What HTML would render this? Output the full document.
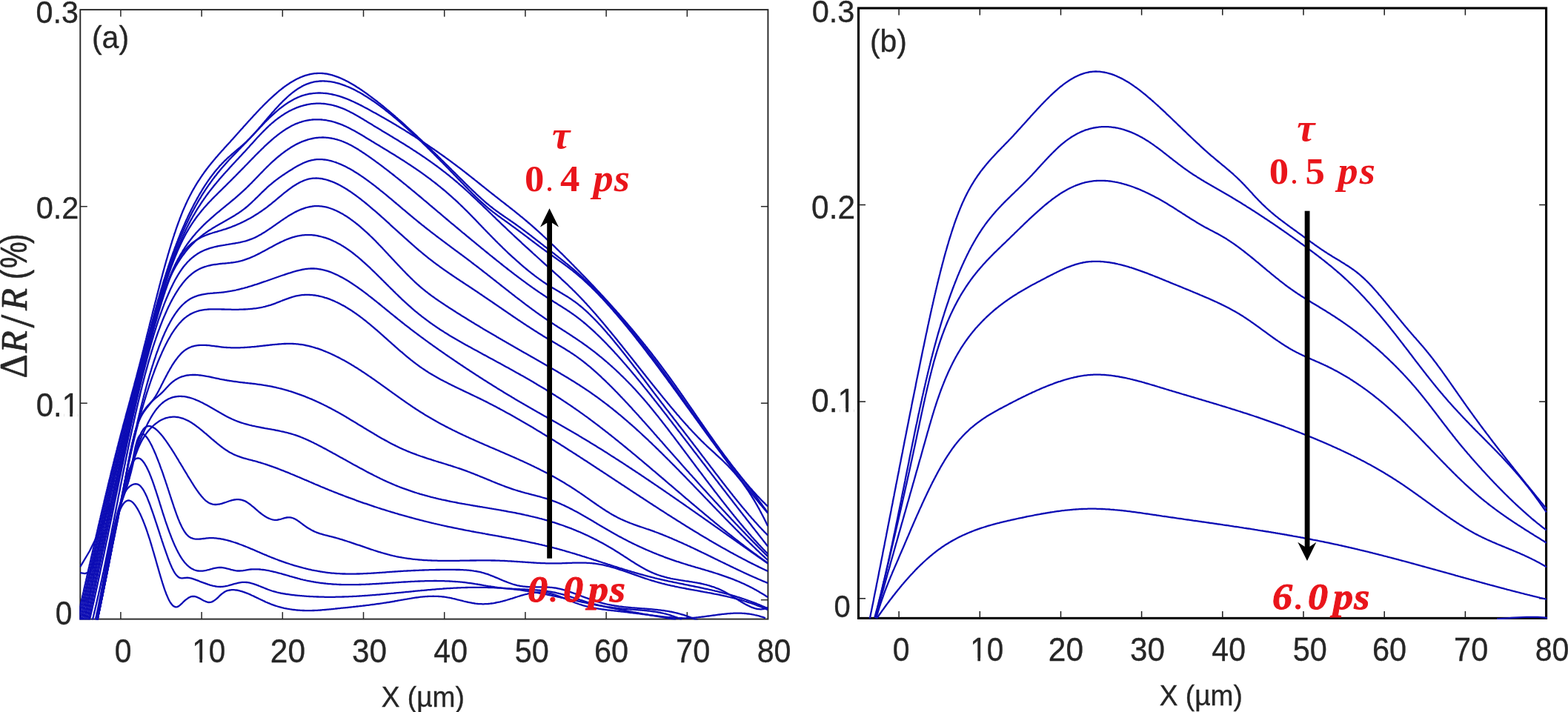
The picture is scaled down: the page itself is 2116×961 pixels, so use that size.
<!DOCTYPE html>
<html lang="en"><head><meta charset="utf-8"><title>Figure</title>
<style>
html,body{margin:0;padding:0;background:#fff;}
body{width:2116px;height:961px;overflow:hidden;position:relative;}
svg{position:absolute;left:0;top:0;display:block;}
text{font-family:"Liberation Sans",sans-serif;fill:#262626;}
.cv{fill:none;stroke:#0c0cb4;stroke-width:2.3;stroke-linejoin:round;stroke-linecap:butt;}
</style></head><body>
<svg width="2116" height="961" viewBox="0 0 2116 961">
<rect width="2116" height="961" fill="#ffffff"/>
<defs><clipPath id="cl"><rect x="107.3" y="13.1" width="929.3" height="823.5"/></clipPath><clipPath id="cr"><rect x="1158.5" y="11.0" width="929.6" height="824.9"/></clipPath></defs>
<rect x="108.3" y="13.1" width="928.1" height="822.5" fill="none" stroke="#262626" stroke-width="1.9"/>
<rect x="1158.5" y="11.0" width="928.1" height="823.4" fill="none" stroke="#000000" stroke-width="3.1"/>
<g stroke="#262626" stroke-width="1.5" fill="none"><line x1="162.9" y1="835.6" x2="162.9" y2="826.1"/><line x1="162.9" y1="13.1" x2="162.9" y2="22.6"/><line x1="272.1" y1="835.6" x2="272.1" y2="826.1"/><line x1="272.1" y1="13.1" x2="272.1" y2="22.6"/><line x1="381.3" y1="835.6" x2="381.3" y2="826.1"/><line x1="381.3" y1="13.1" x2="381.3" y2="22.6"/><line x1="490.5" y1="835.6" x2="490.5" y2="826.1"/><line x1="490.5" y1="13.1" x2="490.5" y2="22.6"/><line x1="599.7" y1="835.6" x2="599.7" y2="826.1"/><line x1="599.7" y1="13.1" x2="599.7" y2="22.6"/><line x1="708.9" y1="835.6" x2="708.9" y2="826.1"/><line x1="708.9" y1="13.1" x2="708.9" y2="22.6"/><line x1="818.1" y1="835.6" x2="818.1" y2="826.1"/><line x1="818.1" y1="13.1" x2="818.1" y2="22.6"/><line x1="927.3" y1="835.6" x2="927.3" y2="826.1"/><line x1="927.3" y1="13.1" x2="927.3" y2="22.6"/><line x1="108.3" y1="809.7" x2="117.8" y2="809.7"/><line x1="1036.4" y1="809.7" x2="1026.9" y2="809.7"/><line x1="108.3" y1="544.2" x2="117.8" y2="544.2"/><line x1="1036.4" y1="544.2" x2="1026.9" y2="544.2"/><line x1="108.3" y1="278.7" x2="117.8" y2="278.7"/><line x1="1036.4" y1="278.7" x2="1026.9" y2="278.7"/></g>
<g stroke="#1a1a1a" stroke-width="1.5" fill="none"><line x1="1213.1" y1="834.4" x2="1213.1" y2="824.9"/><line x1="1213.1" y1="11.0" x2="1213.1" y2="20.5"/><line x1="1322.3" y1="834.4" x2="1322.3" y2="824.9"/><line x1="1322.3" y1="11.0" x2="1322.3" y2="20.5"/><line x1="1431.5" y1="834.4" x2="1431.5" y2="824.9"/><line x1="1431.5" y1="11.0" x2="1431.5" y2="20.5"/><line x1="1540.6" y1="834.4" x2="1540.6" y2="824.9"/><line x1="1540.6" y1="11.0" x2="1540.6" y2="20.5"/><line x1="1649.8" y1="834.4" x2="1649.8" y2="824.9"/><line x1="1649.8" y1="11.0" x2="1649.8" y2="20.5"/><line x1="1759.0" y1="834.4" x2="1759.0" y2="824.9"/><line x1="1759.0" y1="11.0" x2="1759.0" y2="20.5"/><line x1="1868.2" y1="834.4" x2="1868.2" y2="824.9"/><line x1="1868.2" y1="11.0" x2="1868.2" y2="20.5"/><line x1="1977.4" y1="834.4" x2="1977.4" y2="824.9"/><line x1="1977.4" y1="11.0" x2="1977.4" y2="20.5"/><line x1="1158.5" y1="807.8" x2="1168.0" y2="807.8"/><line x1="2086.6" y1="807.8" x2="2077.1" y2="807.8"/><line x1="1158.5" y1="542.1" x2="1168.0" y2="542.1"/><line x1="2086.6" y1="542.1" x2="2077.1" y2="542.1"/><line x1="1158.5" y1="276.5" x2="1168.0" y2="276.5"/><line x1="2086.6" y1="276.5" x2="2077.1" y2="276.5"/></g>
<g class="cv" clip-path="url(#cl)">
<path d="M103.5 839.2L103.8 837.8L104.1 836.3L104.5 834.8L104.8 833.4L105.1 831.9L105.5 830.5L105.8 829.0L106.1 827.5L106.5 826.1L106.8 824.6L107.1 823.1L107.5 821.7L107.8 820.2L108.1 818.7L108.5 817.3L108.8 815.8L109.1 814.3L109.4 812.9L109.8 811.4L110.1 810.0L110.4 808.5L110.8 807.0L111.1 805.6L111.4 804.1L111.8 802.6L112.1 801.2L112.4 799.7L112.8 798.2L113.1 796.8L113.4 795.3L113.7 793.8L114.1 792.4L114.4 790.9L114.7 789.5L115.1 788.0L115.4 786.5L115.7 785.1L116.1 783.6L116.4 782.1L116.7 780.7L117.1 779.2L117.4 777.7L117.7 776.3L118.0 774.8L118.4 773.3L118.7 771.9L119.0 770.4L119.4 768.9L119.7 767.5L120.0 766.0L120.4 764.6L120.7 763.1L121.0 761.6L121.4 760.2L121.7 758.7L122.0 757.2L122.4 755.8L122.7 754.3L123.0 752.8L123.4 751.4L123.7 749.9L124.0 748.4L124.4 747.0L124.7 745.5L125.0 744.1L125.4 742.6L125.7 741.1L126.0 739.7L126.4 738.2L126.7 736.7L127.0 735.3L127.4 733.8L127.7 732.3L128.0 730.9L128.4 729.4L128.7 728.0L129.0 726.5L129.4 725.0L129.7 723.6L130.0 722.1L130.4 720.6L130.7 719.2L131.1 717.7L131.4 716.2L131.7 714.8L132.1 713.3L132.4 711.9L132.7 710.4L133.1 708.9L133.4 707.5L133.8 706.0L134.1 704.5L134.4 703.1L134.8 701.6L135.1 700.2L135.5 698.7L135.8 697.2L136.1 695.8L136.5 694.3L136.8 692.8L137.2 691.4L137.5 689.9L137.8 688.5L138.2 687.0L138.5 685.5L138.9 684.1L139.2 682.6L139.6 681.2L139.9 679.7L140.3 678.2L140.6 676.8L140.9 675.3L141.3 673.8L141.6 672.4L142.0 670.9L142.3 669.5L142.7 668.0L143.0 666.5L143.4 665.1L143.7 663.6L144.1 662.2L144.4 660.7L144.8 659.2L145.1 657.8L145.5 656.3L145.8 654.9L146.2 653.4L146.5 651.9L146.9 650.5L147.2 649.0L147.6 647.6L148.0 646.1L148.3 644.7L148.7 643.2L149.0 641.7L149.4 640.3L149.7 638.8L150.1 637.4L150.5 635.9L150.8 634.4L151.2 633.0L151.5 631.5L151.9 630.1L152.3 628.6L152.6 627.2L153.0 625.7L153.3 624.2L153.7 622.8L154.1 621.3L154.4 619.9L154.8 618.4L155.2 617.0L155.5 615.5L155.9 614.1L156.3 612.6L156.7 611.1L157.0 609.7L157.4 608.2L157.8 606.8L158.1 605.3L158.5 603.9L158.9 602.4L159.3 601.0L159.6 599.5L160.0 598.1L160.4 596.6L160.8 595.1L161.1 593.7L161.5 592.2L161.9 590.8L162.3 589.3L162.7 587.9L163.0 586.4L163.4 585.0L163.8 583.5L164.2 582.1L164.6 580.6L165.0 579.2L165.4 577.7L165.7 576.3L166.1 574.8L166.5 573.4L166.9 571.9L167.3 570.5L167.7 569.0L168.1 567.6L168.5 566.1L168.9 564.7L169.3 563.2L169.6 561.8L170.0 560.3L170.4 558.9L170.8 557.4L171.2 556.0L171.6 554.5L172.0 553.1L172.4 551.6L172.8 550.2L173.2 548.7L173.6 547.3L174.0 545.8L174.4 544.4L174.8 542.9L175.2 541.5L175.6 540.0L175.9 538.6L176.3 537.1L176.7 535.7L177.1 534.2L177.5 532.8L177.9 531.4L178.3 529.9L178.7 528.5L179.1 527.0L179.5 525.6L179.9 524.1L180.3 522.7L180.7 521.2L181.1 519.8L181.4 518.3L181.8 516.9L182.2 515.4L182.6 514.0L183.0 512.5L183.4 511.1L183.8 509.6L184.2 508.2L184.5 506.7L184.9 505.2L185.3 503.8L185.7 502.3L186.1 500.9L186.5 499.4L186.8 498.0L187.2 496.5L187.6 495.1L188.0 493.6L188.3 492.2L188.7 490.7L189.1 489.3L189.5 487.8L189.8 486.4L190.2 484.9L190.6 483.5L191.0 482.0L191.3 480.5L191.7 479.1L192.1 477.6L192.4 476.2L192.8 474.7L193.2 473.3L193.6 471.8L193.9 470.4L194.3 468.9L194.7 467.4L195.0 466.0L195.4 464.5L195.8 463.1L196.1 461.6L196.5 460.2L196.9 458.7L197.2 457.3L197.6 455.8L197.9 454.3L198.3 452.9L198.7 451.4L199.0 450.0L199.4 448.5L199.8 447.1L200.1 445.6L200.5 444.1L200.9 442.7L201.2 441.2L201.6 439.8L201.9 438.3L202.3 436.9L202.7 435.4L203.0 433.9L203.4 432.5L203.8 431.0L204.1 429.6L204.5 428.1L204.9 426.7L205.2 425.2L205.6 423.7L205.9 422.3L206.3 420.8L206.7 419.4L207.0 417.9L207.4 416.5L207.8 415.0L208.1 413.6L208.5 412.1L208.9 410.6L209.2 409.2L209.6 407.7L210.0 406.3L210.4 404.8L210.7 403.4L211.1 401.9L211.5 400.5L211.8 399.0L212.2 397.5L212.6 396.1L213.0 394.6L213.3 393.2L213.7 391.7L214.1 390.3L214.5 388.8L214.8 387.4L215.2 385.9L215.6 384.5L216.0 383.0L216.4 381.6L216.7 380.1L217.1 378.7L217.5 377.2L217.9 375.8L218.3 374.3L218.7 372.9L219.1 371.4L219.4 370.0L219.8 368.5L220.2 367.1L220.6 365.6L221.0 364.2L221.4 362.7L221.8 361.3L222.2 359.8L222.6 358.4L223.0 356.9L223.4 355.5L223.8 354.0L224.2 352.6L224.6 351.1L225.1 349.7L225.5 348.3L225.9 346.8L226.3 345.4L226.7 343.9L227.1 342.5L227.6 341.0L228.0 339.6L228.4 338.2L228.9 336.7L229.3 335.3L229.7 333.9L230.2 332.4L230.6 331.0L231.0 329.5L231.5 328.1L231.9 326.7L232.4 325.2L232.8 323.8L233.3 322.4L233.7 321.0L234.2 319.5L234.7 318.1L235.1 316.7L235.6 315.2L236.1 313.8L236.6 312.4L237.0 311.0L237.5 309.6L238.0 308.1L238.5 306.7L239.0 305.3L239.5 303.9L240.0 302.5L240.5 301.1L241.0 299.6L241.6 298.2L242.1 296.8L242.6 295.4L243.1 294.0L243.7 292.6L244.2 291.2L244.8 289.8L245.3 288.4L245.9 287.0L246.4 285.6L247.0 284.3L247.6 282.9L248.2 281.5L248.8 280.1L249.4 278.7L250.0 277.4L250.6 276.0L251.2 274.6L251.9 273.3L252.5 271.9L253.1 270.5L253.8 269.2L254.5 267.8L255.1 266.5L255.8 265.2L256.5 263.8L257.2 262.5L257.9 261.2L258.6 259.8L259.3 258.5L260.0 257.2L260.8 255.9L261.5 254.6L262.3 253.3L263.0 252.0L263.8 250.7L264.6 249.4L265.3 248.1L266.1 246.9L266.9 245.6L267.7 244.3L268.6 243.1L269.4 241.8L270.2 240.6L271.0 239.3L271.9 238.1L272.7 236.8L273.6 235.6L274.5 234.4L275.3 233.2L276.2 231.9L277.1 230.7L278.0 229.5L278.9 228.3L279.8 227.1L280.7 225.9L281.6 224.8L282.6 223.6L283.5 222.4L284.4 221.2L285.4 220.1L286.3 218.9L287.3 217.7L288.3 216.6L289.2 215.4L290.2 214.3L291.2 213.1L292.1 212.0L293.1 210.9L294.1 209.7L295.1 208.6L296.1 207.5L297.1 206.3L298.1 205.2L299.1 204.1L300.1 203.0L301.1 201.9L302.1 200.8L303.1 199.6L304.1 198.5L305.1 197.4L306.1 196.3L307.1 195.2L308.2 194.1L309.2 193.0L310.2 191.9L311.2 190.8L312.2 189.6L313.2 188.5L314.2 187.4L315.2 186.3L316.2 185.2L317.2 184.1L318.2 182.9L319.2 181.8L320.2 180.7L321.2 179.6L322.2 178.5L323.2 177.3L324.2 176.2L325.2 175.1L326.2 174.0L327.2 172.9L328.2 171.7L329.2 170.6L330.2 169.5L331.2 168.4L332.2 167.3L333.2 166.2L334.2 165.0L335.2 163.9L336.2 162.8L337.3 161.7L338.3 160.6L339.3 159.5L340.3 158.4L341.3 157.3L342.3 156.2L343.3 155.1L344.4 154.0L345.4 152.9L346.4 151.8L347.4 150.7L348.5 149.6L349.5 148.5L350.5 147.4L351.6 146.3L352.6 145.3L353.7 144.2L354.7 143.1L355.8 142.0L356.8 141.0L357.9 139.9L359.0 138.9L360.0 137.8L361.1 136.8L362.2 135.7L363.3 134.7L364.4 133.6L365.5 132.6L366.6 131.6L367.7 130.6L368.8 129.6L369.9 128.6L371.0 127.6L372.2 126.6L373.3 125.6L374.4 124.6L375.6 123.7L376.7 122.7L377.9 121.7L379.1 120.8L380.2 119.9L381.4 119.0L382.6 118.0L383.8 117.1L385.0 116.3L386.3 115.4L387.5 114.5L388.7 113.7L390.0 112.9L391.2 112.0L392.5 111.2L393.8 110.4L395.1 109.7L396.4 108.9L397.7 108.2L399.0 107.5L400.4 106.8L401.7 106.1L403.1 105.5L404.4 104.9L405.8 104.3L407.2 103.7L408.6 103.1L410.0 102.6L411.4 102.1L412.8 101.7L414.3 101.3L415.7 100.9L417.2 100.5L418.7 100.2L420.1 99.9L421.6 99.6L423.1 99.4L424.6 99.2L426.1 99.1L427.6 99.0L429.1 98.9L430.6 98.9L432.1 98.9L433.6 98.9L435.1 99.0L436.6 99.1L438.1 99.3L439.6 99.5L441.0 99.7L442.5 100.0L444.0 100.3L445.4 100.7L446.9 101.0L448.3 101.4L449.8 101.9L451.2 102.3L452.6 102.8L454.1 103.3L455.5 103.8L456.9 104.4L458.2 104.9L459.6 105.5L461.0 106.1L462.4 106.7L463.7 107.4L465.1 108.0L466.4 108.7L467.8 109.4L469.1 110.1L470.4 110.8L471.7 111.5L473.0 112.3L474.3 113.0L475.6 113.8L476.9 114.5L478.2 115.3L479.5 116.1L480.8 116.9L482.0 117.7L483.3 118.5L484.6 119.3L485.8 120.1L487.1 121.0L488.3 121.8L489.5 122.7L490.8 123.5L492.0 124.4L493.2 125.3L494.5 126.1L495.7 127.0L496.9 127.9L498.1 128.8L499.3 129.7L500.5 130.6L501.7 131.5L502.9 132.4L504.1 133.3L505.3 134.2L506.5 135.1L507.7 136.0L508.9 136.9L510.0 137.9L511.2 138.8L512.4 139.7L513.6 140.7L514.7 141.6L515.9 142.5L517.1 143.5L518.2 144.4L519.4 145.4L520.6 146.3L521.7 147.3L522.9 148.3L524.0 149.2L525.2 150.2L526.3 151.2L527.5 152.1L528.6 153.1L529.8 154.1L530.9 155.0L532.0 156.0L533.2 157.0L534.3 158.0L535.4 159.0L536.6 160.0L537.7 161.0L538.8 162.0L539.9 162.9L541.1 163.9L542.2 164.9L543.3 165.9L544.4 166.9L545.5 168.0L546.7 169.0L547.8 170.0L548.9 171.0L550.0 172.0L551.1 173.0L552.2 174.0L553.3 175.0L554.4 176.0L555.5 177.1L556.6 178.1L557.7 179.1L558.8 180.1L559.9 181.2L561.0 182.2L562.1 183.2L563.2 184.2L564.3 185.3L565.4 186.3L566.5 187.3L567.6 188.4L568.7 189.4L569.8 190.4L570.8 191.5L571.9 192.5L573.0 193.5L574.1 194.6L575.2 195.6L576.3 196.6L577.3 197.7L578.4 198.7L579.5 199.8L580.6 200.8L581.7 201.9L582.7 202.9L583.8 204.0L584.9 205.0L586.0 206.0L587.1 207.1L588.1 208.1L589.2 209.2L590.3 210.2L591.3 211.3L592.4 212.3L593.5 213.4L594.6 214.4L595.6 215.5L596.7 216.5L597.8 217.6L598.8 218.7L599.9 219.7L601.0 220.8L602.1 221.8L603.1 222.9L604.2 223.9L605.3 225.0L606.3 226.0L607.4 227.1L608.5 228.1L609.5 229.2L610.6 230.3L611.7 231.3L612.7 232.4L613.8 233.4L614.9 234.5L615.9 235.5L617.0 236.6L618.1 237.7L619.1 238.7L620.2 239.8L621.3 240.8L622.3 241.9L623.4 242.9L624.5 244.0L625.5 245.1L626.6 246.1L627.7 247.2L628.7 248.2L629.8 249.3L630.9 250.3L631.9 251.4L633.0 252.4L634.1 253.5L635.2 254.5L636.3 255.6L637.3 256.6L638.4 257.6L639.5 258.7L640.6 259.7L641.7 260.7L642.8 261.8L643.9 262.8L645.0 263.8L646.1 264.8L647.2 265.8L648.3 266.9L649.4 267.9L650.5 268.9L651.7 269.9L652.8 270.9L653.9 271.8L655.0 272.8L656.2 273.8L657.3 274.8L658.5 275.7L659.6 276.7L660.8 277.6L662.0 278.6L663.2 279.5L664.3 280.4L665.5 281.4L666.7 282.3L667.9 283.2L669.1 284.1L670.3 285.0L671.5 285.8L672.8 286.7L674.0 287.6L675.2 288.5L676.4 289.3L677.7 290.2L678.9 291.0L680.1 291.9L681.4 292.7L682.6 293.6L683.8 294.4L685.1 295.3L686.3 296.1L687.6 297.0L688.8 297.8L690.0 298.7L691.3 299.5L692.5 300.4L693.7 301.3L695.0 302.1L696.2 303.0L697.4 303.9L698.6 304.7L699.8 305.6L701.1 306.5L702.3 307.4L703.5 308.3L704.7 309.2L705.9 310.1L707.1 311.0L708.3 311.9L709.5 312.8L710.7 313.7L711.9 314.6L713.1 315.5L714.3 316.4L715.5 317.3L716.7 318.2L717.8 319.2L719.0 320.1L720.2 321.0L721.4 321.9L722.6 322.8L723.8 323.8L725.0 324.7L726.1 325.6L727.3 326.5L728.5 327.4L729.7 328.4L730.9 329.3L732.1 330.2L733.2 331.1L734.4 332.1L735.6 333.0L736.8 333.9L738.0 334.8L739.2 335.8L740.4 336.7L741.5 337.6L742.7 338.5L743.9 339.5L745.1 340.4L746.3 341.3L747.5 342.2L748.6 343.1L749.8 344.1L751.0 345.0L752.2 345.9L753.4 346.9L754.6 347.8L755.7 348.7L756.9 349.6L758.1 350.6L759.3 351.5L760.4 352.5L761.6 353.4L762.8 354.3L763.9 355.3L765.1 356.2L766.3 357.2L767.4 358.1L768.6 359.1L769.7 360.1L770.9 361.0L772.0 362.0L773.2 363.0L774.3 363.9L775.4 364.9L776.6 365.9L777.7 366.9L778.8 367.9L780.0 368.9L781.1 369.9L782.2 370.9L783.3 371.9L784.4 372.9L785.5 373.9L786.6 374.9L787.7 376.0L788.8 377.0L789.9 378.0L791.0 379.1L792.1 380.1L793.2 381.1L794.3 382.2L795.3 383.2L796.4 384.3L797.5 385.3L798.5 386.4L799.6 387.4L800.7 388.5L801.7 389.6L802.8 390.6L803.8 391.7L804.9 392.8L805.9 393.8L807.0 394.9L808.0 396.0L809.1 397.1L810.1 398.2L811.1 399.3L812.2 400.3L813.2 401.4L814.2 402.5L815.3 403.6L816.3 404.7L817.3 405.8L818.3 406.9L819.3 408.0L820.3 409.1L821.4 410.3L822.4 411.4L823.4 412.5L824.4 413.6L825.4 414.7L826.4 415.8L827.4 417.0L828.4 418.1L829.4 419.2L830.4 420.3L831.3 421.5L832.3 422.6L833.3 423.7L834.3 424.9L835.3 426.0L836.3 427.1L837.2 428.3L838.2 429.4L839.2 430.6L840.2 431.7L841.1 432.9L842.1 434.0L843.1 435.1L844.0 436.3L845.0 437.4L846.0 438.6L846.9 439.8L847.9 440.9L848.8 442.1L849.8 443.2L850.7 444.4L851.7 445.6L852.6 446.7L853.6 447.9L854.5 449.0L855.5 450.2L856.4 451.4L857.4 452.6L858.3 453.7L859.2 454.9L860.2 456.1L861.1 457.2L862.0 458.4L863.0 459.6L863.9 460.8L864.8 461.9L865.8 463.1L866.7 464.3L867.6 465.5L868.5 466.7L869.5 467.9L870.4 469.0L871.3 470.2L872.2 471.4L873.1 472.6L874.1 473.8L875.0 475.0L875.9 476.2L876.8 477.4L877.7 478.6L878.6 479.8L879.5 481.0L880.4 482.2L881.3 483.3L882.2 484.5L883.2 485.7L884.1 486.9L885.0 488.1L885.9 489.3L886.8 490.5L887.7 491.8L888.6 493.0L889.4 494.2L890.3 495.4L891.2 496.6L892.1 497.8L893.0 499.0L893.9 500.2L894.8 501.4L895.7 502.6L896.6 503.8L897.5 505.0L898.3 506.3L899.2 507.5L900.1 508.7L901.0 509.9L901.9 511.1L902.8 512.3L903.6 513.5L904.5 514.8L905.4 516.0L906.3 517.2L907.1 518.4L908.0 519.6L908.9 520.9L909.8 522.1L910.6 523.3L911.5 524.5L912.4 525.7L913.3 527.0L914.1 528.2L915.0 529.4L915.9 530.6L916.7 531.9L917.6 533.1L918.5 534.3L919.3 535.5L920.2 536.8L921.1 538.0L921.9 539.2L922.8 540.4L923.7 541.7L924.5 542.9L925.4 544.1L926.3 545.3L927.1 546.6L928.0 547.8L928.9 549.0L929.7 550.3L930.6 551.5L931.5 552.7L932.3 553.9L933.2 555.2L934.1 556.4L934.9 557.6L935.8 558.8L936.7 560.1L937.5 561.3L938.4 562.5L939.3 563.7L940.2 565.0L941.0 566.2L941.9 567.4L942.8 568.6L943.6 569.8L944.5 571.1L945.4 572.3L946.3 573.5L947.1 574.7L948.0 575.9L948.9 577.2L949.8 578.4L950.6 579.6L951.5 580.8L952.4 582.0L953.3 583.3L954.2 584.5L955.0 585.7L955.9 586.9L956.8 588.1L957.7 589.3L958.6 590.5L959.5 591.7L960.4 592.9L961.3 594.2L962.2 595.4L963.1 596.6L964.0 597.8L964.9 599.0L965.8 600.2L966.7 601.4L967.6 602.6L968.5 603.8L969.4 605.0L970.3 606.2L971.2 607.4L972.1 608.5L973.0 609.7L973.9 610.9L974.8 612.1L975.8 613.3L976.7 614.5L977.6 615.7L978.5 616.9L979.4 618.1L980.4 619.2L981.3 620.4L982.2 621.6L983.1 622.8L984.1 624.0L985.0 625.2L985.9 626.3L986.8 627.5L987.8 628.7L988.7 629.9L989.6 631.1L990.6 632.2L991.5 633.4L992.4 634.6L993.3 635.8L994.3 637.0L995.2 638.1L996.1 639.3L997.1 640.5L998.0 641.7L998.9 642.9L999.8 644.0L1000.8 645.2L1001.7 646.4L1002.6 647.6L1003.6 648.8L1004.5 649.9L1005.4 651.1L1006.3 652.3L1007.3 653.5L1008.2 654.7L1009.1 655.9L1010.0 657.0L1010.9 658.2L1011.9 659.4L1012.8 660.6L1013.7 661.8L1014.6 663.0L1015.5 664.2L1016.4 665.4L1017.3 666.6L1018.3 667.8L1019.2 669.0L1020.1 670.1L1021.0 671.3L1021.9 672.5L1022.8 673.7L1023.7 674.9L1024.6 676.1L1025.5 677.4L1026.4 678.6L1027.3 679.8L1028.2 681.0L1029.0 682.2L1029.9 683.4L1030.8 684.6L1031.7 685.8L1032.6 687.0L1033.5 688.3L1034.3 689.5L1035.2 690.7L1036.1 691.9"/>
<path d="M105.6 839.1L105.9 837.6L106.3 836.2L106.6 834.7L106.9 833.2L107.3 831.8L107.6 830.3L107.9 828.8L108.3 827.4L108.6 825.9L108.9 824.5L109.3 823.0L109.6 821.5L109.9 820.1L110.3 818.6L110.6 817.1L110.9 815.7L111.3 814.2L111.6 812.7L111.9 811.3L112.3 809.8L112.6 808.4L112.9 806.9L113.3 805.4L113.6 804.0L113.9 802.5L114.3 801.0L114.6 799.6L114.9 798.1L115.2 796.6L115.6 795.2L115.9 793.7L116.2 792.2L116.6 790.8L116.9 789.3L117.2 787.8L117.6 786.4L117.9 784.9L118.2 783.5L118.5 782.0L118.9 780.5L119.2 779.1L119.5 777.6L119.9 776.1L120.2 774.7L120.5 773.2L120.8 771.7L121.2 770.3L121.5 768.8L121.8 767.3L122.2 765.9L122.5 764.4L122.8 762.9L123.1 761.5L123.5 760.0L123.8 758.5L124.1 757.1L124.4 755.6L124.8 754.1L125.1 752.7L125.4 751.2L125.8 749.8L126.1 748.3L126.4 746.8L126.7 745.4L127.1 743.9L127.4 742.4L127.7 741.0L128.1 739.5L128.4 738.0L128.7 736.6L129.0 735.1L129.4 733.6L129.7 732.2L130.0 730.7L130.4 729.2L130.7 727.8L131.0 726.3L131.4 724.8L131.7 723.4L132.0 721.9L132.3 720.5L132.7 719.0L133.0 717.5L133.3 716.1L133.7 714.6L134.0 713.1L134.3 711.7L134.7 710.2L135.0 708.7L135.3 707.3L135.7 705.8L136.0 704.3L136.3 702.9L136.7 701.4L137.0 700.0L137.3 698.5L137.7 697.0L138.0 695.6L138.3 694.1L138.7 692.6L139.0 691.2L139.3 689.7L139.7 688.2L140.0 686.8L140.4 685.3L140.7 683.9L141.0 682.4L141.4 680.9L141.7 679.5L142.0 678.0L142.4 676.5L142.7 675.1L143.1 673.6L143.4 672.2L143.7 670.7L144.1 669.2L144.4 667.8L144.8 666.3L145.1 664.8L145.5 663.4L145.8 661.9L146.1 660.5L146.5 659.0L146.8 657.5L147.2 656.1L147.5 654.6L147.9 653.2L148.2 651.7L148.6 650.2L148.9 648.8L149.3 647.3L149.6 645.9L150.0 644.4L150.3 642.9L150.7 641.5L151.0 640.0L151.4 638.6L151.7 637.1L152.1 635.6L152.4 634.2L152.8 632.7L153.2 631.3L153.5 629.8L153.9 628.3L154.2 626.9L154.6 625.4L154.9 624.0L155.3 622.5L155.7 621.1L156.0 619.6L156.4 618.1L156.8 616.7L157.1 615.2L157.5 613.8L157.9 612.3L158.2 610.9L158.6 609.4L159.0 608.0L159.3 606.5L159.7 605.0L160.1 603.6L160.4 602.1L160.8 600.7L161.2 599.2L161.6 597.8L161.9 596.3L162.3 594.9L162.7 593.4L163.1 592.0L163.4 590.5L163.8 589.0L164.2 587.6L164.6 586.1L165.0 584.7L165.3 583.2L165.7 581.8L166.1 580.3L166.5 578.9L166.9 577.4L167.2 576.0L167.6 574.5L168.0 573.1L168.4 571.6L168.8 570.2L169.2 568.7L169.6 567.3L169.9 565.8L170.3 564.4L170.7 562.9L171.1 561.5L171.5 560.0L171.9 558.6L172.3 557.1L172.7 555.7L173.1 554.2L173.4 552.8L173.8 551.3L174.2 549.9L174.6 548.4L175.0 547.0L175.4 545.5L175.8 544.1L176.2 542.6L176.6 541.2L177.0 539.7L177.4 538.3L177.8 536.8L178.2 535.4L178.5 533.9L178.9 532.5L179.3 531.0L179.7 529.6L180.1 528.1L180.5 526.7L180.9 525.2L181.3 523.8L181.7 522.3L182.1 520.9L182.5 519.4L182.9 518.0L183.3 516.5L183.7 515.1L184.1 513.6L184.5 512.2L184.8 510.7L185.2 509.3L185.6 507.8L186.0 506.4L186.4 504.9L186.8 503.5L187.2 502.0L187.6 500.6L188.0 499.1L188.4 497.7L188.8 496.3L189.2 494.8L189.6 493.4L189.9 491.9L190.3 490.5L190.7 489.0L191.1 487.6L191.5 486.1L191.9 484.7L192.3 483.2L192.7 481.8L193.1 480.3L193.5 478.9L193.8 477.4L194.2 476.0L194.6 474.5L195.0 473.0L195.4 471.6L195.8 470.1L196.2 468.7L196.5 467.2L196.9 465.8L197.3 464.3L197.7 462.9L198.1 461.4L198.5 460.0L198.8 458.5L199.2 457.1L199.6 455.6L200.0 454.2L200.4 452.7L200.8 451.3L201.2 449.8L201.5 448.4L201.9 446.9L202.3 445.5L202.7 444.0L203.1 442.6L203.5 441.1L203.8 439.7L204.2 438.2L204.6 436.8L205.0 435.3L205.4 433.9L205.8 432.4L206.2 431.0L206.6 429.5L207.0 428.1L207.3 426.6L207.7 425.2L208.1 423.7L208.5 422.3L208.9 420.8L209.3 419.4L209.7 417.9L210.1 416.5L210.5 415.0L210.9 413.6L211.3 412.1L211.7 410.7L212.1 409.2L212.5 407.8L212.9 406.3L213.3 404.9L213.7 403.5L214.2 402.0L214.6 400.6L215.0 399.1L215.4 397.7L215.8 396.2L216.2 394.8L216.7 393.4L217.1 391.9L217.5 390.5L217.9 389.0L218.4 387.6L218.8 386.2L219.2 384.7L219.7 383.3L220.1 381.9L220.5 380.4L221.0 379.0L221.4 377.5L221.9 376.1L222.3 374.7L222.8 373.3L223.2 371.8L223.7 370.4L224.1 369.0L224.6 367.5L225.1 366.1L225.5 364.7L226.0 363.2L226.5 361.8L226.9 360.4L227.4 359.0L227.9 357.5L228.4 356.1L228.9 354.7L229.3 353.3L229.8 351.9L230.3 350.4L230.8 349.0L231.3 347.6L231.8 346.2L232.3 344.8L232.8 343.4L233.3 342.0L233.8 340.5L234.4 339.1L234.9 337.7L235.4 336.3L235.9 334.9L236.4 333.5L237.0 332.1L237.5 330.7L238.0 329.3L238.6 327.9L239.1 326.5L239.7 325.1L240.2 323.7L240.8 322.3L241.3 320.9L241.9 319.5L242.4 318.1L243.0 316.7L243.6 315.3L244.1 313.9L244.7 312.6L245.3 311.2L245.9 309.8L246.5 308.4L247.1 307.0L247.7 305.6L248.3 304.3L248.9 302.9L249.5 301.5L250.1 300.1L250.7 298.8L251.3 297.4L251.9 296.0L252.6 294.7L253.2 293.3L253.8 292.0L254.5 290.6L255.1 289.2L255.8 287.9L256.4 286.5L257.1 285.2L257.7 283.8L258.4 282.5L259.1 281.2L259.8 279.8L260.5 278.5L261.1 277.2L261.8 275.8L262.5 274.5L263.2 273.2L264.0 271.8L264.7 270.5L265.4 269.2L266.1 267.9L266.8 266.6L267.6 265.3L268.3 264.0L269.1 262.7L269.8 261.4L270.6 260.1L271.4 258.8L272.2 257.5L272.9 256.2L273.7 255.0L274.5 253.7L275.3 252.4L276.1 251.1L276.9 249.9L277.8 248.6L278.6 247.4L279.4 246.1L280.3 244.9L281.1 243.7L282.0 242.4L282.9 241.2L283.7 240.0L284.6 238.8L285.5 237.6L286.4 236.4L287.3 235.2L288.3 234.0L289.2 232.8L290.1 231.6L291.1 230.5L292.0 229.3L293.0 228.2L294.0 227.0L295.0 225.9L295.9 224.8L296.9 223.6L298.0 222.5L299.0 221.4L300.0 220.3L301.1 219.3L302.1 218.2L303.2 217.1L304.3 216.1L305.4 215.1L306.4 214.0L307.5 213.0L308.7 212.0L309.8 211.0L310.9 210.0L312.0 209.0L313.2 208.0L314.3 207.1L315.4 206.1L316.6 205.1L317.7 204.1L318.9 203.2L320.0 202.2L321.2 201.2L322.3 200.2L323.5 199.3L324.6 198.3L325.7 197.3L326.9 196.3L328.0 195.3L329.1 194.3L330.2 193.3L331.3 192.3L332.4 191.3L333.5 190.2L334.6 189.2L335.6 188.1L336.7 187.1L337.7 186.0L338.8 184.9L339.8 183.8L340.8 182.7L341.9 181.6L342.9 180.5L343.9 179.4L344.9 178.3L345.9 177.2L346.9 176.0L347.9 174.9L348.9 173.8L349.8 172.6L350.8 171.5L351.8 170.4L352.8 169.2L353.8 168.1L354.7 166.9L355.7 165.8L356.7 164.7L357.6 163.5L358.6 162.4L359.6 161.2L360.6 160.1L361.5 158.9L362.5 157.8L363.5 156.7L364.5 155.5L365.5 154.4L366.4 153.3L367.4 152.1L368.4 151.0L369.4 149.9L370.4 148.7L371.4 147.6L372.4 146.5L373.4 145.4L374.5 144.3L375.5 143.2L376.5 142.1L377.5 141.0L378.6 139.9L379.6 138.9L380.7 137.8L381.7 136.7L382.8 135.7L383.9 134.6L385.0 133.6L386.1 132.6L387.2 131.5L388.3 130.5L389.4 129.5L390.5 128.5L391.7 127.6L392.8 126.6L394.0 125.7L395.2 124.7L396.4 123.8L397.6 122.9L398.8 122.0L400.0 121.2L401.2 120.3L402.5 119.5L403.8 118.7L405.1 117.9L406.4 117.2L407.7 116.4L409.0 115.8L410.3 115.1L411.7 114.5L413.1 113.9L414.5 113.3L415.9 112.8L417.3 112.3L418.7 111.9L420.2 111.4L421.6 111.1L423.1 110.7L424.6 110.4L426.1 110.2L427.5 110.0L429.0 109.8L430.5 109.6L432.0 109.5L433.5 109.5L435.0 109.4L436.5 109.4L438.0 109.5L439.5 109.6L441.0 109.7L442.5 109.8L444.0 110.0L445.5 110.2L447.0 110.4L448.5 110.6L449.9 110.9L451.4 111.2L452.9 111.6L454.3 111.9L455.8 112.3L457.2 112.7L458.7 113.2L460.1 113.6L461.5 114.1L462.9 114.6L464.4 115.1L465.8 115.6L467.2 116.2L468.5 116.7L469.9 117.3L471.3 117.9L472.7 118.5L474.0 119.1L475.4 119.8L476.8 120.4L478.1 121.1L479.4 121.8L480.8 122.5L482.1 123.2L483.4 123.9L484.7 124.6L486.0 125.3L487.3 126.1L488.6 126.8L489.9 127.6L491.2 128.4L492.5 129.2L493.8 130.0L495.1 130.8L496.3 131.6L497.6 132.4L498.8 133.2L500.1 134.0L501.3 134.9L502.6 135.7L503.8 136.5L505.1 137.4L506.3 138.3L507.5 139.1L508.7 140.0L510.0 140.9L511.2 141.8L512.4 142.7L513.6 143.6L514.8 144.5L516.0 145.4L517.2 146.3L518.4 147.2L519.6 148.1L520.7 149.0L521.9 150.0L523.1 150.9L524.3 151.8L525.4 152.8L526.6 153.7L527.8 154.7L528.9 155.6L530.1 156.6L531.2 157.5L532.4 158.5L533.5 159.4L534.7 160.4L535.8 161.4L537.0 162.4L538.1 163.3L539.3 164.3L540.4 165.3L541.5 166.3L542.6 167.3L543.8 168.3L544.9 169.3L546.0 170.3L547.1 171.3L548.3 172.3L549.4 173.3L550.5 174.3L551.6 175.3L552.7 176.3L553.8 177.3L554.9 178.3L556.0 179.4L557.1 180.4L558.2 181.4L559.3 182.4L560.4 183.5L561.5 184.5L562.6 185.5L563.7 186.6L564.8 187.6L565.9 188.6L566.9 189.7L568.0 190.7L569.1 191.7L570.2 192.8L571.3 193.8L572.3 194.9L573.4 195.9L574.5 197.0L575.6 198.0L576.6 199.1L577.7 200.1L578.8 201.2L579.9 202.2L580.9 203.3L582.0 204.3L583.1 205.4L584.1 206.5L585.2 207.5L586.2 208.6L587.3 209.6L588.4 210.7L589.4 211.8L590.5 212.8L591.5 213.9L592.6 215.0L593.6 216.0L594.7 217.1L595.8 218.2L596.8 219.2L597.9 220.3L598.9 221.4L600.0 222.5L601.0 223.5L602.1 224.6L603.1 225.7L604.2 226.8L605.2 227.8L606.3 228.9L607.3 230.0L608.3 231.1L609.4 232.1L610.4 233.2L611.5 234.3L612.5 235.4L613.6 236.5L614.6 237.5L615.7 238.6L616.7 239.7L617.7 240.8L618.8 241.9L619.8 242.9L620.9 244.0L621.9 245.1L623.0 246.2L624.0 247.3L625.0 248.3L626.1 249.4L627.1 250.5L628.2 251.6L629.2 252.7L630.3 253.7L631.3 254.8L632.4 255.9L633.4 257.0L634.5 258.0L635.5 259.1L636.6 260.2L637.6 261.2L638.7 262.3L639.8 263.3L640.8 264.4L641.9 265.5L643.0 266.5L644.1 267.5L645.1 268.6L646.2 269.6L647.3 270.7L648.4 271.7L649.5 272.7L650.6 273.7L651.7 274.7L652.8 275.7L654.0 276.7L655.1 277.7L656.2 278.7L657.4 279.7L658.5 280.6L659.7 281.6L660.9 282.5L662.0 283.5L663.2 284.4L664.4 285.3L665.6 286.3L666.8 287.2L668.0 288.1L669.2 289.0L670.4 289.9L671.6 290.8L672.8 291.7L674.0 292.5L675.2 293.4L676.4 294.3L677.6 295.2L678.9 296.1L680.1 296.9L681.3 297.8L682.5 298.7L683.7 299.6L685.0 300.4L686.2 301.3L687.4 302.2L688.6 303.1L689.8 304.0L691.0 304.9L692.2 305.7L693.4 306.6L694.7 307.5L695.9 308.4L697.1 309.3L698.3 310.2L699.5 311.1L700.7 312.0L701.9 312.9L703.1 313.8L704.3 314.7L705.5 315.6L706.7 316.5L707.9 317.4L709.1 318.3L710.3 319.2L711.5 320.1L712.7 321.0L713.9 322.0L715.1 322.9L716.3 323.8L717.5 324.7L718.7 325.6L719.9 326.5L721.1 327.4L722.3 328.3L723.5 329.2L724.7 330.1L725.9 331.0L727.1 331.9L728.3 332.8L729.5 333.7L730.7 334.6L731.9 335.5L733.1 336.3L734.3 337.2L735.5 338.1L736.7 339.0L737.9 339.9L739.2 340.8L740.4 341.6L741.6 342.5L742.8 343.4L744.0 344.3L745.3 345.1L746.5 346.0L747.7 346.9L748.9 347.8L750.2 348.6L751.4 349.5L752.6 350.4L753.8 351.2L755.0 352.1L756.3 353.0L757.5 353.9L758.7 354.7L759.9 355.6L761.1 356.5L762.3 357.4L763.5 358.3L764.7 359.2L765.9 360.1L767.1 361.0L768.3 361.9L769.5 362.8L770.7 363.8L771.9 364.7L773.1 365.6L774.2 366.5L775.4 367.5L776.6 368.4L777.7 369.4L778.9 370.4L780.0 371.3L781.2 372.3L782.3 373.3L783.5 374.3L784.6 375.2L785.7 376.2L786.8 377.2L787.9 378.2L789.1 379.3L790.2 380.3L791.3 381.3L792.4 382.3L793.4 383.4L794.5 384.4L795.6 385.4L796.7 386.5L797.8 387.5L798.8 388.6L799.9 389.6L801.0 390.7L802.0 391.7L803.1 392.8L804.2 393.9L805.2 394.9L806.3 396.0L807.3 397.1L808.3 398.2L809.4 399.3L810.4 400.4L811.4 401.5L812.5 402.5L813.5 403.6L814.5 404.7L815.5 405.8L816.6 407.0L817.6 408.1L818.6 409.2L819.6 410.3L820.6 411.4L821.6 412.5L822.6 413.6L823.6 414.8L824.6 415.9L825.6 417.0L826.6 418.1L827.6 419.3L828.5 420.4L829.5 421.5L830.5 422.7L831.5 423.8L832.5 424.9L833.4 426.1L834.4 427.2L835.4 428.4L836.4 429.5L837.3 430.7L838.3 431.8L839.3 433.0L840.2 434.1L841.2 435.3L842.1 436.4L843.1 437.6L844.0 438.8L845.0 439.9L845.9 441.1L846.9 442.2L847.8 443.4L848.8 444.6L849.7 445.7L850.7 446.9L851.6 448.1L852.6 449.2L853.5 450.4L854.4 451.6L855.4 452.8L856.3 453.9L857.2 455.1L858.2 456.3L859.1 457.5L860.0 458.7L860.9 459.8L861.9 461.0L862.8 462.2L863.7 463.4L864.6 464.6L865.6 465.8L866.5 466.9L867.4 468.1L868.3 469.3L869.2 470.5L870.2 471.7L871.1 472.9L872.0 474.1L872.9 475.3L873.8 476.5L874.7 477.7L875.6 478.9L876.5 480.0L877.4 481.2L878.4 482.4L879.3 483.6L880.2 484.8L881.1 486.0L882.0 487.2L882.9 488.4L883.8 489.6L884.7 490.8L885.6 492.0L886.5 493.2L887.4 494.4L888.3 495.6L889.2 496.9L890.1 498.1L891.0 499.3L891.9 500.5L892.7 501.7L893.6 502.9L894.5 504.1L895.4 505.3L896.3 506.5L897.2 507.7L898.1 508.9L899.0 510.1L899.9 511.3L900.8 512.5L901.7 513.8L902.5 515.0L903.4 516.2L904.3 517.4L905.2 518.6L906.1 519.8L907.0 521.0L907.9 522.2L908.7 523.5L909.6 524.7L910.5 525.9L911.4 527.1L912.3 528.3L913.2 529.5L914.1 530.7L914.9 531.9L915.8 533.2L916.7 534.4L917.6 535.6L918.5 536.8L919.3 538.0L920.2 539.2L921.1 540.5L922.0 541.7L922.9 542.9L923.7 544.1L924.6 545.3L925.5 546.5L926.4 547.8L927.3 549.0L928.1 550.2L929.0 551.4L929.9 552.6L930.8 553.8L931.7 555.1L932.5 556.3L933.4 557.5L934.3 558.7L935.2 559.9L936.1 561.1L936.9 562.4L937.8 563.6L938.7 564.8L939.6 566.0L940.5 567.2L941.3 568.4L942.2 569.7L943.1 570.9L944.0 572.1L944.9 573.3L945.7 574.5L946.6 575.7L947.5 577.0L948.4 578.2L949.3 579.4L950.1 580.6L951.0 581.8L951.9 583.0L952.8 584.3L953.7 585.5L954.5 586.7L955.4 587.9L956.3 589.1L957.2 590.3L958.1 591.5L959.0 592.8L959.8 594.0L960.7 595.2L961.6 596.4L962.5 597.6L963.4 598.8L964.3 600.0L965.2 601.2L966.0 602.5L966.9 603.7L967.8 604.9L968.7 606.1L969.6 607.3L970.5 608.5L971.4 609.7L972.3 610.9L973.2 612.1L974.1 613.3L974.9 614.5L975.8 615.8L976.7 617.0L977.6 618.2L978.5 619.4L979.4 620.6L980.3 621.8L981.2 623.0L982.1 624.2L983.0 625.4L983.9 626.6L984.8 627.8L985.7 629.0L986.6 630.2L987.5 631.4L988.4 632.6L989.3 633.8L990.2 635.0L991.1 636.2L992.0 637.4L992.9 638.6L993.9 639.8L994.8 641.0L995.7 642.2L996.6 643.4L997.5 644.5L998.4 645.7L999.3 646.9L1000.2 648.1L1001.2 649.3L1002.1 650.5L1003.0 651.7L1003.9 652.9L1004.8 654.1L1005.8 655.2L1006.7 656.4L1007.6 657.6L1008.5 658.8L1009.5 660.0L1010.4 661.1L1011.3 662.3L1012.3 663.5L1013.2 664.7L1014.1 665.9L1015.1 667.0L1016.0 668.2L1017.0 669.4L1017.9 670.5L1018.8 671.7L1019.8 672.9L1020.7 674.0L1021.7 675.2L1022.6 676.4L1023.6 677.5L1024.5 678.7L1025.5 679.9L1026.4 681.0L1027.4 682.2L1028.4 683.3L1029.3 684.5L1030.3 685.6L1031.2 686.8L1032.2 687.9L1033.2 689.1L1034.2 690.2L1035.1 691.4L1036.1 692.5"/>
<path d="M107.8 839.6L108.1 838.1L108.5 836.7L108.8 835.2L109.1 833.7L109.4 832.3L109.7 830.8L110.1 829.3L110.4 827.9L110.7 826.4L111.0 824.9L111.4 823.5L111.7 822.0L112.0 820.5L112.3 819.1L112.6 817.6L113.0 816.1L113.3 814.7L113.6 813.2L113.9 811.7L114.2 810.3L114.6 808.8L114.9 807.3L115.2 805.9L115.5 804.4L115.9 802.9L116.2 801.5L116.5 800.0L116.8 798.5L117.1 797.1L117.5 795.6L117.8 794.1L118.1 792.7L118.4 791.2L118.8 789.7L119.1 788.3L119.4 786.8L119.7 785.3L120.0 783.9L120.4 782.4L120.7 780.9L121.0 779.5L121.3 778.0L121.7 776.5L122.0 775.1L122.3 773.6L122.6 772.1L122.9 770.7L123.3 769.2L123.6 767.7L123.9 766.3L124.2 764.8L124.6 763.3L124.9 761.9L125.2 760.4L125.5 758.9L125.9 757.5L126.2 756.0L126.5 754.5L126.8 753.1L127.2 751.6L127.5 750.1L127.8 748.7L128.1 747.2L128.5 745.7L128.8 744.3L129.1 742.8L129.4 741.3L129.8 739.9L130.1 738.4L130.4 736.9L130.7 735.5L131.1 734.0L131.4 732.5L131.7 731.1L132.1 729.6L132.4 728.1L132.7 726.7L133.0 725.2L133.4 723.7L133.7 722.3L134.0 720.8L134.4 719.3L134.7 717.9L135.0 716.4L135.4 714.9L135.7 713.5L136.0 712.0L136.4 710.6L136.7 709.1L137.0 707.6L137.4 706.2L137.7 704.7L138.0 703.2L138.4 701.8L138.7 700.3L139.0 698.8L139.4 697.4L139.7 695.9L140.0 694.4L140.4 693.0L140.7 691.5L141.0 690.1L141.4 688.6L141.7 687.1L142.1 685.7L142.4 684.2L142.7 682.7L143.1 681.3L143.4 679.8L143.7 678.4L144.1 676.9L144.4 675.4L144.8 674.0L145.1 672.5L145.5 671.0L145.8 669.6L146.1 668.1L146.5 666.7L146.8 665.2L147.2 663.7L147.5 662.3L147.9 660.8L148.2 659.3L148.6 657.9L148.9 656.4L149.3 655.0L149.6 653.5L150.0 652.0L150.3 650.6L150.7 649.1L151.0 647.7L151.4 646.2L151.7 644.7L152.1 643.3L152.4 641.8L152.8 640.4L153.1 638.9L153.5 637.4L153.8 636.0L154.2 634.5L154.6 633.1L154.9 631.6L155.3 630.1L155.6 628.7L156.0 627.2L156.4 625.8L156.7 624.3L157.1 622.9L157.4 621.4L157.8 619.9L158.2 618.5L158.5 617.0L158.9 615.6L159.3 614.1L159.6 612.7L160.0 611.2L160.4 609.7L160.7 608.3L161.1 606.8L161.5 605.4L161.8 603.9L162.2 602.5L162.6 601.0L162.9 599.6L163.3 598.1L163.7 596.6L164.0 595.2L164.4 593.7L164.8 592.3L165.1 590.8L165.5 589.4L165.9 587.9L166.3 586.5L166.6 585.0L167.0 583.5L167.4 582.1L167.7 580.6L168.1 579.2L168.5 577.7L168.9 576.3L169.2 574.8L169.6 573.4L170.0 571.9L170.4 570.4L170.7 569.0L171.1 567.5L171.5 566.1L171.9 564.6L172.2 563.2L172.6 561.7L173.0 560.3L173.3 558.8L173.7 557.4L174.1 555.9L174.5 554.4L174.8 553.0L175.2 551.5L175.6 550.1L176.0 548.6L176.3 547.2L176.7 545.7L177.1 544.3L177.5 542.8L177.8 541.4L178.2 539.9L178.6 538.4L179.0 537.0L179.3 535.5L179.7 534.1L180.1 532.6L180.5 531.2L180.8 529.7L181.2 528.3L181.6 526.8L182.0 525.4L182.3 523.9L182.7 522.4L183.1 521.0L183.5 519.5L183.8 518.1L184.2 516.6L184.6 515.2L185.0 513.7L185.3 512.3L185.7 510.8L186.1 509.4L186.5 507.9L186.8 506.5L187.2 505.0L187.6 503.5L188.0 502.1L188.3 500.6L188.7 499.2L189.1 497.7L189.5 496.3L189.8 494.8L190.2 493.4L190.6 491.9L191.0 490.5L191.4 489.0L191.7 487.6L192.1 486.1L192.5 484.6L192.9 483.2L193.3 481.7L193.6 480.3L194.0 478.8L194.4 477.4L194.8 475.9L195.2 474.5L195.6 473.0L195.9 471.6L196.3 470.1L196.7 468.7L197.1 467.2L197.5 465.8L197.9 464.3L198.3 462.9L198.7 461.4L199.0 460.0L199.4 458.5L199.8 457.1L200.2 455.6L200.6 454.2L201.0 452.7L201.4 451.3L201.8 449.8L202.2 448.4L202.6 446.9L203.0 445.5L203.4 444.0L203.8 442.6L204.2 441.1L204.6 439.7L205.0 438.2L205.4 436.8L205.8 435.3L206.2 433.9L206.6 432.4L207.0 431.0L207.4 429.6L207.8 428.1L208.2 426.7L208.6 425.2L209.0 423.8L209.4 422.3L209.8 420.9L210.3 419.4L210.7 418.0L211.1 416.6L211.5 415.1L211.9 413.7L212.3 412.2L212.8 410.8L213.2 409.3L213.6 407.9L214.0 406.5L214.5 405.0L214.9 403.6L215.3 402.1L215.8 400.7L216.2 399.3L216.6 397.8L217.1 396.4L217.5 395.0L217.9 393.5L218.4 392.1L218.8 390.6L219.3 389.2L219.7 387.8L220.1 386.3L220.6 384.9L221.0 383.5L221.5 382.0L221.9 380.6L222.4 379.2L222.9 377.7L223.3 376.3L223.8 374.9L224.2 373.5L224.7 372.0L225.2 370.6L225.6 369.2L226.1 367.8L226.6 366.3L227.1 364.9L227.5 363.5L228.0 362.1L228.5 360.6L229.0 359.2L229.5 357.8L230.0 356.4L230.5 355.0L231.0 353.5L231.5 352.1L232.0 350.7L232.5 349.3L233.0 347.9L233.5 346.5L234.0 345.1L234.5 343.6L235.0 342.2L235.6 340.8L236.1 339.4L236.6 338.0L237.1 336.6L237.7 335.2L238.2 333.8L238.8 332.4L239.3 331.0L239.8 329.6L240.4 328.2L241.0 326.8L241.5 325.4L242.1 324.0L242.7 322.6L243.2 321.2L243.8 319.9L244.4 318.5L245.0 317.1L245.6 315.7L246.2 314.3L246.8 313.0L247.4 311.6L248.0 310.2L248.6 308.8L249.2 307.5L249.8 306.1L250.4 304.7L251.1 303.4L251.7 302.0L252.4 300.7L253.0 299.3L253.7 297.9L254.3 296.6L255.0 295.2L255.6 293.9L256.3 292.6L257.0 291.2L257.7 289.9L258.4 288.5L259.0 287.2L259.7 285.9L260.4 284.6L261.2 283.2L261.9 281.9L262.6 280.6L263.3 279.3L264.0 278.0L264.8 276.7L265.5 275.3L266.3 274.0L267.0 272.7L267.8 271.4L268.5 270.2L269.3 268.9L270.1 267.6L270.9 266.3L271.6 265.0L272.4 263.7L273.2 262.5L274.0 261.2L274.9 259.9L275.7 258.7L276.5 257.4L277.3 256.2L278.1 254.9L279.0 253.7L279.8 252.4L280.7 251.2L281.5 249.9L282.4 248.7L283.3 247.5L284.1 246.3L285.0 245.1L285.9 243.8L286.8 242.6L287.7 241.4L288.6 240.2L289.5 239.0L290.4 237.8L291.4 236.7L292.3 235.5L293.2 234.3L294.2 233.1L295.1 232.0L296.1 230.8L297.0 229.6L298.0 228.5L298.9 227.3L299.9 226.2L300.9 225.1L301.9 223.9L302.9 222.8L303.9 221.7L304.9 220.6L305.9 219.4L306.9 218.3L307.9 217.2L308.9 216.1L309.9 215.0L311.0 213.9L312.0 212.8L313.0 211.7L314.1 210.7L315.1 209.6L316.2 208.5L317.2 207.4L318.2 206.3L319.3 205.3L320.3 204.2L321.4 203.1L322.4 202.0L323.5 201.0L324.5 199.9L325.6 198.8L326.6 197.7L327.7 196.7L328.7 195.6L329.8 194.5L330.8 193.4L331.9 192.4L332.9 191.3L334.0 190.2L335.0 189.1L336.0 188.0L337.1 186.9L338.1 185.8L339.1 184.7L340.1 183.6L341.2 182.5L342.2 181.4L343.2 180.3L344.2 179.2L345.3 178.1L346.3 177.0L347.3 175.9L348.3 174.8L349.4 173.8L350.4 172.7L351.4 171.6L352.4 170.5L353.5 169.4L354.5 168.3L355.5 167.2L356.6 166.1L357.6 165.0L358.7 164.0L359.7 162.9L360.8 161.8L361.9 160.8L362.9 159.7L364.0 158.7L365.1 157.6L366.2 156.6L367.3 155.6L368.4 154.6L369.5 153.6L370.6 152.6L371.7 151.6L372.9 150.6L374.0 149.6L375.2 148.6L376.3 147.7L377.5 146.7L378.7 145.8L379.9 144.9L381.1 144.0L382.3 143.1L383.5 142.2L384.7 141.3L385.9 140.5L387.2 139.6L388.4 138.8L389.7 138.0L391.0 137.2L392.3 136.4L393.6 135.7L394.9 134.9L396.2 134.2L397.5 133.5L398.9 132.9L400.2 132.2L401.6 131.6L403.0 131.0L404.4 130.5L405.8 129.9L407.2 129.4L408.6 128.9L410.1 128.5L411.5 128.1L413.0 127.7L414.4 127.4L415.9 127.0L417.4 126.7L418.8 126.5L420.3 126.3L421.8 126.1L423.3 125.9L424.8 125.8L426.3 125.7L427.8 125.6L429.3 125.5L430.8 125.5L432.3 125.5L433.8 125.6L435.3 125.7L436.8 125.8L438.3 125.9L439.8 126.0L441.3 126.2L442.8 126.4L444.3 126.7L445.7 126.9L447.2 127.2L448.7 127.5L450.1 127.8L451.6 128.1L453.1 128.5L454.5 128.9L456.0 129.3L457.4 129.7L458.8 130.2L460.3 130.6L461.7 131.1L463.1 131.6L464.5 132.1L465.9 132.6L467.3 133.2L468.7 133.7L470.1 134.3L471.5 134.9L472.9 135.5L474.3 136.1L475.6 136.7L477.0 137.3L478.4 138.0L479.7 138.6L481.1 139.3L482.4 139.9L483.8 140.6L485.1 141.3L486.4 141.9L487.8 142.6L489.1 143.3L490.4 144.0L491.8 144.7L493.1 145.4L494.4 146.1L495.7 146.8L497.1 147.6L498.4 148.3L499.7 149.0L501.0 149.7L502.3 150.4L503.7 151.2L505.0 151.9L506.3 152.6L507.6 153.3L508.9 154.1L510.2 154.8L511.5 155.5L512.8 156.3L514.1 157.0L515.4 157.8L516.8 158.5L518.1 159.2L519.4 160.0L520.7 160.7L522.0 161.5L523.3 162.2L524.6 163.0L525.9 163.8L527.2 164.5L528.5 165.3L529.7 166.0L531.0 166.8L532.3 167.6L533.6 168.3L534.9 169.1L536.2 169.9L537.5 170.6L538.8 171.4L540.1 172.2L541.3 173.0L542.6 173.8L543.9 174.5L545.2 175.3L546.5 176.1L547.7 176.9L549.0 177.7L550.3 178.5L551.6 179.3L552.8 180.1L554.1 180.9L555.4 181.7L556.6 182.5L557.9 183.3L559.2 184.1L560.4 184.9L561.7 185.7L563.0 186.5L564.2 187.4L565.5 188.2L566.7 189.0L568.0 189.8L569.3 190.6L570.5 191.5L571.8 192.3L573.0 193.1L574.3 194.0L575.5 194.8L576.8 195.6L578.0 196.5L579.3 197.3L580.5 198.2L581.7 199.0L583.0 199.8L584.2 200.7L585.5 201.5L586.7 202.4L587.9 203.3L589.2 204.1L590.4 205.0L591.6 205.8L592.9 206.7L594.1 207.6L595.3 208.4L596.5 209.3L597.8 210.2L599.0 211.0L600.2 211.9L601.4 212.8L602.6 213.7L603.8 214.6L605.1 215.4L606.3 216.3L607.5 217.2L608.7 218.1L609.9 219.0L611.1 219.9L612.3 220.8L613.5 221.7L614.7 222.6L615.9 223.5L617.1 224.4L618.3 225.3L619.5 226.2L620.7 227.1L621.9 228.0L623.1 228.9L624.3 229.9L625.5 230.8L626.7 231.7L627.8 232.6L629.0 233.5L630.2 234.5L631.4 235.4L632.6 236.3L633.8 237.3L634.9 238.2L636.1 239.1L637.3 240.1L638.5 241.0L639.6 241.9L640.8 242.9L642.0 243.8L643.2 244.7L644.3 245.7L645.5 246.6L646.7 247.5L647.9 248.5L649.0 249.4L650.2 250.4L651.4 251.3L652.5 252.2L653.7 253.2L654.9 254.1L656.1 255.0L657.2 256.0L658.4 256.9L659.6 257.8L660.8 258.8L661.9 259.7L663.1 260.6L664.3 261.6L665.5 262.5L666.7 263.4L667.8 264.4L669.0 265.3L670.2 266.2L671.4 267.1L672.6 268.1L673.8 269.0L674.9 269.9L676.1 270.8L677.3 271.8L678.5 272.7L679.7 273.6L680.9 274.5L682.1 275.5L683.2 276.4L684.4 277.3L685.6 278.2L686.8 279.2L688.0 280.1L689.1 281.0L690.3 281.9L691.5 282.9L692.7 283.8L693.9 284.7L695.0 285.7L696.2 286.6L697.4 287.6L698.5 288.5L699.7 289.4L700.9 290.4L702.0 291.3L703.2 292.3L704.4 293.2L705.5 294.2L706.7 295.2L707.8 296.1L709.0 297.1L710.1 298.0L711.3 299.0L712.4 300.0L713.6 301.0L714.7 301.9L715.8 302.9L717.0 303.9L718.1 304.9L719.2 305.9L720.4 306.9L721.5 307.9L722.6 308.9L723.7 309.9L724.8 310.9L726.0 311.9L727.1 312.9L728.2 313.9L729.3 314.9L730.4 315.9L731.5 316.9L732.6 318.0L733.7 319.0L734.8 320.0L735.9 321.0L737.0 322.1L738.1 323.1L739.2 324.1L740.3 325.2L741.4 326.2L742.5 327.2L743.6 328.3L744.6 329.3L745.7 330.3L746.8 331.4L747.9 332.4L749.0 333.5L750.0 334.5L751.1 335.6L752.2 336.6L753.3 337.7L754.3 338.7L755.4 339.8L756.5 340.8L757.5 341.9L758.6 342.9L759.7 344.0L760.7 345.0L761.8 346.1L762.9 347.2L763.9 348.2L765.0 349.3L766.0 350.4L767.1 351.4L768.2 352.5L769.2 353.6L770.3 354.6L771.3 355.7L772.4 356.8L773.4 357.8L774.5 358.9L775.5 360.0L776.6 361.1L777.6 362.1L778.7 363.2L779.7 364.3L780.8 365.4L781.8 366.4L782.9 367.5L783.9 368.6L785.0 369.7L786.0 370.7L787.1 371.8L788.1 372.9L789.2 374.0L790.2 375.1L791.2 376.1L792.3 377.2L793.3 378.3L794.3 379.4L795.4 380.5L796.4 381.6L797.5 382.7L798.5 383.8L799.5 384.8L800.6 385.9L801.6 387.0L802.6 388.1L803.6 389.2L804.7 390.3L805.7 391.4L806.7 392.5L807.8 393.6L808.8 394.7L809.8 395.8L810.8 396.9L811.8 398.0L812.9 399.1L813.9 400.2L814.9 401.3L815.9 402.4L816.9 403.5L817.9 404.6L819.0 405.7L820.0 406.8L821.0 408.0L822.0 409.1L823.0 410.2L824.0 411.3L825.0 412.4L826.0 413.5L827.0 414.7L828.0 415.8L829.0 416.9L830.0 418.0L831.0 419.1L832.0 420.3L833.0 421.4L834.0 422.5L835.0 423.6L836.0 424.8L837.0 425.9L838.0 427.0L838.9 428.2L839.9 429.3L840.9 430.4L841.9 431.6L842.9 432.7L843.9 433.8L844.8 435.0L845.8 436.1L846.8 437.3L847.8 438.4L848.7 439.6L849.7 440.7L850.7 441.8L851.6 443.0L852.6 444.1L853.6 445.3L854.5 446.4L855.5 447.6L856.5 448.8L857.4 449.9L858.4 451.1L859.3 452.2L860.3 453.4L861.2 454.5L862.2 455.7L863.1 456.9L864.1 458.0L865.0 459.2L866.0 460.4L866.9 461.5L867.9 462.7L868.8 463.9L869.8 465.0L870.7 466.2L871.6 467.4L872.6 468.6L873.5 469.7L874.4 470.9L875.4 472.1L876.3 473.3L877.2 474.5L878.1 475.6L879.1 476.8L880.0 478.0L880.9 479.2L881.8 480.4L882.7 481.6L883.7 482.8L884.6 484.0L885.5 485.2L886.4 486.3L887.3 487.5L888.2 488.7L889.1 489.9L890.0 491.1L890.9 492.3L891.8 493.5L892.7 494.7L893.6 495.9L894.5 497.1L895.4 498.3L896.3 499.6L897.2 500.8L898.1 502.0L899.0 503.2L899.9 504.4L900.8 505.6L901.7 506.8L902.5 508.0L903.4 509.2L904.3 510.5L905.2 511.7L906.1 512.9L906.9 514.1L907.8 515.3L908.7 516.6L909.6 517.8L910.4 519.0L911.3 520.2L912.2 521.5L913.0 522.7L913.9 523.9L914.8 525.1L915.6 526.4L916.5 527.6L917.4 528.8L918.2 530.1L919.1 531.3L919.9 532.5L920.8 533.8L921.7 535.0L922.5 536.2L923.4 537.4L924.2 538.7L925.1 539.9L925.9 541.2L926.8 542.4L927.6 543.6L928.5 544.9L929.4 546.1L930.2 547.3L931.1 548.6L931.9 549.8L932.8 551.0L933.6 552.3L934.5 553.5L935.3 554.7L936.2 556.0L937.0 557.2L937.9 558.4L938.7 559.7L939.6 560.9L940.4 562.2L941.3 563.4L942.2 564.6L943.0 565.9L943.9 567.1L944.7 568.3L945.6 569.6L946.4 570.8L947.3 572.0L948.1 573.3L949.0 574.5L949.8 575.7L950.7 577.0L951.6 578.2L952.4 579.4L953.3 580.7L954.1 581.9L955.0 583.1L955.9 584.4L956.7 585.6L957.6 586.8L958.5 588.1L959.3 589.3L960.2 590.5L961.1 591.7L961.9 593.0L962.8 594.2L963.7 595.4L964.5 596.6L965.4 597.9L966.3 599.1L967.2 600.3L968.0 601.5L968.9 602.7L969.8 604.0L970.7 605.2L971.5 606.4L972.4 607.6L973.3 608.8L974.2 610.0L975.1 611.2L976.0 612.4L976.9 613.7L977.8 614.9L978.7 616.1L979.6 617.3L980.5 618.5L981.4 619.7L982.3 620.9L983.2 622.1L984.1 623.3L985.0 624.5L985.9 625.7L986.8 626.9L987.7 628.1L988.6 629.3L989.5 630.4L990.5 631.6L991.4 632.8L992.3 634.0L993.2 635.2L994.2 636.4L995.1 637.5L996.0 638.7L997.0 639.9L997.9 641.1L998.8 642.2L999.8 643.4L1000.7 644.6L1001.7 645.7L1002.6 646.9L1003.6 648.1L1004.5 649.2L1005.5 650.4L1006.5 651.5L1007.4 652.7L1008.4 653.8L1009.4 655.0L1010.3 656.1L1011.3 657.2L1012.3 658.4L1013.3 659.5L1014.3 660.6L1015.3 661.8L1016.3 662.9L1017.3 664.0L1018.3 665.1L1019.3 666.2L1020.3 667.3L1021.3 668.4L1022.3 669.5L1023.4 670.6L1024.4 671.7L1025.4 672.8L1026.5 673.9L1027.5 675.0L1028.6 676.1L1029.6 677.1L1030.7 678.2L1031.8 679.2L1032.8 680.3L1033.9 681.3L1035.0 682.4L1036.1 683.4"/>
<path d="M109.9 839.5L110.3 838.0L110.6 836.6L110.9 835.1L111.2 833.6L111.6 832.2L111.9 830.7L112.2 829.2L112.5 827.8L112.8 826.3L113.2 824.8L113.5 823.4L113.8 821.9L114.1 820.4L114.5 819.0L114.8 817.5L115.1 816.0L115.4 814.5L115.8 813.1L116.1 811.6L116.4 810.1L116.7 808.7L117.0 807.2L117.4 805.7L117.7 804.3L118.0 802.8L118.3 801.3L118.6 799.9L119.0 798.4L119.3 796.9L119.6 795.5L119.9 794.0L120.2 792.5L120.6 791.1L120.9 789.6L121.2 788.1L121.5 786.7L121.9 785.2L122.2 783.7L122.5 782.3L122.8 780.8L123.1 779.3L123.5 777.9L123.8 776.4L124.1 774.9L124.4 773.4L124.7 772.0L125.1 770.5L125.4 769.0L125.7 767.6L126.0 766.1L126.3 764.6L126.7 763.2L127.0 761.7L127.3 760.2L127.6 758.8L127.9 757.3L128.3 755.8L128.6 754.4L128.9 752.9L129.2 751.4L129.5 750.0L129.9 748.5L130.2 747.0L130.5 745.6L130.8 744.1L131.2 742.6L131.5 741.2L131.8 739.7L132.1 738.2L132.4 736.8L132.8 735.3L133.1 733.8L133.4 732.4L133.7 730.9L134.1 729.4L134.4 727.9L134.7 726.5L135.0 725.0L135.4 723.5L135.7 722.1L136.0 720.6L136.3 719.1L136.7 717.7L137.0 716.2L137.3 714.7L137.6 713.3L138.0 711.8L138.3 710.3L138.6 708.9L138.9 707.4L139.3 705.9L139.6 704.5L139.9 703.0L140.3 701.5L140.6 700.1L140.9 698.6L141.2 697.2L141.6 695.7L141.9 694.2L142.2 692.8L142.6 691.3L142.9 689.8L143.2 688.4L143.6 686.9L143.9 685.4L144.2 684.0L144.6 682.5L144.9 681.0L145.2 679.6L145.6 678.1L145.9 676.6L146.2 675.2L146.6 673.7L146.9 672.2L147.3 670.8L147.6 669.3L147.9 667.9L148.3 666.4L148.6 664.9L148.9 663.5L149.3 662.0L149.6 660.5L150.0 659.1L150.3 657.6L150.7 656.1L151.0 654.7L151.3 653.2L151.7 651.8L152.0 650.3L152.4 648.8L152.7 647.4L153.1 645.9L153.4 644.4L153.8 643.0L154.1 641.5L154.5 640.1L154.8 638.6L155.2 637.1L155.5 635.7L155.9 634.2L156.2 632.8L156.6 631.3L156.9 629.8L157.3 628.4L157.6 626.9L158.0 625.5L158.3 624.0L158.7 622.5L159.1 621.1L159.4 619.6L159.8 618.2L160.1 616.7L160.5 615.2L160.8 613.8L161.2 612.3L161.6 610.9L161.9 609.4L162.3 607.9L162.7 606.5L163.0 605.0L163.4 603.6L163.7 602.1L164.1 600.7L164.5 599.2L164.8 597.7L165.2 596.3L165.6 594.8L165.9 593.4L166.3 591.9L166.7 590.5L167.0 589.0L167.4 587.5L167.8 586.1L168.1 584.6L168.5 583.2L168.9 581.7L169.2 580.3L169.6 578.8L170.0 577.3L170.3 575.9L170.7 574.4L171.1 573.0L171.4 571.5L171.8 570.1L172.2 568.6L172.6 567.1L172.9 565.7L173.3 564.2L173.7 562.8L174.0 561.3L174.4 559.9L174.8 558.4L175.2 557.0L175.5 555.5L175.9 554.0L176.3 552.6L176.6 551.1L177.0 549.7L177.4 548.2L177.7 546.8L178.1 545.3L178.5 543.8L178.9 542.4L179.2 540.9L179.6 539.5L180.0 538.0L180.3 536.6L180.7 535.1L181.1 533.7L181.5 532.2L181.8 530.7L182.2 529.3L182.6 527.8L182.9 526.4L183.3 524.9L183.7 523.5L184.1 522.0L184.4 520.6L184.8 519.1L185.2 517.6L185.5 516.2L185.9 514.7L186.3 513.3L186.7 511.8L187.0 510.4L187.4 508.9L187.8 507.5L188.1 506.0L188.5 504.5L188.9 503.1L189.3 501.6L189.6 500.2L190.0 498.7L190.4 497.3L190.8 495.8L191.1 494.4L191.5 492.9L191.9 491.4L192.3 490.0L192.7 488.5L193.0 487.1L193.4 485.6L193.8 484.2L194.2 482.7L194.5 481.3L194.9 479.8L195.3 478.4L195.7 476.9L196.1 475.5L196.5 474.0L196.8 472.5L197.2 471.1L197.6 469.6L198.0 468.2L198.4 466.7L198.8 465.3L199.1 463.8L199.5 462.4L199.9 460.9L200.3 459.5L200.7 458.0L201.1 456.6L201.5 455.1L201.9 453.7L202.3 452.2L202.7 450.8L203.1 449.3L203.5 447.9L203.8 446.4L204.2 445.0L204.6 443.5L205.0 442.1L205.4 440.6L205.8 439.2L206.2 437.7L206.6 436.3L207.1 434.8L207.5 433.4L207.9 431.9L208.3 430.5L208.7 429.1L209.1 427.6L209.5 426.2L209.9 424.7L210.3 423.3L210.7 421.8L211.2 420.4L211.6 418.9L212.0 417.5L212.4 416.1L212.8 414.6L213.3 413.2L213.7 411.7L214.1 410.3L214.5 408.9L215.0 407.4L215.4 406.0L215.8 404.5L216.3 403.1L216.7 401.7L217.1 400.2L217.6 398.8L218.0 397.3L218.5 395.9L218.9 394.5L219.4 393.0L219.8 391.6L220.3 390.2L220.7 388.7L221.2 387.3L221.6 385.9L222.1 384.4L222.5 383.0L223.0 381.6L223.5 380.2L223.9 378.7L224.4 377.3L224.9 375.9L225.3 374.4L225.8 373.0L226.3 371.6L226.8 370.2L227.3 368.8L227.7 367.3L228.2 365.9L228.7 364.5L229.2 363.1L229.7 361.7L230.2 360.2L230.7 358.8L231.2 357.4L231.7 356.0L232.2 354.6L232.8 353.2L233.3 351.8L233.8 350.3L234.3 348.9L234.9 347.5L235.4 346.1L235.9 344.7L236.5 343.3L237.0 341.9L237.6 340.5L238.1 339.1L238.7 337.7L239.2 336.3L239.8 334.9L240.4 333.6L240.9 332.2L241.5 330.8L242.1 329.4L242.7 328.0L243.3 326.6L243.9 325.2L244.5 323.9L245.1 322.5L245.7 321.1L246.3 319.8L246.9 318.4L247.6 317.0L248.2 315.7L248.8 314.3L249.5 312.9L250.1 311.6L250.8 310.2L251.5 308.9L252.1 307.5L252.8 306.2L253.5 304.9L254.2 303.5L254.9 302.2L255.6 300.9L256.3 299.5L257.0 298.2L257.7 296.9L258.4 295.6L259.2 294.3L259.9 293.0L260.6 291.7L261.4 290.4L262.2 289.1L262.9 287.8L263.7 286.5L264.5 285.2L265.2 283.9L266.0 282.6L266.8 281.4L267.6 280.1L268.4 278.8L269.3 277.6L270.1 276.3L270.9 275.0L271.7 273.8L272.6 272.5L273.4 271.3L274.3 270.1L275.1 268.8L276.0 267.6L276.9 266.4L277.7 265.2L278.6 263.9L279.5 262.7L280.4 261.5L281.3 260.3L282.2 259.1L283.1 257.9L284.0 256.7L285.0 255.6L285.9 254.4L286.8 253.2L287.8 252.0L288.7 250.8L289.6 249.7L290.6 248.5L291.6 247.4L292.5 246.2L293.5 245.1L294.5 243.9L295.4 242.8L296.4 241.6L297.4 240.5L298.4 239.3L299.4 238.2L300.4 237.1L301.4 236.0L302.3 234.8L303.4 233.7L304.4 232.6L305.4 231.5L306.4 230.4L307.4 229.3L308.4 228.2L309.4 227.0L310.4 225.9L311.5 224.8L312.5 223.7L313.5 222.6L314.5 221.5L315.5 220.4L316.6 219.3L317.6 218.2L318.6 217.1L319.6 216.0L320.7 214.9L321.7 213.8L322.7 212.7L323.7 211.6L324.8 210.5L325.8 209.4L326.8 208.3L327.8 207.2L328.8 206.1L329.9 205.0L330.9 203.9L331.9 202.8L332.9 201.7L333.9 200.6L334.9 199.5L335.9 198.4L336.9 197.2L337.9 196.1L338.9 195.0L340.0 193.9L341.0 192.8L342.0 191.7L343.0 190.6L344.0 189.4L345.0 188.3L346.0 187.2L347.0 186.1L348.0 185.0L349.1 183.9L350.1 182.8L351.1 181.7L352.2 180.6L353.2 179.5L354.2 178.5L355.3 177.4L356.3 176.3L357.4 175.3L358.5 174.2L359.6 173.1L360.6 172.1L361.7 171.1L362.8 170.0L363.9 169.0L365.1 168.0L366.2 167.0L367.3 166.0L368.5 165.1L369.6 164.1L370.8 163.2L371.9 162.2L373.1 161.3L374.3 160.4L375.5 159.5L376.7 158.6L378.0 157.7L379.2 156.9L380.4 156.0L381.7 155.2L382.9 154.4L384.2 153.6L385.5 152.8L386.8 152.0L388.1 151.3L389.4 150.5L390.7 149.8L392.1 149.1L393.4 148.5L394.8 147.8L396.1 147.2L397.5 146.6L398.9 146.0L400.3 145.4L401.7 144.9L403.1 144.4L404.5 143.9L406.0 143.4L407.4 143.0L408.8 142.6L410.3 142.2L411.7 141.8L413.2 141.5L414.7 141.2L416.2 140.9L417.6 140.6L419.1 140.4L420.6 140.2L422.1 140.1L423.6 139.9L425.1 139.8L426.6 139.7L428.1 139.7L429.6 139.7L431.1 139.7L432.6 139.7L434.1 139.8L435.6 139.9L437.1 140.0L438.6 140.2L440.1 140.4L441.6 140.6L443.1 140.8L444.5 141.1L446.0 141.4L447.5 141.7L448.9 142.0L450.4 142.4L451.9 142.8L453.3 143.2L454.7 143.6L456.2 144.1L457.6 144.6L459.0 145.1L460.4 145.6L461.8 146.2L463.2 146.7L464.6 147.3L466.0 147.9L467.3 148.5L468.7 149.2L470.0 149.8L471.4 150.5L472.7 151.2L474.1 151.9L475.4 152.6L476.7 153.3L478.0 154.0L479.3 154.7L480.7 155.5L482.0 156.2L483.3 157.0L484.6 157.7L485.9 158.5L487.1 159.3L488.4 160.0L489.7 160.8L491.0 161.6L492.3 162.4L493.6 163.1L494.9 163.9L496.1 164.7L497.4 165.5L498.7 166.3L500.0 167.0L501.3 167.8L502.6 168.6L503.8 169.4L505.1 170.2L506.4 171.0L507.7 171.7L509.0 172.5L510.3 173.3L511.6 174.1L512.8 174.8L514.1 175.6L515.4 176.4L516.7 177.2L518.0 177.9L519.3 178.7L520.6 179.5L521.9 180.3L523.1 181.0L524.4 181.8L525.7 182.6L527.0 183.4L528.3 184.1L529.6 184.9L530.9 185.7L532.1 186.5L533.4 187.3L534.7 188.0L536.0 188.8L537.3 189.6L538.6 190.4L539.8 191.2L541.1 192.0L542.4 192.8L543.7 193.5L544.9 194.3L546.2 195.1L547.5 195.9L548.8 196.7L550.0 197.5L551.3 198.3L552.6 199.1L553.8 199.9L555.1 200.8L556.4 201.6L557.6 202.4L558.9 203.2L560.2 204.0L561.4 204.8L562.7 205.7L563.9 206.5L565.2 207.3L566.4 208.1L567.7 209.0L568.9 209.8L570.2 210.7L571.4 211.5L572.7 212.3L573.9 213.2L575.1 214.1L576.4 214.9L577.6 215.8L578.8 216.6L580.1 217.5L581.3 218.4L582.5 219.2L583.7 220.1L585.0 221.0L586.2 221.9L587.4 222.8L588.6 223.6L589.8 224.5L591.0 225.4L592.2 226.3L593.4 227.2L594.6 228.1L595.8 229.0L597.0 230.0L598.2 230.9L599.4 231.8L600.6 232.7L601.8 233.6L602.9 234.6L604.1 235.5L605.3 236.4L606.5 237.4L607.6 238.3L608.8 239.3L610.0 240.2L611.1 241.2L612.3 242.1L613.4 243.1L614.6 244.1L615.7 245.0L616.9 246.0L618.0 247.0L619.1 248.0L620.3 249.0L621.4 250.0L622.5 250.9L623.7 251.9L624.8 252.9L625.9 253.9L627.0 254.9L628.1 255.9L629.3 257.0L630.4 258.0L631.5 259.0L632.6 260.0L633.7 261.0L634.8 262.0L635.9 263.1L637.0 264.1L638.1 265.1L639.2 266.1L640.3 267.2L641.4 268.2L642.5 269.2L643.6 270.3L644.6 271.3L645.7 272.3L646.8 273.4L647.9 274.4L649.0 275.4L650.1 276.5L651.2 277.5L652.2 278.6L653.3 279.6L654.4 280.6L655.5 281.7L656.6 282.7L657.7 283.8L658.7 284.8L659.8 285.9L660.9 286.9L662.0 288.0L663.1 289.0L664.1 290.0L665.2 291.1L666.3 292.1L667.4 293.2L668.5 294.2L669.5 295.3L670.6 296.3L671.7 297.4L672.8 298.4L673.9 299.4L675.0 300.5L676.0 301.5L677.1 302.6L678.2 303.6L679.3 304.6L680.4 305.7L681.5 306.7L682.6 307.7L683.7 308.8L684.7 309.8L685.8 310.8L686.9 311.9L688.0 312.9L689.1 313.9L690.2 314.9L691.3 316.0L692.4 317.0L693.5 318.0L694.6 319.1L695.7 320.1L696.8 321.1L697.9 322.1L699.0 323.2L700.1 324.2L701.2 325.2L702.3 326.2L703.4 327.2L704.5 328.3L705.6 329.3L706.7 330.3L707.8 331.3L708.9 332.3L710.0 333.3L711.2 334.4L712.3 335.4L713.4 336.4L714.5 337.4L715.6 338.4L716.7 339.4L717.8 340.4L718.9 341.5L720.0 342.5L721.1 343.5L722.3 344.5L723.4 345.5L724.5 346.5L725.6 347.5L726.7 348.5L727.8 349.5L728.9 350.5L730.0 351.5L731.2 352.6L732.3 353.6L733.4 354.6L734.5 355.6L735.6 356.6L736.7 357.6L737.9 358.6L739.0 359.6L740.1 360.6L741.2 361.6L742.3 362.6L743.4 363.6L744.6 364.6L745.7 365.6L746.8 366.6L747.9 367.6L749.0 368.6L750.1 369.7L751.2 370.7L752.4 371.7L753.5 372.7L754.6 373.7L755.7 374.7L756.8 375.7L757.9 376.8L759.0 377.8L760.1 378.8L761.2 379.8L762.3 380.8L763.4 381.9L764.5 382.9L765.6 383.9L766.7 385.0L767.7 386.0L768.8 387.1L769.9 388.1L771.0 389.2L772.1 390.2L773.1 391.3L774.2 392.3L775.3 393.4L776.3 394.4L777.4 395.5L778.4 396.6L779.5 397.6L780.5 398.7L781.6 399.8L782.6 400.9L783.7 402.0L784.7 403.1L785.7 404.1L786.8 405.2L787.8 406.3L788.8 407.4L789.8 408.5L790.9 409.6L791.9 410.8L792.9 411.9L793.9 413.0L794.9 414.1L795.9 415.2L796.9 416.3L797.9 417.4L798.9 418.6L799.9 419.7L800.9 420.8L801.9 422.0L802.9 423.1L803.9 424.2L804.9 425.3L805.8 426.5L806.8 427.6L807.8 428.8L808.8 429.9L809.8 431.0L810.7 432.2L811.7 433.3L812.7 434.5L813.6 435.6L814.6 436.8L815.6 437.9L816.5 439.1L817.5 440.2L818.5 441.4L819.4 442.5L820.4 443.7L821.3 444.9L822.3 446.0L823.3 447.2L824.2 448.3L825.2 449.5L826.1 450.7L827.1 451.8L828.0 453.0L829.0 454.1L829.9 455.3L830.9 456.5L831.8 457.6L832.8 458.8L833.7 460.0L834.6 461.2L835.6 462.3L836.5 463.5L837.5 464.7L838.4 465.8L839.4 467.0L840.3 468.2L841.2 469.4L842.2 470.5L843.1 471.7L844.0 472.9L845.0 474.0L845.9 475.2L846.9 476.4L847.8 477.6L848.7 478.8L849.7 479.9L850.6 481.1L851.5 482.3L852.5 483.5L853.4 484.6L854.3 485.8L855.3 487.0L856.2 488.2L857.1 489.3L858.1 490.5L859.0 491.7L859.9 492.9L860.9 494.1L861.8 495.2L862.7 496.4L863.7 497.6L864.6 498.8L865.5 499.9L866.5 501.1L867.4 502.3L868.3 503.5L869.3 504.7L870.2 505.8L871.1 507.0L872.1 508.2L873.0 509.4L873.9 510.5L874.9 511.7L875.8 512.9L876.7 514.1L877.7 515.2L878.6 516.4L879.6 517.6L880.5 518.8L881.4 519.9L882.4 521.1L883.3 522.3L884.2 523.5L885.2 524.6L886.1 525.8L887.1 527.0L888.0 528.1L889.0 529.3L889.9 530.5L890.9 531.6L891.8 532.8L892.8 534.0L893.7 535.1L894.6 536.3L895.6 537.5L896.6 538.6L897.5 539.8L898.5 540.9L899.4 542.1L900.4 543.3L901.3 544.4L902.3 545.6L903.3 546.7L904.2 547.9L905.2 549.0L906.1 550.2L907.1 551.3L908.1 552.5L909.0 553.6L910.0 554.8L911.0 555.9L912.0 557.1L912.9 558.2L913.9 559.4L914.9 560.5L915.9 561.6L916.9 562.8L917.8 563.9L918.8 565.0L919.8 566.2L920.8 567.3L921.8 568.4L922.8 569.6L923.8 570.7L924.8 571.8L925.8 572.9L926.8 574.0L927.8 575.1L928.8 576.3L929.8 577.4L930.8 578.5L931.9 579.6L932.9 580.7L933.9 581.8L934.9 582.9L936.0 584.0L937.0 585.1L938.0 586.2L939.1 587.2L940.1 588.3L941.2 589.4L942.2 590.5L943.3 591.6L944.3 592.6L945.4 593.7L946.4 594.8L947.5 595.8L948.6 596.9L949.6 597.9L950.7 599.0L951.8 600.0L952.9 601.0L954.0 602.1L955.1 603.1L956.2 604.1L957.3 605.2L958.4 606.2L959.5 607.2L960.6 608.2L961.7 609.2L962.8 610.2L963.9 611.2L965.0 612.2L966.2 613.3L967.3 614.3L968.4 615.3L969.5 616.3L970.6 617.3L971.7 618.3L972.8 619.4L973.9 620.4L975.0 621.4L976.1 622.5L977.1 623.5L978.2 624.6L979.3 625.6L980.3 626.7L981.4 627.7L982.5 628.8L983.5 629.9L984.5 631.0L985.6 632.1L986.6 633.2L987.6 634.3L988.6 635.4L989.6 636.5L990.6 637.6L991.6 638.8L992.6 639.9L993.6 641.0L994.5 642.2L995.5 643.4L996.4 644.5L997.4 645.7L998.3 646.9L999.2 648.1L1000.2 649.2L1001.1 650.4L1002.0 651.6L1002.9 652.8L1003.8 654.1L1004.6 655.3L1005.5 656.5L1006.4 657.7L1007.2 659.0L1008.1 660.2L1008.9 661.4L1009.8 662.7L1010.6 663.9L1011.4 665.2L1012.2 666.5L1013.0 667.7L1013.9 669.0L1014.6 670.3L1015.4 671.5L1016.2 672.8L1017.0 674.1L1017.8 675.4L1018.5 676.7L1019.3 678.0L1020.1 679.3L1020.8 680.6L1021.6 681.9L1022.3 683.2L1023.0 684.5L1023.8 685.8L1024.5 687.1L1025.2 688.5L1025.9 689.8L1026.6 691.1L1027.3 692.4L1028.0 693.8L1028.7 695.1L1029.4 696.4L1030.1 697.8L1030.8 699.1L1031.5 700.5L1032.1 701.8L1032.8 703.1L1033.5 704.5L1034.1 705.8L1034.8 707.2L1035.4 708.5L1036.1 709.9"/>
<path d="M112.1 839.5L112.4 838.1L112.7 836.6L113.0 835.1L113.4 833.7L113.7 832.2L114.0 830.7L114.3 829.3L114.7 827.8L115.0 826.3L115.3 824.9L115.6 823.4L115.9 821.9L116.3 820.5L116.6 819.0L116.9 817.5L117.2 816.0L117.5 814.6L117.9 813.1L118.2 811.6L118.5 810.2L118.8 808.7L119.1 807.2L119.5 805.8L119.8 804.3L120.1 802.8L120.4 801.4L120.7 799.9L121.1 798.4L121.4 797.0L121.7 795.5L122.0 794.0L122.3 792.6L122.6 791.1L123.0 789.6L123.3 788.2L123.6 786.7L123.9 785.2L124.2 783.8L124.5 782.3L124.9 780.8L125.2 779.4L125.5 777.9L125.8 776.4L126.1 775.0L126.4 773.5L126.8 772.0L127.1 770.6L127.4 769.1L127.7 767.6L128.0 766.1L128.3 764.7L128.7 763.2L129.0 761.7L129.3 760.3L129.6 758.8L129.9 757.3L130.2 755.9L130.6 754.4L130.9 752.9L131.2 751.5L131.5 750.0L131.8 748.5L132.2 747.1L132.5 745.6L132.8 744.1L133.1 742.7L133.4 741.2L133.7 739.7L134.1 738.3L134.4 736.8L134.7 735.3L135.0 733.9L135.3 732.4L135.7 730.9L136.0 729.5L136.3 728.0L136.6 726.5L136.9 725.1L137.3 723.6L137.6 722.1L137.9 720.6L138.2 719.2L138.5 717.7L138.9 716.2L139.2 714.8L139.5 713.3L139.8 711.8L140.2 710.4L140.5 708.9L140.8 707.4L141.1 706.0L141.4 704.5L141.8 703.0L142.1 701.6L142.4 700.1L142.7 698.7L143.1 697.2L143.4 695.7L143.7 694.3L144.0 692.8L144.4 691.3L144.7 689.9L145.0 688.4L145.4 686.9L145.7 685.5L146.0 684.0L146.3 682.5L146.7 681.1L147.0 679.6L147.3 678.1L147.7 676.7L148.0 675.2L148.3 673.7L148.7 672.3L149.0 670.8L149.3 669.3L149.7 667.9L150.0 666.4L150.3 665.0L150.7 663.5L151.0 662.0L151.3 660.6L151.7 659.1L152.0 657.6L152.3 656.2L152.7 654.7L153.0 653.2L153.4 651.8L153.7 650.3L154.0 648.9L154.4 647.4L154.7 645.9L155.1 644.5L155.4 643.0L155.8 641.5L156.1 640.1L156.5 638.6L156.8 637.2L157.1 635.7L157.5 634.2L157.8 632.8L158.2 631.3L158.5 629.9L158.9 628.4L159.2 626.9L159.6 625.5L159.9 624.0L160.3 622.6L160.6 621.1L161.0 619.6L161.4 618.2L161.7 616.7L162.1 615.3L162.4 613.8L162.8 612.3L163.1 610.9L163.5 609.4L163.8 608.0L164.2 606.5L164.6 605.0L164.9 603.6L165.3 602.1L165.6 600.7L166.0 599.2L166.4 597.8L166.7 596.3L167.1 594.8L167.4 593.4L167.8 591.9L168.2 590.5L168.5 589.0L168.9 587.6L169.3 586.1L169.6 584.6L170.0 583.2L170.3 581.7L170.7 580.3L171.1 578.8L171.4 577.4L171.8 575.9L172.2 574.4L172.5 573.0L172.9 571.5L173.3 570.1L173.6 568.6L174.0 567.2L174.3 565.7L174.7 564.2L175.1 562.8L175.4 561.3L175.8 559.9L176.2 558.4L176.5 557.0L176.9 555.5L177.3 554.0L177.6 552.6L178.0 551.1L178.4 549.7L178.7 548.2L179.1 546.8L179.5 545.3L179.8 543.8L180.2 542.4L180.5 540.9L180.9 539.5L181.3 538.0L181.6 536.6L182.0 535.1L182.4 533.6L182.7 532.2L183.1 530.7L183.5 529.3L183.8 527.8L184.2 526.4L184.5 524.9L184.9 523.4L185.3 522.0L185.6 520.5L186.0 519.1L186.4 517.6L186.7 516.2L187.1 514.7L187.4 513.2L187.8 511.8L188.2 510.3L188.5 508.9L188.9 507.4L189.3 506.0L189.6 504.5L190.0 503.0L190.4 501.6L190.7 500.1L191.1 498.7L191.5 497.2L191.8 495.8L192.2 494.3L192.6 492.9L192.9 491.4L193.3 489.9L193.7 488.5L194.0 487.0L194.4 485.6L194.8 484.1L195.1 482.7L195.5 481.2L195.9 479.8L196.3 478.3L196.6 476.8L197.0 475.4L197.4 473.9L197.8 472.5L198.1 471.0L198.5 469.6L198.9 468.1L199.3 466.7L199.6 465.2L200.0 463.8L200.4 462.3L200.8 460.9L201.2 459.4L201.5 457.9L201.9 456.5L202.3 455.0L202.7 453.6L203.1 452.1L203.5 450.7L203.8 449.2L204.2 447.8L204.6 446.3L205.0 444.9L205.4 443.4L205.8 442.0L206.2 440.5L206.6 439.1L207.0 437.6L207.4 436.2L207.8 434.7L208.2 433.3L208.6 431.8L209.0 430.4L209.4 429.0L209.8 427.5L210.2 426.1L210.6 424.6L211.0 423.2L211.4 421.7L211.8 420.3L212.3 418.8L212.7 417.4L213.1 416.0L213.5 414.5L213.9 413.1L214.4 411.6L214.8 410.2L215.2 408.8L215.6 407.3L216.1 405.9L216.5 404.4L216.9 403.0L217.4 401.6L217.8 400.1L218.2 398.7L218.7 397.3L219.1 395.8L219.6 394.4L220.0 393.0L220.5 391.5L220.9 390.1L221.4 388.7L221.8 387.2L222.3 385.8L222.8 384.4L223.2 382.9L223.7 381.5L224.2 380.1L224.7 378.7L225.1 377.2L225.6 375.8L226.1 374.4L226.6 373.0L227.1 371.6L227.6 370.1L228.1 368.7L228.6 367.3L229.1 365.9L229.6 364.5L230.1 363.1L230.6 361.7L231.1 360.2L231.6 358.8L232.2 357.4L232.7 356.0L233.2 354.6L233.8 353.2L234.3 351.8L234.9 350.4L235.4 349.0L236.0 347.6L236.5 346.2L237.1 344.8L237.7 343.5L238.3 342.1L238.8 340.7L239.4 339.3L240.0 337.9L240.6 336.6L241.2 335.2L241.9 333.8L242.5 332.4L243.1 331.1L243.7 329.7L244.4 328.4L245.0 327.0L245.7 325.7L246.3 324.3L247.0 323.0L247.7 321.6L248.4 320.3L249.1 319.0L249.8 317.6L250.5 316.3L251.2 315.0L252.0 313.7L252.7 312.4L253.5 311.1L254.2 309.8L255.0 308.5L255.8 307.2L256.6 306.0L257.4 304.7L258.2 303.4L259.0 302.2L259.8 300.9L260.7 299.7L261.5 298.4L262.4 297.2L263.3 296.0L264.1 294.7L265.0 293.5L265.9 292.3L266.8 291.1L267.7 289.9L268.7 288.8L269.6 287.6L270.5 286.4L271.5 285.2L272.4 284.1L273.4 282.9L274.4 281.8L275.3 280.6L276.3 279.5L277.3 278.4L278.3 277.3L279.3 276.2L280.3 275.0L281.4 273.9L282.4 272.8L283.4 271.8L284.5 270.7L285.5 269.6L286.5 268.5L287.6 267.4L288.6 266.4L289.7 265.3L290.8 264.2L291.8 263.2L292.9 262.1L294.0 261.0L295.0 260.0L296.1 258.9L297.2 257.9L298.2 256.8L299.3 255.8L300.4 254.7L301.5 253.7L302.5 252.6L303.6 251.6L304.7 250.5L305.7 249.5L306.8 248.4L307.9 247.3L308.9 246.3L310.0 245.2L311.0 244.2L312.1 243.1L313.2 242.0L314.2 241.0L315.3 239.9L316.3 238.8L317.4 237.8L318.5 236.7L319.5 235.6L320.6 234.6L321.6 233.5L322.7 232.4L323.7 231.4L324.8 230.3L325.8 229.2L326.9 228.1L327.9 227.1L329.0 226.0L330.0 224.9L331.1 223.8L332.1 222.8L333.2 221.7L334.2 220.6L335.3 219.5L336.3 218.4L337.3 217.4L338.4 216.3L339.4 215.2L340.5 214.1L341.5 213.1L342.6 212.0L343.6 210.9L344.7 209.8L345.7 208.8L346.8 207.7L347.9 206.6L348.9 205.6L350.0 204.5L351.1 203.5L352.1 202.4L353.2 201.4L354.3 200.3L355.4 199.3L356.4 198.2L357.5 197.2L358.6 196.2L359.7 195.1L360.8 194.1L361.9 193.1L363.0 192.1L364.2 191.1L365.3 190.1L366.4 189.1L367.5 188.1L368.7 187.2L369.8 186.2L371.0 185.2L372.2 184.3L373.3 183.3L374.5 182.4L375.7 181.5L376.9 180.6L378.1 179.7L379.3 178.8L380.5 177.9L381.8 177.1L383.0 176.2L384.2 175.4L385.5 174.6L386.8 173.8L388.1 173.0L389.4 172.2L390.7 171.5L392.0 170.7L393.3 170.0L394.6 169.3L396.0 168.7L397.3 168.0L398.7 167.4L400.1 166.8L401.5 166.3L402.9 165.8L404.3 165.2L405.7 164.8L407.2 164.3L408.6 163.9L410.1 163.5L411.5 163.2L413.0 162.8L414.4 162.5L415.9 162.3L417.4 162.0L418.9 161.8L420.4 161.7L421.9 161.5L423.4 161.4L424.9 161.4L426.4 161.3L427.9 161.3L429.4 161.3L430.9 161.4L432.4 161.4L433.9 161.5L435.4 161.7L436.9 161.8L438.4 162.0L439.9 162.2L441.3 162.5L442.8 162.8L444.3 163.1L445.7 163.4L447.2 163.7L448.7 164.1L450.1 164.5L451.6 164.9L453.0 165.4L454.4 165.8L455.8 166.3L457.3 166.8L458.7 167.3L460.1 167.9L461.5 168.4L462.9 169.0L464.2 169.6L465.6 170.2L467.0 170.8L468.3 171.5L469.7 172.1L471.0 172.8L472.4 173.5L473.7 174.2L475.0 174.9L476.3 175.6L477.7 176.3L479.0 177.0L480.3 177.8L481.6 178.5L482.9 179.3L484.2 180.0L485.5 180.8L486.8 181.5L488.1 182.3L489.4 183.1L490.6 183.8L491.9 184.6L493.2 185.4L494.5 186.2L495.8 187.0L497.1 187.7L498.3 188.5L499.6 189.3L500.9 190.1L502.2 190.9L503.5 191.6L504.8 192.4L506.0 193.2L507.3 194.0L508.6 194.8L509.9 195.5L511.2 196.3L512.5 197.1L513.8 197.9L515.0 198.6L516.3 199.4L517.6 200.2L518.9 201.0L520.2 201.8L521.5 202.5L522.7 203.3L524.0 204.1L525.3 204.9L526.6 205.7L527.9 206.5L529.1 207.2L530.4 208.0L531.7 208.8L533.0 209.6L534.3 210.4L535.5 211.2L536.8 212.0L538.1 212.8L539.3 213.6L540.6 214.4L541.9 215.2L543.2 216.0L544.4 216.8L545.7 217.6L546.9 218.4L548.2 219.2L549.5 220.1L550.7 220.9L552.0 221.7L553.2 222.5L554.5 223.4L555.7 224.2L557.0 225.0L558.2 225.9L559.5 226.7L560.7 227.6L562.0 228.4L563.2 229.3L564.4 230.1L565.7 231.0L566.9 231.8L568.1 232.7L569.3 233.6L570.6 234.4L571.8 235.3L573.0 236.2L574.2 237.1L575.4 238.0L576.6 238.9L577.8 239.7L579.0 240.6L580.3 241.5L581.4 242.4L582.6 243.4L583.8 244.3L585.0 245.2L586.2 246.1L587.4 247.0L588.6 248.0L589.8 248.9L590.9 249.8L592.1 250.8L593.3 251.7L594.4 252.7L595.6 253.6L596.8 254.6L597.9 255.5L599.1 256.5L600.2 257.4L601.4 258.4L602.5 259.4L603.6 260.4L604.8 261.4L605.9 262.3L607.0 263.3L608.2 264.3L609.3 265.3L610.4 266.3L611.5 267.3L612.6 268.3L613.8 269.3L614.9 270.4L616.0 271.4L617.1 272.4L618.2 273.4L619.2 274.5L620.3 275.5L621.4 276.5L622.5 277.6L623.6 278.6L624.7 279.7L625.7 280.7L626.8 281.8L627.9 282.8L628.9 283.9L630.0 284.9L631.1 286.0L632.1 287.1L633.2 288.1L634.2 289.2L635.3 290.3L636.3 291.4L637.4 292.4L638.4 293.5L639.5 294.6L640.5 295.7L641.6 296.7L642.6 297.8L643.6 298.9L644.7 300.0L645.7 301.1L646.8 302.2L647.8 303.2L648.8 304.3L649.9 305.4L650.9 306.5L652.0 307.6L653.0 308.7L654.0 309.7L655.1 310.8L656.1 311.9L657.2 313.0L658.2 314.1L659.3 315.1L660.3 316.2L661.4 317.3L662.4 318.4L663.5 319.4L664.5 320.5L665.6 321.6L666.6 322.7L667.7 323.7L668.7 324.8L669.8 325.8L670.9 326.9L671.9 328.0L673.0 329.0L674.1 330.1L675.1 331.1L676.2 332.2L677.3 333.2L678.3 334.3L679.4 335.3L680.5 336.4L681.6 337.4L682.7 338.5L683.8 339.5L684.8 340.5L685.9 341.6L687.0 342.6L688.1 343.6L689.2 344.6L690.3 345.6L691.4 346.7L692.5 347.7L693.7 348.7L694.8 349.7L695.9 350.7L697.0 351.7L698.1 352.7L699.3 353.7L700.4 354.7L701.5 355.7L702.6 356.7L703.8 357.6L704.9 358.6L706.1 359.6L707.2 360.6L708.4 361.5L709.5 362.5L710.7 363.5L711.8 364.4L713.0 365.4L714.2 366.3L715.3 367.2L716.5 368.2L717.7 369.1L718.9 370.0L720.1 370.9L721.3 371.9L722.5 372.8L723.7 373.7L724.9 374.6L726.1 375.4L727.3 376.3L728.5 377.2L729.7 378.1L731.0 378.9L732.2 379.8L733.4 380.7L734.7 381.5L735.9 382.3L737.2 383.2L738.4 384.0L739.7 384.8L741.0 385.6L742.2 386.4L743.5 387.2L744.8 388.0L746.1 388.7L747.4 389.5L748.7 390.3L750.0 391.0L751.2 391.8L752.5 392.6L753.8 393.3L755.1 394.1L756.4 394.9L757.7 395.6L759.0 396.4L760.3 397.2L761.6 397.9L762.8 398.7L764.1 399.5L765.4 400.3L766.7 401.1L767.9 401.9L769.2 402.8L770.4 403.6L771.7 404.4L772.9 405.3L774.1 406.2L775.4 407.0L776.6 407.9L777.8 408.8L779.0 409.7L780.2 410.6L781.3 411.6L782.5 412.5L783.7 413.5L784.8 414.4L786.0 415.4L787.1 416.4L788.2 417.4L789.4 418.4L790.5 419.4L791.6 420.4L792.7 421.4L793.8 422.4L794.9 423.5L796.0 424.5L797.0 425.6L798.1 426.6L799.2 427.7L800.2 428.7L801.3 429.8L802.3 430.9L803.4 431.9L804.4 433.0L805.5 434.1L806.5 435.2L807.5 436.3L808.5 437.4L809.6 438.5L810.6 439.6L811.6 440.7L812.6 441.8L813.6 443.0L814.6 444.1L815.6 445.2L816.6 446.3L817.6 447.5L818.6 448.6L819.5 449.7L820.5 450.9L821.5 452.0L822.5 453.1L823.5 454.3L824.4 455.4L825.4 456.6L826.4 457.7L827.3 458.9L828.3 460.0L829.2 461.2L830.2 462.4L831.1 463.5L832.1 464.7L833.0 465.8L834.0 467.0L834.9 468.2L835.9 469.3L836.8 470.5L837.8 471.7L838.7 472.9L839.6 474.0L840.6 475.2L841.5 476.4L842.4 477.6L843.4 478.7L844.3 479.9L845.2 481.1L846.1 482.3L847.1 483.5L848.0 484.7L848.9 485.8L849.8 487.0L850.7 488.2L851.7 489.4L852.6 490.6L853.5 491.8L854.4 493.0L855.3 494.2L856.2 495.4L857.2 496.6L858.1 497.7L859.0 498.9L859.9 500.1L860.8 501.3L861.7 502.5L862.6 503.7L863.5 504.9L864.4 506.1L865.3 507.3L866.2 508.5L867.2 509.7L868.1 510.9L869.0 512.1L869.9 513.3L870.8 514.5L871.7 515.7L872.6 516.9L873.5 518.1L874.4 519.3L875.3 520.5L876.2 521.7L877.1 522.9L878.0 524.1L878.9 525.3L879.8 526.5L880.7 527.7L881.6 528.9L882.5 530.1L883.4 531.3L884.4 532.5L885.3 533.7L886.2 534.9L887.1 536.1L888.0 537.2L888.9 538.4L889.8 539.6L890.7 540.8L891.6 542.0L892.5 543.2L893.4 544.4L894.4 545.6L895.3 546.8L896.2 548.0L897.1 549.2L898.0 550.4L898.9 551.6L899.8 552.8L900.8 554.0L901.7 555.1L902.6 556.3L903.5 557.5L904.4 558.7L905.3 559.9L906.3 561.1L907.2 562.3L908.1 563.5L909.0 564.7L909.9 565.9L910.8 567.0L911.8 568.2L912.7 569.4L913.6 570.6L914.5 571.8L915.4 573.0L916.3 574.2L917.3 575.4L918.2 576.5L919.1 577.7L920.0 578.9L920.9 580.1L921.9 581.3L922.8 582.5L923.7 583.7L924.6 584.9L925.5 586.1L926.4 587.2L927.4 588.4L928.3 589.6L929.2 590.8L930.1 592.0L931.0 593.2L931.9 594.4L932.8 595.6L933.8 596.8L934.7 598.0L935.6 599.2L936.5 600.4L937.4 601.5L938.3 602.7L939.2 603.9L940.1 605.1L941.1 606.3L942.0 607.5L942.9 608.7L943.8 609.9L944.7 611.1L945.6 612.3L946.5 613.5L947.4 614.7L948.3 615.9L949.2 617.1L950.2 618.3L951.1 619.5L952.0 620.7L952.9 621.9L953.8 623.0L954.7 624.2L955.6 625.4L956.5 626.6L957.4 627.8L958.3 629.0L959.2 630.2L960.2 631.4L961.1 632.6L962.0 633.8L962.9 635.0L963.8 636.2L964.7 637.4L965.6 638.6L966.5 639.8L967.5 641.0L968.4 642.1L969.3 643.3L970.2 644.5L971.1 645.7L972.0 646.9L972.9 648.1L973.9 649.3L974.8 650.5L975.7 651.7L976.6 652.8L977.5 654.0L978.5 655.2L979.4 656.4L980.3 657.6L981.2 658.8L982.2 660.0L983.1 661.1L984.0 662.3L985.0 663.5L985.9 664.7L986.8 665.8L987.8 667.0L988.7 668.2L989.6 669.4L990.6 670.5L991.5 671.7L992.4 672.9L993.4 674.1L994.3 675.2L995.3 676.4L996.2 677.6L997.2 678.7L998.1 679.9L999.1 681.1L1000.0 682.2L1001.0 683.4L1001.9 684.5L1002.9 685.7L1003.9 686.8L1004.8 688.0L1005.8 689.1L1006.8 690.3L1007.7 691.4L1008.7 692.6L1009.7 693.7L1010.6 694.9L1011.6 696.0L1012.6 697.1L1013.6 698.3L1014.6 699.4L1015.6 700.5L1016.6 701.6L1017.6 702.8L1018.6 703.9L1019.6 705.0L1020.6 706.1L1021.6 707.2L1022.6 708.3L1023.6 709.5L1024.6 710.6L1025.7 711.7L1026.7 712.8L1027.7 713.8L1028.7 714.9L1029.8 716.0L1030.8 717.1L1031.9 718.2L1032.9 719.2L1034.0 720.3L1035.0 721.4L1036.1 722.4"/>
<path d="M114.3 839.8L114.6 838.4L114.9 836.9L115.2 835.4L115.5 834.0L115.8 832.5L116.1 831.0L116.4 829.5L116.7 828.1L117.0 826.6L117.3 825.1L117.6 823.7L117.9 822.2L118.2 820.7L118.6 819.3L118.9 817.8L119.2 816.3L119.5 814.8L119.8 813.4L120.1 811.9L120.4 810.4L120.7 809.0L121.0 807.5L121.3 806.0L121.7 804.6L122.0 803.1L122.3 801.6L122.6 800.2L122.9 798.7L123.2 797.2L123.5 795.7L123.8 794.3L124.2 792.8L124.5 791.3L124.8 789.9L125.1 788.4L125.4 786.9L125.7 785.5L126.1 784.0L126.4 782.5L126.7 781.1L127.0 779.6L127.3 778.1L127.6 776.7L128.0 775.2L128.3 773.7L128.6 772.3L128.9 770.8L129.2 769.3L129.5 767.9L129.9 766.4L130.2 764.9L130.5 763.5L130.8 762.0L131.1 760.5L131.5 759.0L131.8 757.6L132.1 756.1L132.4 754.6L132.7 753.2L133.1 751.7L133.4 750.2L133.7 748.8L134.0 747.3L134.4 745.8L134.7 744.4L135.0 742.9L135.3 741.4L135.6 740.0L136.0 738.5L136.3 737.0L136.6 735.6L136.9 734.1L137.3 732.6L137.6 731.2L137.9 729.7L138.2 728.2L138.6 726.8L138.9 725.3L139.2 723.8L139.5 722.4L139.9 720.9L140.2 719.5L140.5 718.0L140.8 716.5L141.2 715.1L141.5 713.6L141.8 712.1L142.2 710.7L142.5 709.2L142.8 707.7L143.1 706.3L143.5 704.8L143.8 703.3L144.1 701.9L144.5 700.4L144.8 698.9L145.1 697.5L145.4 696.0L145.8 694.5L146.1 693.1L146.4 691.6L146.8 690.1L147.1 688.7L147.4 687.2L147.7 685.7L148.1 684.3L148.4 682.8L148.7 681.4L149.1 679.9L149.4 678.4L149.7 677.0L150.1 675.5L150.4 674.0L150.7 672.6L151.1 671.1L151.4 669.6L151.7 668.2L152.1 666.7L152.4 665.2L152.7 663.8L153.0 662.3L153.4 660.8L153.7 659.4L154.0 657.9L154.4 656.4L154.7 655.0L155.0 653.5L155.4 652.1L155.7 650.6L156.0 649.1L156.4 647.7L156.7 646.2L157.0 644.7L157.4 643.3L157.7 641.8L158.0 640.3L158.4 638.9L158.7 637.4L159.0 635.9L159.4 634.5L159.7 633.0L160.0 631.6L160.4 630.1L160.7 628.6L161.0 627.2L161.4 625.7L161.7 624.2L162.0 622.8L162.4 621.3L162.7 619.8L163.0 618.4L163.4 616.9L163.7 615.4L164.0 614.0L164.4 612.5L164.7 611.1L165.1 609.6L165.4 608.1L165.7 606.7L166.1 605.2L166.4 603.7L166.7 602.3L167.1 600.8L167.4 599.3L167.7 597.9L168.1 596.4L168.4 594.9L168.7 593.5L169.1 592.0L169.4 590.6L169.7 589.1L170.1 587.6L170.4 586.2L170.8 584.7L171.1 583.2L171.4 581.8L171.8 580.3L172.1 578.8L172.4 577.4L172.8 575.9L173.1 574.5L173.5 573.0L173.8 571.5L174.1 570.1L174.5 568.6L174.8 567.1L175.1 565.7L175.5 564.2L175.8 562.8L176.2 561.3L176.5 559.8L176.9 558.4L177.2 556.9L177.5 555.4L177.9 554.0L178.2 552.5L178.6 551.1L178.9 549.6L179.3 548.1L179.6 546.7L179.9 545.2L180.3 543.7L180.6 542.3L181.0 540.8L181.3 539.4L181.7 537.9L182.0 536.4L182.4 535.0L182.7 533.5L183.1 532.1L183.4 530.6L183.8 529.1L184.1 527.7L184.5 526.2L184.8 524.8L185.2 523.3L185.5 521.8L185.9 520.4L186.3 518.9L186.6 517.5L187.0 516.0L187.3 514.5L187.7 513.1L188.0 511.6L188.4 510.2L188.8 508.7L189.1 507.3L189.5 505.8L189.9 504.3L190.2 502.9L190.6 501.4L190.9 500.0L191.3 498.5L191.7 497.1L192.1 495.6L192.4 494.1L192.8 492.7L193.2 491.2L193.5 489.8L193.9 488.3L194.3 486.9L194.7 485.4L195.0 484.0L195.4 482.5L195.8 481.1L196.2 479.6L196.5 478.2L196.9 476.7L197.3 475.2L197.7 473.8L198.1 472.3L198.5 470.9L198.8 469.4L199.2 468.0L199.6 466.5L200.0 465.1L200.4 463.6L200.8 462.2L201.2 460.7L201.6 459.3L202.0 457.8L202.4 456.4L202.8 454.9L203.2 453.5L203.6 452.1L204.0 450.6L204.4 449.2L204.8 447.7L205.2 446.3L205.6 444.8L206.0 443.4L206.4 441.9L206.9 440.5L207.3 439.0L207.7 437.6L208.1 436.2L208.5 434.7L209.0 433.3L209.4 431.8L209.8 430.4L210.2 429.0L210.7 427.5L211.1 426.1L211.5 424.6L212.0 423.2L212.4 421.8L212.8 420.3L213.3 418.9L213.7 417.5L214.2 416.0L214.6 414.6L215.1 413.2L215.5 411.7L216.0 410.3L216.5 408.9L216.9 407.4L217.4 406.0L217.8 404.6L218.3 403.2L218.8 401.7L219.3 400.3L219.7 398.9L220.2 397.5L220.7 396.0L221.2 394.6L221.7 393.2L222.2 391.8L222.7 390.4L223.2 389.0L223.7 387.6L224.2 386.1L224.8 384.7L225.3 383.3L225.8 381.9L226.4 380.5L226.9 379.1L227.4 377.7L228.0 376.3L228.6 374.9L229.1 373.5L229.7 372.2L230.3 370.8L230.9 369.4L231.5 368.0L232.1 366.6L232.7 365.3L233.3 363.9L233.9 362.5L234.5 361.2L235.2 359.8L235.8 358.4L236.5 357.1L237.1 355.7L237.8 354.4L238.5 353.1L239.2 351.7L239.9 350.4L240.6 349.1L241.3 347.8L242.1 346.5L242.8 345.1L243.5 343.8L244.3 342.5L245.1 341.3L245.9 340.0L246.6 338.7L247.4 337.4L248.3 336.2L249.1 334.9L249.9 333.6L250.7 332.4L251.6 331.2L252.4 329.9L253.3 328.7L254.2 327.5L255.1 326.3L256.0 325.1L256.9 323.9L257.8 322.7L258.8 321.5L259.7 320.3L260.6 319.2L261.6 318.0L262.6 316.9L263.6 315.7L264.5 314.6L265.5 313.5L266.5 312.4L267.6 311.3L268.6 310.2L269.6 309.1L270.7 308.0L271.7 306.9L272.8 305.9L273.8 304.8L274.9 303.7L276.0 302.7L277.1 301.7L278.1 300.6L279.2 299.6L280.3 298.6L281.5 297.6L282.6 296.6L283.7 295.6L284.8 294.6L285.9 293.6L287.1 292.6L288.2 291.6L289.3 290.6L290.5 289.6L291.6 288.7L292.8 287.7L293.9 286.7L295.1 285.8L296.2 284.8L297.4 283.8L298.5 282.9L299.7 281.9L300.9 281.0L302.0 280.0L303.2 279.1L304.3 278.1L305.5 277.2L306.7 276.2L307.8 275.3L309.0 274.3L310.2 273.4L311.3 272.4L312.5 271.4L313.6 270.5L314.8 269.5L315.9 268.6L317.1 267.6L318.2 266.6L319.4 265.6L320.5 264.7L321.6 263.7L322.8 262.7L323.9 261.7L325.0 260.7L326.1 259.7L327.2 258.7L328.3 257.7L329.4 256.6L330.5 255.6L331.6 254.6L332.7 253.5L333.8 252.5L334.9 251.4L335.9 250.4L337.0 249.3L338.0 248.3L339.1 247.2L340.2 246.1L341.2 245.0L342.2 244.0L343.3 242.9L344.3 241.8L345.4 240.7L346.4 239.6L347.5 238.6L348.5 237.5L349.5 236.4L350.6 235.3L351.6 234.2L352.7 233.1L353.7 232.1L354.8 231.0L355.8 229.9L356.9 228.8L357.9 227.8L359.0 226.7L360.0 225.6L361.1 224.6L362.2 223.5L363.3 222.5L364.3 221.5L365.4 220.4L366.5 219.4L367.6 218.4L368.7 217.4L369.9 216.4L371.0 215.4L372.1 214.4L373.2 213.4L374.4 212.4L375.5 211.5L376.7 210.5L377.9 209.6L379.0 208.6L380.2 207.7L381.4 206.8L382.6 205.9L383.8 205.0L385.0 204.1L386.2 203.2L387.5 202.4L388.7 201.5L390.0 200.7L391.2 199.9L392.5 199.1L393.8 198.3L395.1 197.5L396.4 196.8L397.7 196.0L399.0 195.3L400.3 194.6L401.7 193.9L403.0 193.3L404.4 192.6L405.8 192.0L407.1 191.4L408.5 190.9L409.9 190.3L411.3 189.8L412.8 189.3L414.2 188.9L415.6 188.4L417.1 188.0L418.5 187.6L420.0 187.3L421.5 187.0L422.9 186.7L424.4 186.4L425.9 186.2L427.4 186.0L428.9 185.8L430.4 185.7L431.9 185.6L433.4 185.6L434.9 185.5L436.4 185.5L437.9 185.6L439.4 185.7L440.9 185.8L442.4 185.9L443.9 186.1L445.3 186.3L446.8 186.5L448.3 186.8L449.8 187.1L451.2 187.4L452.7 187.8L454.2 188.1L455.6 188.6L457.0 189.0L458.5 189.5L459.9 189.9L461.3 190.5L462.7 191.0L464.1 191.6L465.5 192.2L466.8 192.8L468.2 193.4L469.6 194.0L470.9 194.7L472.3 195.4L473.6 196.1L474.9 196.8L476.2 197.5L477.5 198.3L478.8 199.0L480.1 199.8L481.4 200.5L482.7 201.3L484.0 202.1L485.2 202.9L486.5 203.7L487.8 204.5L489.0 205.4L490.3 206.2L491.5 207.0L492.8 207.9L494.0 208.7L495.3 209.6L496.5 210.4L497.7 211.3L498.9 212.1L500.2 213.0L501.4 213.9L502.6 214.7L503.8 215.6L505.1 216.5L506.3 217.4L507.5 218.3L508.7 219.2L509.9 220.0L511.1 220.9L512.3 221.8L513.5 222.7L514.7 223.6L515.9 224.5L517.1 225.4L518.3 226.4L519.5 227.3L520.7 228.2L521.9 229.1L523.1 230.0L524.3 230.9L525.5 231.8L526.6 232.8L527.8 233.7L529.0 234.6L530.2 235.5L531.4 236.5L532.5 237.4L533.7 238.3L534.9 239.3L536.1 240.2L537.2 241.2L538.4 242.1L539.6 243.0L540.8 244.0L541.9 244.9L543.1 245.9L544.3 246.8L545.4 247.8L546.6 248.7L547.8 249.7L548.9 250.6L550.1 251.6L551.2 252.5L552.4 253.5L553.6 254.4L554.7 255.4L555.9 256.3L557.0 257.3L558.2 258.2L559.3 259.2L560.5 260.2L561.6 261.1L562.8 262.1L564.0 263.1L565.1 264.0L566.3 265.0L567.4 265.9L568.6 266.9L569.7 267.9L570.9 268.8L572.0 269.8L573.2 270.8L574.3 271.7L575.5 272.7L576.6 273.7L577.8 274.6L578.9 275.6L580.0 276.6L581.2 277.6L582.3 278.5L583.5 279.5L584.6 280.5L585.8 281.4L586.9 282.4L588.1 283.4L589.2 284.3L590.4 285.3L591.5 286.3L592.7 287.2L593.8 288.2L595.0 289.2L596.1 290.2L597.3 291.1L598.4 292.1L599.6 293.1L600.7 294.0L601.8 295.0L603.0 296.0L604.1 296.9L605.3 297.9L606.4 298.9L607.6 299.8L608.7 300.8L609.9 301.8L611.0 302.7L612.2 303.7L613.4 304.7L614.5 305.6L615.7 306.6L616.8 307.5L618.0 308.5L619.1 309.5L620.3 310.4L621.4 311.4L622.6 312.3L623.7 313.3L624.9 314.3L626.1 315.2L627.2 316.2L628.4 317.1L629.5 318.1L630.7 319.1L631.8 320.0L633.0 321.0L634.1 321.9L635.3 322.9L636.5 323.8L637.6 324.8L638.8 325.7L639.9 326.7L641.1 327.7L642.3 328.6L643.4 329.6L644.6 330.5L645.7 331.5L646.9 332.4L648.1 333.4L649.2 334.3L650.4 335.3L651.5 336.2L652.7 337.2L653.9 338.1L655.0 339.1L656.2 340.0L657.4 341.0L658.5 341.9L659.7 342.9L660.9 343.8L662.0 344.8L663.2 345.7L664.4 346.7L665.5 347.6L666.7 348.5L667.9 349.5L669.0 350.4L670.2 351.4L671.4 352.3L672.6 353.2L673.7 354.2L674.9 355.1L676.1 356.0L677.3 357.0L678.4 357.9L679.6 358.8L680.8 359.8L682.0 360.7L683.2 361.6L684.3 362.5L685.5 363.5L686.7 364.4L687.9 365.3L689.1 366.2L690.3 367.2L691.5 368.1L692.7 369.0L693.8 369.9L695.0 370.8L696.2 371.7L697.4 372.6L698.6 373.5L699.8 374.4L701.0 375.3L702.2 376.2L703.4 377.1L704.6 378.0L705.9 378.9L707.1 379.8L708.3 380.7L709.5 381.6L710.7 382.5L711.9 383.4L713.1 384.2L714.3 385.1L715.6 386.0L716.8 386.9L718.0 387.7L719.2 388.6L720.5 389.5L721.7 390.3L722.9 391.2L724.2 392.0L725.4 392.9L726.6 393.7L727.9 394.6L729.1 395.4L730.4 396.3L731.6 397.1L732.9 397.9L734.1 398.8L735.4 399.6L736.6 400.4L737.9 401.2L739.2 402.1L740.4 402.9L741.7 403.7L742.9 404.5L744.2 405.3L745.5 406.1L746.8 406.9L748.0 407.7L749.3 408.5L750.6 409.3L751.9 410.1L753.1 410.9L754.4 411.7L755.7 412.5L756.9 413.3L758.2 414.1L759.5 414.9L760.7 415.7L762.0 416.5L763.3 417.3L764.5 418.1L765.8 419.0L767.0 419.8L768.3 420.6L769.5 421.5L770.8 422.3L772.0 423.2L773.2 424.0L774.4 424.9L775.7 425.8L776.9 426.7L778.1 427.6L779.3 428.5L780.5 429.4L781.7 430.3L782.8 431.2L784.0 432.2L785.2 433.1L786.4 434.0L787.5 435.0L788.7 436.0L789.8 436.9L791.0 437.9L792.1 438.9L793.2 439.9L794.4 440.8L795.5 441.8L796.6 442.8L797.7 443.8L798.9 444.9L800.0 445.9L801.1 446.9L802.2 447.9L803.3 448.9L804.3 450.0L805.4 451.0L806.5 452.0L807.6 453.1L808.7 454.1L809.7 455.2L810.8 456.2L811.9 457.3L812.9 458.4L814.0 459.4L815.1 460.5L816.1 461.6L817.2 462.6L818.2 463.7L819.3 464.8L820.3 465.9L821.3 467.0L822.4 468.1L823.4 469.1L824.4 470.2L825.4 471.3L826.5 472.4L827.5 473.5L828.5 474.6L829.5 475.7L830.5 476.9L831.6 478.0L832.6 479.1L833.6 480.2L834.6 481.3L835.6 482.4L836.6 483.6L837.6 484.7L838.6 485.8L839.6 486.9L840.5 488.1L841.5 489.2L842.5 490.3L843.5 491.5L844.5 492.6L845.5 493.7L846.5 494.9L847.4 496.0L848.4 497.1L849.4 498.3L850.4 499.4L851.3 500.6L852.3 501.7L853.3 502.9L854.2 504.0L855.2 505.2L856.2 506.3L857.1 507.5L858.1 508.6L859.0 509.8L860.0 511.0L860.9 512.1L861.9 513.3L862.9 514.4L863.8 515.6L864.8 516.8L865.7 517.9L866.7 519.1L867.6 520.2L868.5 521.4L869.5 522.6L870.4 523.8L871.4 524.9L872.3 526.1L873.3 527.3L874.2 528.4L875.1 529.6L876.1 530.8L877.0 532.0L877.9 533.1L878.9 534.3L879.8 535.5L880.7 536.7L881.7 537.8L882.6 539.0L883.5 540.2L884.5 541.4L885.4 542.6L886.3 543.7L887.3 544.9L888.2 546.1L889.1 547.3L890.0 548.5L891.0 549.6L891.9 550.8L892.8 552.0L893.7 553.2L894.6 554.4L895.6 555.6L896.5 556.8L897.4 557.9L898.3 559.1L899.3 560.3L900.2 561.5L901.1 562.7L902.0 563.9L902.9 565.1L903.8 566.3L904.8 567.4L905.7 568.6L906.6 569.8L907.5 571.0L908.4 572.2L909.3 573.4L910.3 574.6L911.2 575.8L912.1 577.0L913.0 578.2L913.9 579.4L914.8 580.5L915.7 581.7L916.7 582.9L917.6 584.1L918.5 585.3L919.4 586.5L920.3 587.7L921.2 588.9L922.1 590.1L923.0 591.3L924.0 592.5L924.9 593.7L925.8 594.9L926.7 596.0L927.6 597.2L928.5 598.4L929.4 599.6L930.3 600.8L931.3 602.0L932.2 603.2L933.1 604.4L934.0 605.6L934.9 606.8L935.8 608.0L936.7 609.2L937.7 610.4L938.6 611.5L939.5 612.7L940.4 613.9L941.3 615.1L942.2 616.3L943.1 617.5L944.1 618.7L945.0 619.9L945.9 621.1L946.8 622.3L947.7 623.5L948.6 624.7L949.5 625.8L950.5 627.0L951.4 628.2L952.3 629.4L953.2 630.6L954.1 631.8L955.0 633.0L955.9 634.2L956.9 635.4L957.8 636.6L958.7 637.7L959.6 638.9L960.5 640.1L961.4 641.3L962.4 642.5L963.3 643.7L964.2 644.9L965.1 646.1L966.0 647.3L966.9 648.5L967.9 649.6L968.8 650.8L969.7 652.0L970.6 653.2L971.5 654.4L972.4 655.6L973.4 656.8L974.3 658.0L975.2 659.2L976.1 660.3L977.0 661.5L978.0 662.7L978.9 663.9L979.8 665.1L980.7 666.3L981.6 667.5L982.6 668.7L983.5 669.9L984.4 671.0L985.3 672.2L986.2 673.4L987.1 674.6L988.1 675.8L989.0 677.0L989.9 678.2L990.8 679.3L991.7 680.5L992.7 681.7L993.6 682.9L994.5 684.1L995.4 685.3L996.4 686.5L997.3 687.7L998.2 688.8L999.1 690.0L1000.0 691.2L1001.0 692.4L1001.9 693.6L1002.8 694.8L1003.7 696.0L1004.6 697.1L1005.6 698.3L1006.5 699.5L1007.4 700.7L1008.3 701.9L1009.3 703.1L1010.2 704.3L1011.1 705.4L1012.0 706.6L1013.0 707.8L1013.9 709.0L1014.8 710.2L1015.7 711.4L1016.6 712.5L1017.6 713.7L1018.5 714.9L1019.4 716.1L1020.3 717.3L1021.3 718.5L1022.2 719.6L1023.1 720.8L1024.0 722.0L1025.0 723.2L1025.9 724.4L1026.8 725.6L1027.8 726.7L1028.7 727.9L1029.6 729.1L1030.5 730.3L1031.5 731.5L1032.4 732.6L1033.3 733.8L1034.2 735.0L1035.2 736.2L1036.1 737.4"/>
<path d="M116.4 839.8L116.7 838.3L117.0 836.8L117.3 835.4L117.6 833.9L117.9 832.4L118.2 831.0L118.6 829.5L118.9 828.0L119.2 826.5L119.5 825.1L119.8 823.6L120.1 822.1L120.4 820.7L120.7 819.2L121.0 817.7L121.3 816.3L121.7 814.8L122.0 813.3L122.3 811.9L122.6 810.4L122.9 808.9L123.2 807.4L123.5 806.0L123.8 804.5L124.1 803.0L124.5 801.6L124.8 800.1L125.1 798.6L125.4 797.2L125.7 795.7L126.0 794.2L126.3 792.8L126.6 791.3L127.0 789.8L127.3 788.4L127.6 786.9L127.9 785.4L128.2 783.9L128.5 782.5L128.8 781.0L129.1 779.5L129.5 778.1L129.8 776.6L130.1 775.1L130.4 773.7L130.7 772.2L131.0 770.7L131.3 769.3L131.6 767.8L132.0 766.3L132.3 764.9L132.6 763.4L132.9 761.9L133.2 760.5L133.5 759.0L133.9 757.5L134.2 756.1L134.5 754.6L134.8 753.1L135.1 751.6L135.4 750.2L135.7 748.7L136.1 747.2L136.4 745.8L136.7 744.3L137.0 742.8L137.3 741.4L137.6 739.9L138.0 738.4L138.3 737.0L138.6 735.5L138.9 734.0L139.2 732.6L139.5 731.1L139.9 729.6L140.2 728.2L140.5 726.7L140.8 725.2L141.1 723.8L141.5 722.3L141.8 720.8L142.1 719.4L142.4 717.9L142.7 716.4L143.0 715.0L143.4 713.5L143.7 712.0L144.0 710.6L144.3 709.1L144.6 707.6L145.0 706.2L145.3 704.7L145.6 703.2L145.9 701.8L146.2 700.3L146.6 698.8L146.9 697.4L147.2 695.9L147.5 694.4L147.9 693.0L148.2 691.5L148.5 690.0L148.8 688.6L149.1 687.1L149.5 685.6L149.8 684.2L150.1 682.7L150.4 681.2L150.8 679.8L151.1 678.3L151.4 676.8L151.7 675.4L152.1 673.9L152.4 672.4L152.7 671.0L153.0 669.5L153.4 668.0L153.7 666.6L154.0 665.1L154.3 663.6L154.7 662.2L155.0 660.7L155.3 659.2L155.6 657.8L156.0 656.3L156.3 654.8L156.6 653.4L157.0 651.9L157.3 650.4L157.6 649.0L157.9 647.5L158.3 646.1L158.6 644.6L158.9 643.1L159.2 641.7L159.6 640.2L159.9 638.7L160.2 637.3L160.6 635.8L160.9 634.3L161.2 632.9L161.6 631.4L161.9 629.9L162.2 628.5L162.6 627.0L162.9 625.5L163.2 624.1L163.5 622.6L163.9 621.2L164.2 619.7L164.5 618.2L164.9 616.8L165.2 615.3L165.5 613.8L165.9 612.4L166.2 610.9L166.6 609.4L166.9 608.0L167.2 606.5L167.6 605.0L167.9 603.6L168.2 602.1L168.6 600.7L168.9 599.2L169.2 597.7L169.6 596.3L169.9 594.8L170.2 593.3L170.6 591.9L170.9 590.4L171.3 589.0L171.6 587.5L171.9 586.0L172.3 584.6L172.6 583.1L173.0 581.6L173.3 580.2L173.6 578.7L174.0 577.3L174.3 575.8L174.7 574.3L175.0 572.9L175.3 571.4L175.7 569.9L176.0 568.5L176.4 567.0L176.7 565.6L177.1 564.1L177.4 562.6L177.7 561.2L178.1 559.7L178.4 558.3L178.8 556.8L179.1 555.3L179.5 553.9L179.8 552.4L180.2 550.9L180.5 549.5L180.8 548.0L181.2 546.6L181.5 545.1L181.9 543.6L182.2 542.2L182.6 540.7L182.9 539.3L183.3 537.8L183.6 536.3L184.0 534.9L184.3 533.4L184.7 532.0L185.0 530.5L185.4 529.0L185.7 527.6L186.1 526.1L186.4 524.7L186.8 523.2L187.1 521.7L187.5 520.3L187.8 518.8L188.2 517.4L188.5 515.9L188.9 514.4L189.2 513.0L189.6 511.5L190.0 510.1L190.3 508.6L190.7 507.1L191.0 505.7L191.4 504.2L191.7 502.8L192.1 501.3L192.4 499.8L192.8 498.4L193.2 496.9L193.5 495.5L193.9 494.0L194.2 492.6L194.6 491.1L194.9 489.6L195.3 488.2L195.7 486.7L196.0 485.3L196.4 483.8L196.7 482.4L197.1 480.9L197.5 479.4L197.8 478.0L198.2 476.5L198.5 475.1L198.9 473.6L199.3 472.2L199.6 470.7L200.0 469.2L200.4 467.8L200.7 466.3L201.1 464.9L201.4 463.4L201.8 462.0L202.2 460.5L202.5 459.0L202.9 457.6L203.3 456.1L203.6 454.7L204.0 453.2L204.4 451.8L204.8 450.3L205.1 448.9L205.5 447.4L205.9 445.9L206.3 444.5L206.6 443.0L207.0 441.6L207.4 440.1L207.8 438.7L208.2 437.2L208.6 435.8L209.0 434.3L209.4 432.9L209.8 431.4L210.2 430.0L210.6 428.5L211.0 427.1L211.4 425.7L211.8 424.2L212.2 422.8L212.6 421.3L213.0 419.9L213.5 418.4L213.9 417.0L214.3 415.6L214.8 414.1L215.2 412.7L215.6 411.3L216.1 409.8L216.5 408.4L217.0 407.0L217.5 405.5L217.9 404.1L218.4 402.7L218.9 401.3L219.4 399.8L219.9 398.4L220.4 397.0L220.9 395.6L221.4 394.2L221.9 392.8L222.4 391.4L223.0 390.0L223.5 388.6L224.0 387.2L224.6 385.8L225.2 384.4L225.7 383.0L226.3 381.6L226.9 380.2L227.5 378.9L228.1 377.5L228.7 376.1L229.4 374.7L230.0 373.4L230.6 372.0L231.3 370.7L231.9 369.3L232.6 368.0L233.3 366.6L234.0 365.3L234.7 364.0L235.4 362.7L236.1 361.3L236.9 360.0L237.6 358.7L238.4 357.4L239.1 356.1L239.9 354.9L240.7 353.6L241.5 352.3L242.3 351.1L243.1 349.8L244.0 348.6L244.8 347.3L245.7 346.1L246.6 344.9L247.5 343.7L248.4 342.5L249.3 341.3L250.2 340.1L251.1 338.9L252.1 337.7L253.0 336.6L254.0 335.5L255.0 334.3L256.0 333.2L257.0 332.1L258.1 331.0L259.1 329.9L260.2 328.9L261.2 327.8L262.3 326.8L263.4 325.7L264.5 324.7L265.6 323.7L266.8 322.7L267.9 321.7L269.0 320.8L270.2 319.8L271.4 318.9L272.6 318.0L273.7 317.0L274.9 316.1L276.2 315.3L277.4 314.4L278.6 313.5L279.8 312.7L281.1 311.8L282.3 311.0L283.6 310.2L284.9 309.4L286.1 308.6L287.4 307.8L288.7 307.0L290.0 306.2L291.2 305.4L292.5 304.7L293.8 303.9L295.1 303.2L296.4 302.4L297.7 301.7L299.1 300.9L300.4 300.2L301.7 299.4L303.0 298.7L304.3 298.0L305.6 297.2L306.9 296.5L308.2 295.8L309.5 295.0L310.8 294.3L312.1 293.5L313.4 292.8L314.7 292.0L316.0 291.2L317.3 290.4L318.5 289.6L319.8 288.8L321.1 288.0L322.3 287.2L323.5 286.3L324.8 285.5L326.0 284.6L327.2 283.7L328.4 282.8L329.6 281.9L330.8 281.0L332.0 280.0L333.1 279.1L334.3 278.1L335.4 277.1L336.5 276.1L337.6 275.1L338.7 274.1L339.8 273.1L340.9 272.0L342.0 271.0L343.1 270.0L344.2 268.9L345.2 267.9L346.3 266.8L347.4 265.8L348.5 264.7L349.5 263.7L350.6 262.6L351.7 261.5L352.7 260.5L353.8 259.4L354.9 258.4L356.0 257.4L357.0 256.3L358.1 255.3L359.2 254.3L360.3 253.2L361.4 252.2L362.6 251.2L363.7 250.2L364.8 249.3L366.0 248.3L367.1 247.3L368.3 246.4L369.5 245.4L370.6 244.5L371.8 243.6L373.0 242.7L374.2 241.8L375.4 240.9L376.6 240.0L377.9 239.1L379.1 238.3L380.3 237.4L381.6 236.5L382.8 235.7L384.1 234.9L385.3 234.0L386.6 233.2L387.8 232.4L389.1 231.6L390.4 230.8L391.6 230.0L392.9 229.2L394.2 228.4L395.5 227.6L396.7 226.8L398.0 226.1L399.3 225.3L400.6 224.6L401.9 223.8L403.3 223.1L404.6 222.4L405.9 221.7L407.3 221.1L408.6 220.4L410.0 219.8L411.4 219.2L412.8 218.7L414.2 218.1L415.6 217.6L417.0 217.2L418.5 216.8L419.9 216.4L421.4 216.1L422.9 215.8L424.3 215.5L425.8 215.4L427.3 215.2L428.8 215.1L430.3 215.1L431.8 215.1L433.3 215.1L434.8 215.2L436.3 215.3L437.8 215.5L439.3 215.7L440.8 215.9L442.3 216.2L443.7 216.5L445.2 216.8L446.7 217.2L448.1 217.6L449.5 218.0L451.0 218.5L452.4 218.9L453.8 219.4L455.2 220.0L456.6 220.5L458.0 221.1L459.4 221.6L460.8 222.2L462.2 222.9L463.5 223.5L464.9 224.1L466.2 224.8L467.6 225.5L468.9 226.2L470.2 226.9L471.5 227.6L472.8 228.3L474.1 229.1L475.4 229.8L476.7 230.6L478.0 231.4L479.3 232.2L480.6 233.0L481.8 233.8L483.1 234.6L484.4 235.4L485.6 236.2L486.9 237.1L488.1 237.9L489.3 238.8L490.6 239.6L491.8 240.5L493.0 241.3L494.2 242.2L495.5 243.1L496.7 244.0L497.9 244.9L499.1 245.8L500.3 246.7L501.5 247.6L502.7 248.5L503.9 249.4L505.1 250.3L506.3 251.2L507.4 252.1L508.6 253.1L509.8 254.0L511.0 254.9L512.1 255.9L513.3 256.8L514.5 257.8L515.7 258.7L516.8 259.6L518.0 260.6L519.2 261.5L520.3 262.5L521.5 263.4L522.6 264.4L523.8 265.4L524.9 266.3L526.1 267.3L527.2 268.2L528.4 269.2L529.5 270.2L530.7 271.1L531.8 272.1L533.0 273.1L534.1 274.0L535.3 275.0L536.4 276.0L537.6 276.9L538.7 277.9L539.9 278.9L541.0 279.9L542.2 280.8L543.3 281.8L544.5 282.8L545.6 283.7L546.8 284.7L547.9 285.7L549.1 286.6L550.2 287.6L551.4 288.6L552.5 289.5L553.7 290.5L554.8 291.5L556.0 292.4L557.1 293.4L558.3 294.3L559.4 295.3L560.6 296.2L561.7 297.2L562.9 298.1L564.1 299.1L565.2 300.0L566.4 301.0L567.6 301.9L568.7 302.9L569.9 303.8L571.1 304.7L572.3 305.7L573.4 306.6L574.6 307.5L575.8 308.5L577.0 309.4L578.2 310.3L579.4 311.2L580.5 312.2L581.7 313.1L582.9 314.0L584.1 314.9L585.3 315.8L586.5 316.7L587.7 317.7L588.9 318.6L590.1 319.5L591.3 320.4L592.5 321.3L593.7 322.2L594.9 323.1L596.1 324.0L597.3 324.9L598.5 325.8L599.7 326.7L600.9 327.6L602.1 328.5L603.3 329.4L604.5 330.3L605.7 331.2L606.9 332.1L608.1 333.0L609.3 333.9L610.5 334.8L611.7 335.7L612.9 336.6L614.1 337.5L615.3 338.4L616.5 339.2L617.7 340.1L618.9 341.0L620.1 341.9L621.3 342.8L622.6 343.7L623.8 344.6L625.0 345.5L626.2 346.4L627.4 347.3L628.6 348.2L629.8 349.1L631.0 350.0L632.2 350.9L633.4 351.8L634.6 352.7L635.8 353.6L637.0 354.6L638.2 355.5L639.3 356.4L640.5 357.3L641.7 358.2L642.9 359.1L644.1 360.0L645.3 360.9L646.5 361.9L647.7 362.8L648.9 363.7L650.1 364.6L651.2 365.5L652.4 366.5L653.6 367.4L654.8 368.3L656.0 369.2L657.2 370.2L658.3 371.1L659.5 372.0L660.7 372.9L661.9 373.9L663.1 374.8L664.2 375.7L665.4 376.7L666.6 377.6L667.8 378.5L669.0 379.4L670.1 380.4L671.3 381.3L672.5 382.2L673.7 383.2L674.9 384.1L676.0 385.0L677.2 386.0L678.4 386.9L679.6 387.8L680.7 388.7L681.9 389.7L683.1 390.6L684.3 391.5L685.5 392.4L686.7 393.4L687.8 394.3L689.0 395.2L690.2 396.1L691.4 397.1L692.6 398.0L693.8 398.9L694.9 399.8L696.1 400.8L697.3 401.7L698.5 402.6L699.7 403.5L700.9 404.4L702.1 405.3L703.3 406.2L704.5 407.2L705.7 408.1L706.9 409.0L708.1 409.9L709.2 410.8L710.4 411.7L711.7 412.6L712.9 413.5L714.1 414.4L715.3 415.3L716.5 416.2L717.7 417.1L718.9 418.0L720.1 418.8L721.3 419.7L722.5 420.6L723.7 421.5L725.0 422.4L726.2 423.2L727.4 424.1L728.6 425.0L729.9 425.8L731.1 426.7L732.3 427.6L733.6 428.4L734.8 429.3L736.0 430.1L737.3 431.0L738.5 431.8L739.8 432.6L741.0 433.5L742.3 434.3L743.5 435.1L744.8 436.0L746.0 436.8L747.3 437.6L748.5 438.4L749.8 439.2L751.1 440.0L752.3 440.9L753.6 441.7L754.9 442.5L756.1 443.3L757.4 444.1L758.7 444.9L759.9 445.7L761.2 446.5L762.4 447.3L763.7 448.1L765.0 449.0L766.2 449.8L767.5 450.6L768.8 451.4L770.0 452.2L771.3 453.0L772.5 453.9L773.8 454.7L775.0 455.5L776.3 456.3L777.5 457.2L778.8 458.0L780.0 458.9L781.3 459.7L782.5 460.6L783.7 461.4L785.0 462.3L786.2 463.1L787.4 464.0L788.6 464.9L789.9 465.7L791.1 466.6L792.3 467.5L793.5 468.4L794.7 469.3L795.9 470.2L797.1 471.1L798.3 472.0L799.5 472.9L800.7 473.8L801.9 474.7L803.1 475.7L804.3 476.6L805.4 477.5L806.6 478.5L807.8 479.4L808.9 480.3L810.1 481.3L811.3 482.2L812.4 483.2L813.6 484.2L814.7 485.1L815.9 486.1L817.0 487.1L818.2 488.0L819.3 489.0L820.4 490.0L821.6 491.0L822.7 492.0L823.8 493.0L824.9 494.0L826.1 495.0L827.2 496.0L828.3 497.0L829.4 498.0L830.5 499.0L831.6 500.0L832.7 501.1L833.8 502.1L834.9 503.1L836.0 504.2L837.0 505.2L838.1 506.3L839.2 507.3L840.3 508.3L841.3 509.4L842.4 510.5L843.5 511.5L844.5 512.6L845.6 513.7L846.6 514.7L847.7 515.8L848.7 516.9L849.8 518.0L850.8 519.0L851.9 520.1L852.9 521.2L853.9 522.3L854.9 523.4L856.0 524.5L857.0 525.6L858.0 526.7L859.0 527.8L860.0 528.9L861.0 530.0L862.0 531.2L863.0 532.3L864.0 533.4L865.0 534.5L866.0 535.7L867.0 536.8L868.0 537.9L869.0 539.1L869.9 540.2L870.9 541.3L871.9 542.5L872.9 543.6L873.8 544.8L874.8 545.9L875.8 547.1L876.7 548.2L877.7 549.4L878.6 550.6L879.6 551.7L880.5 552.9L881.5 554.0L882.4 555.2L883.4 556.4L884.3 557.5L885.2 558.7L886.2 559.9L887.1 561.1L888.1 562.2L889.0 563.4L889.9 564.6L890.8 565.8L891.8 567.0L892.7 568.1L893.6 569.3L894.5 570.5L895.5 571.7L896.4 572.9L897.3 574.1L898.2 575.2L899.1 576.4L900.1 577.6L901.0 578.8L901.9 580.0L902.8 581.2L903.7 582.4L904.6 583.6L905.5 584.8L906.4 586.0L907.4 587.2L908.3 588.4L909.2 589.6L910.1 590.8L911.0 592.0L911.9 593.2L912.8 594.4L913.7 595.6L914.6 596.8L915.5 598.0L916.4 599.2L917.3 600.4L918.2 601.6L919.1 602.8L920.0 604.0L920.9 605.2L921.8 606.4L922.7 607.6L923.6 608.8L924.5 610.0L925.4 611.2L926.3 612.4L927.2 613.6L928.1 614.8L929.0 616.0L929.9 617.2L930.8 618.4L931.7 619.6L932.6 620.8L933.5 622.0L934.4 623.2L935.3 624.4L936.2 625.6L937.1 626.8L938.0 628.0L938.9 629.2L939.8 630.4L940.7 631.6L941.6 632.8L942.5 634.0L943.4 635.2L944.4 636.4L945.3 637.6L946.2 638.8L947.1 640.0L948.0 641.2L948.9 642.4L949.8 643.6L950.7 644.8L951.6 646.0L952.5 647.2L953.4 648.4L954.3 649.5L955.2 650.7L956.1 651.9L957.0 653.1L957.9 654.3L958.9 655.5L959.8 656.7L960.7 657.9L961.6 659.1L962.5 660.3L963.4 661.5L964.3 662.7L965.2 663.9L966.2 665.1L967.1 666.2L968.0 667.4L968.9 668.6L969.8 669.8L970.8 671.0L971.7 672.2L972.6 673.4L973.5 674.6L974.4 675.7L975.4 676.9L976.3 678.1L977.2 679.3L978.1 680.5L979.1 681.6L980.0 682.8L980.9 684.0L981.9 685.2L982.8 686.3L983.7 687.5L984.7 688.7L985.6 689.9L986.6 691.0L987.5 692.2L988.4 693.4L989.4 694.5L990.3 695.7L991.3 696.9L992.2 698.0L993.2 699.2L994.1 700.4L995.1 701.5L996.0 702.7L997.0 703.8L997.9 705.0L998.9 706.2L999.9 707.3L1000.8 708.5L1001.8 709.6L1002.8 710.8L1003.7 711.9L1004.7 713.1L1005.7 714.2L1006.7 715.3L1007.6 716.5L1008.6 717.6L1009.6 718.7L1010.6 719.9L1011.6 721.0L1012.6 722.1L1013.5 723.3L1014.5 724.4L1015.5 725.5L1016.5 726.6L1017.5 727.8L1018.5 728.9L1019.6 730.0L1020.6 731.1L1021.6 732.2L1022.6 733.3L1023.6 734.4L1024.6 735.5L1025.7 736.6L1026.7 737.7L1027.7 738.8L1028.8 739.9L1029.8 741.0L1030.8 742.0L1031.9 743.1L1032.9 744.2L1034.0 745.3L1035.0 746.3L1036.1 747.4"/>
<path d="M118.5 839.9L118.8 838.4L119.2 836.9L119.5 835.5L119.8 834.0L120.1 832.5L120.4 831.0L120.7 829.6L121.0 828.1L121.3 826.6L121.6 825.2L121.9 823.7L122.2 822.2L122.5 820.7L122.8 819.3L123.1 817.8L123.4 816.3L123.8 814.9L124.1 813.4L124.4 811.9L124.7 810.4L125.0 809.0L125.3 807.5L125.6 806.0L125.9 804.6L126.2 803.1L126.5 801.6L126.8 800.1L127.1 798.7L127.4 797.2L127.8 795.7L128.1 794.3L128.4 792.8L128.7 791.3L129.0 789.8L129.3 788.4L129.6 786.9L129.9 785.4L130.2 784.0L130.5 782.5L130.8 781.0L131.2 779.6L131.5 778.1L131.8 776.6L132.1 775.1L132.4 773.7L132.7 772.2L133.0 770.7L133.3 769.3L133.6 767.8L134.0 766.3L134.3 764.8L134.6 763.4L134.9 761.9L135.2 760.4L135.5 759.0L135.8 757.5L136.1 756.0L136.4 754.6L136.8 753.1L137.1 751.6L137.4 750.1L137.7 748.7L138.0 747.2L138.3 745.7L138.6 744.3L138.9 742.8L139.3 741.3L139.6 739.9L139.9 738.4L140.2 736.9L140.5 735.4L140.8 734.0L141.1 732.5L141.5 731.0L141.8 729.6L142.1 728.1L142.4 726.6L142.7 725.2L143.0 723.7L143.4 722.2L143.7 720.8L144.0 719.3L144.3 717.8L144.6 716.3L144.9 714.9L145.3 713.4L145.6 711.9L145.9 710.5L146.2 709.0L146.5 707.5L146.8 706.1L147.2 704.6L147.5 703.1L147.8 701.7L148.1 700.2L148.4 698.7L148.8 697.2L149.1 695.8L149.4 694.3L149.7 692.8L150.0 691.4L150.4 689.9L150.7 688.4L151.0 687.0L151.3 685.5L151.6 684.0L152.0 682.6L152.3 681.1L152.6 679.6L152.9 678.2L153.3 676.7L153.6 675.2L153.9 673.8L154.2 672.3L154.5 670.8L154.9 669.4L155.2 667.9L155.5 666.4L155.8 665.0L156.2 663.5L156.5 662.0L156.8 660.5L157.1 659.1L157.5 657.6L157.8 656.1L158.1 654.7L158.4 653.2L158.8 651.7L159.1 650.3L159.4 648.8L159.7 647.3L160.1 645.9L160.4 644.4L160.7 642.9L161.0 641.5L161.4 640.0L161.7 638.5L162.0 637.1L162.3 635.6L162.7 634.1L163.0 632.7L163.3 631.2L163.6 629.7L164.0 628.3L164.3 626.8L164.6 625.3L164.9 623.9L165.3 622.4L165.6 620.9L165.9 619.5L166.3 618.0L166.6 616.5L166.9 615.1L167.2 613.6L167.6 612.1L167.9 610.7L168.2 609.2L168.5 607.7L168.9 606.3L169.2 604.8L169.5 603.3L169.9 601.9L170.2 600.4L170.5 598.9L170.8 597.5L171.2 596.0L171.5 594.5L171.8 593.1L172.2 591.6L172.5 590.1L172.8 588.7L173.1 587.2L173.5 585.7L173.8 584.3L174.1 582.8L174.5 581.3L174.8 579.9L175.1 578.4L175.5 576.9L175.8 575.5L176.1 574.0L176.4 572.5L176.8 571.1L177.1 569.6L177.4 568.1L177.8 566.7L178.1 565.2L178.4 563.7L178.8 562.3L179.1 560.8L179.4 559.3L179.8 557.9L180.1 556.4L180.4 554.9L180.8 553.5L181.1 552.0L181.4 550.5L181.8 549.1L182.1 547.6L182.4 546.2L182.8 544.7L183.1 543.2L183.4 541.8L183.8 540.3L184.1 538.8L184.5 537.4L184.8 535.9L185.1 534.4L185.5 533.0L185.8 531.5L186.1 530.0L186.5 528.6L186.8 527.1L187.2 525.7L187.5 524.2L187.9 522.7L188.2 521.3L188.5 519.8L188.9 518.3L189.2 516.9L189.6 515.4L189.9 514.0L190.3 512.5L190.6 511.0L191.0 509.6L191.3 508.1L191.7 506.6L192.0 505.2L192.4 503.7L192.7 502.3L193.1 500.8L193.4 499.3L193.8 497.9L194.1 496.4L194.5 495.0L194.9 493.5L195.2 492.0L195.6 490.6L195.9 489.1L196.3 487.7L196.7 486.2L197.0 484.7L197.4 483.3L197.7 481.8L198.1 480.4L198.5 478.9L198.8 477.5L199.2 476.0L199.6 474.5L200.0 473.1L200.3 471.6L200.7 470.2L201.1 468.7L201.5 467.3L201.8 465.8L202.2 464.3L202.6 462.9L203.0 461.4L203.3 460.0L203.7 458.5L204.1 457.1L204.5 455.6L204.9 454.2L205.3 452.7L205.7 451.3L206.1 449.8L206.4 448.4L206.8 446.9L207.2 445.5L207.6 444.0L208.0 442.6L208.4 441.1L208.8 439.7L209.2 438.2L209.6 436.8L210.0 435.3L210.5 433.9L210.9 432.4L211.3 431.0L211.7 429.6L212.1 428.1L212.5 426.7L212.9 425.2L213.4 423.8L213.8 422.3L214.2 420.9L214.6 419.5L215.1 418.0L215.5 416.6L215.9 415.1L216.4 413.7L216.8 412.3L217.3 410.8L217.7 409.4L218.1 408.0L218.6 406.5L219.0 405.1L219.5 403.6L220.0 402.2L220.4 400.8L220.9 399.4L221.3 397.9L221.8 396.5L222.3 395.1L222.7 393.6L223.2 392.2L223.7 390.8L224.2 389.4L224.7 388.0L225.2 386.5L225.7 385.1L226.2 383.7L226.7 382.3L227.2 380.9L227.7 379.5L228.2 378.1L228.8 376.6L229.3 375.2L229.9 373.8L230.4 372.4L231.0 371.0L231.5 369.7L232.1 368.3L232.7 366.9L233.3 365.5L233.9 364.1L234.5 362.8L235.1 361.4L235.8 360.0L236.4 358.7L237.1 357.3L237.7 356.0L238.4 354.6L239.1 353.3L239.9 352.0L240.6 350.7L241.4 349.4L242.1 348.1L242.9 346.8L243.7 345.6L244.6 344.3L245.4 343.1L246.3 341.8L247.2 340.6L248.1 339.4L249.0 338.3L250.0 337.1L251.0 336.0L252.0 334.9L253.0 333.8L254.1 332.7L255.2 331.7L256.3 330.6L257.4 329.6L258.5 328.7L259.7 327.7L260.9 326.8L262.1 325.9L263.3 325.1L264.6 324.2L265.9 323.4L267.2 322.7L268.5 321.9L269.8 321.2L271.1 320.5L272.5 319.8L273.8 319.2L275.2 318.6L276.6 318.0L278.0 317.5L279.4 316.9L280.8 316.4L282.2 315.9L283.6 315.4L285.1 315.0L286.5 314.5L287.9 314.0L289.4 313.6L290.8 313.2L292.3 312.8L293.7 312.3L295.1 311.9L296.6 311.5L298.0 311.1L299.5 310.6L300.9 310.2L302.3 309.7L303.8 309.3L305.2 308.8L306.6 308.3L308.0 307.8L309.4 307.3L310.9 306.8L312.3 306.3L313.7 305.7L315.1 305.2L316.5 304.6L317.8 304.1L319.2 303.5L320.6 302.9L322.0 302.3L323.4 301.7L324.7 301.0L326.1 300.4L327.4 299.7L328.8 299.1L330.1 298.4L331.5 297.7L332.8 297.0L334.1 296.3L335.5 295.6L336.8 294.9L338.1 294.2L339.4 293.4L340.7 292.7L342.0 291.9L343.3 291.1L344.6 290.3L345.8 289.5L347.1 288.7L348.4 287.9L349.6 287.1L350.9 286.3L352.1 285.4L353.4 284.6L354.6 283.7L355.8 282.8L357.0 282.0L358.2 281.1L359.5 280.2L360.7 279.3L361.8 278.4L363.0 277.4L364.2 276.5L365.4 275.6L366.6 274.6L367.7 273.7L368.9 272.7L370.0 271.8L371.2 270.8L372.4 269.8L373.5 268.9L374.7 267.9L375.8 266.9L377.0 266.0L378.1 265.0L379.3 264.1L380.4 263.1L381.6 262.1L382.8 261.2L383.9 260.2L385.1 259.3L386.3 258.4L387.5 257.5L388.7 256.5L389.9 255.6L391.1 254.7L392.3 253.9L393.5 253.0L394.7 252.1L396.0 251.3L397.2 250.5L398.5 249.7L399.8 248.9L401.1 248.1L402.4 247.4L403.7 246.6L405.0 246.0L406.4 245.3L407.8 244.7L409.1 244.1L410.5 243.5L412.0 243.0L413.4 242.5L414.8 242.1L416.3 241.7L417.7 241.4L419.2 241.1L420.7 240.9L422.2 240.7L423.7 240.6L425.2 240.6L426.7 240.5L428.2 240.6L429.7 240.7L431.2 240.8L432.7 241.0L434.2 241.2L435.7 241.5L437.1 241.8L438.6 242.1L440.1 242.5L441.5 242.9L442.9 243.3L444.4 243.8L445.8 244.3L447.2 244.8L448.6 245.4L450.0 245.9L451.4 246.5L452.7 247.1L454.1 247.8L455.4 248.4L456.8 249.1L458.1 249.8L459.5 250.5L460.8 251.2L462.1 252.0L463.4 252.7L464.7 253.5L466.0 254.3L467.2 255.0L468.5 255.8L469.8 256.7L471.0 257.5L472.3 258.3L473.5 259.1L474.8 260.0L476.0 260.9L477.2 261.7L478.5 262.6L479.7 263.5L480.9 264.4L482.1 265.3L483.3 266.2L484.5 267.1L485.7 268.0L486.9 268.9L488.1 269.8L489.2 270.8L490.4 271.7L491.6 272.6L492.8 273.6L493.9 274.5L495.1 275.5L496.2 276.5L497.4 277.4L498.5 278.4L499.7 279.3L500.8 280.3L502.0 281.3L503.1 282.3L504.3 283.3L505.4 284.2L506.5 285.2L507.7 286.2L508.8 287.2L509.9 288.2L511.1 289.2L512.2 290.2L513.3 291.2L514.4 292.2L515.5 293.2L516.7 294.2L517.8 295.2L518.9 296.2L520.0 297.2L521.1 298.2L522.2 299.2L523.4 300.2L524.5 301.2L525.6 302.2L526.7 303.3L527.8 304.3L528.9 305.3L530.0 306.3L531.1 307.3L532.3 308.3L533.4 309.3L534.5 310.3L535.6 311.3L536.7 312.4L537.8 313.4L538.9 314.4L540.0 315.4L541.2 316.4L542.3 317.4L543.4 318.4L544.5 319.4L545.6 320.4L546.7 321.4L547.9 322.4L549.0 323.4L550.1 324.4L551.2 325.4L552.3 326.4L553.5 327.4L554.6 328.4L555.7 329.4L556.8 330.4L558.0 331.4L559.1 332.4L560.2 333.4L561.4 334.4L562.5 335.3L563.7 336.3L564.8 337.3L565.9 338.3L567.1 339.2L568.2 340.2L569.4 341.2L570.6 342.1L571.7 343.1L572.9 344.0L574.0 345.0L575.2 345.9L576.4 346.9L577.6 347.8L578.7 348.8L579.9 349.7L581.1 350.6L582.3 351.5L583.5 352.4L584.7 353.3L585.9 354.3L587.1 355.2L588.3 356.1L589.5 357.0L590.7 357.8L591.9 358.7L593.1 359.6L594.3 360.5L595.6 361.4L596.8 362.3L598.0 363.1L599.2 364.0L600.5 364.9L601.7 365.7L602.9 366.6L604.2 367.4L605.4 368.3L606.6 369.1L607.9 370.0L609.1 370.8L610.4 371.7L611.6 372.5L612.9 373.4L614.1 374.2L615.4 375.0L616.6 375.9L617.9 376.7L619.1 377.5L620.4 378.4L621.6 379.2L622.9 380.0L624.1 380.8L625.4 381.7L626.6 382.5L627.9 383.3L629.1 384.2L630.4 385.0L631.7 385.8L632.9 386.6L634.2 387.5L635.4 388.3L636.7 389.1L637.9 390.0L639.2 390.8L640.4 391.6L641.7 392.5L642.9 393.3L644.2 394.1L645.4 395.0L646.7 395.8L647.9 396.7L649.2 397.5L650.4 398.3L651.6 399.2L652.9 400.0L654.1 400.9L655.4 401.7L656.6 402.6L657.9 403.4L659.1 404.3L660.3 405.1L661.6 405.9L662.8 406.8L664.1 407.6L665.3 408.5L666.5 409.3L667.8 410.2L669.0 411.0L670.3 411.9L671.5 412.7L672.7 413.6L674.0 414.4L675.2 415.3L676.5 416.1L677.7 417.0L678.9 417.8L680.2 418.7L681.4 419.5L682.7 420.4L683.9 421.2L685.1 422.1L686.4 422.9L687.6 423.8L688.9 424.6L690.1 425.5L691.3 426.3L692.6 427.2L693.8 428.0L695.1 428.8L696.3 429.7L697.6 430.5L698.8 431.4L700.1 432.2L701.3 433.0L702.6 433.9L703.8 434.7L705.1 435.5L706.3 436.4L707.6 437.2L708.8 438.0L710.1 438.9L711.3 439.7L712.6 440.5L713.9 441.3L715.1 442.1L716.4 443.0L717.6 443.8L718.9 444.6L720.2 445.4L721.4 446.2L722.7 447.0L724.0 447.8L725.2 448.6L726.5 449.4L727.8 450.2L729.1 451.0L730.3 451.8L731.6 452.6L732.9 453.4L734.2 454.2L735.5 455.0L736.7 455.7L738.0 456.5L739.3 457.3L740.6 458.1L741.9 458.8L743.2 459.6L744.5 460.3L745.8 461.1L747.1 461.9L748.4 462.6L749.7 463.4L751.0 464.1L752.3 464.9L753.6 465.7L754.9 466.4L756.2 467.2L757.5 468.0L758.7 468.7L760.0 469.5L761.3 470.3L762.6 471.1L763.9 471.9L765.2 472.7L766.4 473.5L767.7 474.3L769.0 475.1L770.2 475.9L771.5 476.7L772.7 477.5L774.0 478.4L775.2 479.2L776.5 480.1L777.7 480.9L778.9 481.8L780.1 482.7L781.3 483.6L782.6 484.5L783.8 485.4L785.0 486.3L786.2 487.2L787.3 488.1L788.5 489.0L789.7 490.0L790.9 490.9L792.0 491.9L793.2 492.8L794.4 493.8L795.5 494.7L796.7 495.7L797.8 496.7L798.9 497.7L800.1 498.7L801.2 499.6L802.3 500.6L803.5 501.6L804.6 502.6L805.7 503.6L806.8 504.6L807.9 505.7L809.0 506.7L810.1 507.7L811.2 508.7L812.3 509.8L813.4 510.8L814.5 511.8L815.6 512.9L816.7 513.9L817.8 514.9L818.8 516.0L819.9 517.0L821.0 518.1L822.1 519.1L823.1 520.2L824.2 521.3L825.2 522.3L826.3 523.4L827.4 524.5L828.4 525.5L829.5 526.6L830.5 527.7L831.6 528.8L832.6 529.8L833.7 530.9L834.7 532.0L835.8 533.1L836.8 534.2L837.8 535.3L838.9 536.3L839.9 537.4L840.9 538.5L842.0 539.6L843.0 540.7L844.0 541.8L845.0 542.9L846.1 544.0L847.1 545.1L848.1 546.2L849.1 547.3L850.1 548.4L851.2 549.5L852.2 550.6L853.2 551.7L854.2 552.9L855.2 554.0L856.2 555.1L857.2 556.2L858.3 557.3L859.3 558.4L860.3 559.5L861.3 560.6L862.3 561.8L863.3 562.9L864.3 564.0L865.3 565.1L866.3 566.2L867.3 567.4L868.3 568.5L869.3 569.6L870.3 570.7L871.3 571.8L872.3 573.0L873.3 574.1L874.3 575.2L875.3 576.3L876.3 577.5L877.3 578.6L878.3 579.7L879.3 580.8L880.3 582.0L881.3 583.1L882.3 584.2L883.2 585.4L884.2 586.5L885.2 587.6L886.2 588.7L887.2 589.9L888.2 591.0L889.2 592.1L890.2 593.3L891.2 594.4L892.2 595.5L893.2 596.6L894.2 597.8L895.2 598.9L896.2 600.0L897.2 601.2L898.1 602.3L899.1 603.4L900.1 604.5L901.1 605.7L902.1 606.8L903.1 607.9L904.1 609.0L905.1 610.2L906.1 611.3L907.1 612.4L908.1 613.5L909.1 614.7L910.1 615.8L911.1 616.9L912.1 618.1L913.1 619.2L914.1 620.3L915.1 621.4L916.1 622.5L917.1 623.7L918.1 624.8L919.1 625.9L920.0 627.0L921.0 628.2L922.0 629.3L923.0 630.4L924.0 631.5L925.0 632.7L926.0 633.8L927.0 634.9L928.0 636.0L929.0 637.1L930.0 638.3L931.0 639.4L932.0 640.5L933.1 641.6L934.1 642.7L935.1 643.9L936.1 645.0L937.1 646.1L938.1 647.2L939.1 648.3L940.1 649.5L941.1 650.6L942.1 651.7L943.1 652.8L944.1 653.9L945.1 655.0L946.1 656.2L947.1 657.3L948.1 658.4L949.1 659.5L950.1 660.6L951.2 661.7L952.2 662.8L953.2 664.0L954.2 665.1L955.2 666.2L956.2 667.3L957.2 668.4L958.2 669.5L959.2 670.6L960.3 671.7L961.3 672.8L962.3 674.0L963.3 675.1L964.3 676.2L965.3 677.3L966.4 678.4L967.4 679.5L968.4 680.6L969.4 681.7L970.4 682.8L971.4 683.9L972.5 685.0L973.5 686.1L974.5 687.2L975.5 688.3L976.6 689.4L977.6 690.5L978.6 691.6L979.6 692.7L980.6 693.8L981.7 694.9L982.7 696.0L983.7 697.1L984.8 698.2L985.8 699.3L986.8 700.4L987.8 701.5L988.9 702.6L989.9 703.7L990.9 704.8L992.0 705.9L993.0 707.0L994.0 708.0L995.1 709.1L996.1 710.2L997.1 711.3L998.2 712.4L999.2 713.5L1000.3 714.6L1001.3 715.7L1002.3 716.7L1003.4 717.8L1004.4 718.9L1005.5 720.0L1006.5 721.1L1007.6 722.2L1008.6 723.2L1009.6 724.3L1010.7 725.4L1011.7 726.5L1012.8 727.6L1013.8 728.6L1014.9 729.7L1015.9 730.8L1017.0 731.8L1018.0 732.9L1019.1 734.0L1020.2 735.1L1021.2 736.1L1022.3 737.2L1023.3 738.3L1024.4 739.3L1025.4 740.4L1026.5 741.5L1027.6 742.5L1028.6 743.6L1029.7 744.7L1030.8 745.7L1031.8 746.8L1032.9 747.8L1034.0 748.9L1035.0 749.9L1036.1 751.0"/>
<path d="M120.5 838.5L120.8 837.1L121.2 835.6L121.5 834.1L121.8 832.7L122.2 831.2L122.5 829.7L122.8 828.3L123.2 826.8L123.5 825.3L123.8 823.9L124.2 822.4L124.5 820.9L124.8 819.5L125.1 818.0L125.5 816.5L125.8 815.1L126.1 813.6L126.5 812.1L126.8 810.7L127.1 809.2L127.4 807.7L127.8 806.3L128.1 804.8L128.4 803.3L128.7 801.9L129.0 800.4L129.4 798.9L129.7 797.5L130.0 796.0L130.3 794.5L130.7 793.1L131.0 791.6L131.3 790.1L131.6 788.7L131.9 787.2L132.2 785.7L132.6 784.2L132.9 782.8L133.2 781.3L133.5 779.8L133.8 778.4L134.1 776.9L134.5 775.4L134.8 774.0L135.1 772.5L135.4 771.0L135.7 769.6L136.0 768.1L136.3 766.6L136.6 765.1L137.0 763.7L137.3 762.2L137.6 760.7L137.9 759.3L138.2 757.8L138.5 756.3L138.8 754.9L139.1 753.4L139.4 751.9L139.8 750.4L140.1 749.0L140.4 747.5L140.7 746.0L141.0 744.6L141.3 743.1L141.6 741.6L141.9 740.1L142.2 738.7L142.5 737.2L142.8 735.7L143.1 734.3L143.4 732.8L143.7 731.3L144.1 729.8L144.4 728.4L144.7 726.9L145.0 725.4L145.3 724.0L145.6 722.5L145.9 721.0L146.2 719.6L146.5 718.1L146.8 716.6L147.1 715.1L147.4 713.7L147.7 712.2L148.0 710.7L148.3 709.2L148.6 707.8L148.9 706.3L149.2 704.8L149.5 703.4L149.8 701.9L150.2 700.4L150.5 698.9L150.8 697.5L151.1 696.0L151.4 694.5L151.7 693.1L152.0 691.6L152.3 690.1L152.6 688.6L152.9 687.2L153.2 685.7L153.5 684.2L153.8 682.8L154.1 681.3L154.4 679.8L154.7 678.3L155.0 676.9L155.3 675.4L155.6 673.9L155.9 672.5L156.2 671.0L156.5 669.5L156.8 668.0L157.2 666.6L157.5 665.1L157.8 663.6L158.1 662.2L158.4 660.7L158.7 659.2L159.0 657.7L159.3 656.3L159.6 654.8L159.9 653.3L160.2 651.9L160.5 650.4L160.8 648.9L161.1 647.4L161.4 646.0L161.7 644.5L162.1 643.0L162.4 641.6L162.7 640.1L163.0 638.6L163.3 637.2L163.6 635.7L163.9 634.2L164.2 632.7L164.5 631.3L164.8 629.8L165.1 628.3L165.4 626.9L165.8 625.4L166.1 623.9L166.4 622.4L166.7 621.0L167.0 619.5L167.3 618.0L167.6 616.6L167.9 615.1L168.3 613.6L168.6 612.2L168.9 610.7L169.2 609.2L169.5 607.7L169.8 606.3L170.1 604.8L170.5 603.3L170.8 601.9L171.1 600.4L171.4 598.9L171.7 597.5L172.0 596.0L172.4 594.5L172.7 593.1L173.0 591.6L173.3 590.1L173.6 588.7L174.0 587.2L174.3 585.7L174.6 584.3L174.9 582.8L175.2 581.3L175.6 579.8L175.9 578.4L176.2 576.9L176.5 575.4L176.9 574.0L177.2 572.5L177.5 571.0L177.8 569.6L178.2 568.1L178.5 566.6L178.8 565.2L179.2 563.7L179.5 562.2L179.8 560.8L180.1 559.3L180.5 557.8L180.8 556.4L181.1 554.9L181.5 553.5L181.8 552.0L182.2 550.5L182.5 549.1L182.8 547.6L183.2 546.1L183.5 544.7L183.8 543.2L184.2 541.7L184.5 540.3L184.9 538.8L185.2 537.3L185.5 535.9L185.9 534.4L186.2 533.0L186.6 531.5L186.9 530.0L187.3 528.6L187.6 527.1L188.0 525.7L188.3 524.2L188.7 522.7L189.0 521.3L189.4 519.8L189.7 518.3L190.1 516.9L190.5 515.4L190.8 514.0L191.2 512.5L191.5 511.1L191.9 509.6L192.3 508.1L192.6 506.7L193.0 505.2L193.3 503.8L193.7 502.3L194.1 500.8L194.5 499.4L194.8 497.9L195.2 496.5L195.6 495.0L196.0 493.6L196.3 492.1L196.7 490.7L197.1 489.2L197.5 487.8L197.9 486.3L198.2 484.8L198.6 483.4L199.0 481.9L199.4 480.5L199.8 479.0L200.2 477.6L200.6 476.1L201.0 474.7L201.4 473.2L201.8 471.8L202.2 470.4L202.6 468.9L203.0 467.5L203.4 466.0L203.8 464.6L204.2 463.1L204.7 461.7L205.1 460.2L205.5 458.8L205.9 457.4L206.4 455.9L206.8 454.5L207.2 453.0L207.6 451.6L208.1 450.2L208.5 448.7L209.0 447.3L209.4 445.8L209.9 444.4L210.3 443.0L210.8 441.5L211.2 440.1L211.7 438.7L212.1 437.3L212.6 435.8L213.1 434.4L213.5 433.0L214.0 431.5L214.5 430.1L215.0 428.7L215.5 427.3L216.0 425.9L216.5 424.4L217.0 423.0L217.5 421.6L218.0 420.2L218.5 418.8L219.0 417.4L219.5 416.0L220.0 414.5L220.6 413.1L221.1 411.7L221.6 410.3L222.2 408.9L222.7 407.5L223.3 406.1L223.9 404.7L224.4 403.4L225.0 402.0L225.6 400.6L226.2 399.2L226.8 397.8L227.4 396.4L228.0 395.1L228.6 393.7L229.2 392.3L229.8 390.9L230.4 389.6L231.1 388.2L231.7 386.9L232.4 385.5L233.1 384.2L233.7 382.8L234.4 381.5L235.1 380.2L235.8 378.8L236.5 377.5L237.3 376.2L238.0 374.9L238.8 373.6L239.5 372.3L240.3 371.0L241.1 369.7L241.9 368.5L242.7 367.2L243.5 365.9L244.4 364.7L245.2 363.5L246.1 362.2L247.0 361.0L247.9 359.8L248.8 358.7L249.8 357.5L250.8 356.4L251.8 355.2L252.8 354.1L253.8 353.0L254.9 352.0L255.9 350.9L257.0 349.9L258.2 348.9L259.3 347.9L260.5 347.0L261.7 346.0L262.9 345.1L264.1 344.3L265.3 343.4L266.6 342.6L267.9 341.8L269.2 341.1L270.5 340.3L271.8 339.6L273.2 339.0L274.5 338.3L275.9 337.7L277.3 337.2L278.7 336.6L280.1 336.1L281.5 335.6L282.9 335.1L284.4 334.7L285.8 334.3L287.3 333.9L288.7 333.5L290.2 333.1L291.6 332.8L293.1 332.5L294.6 332.2L296.1 331.9L297.5 331.6L299.0 331.3L300.5 331.1L302.0 330.8L303.5 330.6L304.9 330.3L306.4 330.1L307.9 329.9L309.4 329.6L310.9 329.4L312.4 329.2L313.9 328.9L315.3 328.7L316.8 328.5L318.3 328.2L319.8 327.9L321.3 327.7L322.7 327.4L324.2 327.1L325.7 326.7L327.1 326.4L328.6 326.0L330.0 325.7L331.5 325.3L332.9 324.8L334.4 324.4L335.8 323.9L337.2 323.4L338.6 322.9L340.0 322.4L341.4 321.8L342.8 321.2L344.2 320.6L345.5 319.9L346.9 319.2L348.2 318.5L349.5 317.8L350.8 317.1L352.1 316.4L353.4 315.6L354.7 314.8L356.0 314.0L357.3 313.2L358.5 312.4L359.8 311.6L361.0 310.8L362.3 309.9L363.5 309.1L364.8 308.3L366.0 307.4L367.3 306.6L368.5 305.7L369.7 304.8L371.0 304.0L372.2 303.1L373.4 302.2L374.6 301.4L375.9 300.5L377.1 299.7L378.3 298.8L379.6 297.9L380.8 297.1L382.1 296.2L383.3 295.4L384.5 294.6L385.8 293.7L387.1 292.9L388.3 292.1L389.6 291.3L390.9 290.5L392.2 289.8L393.5 289.0L394.8 288.2L396.1 287.5L397.4 286.8L398.7 286.1L400.1 285.4L401.4 284.8L402.8 284.1L404.2 283.5L405.6 282.9L406.9 282.4L408.4 281.9L409.8 281.4L411.2 280.9L412.6 280.4L414.1 280.0L415.5 279.7L417.0 279.3L418.5 279.0L420.0 278.8L421.4 278.5L422.9 278.4L424.4 278.2L425.9 278.2L427.4 278.1L428.9 278.1L430.4 278.2L431.9 278.3L433.4 278.4L434.9 278.6L436.4 278.8L437.9 279.1L439.4 279.4L440.8 279.7L442.3 280.1L443.7 280.5L445.1 281.0L446.6 281.5L448.0 282.0L449.4 282.5L450.8 283.1L452.2 283.7L453.5 284.3L454.9 284.9L456.2 285.6L457.6 286.2L458.9 286.9L460.2 287.7L461.6 288.4L462.9 289.1L464.1 289.9L465.4 290.7L466.7 291.5L468.0 292.3L469.2 293.1L470.5 294.0L471.7 294.8L472.9 295.7L474.1 296.6L475.4 297.5L476.6 298.4L477.8 299.3L479.0 300.2L480.1 301.1L481.3 302.0L482.5 303.0L483.7 303.9L484.8 304.9L486.0 305.9L487.1 306.8L488.2 307.8L489.4 308.8L490.5 309.8L491.6 310.8L492.7 311.8L493.9 312.8L495.0 313.8L496.1 314.9L497.2 315.9L498.2 316.9L499.3 318.0L500.4 319.0L501.5 320.0L502.6 321.1L503.6 322.2L504.7 323.2L505.8 324.3L506.8 325.3L507.9 326.4L508.9 327.5L510.0 328.6L511.0 329.7L512.0 330.7L513.1 331.8L514.1 332.9L515.2 334.0L516.2 335.1L517.2 336.2L518.3 337.3L519.3 338.4L520.3 339.5L521.3 340.6L522.4 341.7L523.4 342.8L524.4 343.9L525.4 345.0L526.5 346.1L527.5 347.2L528.5 348.3L529.5 349.4L530.6 350.5L531.6 351.6L532.6 352.7L533.6 353.8L534.7 354.9L535.7 356.0L536.7 357.1L537.7 358.1L538.8 359.2L539.8 360.3L540.8 361.4L541.9 362.5L542.9 363.6L543.9 364.7L545.0 365.8L546.0 366.8L547.1 367.9L548.1 369.0L549.2 370.1L550.2 371.1L551.3 372.2L552.4 373.3L553.4 374.3L554.5 375.4L555.6 376.4L556.7 377.5L557.7 378.5L558.8 379.5L559.9 380.6L561.0 381.6L562.1 382.6L563.2 383.6L564.4 384.6L565.5 385.6L566.6 386.6L567.8 387.6L568.9 388.6L570.1 389.5L571.2 390.5L572.4 391.4L573.6 392.4L574.7 393.3L575.9 394.2L577.1 395.2L578.3 396.1L579.5 397.0L580.7 397.9L581.9 398.8L583.1 399.7L584.3 400.5L585.6 401.4L586.8 402.3L588.0 403.2L589.2 404.0L590.5 404.9L591.7 405.7L593.0 406.6L594.2 407.4L595.4 408.2L596.7 409.1L598.0 409.9L599.2 410.7L600.5 411.6L601.7 412.4L603.0 413.2L604.2 414.0L605.5 414.9L606.8 415.7L608.0 416.5L609.3 417.3L610.5 418.1L611.8 418.9L613.1 419.7L614.3 420.5L615.6 421.4L616.9 422.2L618.1 423.0L619.4 423.8L620.7 424.6L622.0 425.4L623.2 426.2L624.5 427.0L625.8 427.8L627.1 428.6L628.3 429.3L629.6 430.1L630.9 430.9L632.2 431.7L633.4 432.5L634.7 433.3L636.0 434.1L637.3 434.9L638.6 435.6L639.9 436.4L641.1 437.2L642.4 438.0L643.7 438.8L645.0 439.5L646.3 440.3L647.6 441.1L648.9 441.9L650.2 442.6L651.4 443.4L652.7 444.2L654.0 444.9L655.3 445.7L656.6 446.5L657.9 447.2L659.2 448.0L660.5 448.8L661.8 449.5L663.1 450.3L664.4 451.1L665.7 451.8L667.0 452.6L668.3 453.3L669.6 454.1L670.9 454.9L672.2 455.6L673.5 456.4L674.8 457.1L676.1 457.9L677.4 458.6L678.7 459.4L680.0 460.1L681.3 460.9L682.6 461.6L683.9 462.4L685.2 463.1L686.5 463.9L687.8 464.6L689.1 465.4L690.4 466.1L691.7 466.9L693.0 467.6L694.3 468.4L695.6 469.1L696.9 469.9L698.2 470.6L699.5 471.4L700.8 472.1L702.1 472.9L703.4 473.6L704.7 474.4L706.0 475.1L707.3 475.9L708.6 476.6L709.9 477.3L711.2 478.1L712.5 478.8L713.8 479.6L715.1 480.3L716.4 481.1L717.8 481.8L719.1 482.6L720.4 483.3L721.7 484.1L723.0 484.8L724.3 485.6L725.6 486.3L726.9 487.0L728.2 487.8L729.5 488.5L730.8 489.3L732.1 490.0L733.4 490.8L734.7 491.5L736.0 492.3L737.3 493.0L738.6 493.8L739.9 494.5L741.2 495.3L742.5 496.0L743.8 496.8L745.1 497.5L746.4 498.3L747.7 499.1L749.0 499.8L750.3 500.6L751.6 501.3L752.9 502.1L754.2 502.9L755.5 503.6L756.8 504.4L758.1 505.2L759.4 505.9L760.7 506.7L761.9 507.5L763.2 508.2L764.5 509.0L765.8 509.8L767.1 510.6L768.4 511.4L769.6 512.1L770.9 512.9L772.2 513.7L773.5 514.5L774.8 515.3L776.0 516.1L777.3 516.9L778.6 517.7L779.8 518.5L781.1 519.3L782.4 520.1L783.6 521.0L784.9 521.8L786.1 522.6L787.4 523.4L788.7 524.3L789.9 525.1L791.2 525.9L792.4 526.8L793.7 527.6L794.9 528.4L796.1 529.3L797.4 530.1L798.6 531.0L799.8 531.9L801.1 532.7L802.3 533.6L803.5 534.5L804.7 535.3L806.0 536.2L807.2 537.1L808.4 538.0L809.6 538.9L810.8 539.8L812.0 540.7L813.2 541.6L814.4 542.5L815.6 543.4L816.8 544.3L818.0 545.2L819.2 546.1L820.4 547.0L821.6 548.0L822.8 548.9L823.9 549.8L825.1 550.7L826.3 551.7L827.5 552.6L828.6 553.6L829.8 554.5L831.0 555.5L832.1 556.4L833.3 557.4L834.5 558.3L835.6 559.3L836.8 560.2L837.9 561.2L839.1 562.2L840.2 563.1L841.4 564.1L842.5 565.1L843.7 566.1L844.8 567.0L845.9 568.0L847.1 569.0L848.2 570.0L849.3 571.0L850.5 572.0L851.6 573.0L852.7 573.9L853.8 574.9L855.0 575.9L856.1 576.9L857.2 577.9L858.3 578.9L859.4 580.0L860.6 581.0L861.7 582.0L862.8 583.0L863.9 584.0L865.0 585.0L866.1 586.0L867.2 587.1L868.3 588.1L869.4 589.1L870.5 590.1L871.6 591.1L872.7 592.2L873.8 593.2L874.9 594.2L876.0 595.3L877.1 596.3L878.2 597.3L879.3 598.4L880.3 599.4L881.4 600.5L882.5 601.5L883.6 602.5L884.7 603.6L885.7 604.6L886.8 605.7L887.9 606.7L889.0 607.8L890.1 608.8L891.1 609.9L892.2 610.9L893.3 612.0L894.3 613.0L895.4 614.1L896.5 615.2L897.5 616.2L898.6 617.3L899.7 618.3L900.7 619.4L901.8 620.5L902.9 621.5L903.9 622.6L905.0 623.7L906.0 624.7L907.1 625.8L908.1 626.9L909.2 627.9L910.3 629.0L911.3 630.1L912.4 631.1L913.4 632.2L914.5 633.3L915.5 634.3L916.6 635.4L917.6 636.5L918.7 637.6L919.7 638.6L920.8 639.7L921.8 640.8L922.9 641.9L923.9 642.9L925.0 644.0L926.0 645.1L927.1 646.2L928.1 647.3L929.2 648.3L930.2 649.4L931.2 650.5L932.3 651.6L933.3 652.7L934.4 653.7L935.4 654.8L936.5 655.9L937.5 657.0L938.6 658.1L939.6 659.2L940.6 660.2L941.7 661.3L942.7 662.4L943.8 663.5L944.8 664.6L945.8 665.7L946.9 666.7L947.9 667.8L949.0 668.9L950.0 670.0L951.1 671.1L952.1 672.2L953.1 673.2L954.2 674.3L955.2 675.4L956.3 676.5L957.3 677.6L958.3 678.6L959.4 679.7L960.4 680.8L961.5 681.9L962.5 683.0L963.6 684.1L964.6 685.1L965.6 686.2L966.7 687.3L967.7 688.4L968.8 689.5L969.8 690.5L970.9 691.6L971.9 692.7L973.0 693.8L974.0 694.9L975.0 695.9L976.1 697.0L977.1 698.1L978.2 699.2L979.2 700.3L980.3 701.3L981.3 702.4L982.4 703.5L983.4 704.6L984.5 705.6L985.5 706.7L986.6 707.8L987.6 708.8L988.7 709.9L989.8 711.0L990.8 712.1L991.9 713.1L992.9 714.2L994.0 715.3L995.0 716.3L996.1 717.4L997.2 718.5L998.2 719.5L999.3 720.6L1000.3 721.6L1001.4 722.7L1002.5 723.8L1003.5 724.8L1004.6 725.9L1005.7 726.9L1006.7 728.0L1007.8 729.1L1008.9 730.1L1010.0 731.2L1011.0 732.2L1012.1 733.3L1013.2 734.3L1014.3 735.4L1015.3 736.4L1016.4 737.5L1017.5 738.5L1018.6 739.5L1019.7 740.6L1020.7 741.6L1021.8 742.7L1022.9 743.7L1024.0 744.7L1025.1 745.8L1026.2 746.8L1027.3 747.8L1028.4 748.9L1029.5 749.9L1030.6 750.9L1031.7 751.9L1032.8 753.0L1033.9 754.0L1035.0 755.0L1036.1 756.0"/>
<path d="M124.6 837.6L125.0 836.1L125.3 834.7L125.7 833.2L126.1 831.8L126.4 830.3L126.8 828.8L127.1 827.4L127.5 825.9L127.8 824.5L128.2 823.0L128.5 821.5L128.8 820.1L129.2 818.6L129.5 817.2L129.9 815.7L130.2 814.2L130.5 812.8L130.9 811.3L131.2 809.8L131.5 808.4L131.9 806.9L132.2 805.4L132.5 804.0L132.9 802.5L133.2 801.0L133.5 799.6L133.8 798.1L134.2 796.6L134.5 795.2L134.8 793.7L135.1 792.2L135.5 790.8L135.8 789.3L136.1 787.8L136.4 786.4L136.7 784.9L137.1 783.4L137.4 782.0L137.7 780.5L138.0 779.0L138.3 777.6L138.6 776.1L138.9 774.6L139.2 773.2L139.6 771.7L139.9 770.2L140.2 768.8L140.5 767.3L140.8 765.8L141.1 764.3L141.4 762.9L141.7 761.4L142.0 759.9L142.3 758.5L142.6 757.0L142.9 755.5L143.2 754.0L143.5 752.6L143.8 751.1L144.1 749.6L144.4 748.2L144.7 746.7L145.0 745.2L145.3 743.7L145.6 742.3L145.9 740.8L146.2 739.3L146.5 737.9L146.8 736.4L147.1 734.9L147.4 733.4L147.7 732.0L148.0 730.5L148.3 729.0L148.6 727.6L148.9 726.1L149.2 724.6L149.5 723.1L149.8 721.7L150.1 720.2L150.4 718.7L150.6 717.2L150.9 715.8L151.2 714.3L151.5 712.8L151.8 711.3L152.1 709.9L152.4 708.4L152.7 706.9L153.0 705.5L153.3 704.0L153.6 702.5L153.8 701.0L154.1 699.6L154.4 698.1L154.7 696.6L155.0 695.1L155.3 693.7L155.6 692.2L155.9 690.7L156.2 689.2L156.5 687.8L156.7 686.3L157.0 684.8L157.3 683.3L157.6 681.9L157.9 680.4L158.2 678.9L158.5 677.5L158.8 676.0L159.1 674.5L159.3 673.0L159.6 671.6L159.9 670.1L160.2 668.6L160.5 667.1L160.8 665.7L161.1 664.2L161.4 662.7L161.7 661.2L162.0 659.8L162.2 658.3L162.5 656.8L162.8 655.3L163.1 653.9L163.4 652.4L163.7 650.9L164.0 649.5L164.3 648.0L164.6 646.5L164.9 645.0L165.2 643.6L165.5 642.1L165.7 640.6L166.0 639.1L166.3 637.7L166.6 636.2L166.9 634.7L167.2 633.3L167.5 631.8L167.8 630.3L168.1 628.8L168.4 627.4L168.7 625.9L169.0 624.4L169.3 622.9L169.6 621.5L169.9 620.0L170.2 618.5L170.5 617.1L170.8 615.6L171.1 614.1L171.4 612.6L171.7 611.2L172.0 609.7L172.3 608.2L172.6 606.8L172.9 605.3L173.2 603.8L173.5 602.3L173.8 600.9L174.1 599.4L174.4 597.9L174.7 596.5L175.0 595.0L175.3 593.5L175.6 592.1L176.0 590.6L176.3 589.1L176.6 587.6L176.9 586.2L177.2 584.7L177.5 583.2L177.8 581.8L178.1 580.3L178.5 578.8L178.8 577.4L179.1 575.9L179.4 574.4L179.7 573.0L180.1 571.5L180.4 570.0L180.7 568.6L181.0 567.1L181.3 565.6L181.7 564.2L182.0 562.7L182.3 561.2L182.6 559.8L183.0 558.3L183.3 556.8L183.6 555.4L184.0 553.9L184.3 552.4L184.6 551.0L185.0 549.5L185.3 548.0L185.7 546.6L186.0 545.1L186.3 543.7L186.7 542.2L187.0 540.7L187.4 539.3L187.7 537.8L188.1 536.3L188.4 534.9L188.8 533.4L189.1 532.0L189.5 530.5L189.8 529.0L190.2 527.6L190.5 526.1L190.9 524.7L191.3 523.2L191.6 521.8L192.0 520.3L192.3 518.8L192.7 517.4L193.1 515.9L193.5 514.5L193.8 513.0L194.2 511.6L194.6 510.1L195.0 508.7L195.3 507.2L195.7 505.8L196.1 504.3L196.5 502.9L196.9 501.4L197.3 500.0L197.7 498.5L198.1 497.1L198.5 495.6L198.9 494.2L199.3 492.7L199.7 491.3L200.1 489.8L200.5 488.4L200.9 486.9L201.3 485.5L201.8 484.1L202.2 482.6L202.6 481.2L203.0 479.7L203.5 478.3L203.9 476.9L204.3 475.4L204.8 474.0L205.2 472.5L205.7 471.1L206.1 469.7L206.6 468.2L207.0 466.8L207.5 465.4L208.0 464.0L208.4 462.5L208.9 461.1L209.4 459.7L209.9 458.3L210.3 456.8L210.8 455.4L211.3 454.0L211.8 452.6L212.3 451.2L212.8 449.7L213.3 448.3L213.8 446.9L214.3 445.5L214.9 444.1L215.4 442.7L215.9 441.3L216.4 439.9L217.0 438.5L217.5 437.1L218.1 435.7L218.6 434.3L219.2 432.9L219.7 431.5L220.3 430.1L220.9 428.7L221.5 427.3L222.1 426.0L222.7 424.6L223.3 423.2L223.9 421.8L224.5 420.5L225.1 419.1L225.7 417.7L226.4 416.4L227.0 415.0L227.6 413.6L228.3 412.3L229.0 410.9L229.6 409.6L230.3 408.3L231.0 406.9L231.7 405.6L232.4 404.3L233.1 403.0L233.9 401.6L234.6 400.3L235.4 399.0L236.1 397.7L236.9 396.5L237.7 395.2L238.5 393.9L239.3 392.6L240.1 391.4L240.9 390.1L241.7 388.9L242.6 387.6L243.5 386.4L244.4 385.2L245.3 384.0L246.2 382.8L247.1 381.6L248.1 380.5L249.0 379.3L250.0 378.2L251.0 377.1L252.0 376.0L253.1 374.9L254.2 373.8L255.2 372.8L256.3 371.8L257.5 370.8L258.6 369.8L259.8 368.9L261.0 368.0L262.2 367.1L263.5 366.3L264.7 365.5L266.0 364.7L267.3 364.0L268.7 363.3L270.0 362.6L271.4 362.0L272.8 361.4L274.2 360.9L275.6 360.4L277.0 359.9L278.4 359.5L279.9 359.0L281.3 358.7L282.8 358.3L284.3 358.0L285.7 357.7L287.2 357.4L288.7 357.2L290.2 357.0L291.7 356.8L293.2 356.6L294.7 356.4L296.2 356.2L297.6 356.0L299.1 355.9L300.6 355.7L302.1 355.6L303.6 355.5L305.1 355.3L306.6 355.2L308.1 355.0L309.6 354.8L311.1 354.7L312.6 354.5L314.1 354.3L315.6 354.1L317.0 353.9L318.5 353.6L320.0 353.3L321.5 353.1L322.9 352.7L324.4 352.4L325.9 352.0L327.3 351.6L328.7 351.2L330.2 350.7L331.6 350.2L333.0 349.7L334.4 349.2L335.8 348.7L337.2 348.1L338.6 347.5L340.0 346.9L341.4 346.3L342.7 345.7L344.1 345.1L345.4 344.4L346.8 343.8L348.1 343.1L349.5 342.4L350.8 341.7L352.1 341.0L353.5 340.3L354.8 339.6L356.1 338.9L357.4 338.2L358.7 337.5L360.1 336.8L361.4 336.0L362.7 335.3L364.0 334.6L365.3 333.9L366.7 333.2L368.0 332.4L369.3 331.7L370.6 331.0L372.0 330.3L373.3 329.6L374.6 328.9L376.0 328.3L377.3 327.6L378.7 326.9L380.0 326.3L381.4 325.7L382.7 325.0L384.1 324.4L385.5 323.8L386.9 323.2L388.3 322.7L389.7 322.1L391.1 321.6L392.5 321.1L393.9 320.6L395.4 320.2L396.8 319.8L398.2 319.4L399.7 319.0L401.2 318.7L402.6 318.3L404.1 318.1L405.6 317.8L407.1 317.6L408.6 317.4L410.1 317.3L411.6 317.2L413.1 317.1L414.6 317.1L416.1 317.1L417.6 317.1L419.1 317.2L420.6 317.2L422.1 317.4L423.6 317.5L425.0 317.7L426.5 317.9L428.0 318.2L429.5 318.5L431.0 318.8L432.4 319.1L433.9 319.5L435.3 319.8L436.8 320.3L438.2 320.7L439.6 321.2L441.1 321.7L442.5 322.2L443.9 322.7L445.3 323.2L446.7 323.8L448.0 324.4L449.4 325.0L450.8 325.7L452.1 326.3L453.5 327.0L454.8 327.7L456.1 328.4L457.4 329.1L458.8 329.8L460.1 330.6L461.3 331.4L462.6 332.1L463.9 332.9L465.2 333.7L466.4 334.6L467.7 335.4L468.9 336.2L470.2 337.1L471.4 338.0L472.6 338.8L473.8 339.7L475.0 340.6L476.2 341.5L477.4 342.5L478.6 343.4L479.7 344.3L480.9 345.3L482.1 346.2L483.2 347.2L484.4 348.2L485.5 349.1L486.7 350.1L487.8 351.1L488.9 352.1L490.0 353.1L491.2 354.1L492.3 355.1L493.4 356.1L494.5 357.1L495.6 358.1L496.7 359.2L497.8 360.2L498.9 361.2L500.0 362.2L501.1 363.3L502.2 364.3L503.2 365.4L504.3 366.4L505.4 367.4L506.5 368.5L507.6 369.5L508.6 370.6L509.7 371.6L510.8 372.7L511.8 373.7L512.9 374.8L514.0 375.9L515.0 376.9L516.1 378.0L517.2 379.0L518.2 380.1L519.3 381.2L520.4 382.2L521.4 383.3L522.5 384.3L523.6 385.4L524.6 386.5L525.7 387.5L526.7 388.6L527.8 389.6L528.9 390.7L530.0 391.7L531.0 392.8L532.1 393.8L533.2 394.9L534.2 396.0L535.3 397.0L536.4 398.0L537.5 399.1L538.5 400.1L539.6 401.2L540.7 402.2L541.8 403.3L542.9 404.3L544.0 405.3L545.1 406.3L546.2 407.4L547.3 408.4L548.4 409.4L549.5 410.4L550.6 411.4L551.7 412.4L552.9 413.4L554.0 414.4L555.1 415.4L556.2 416.4L557.4 417.4L558.5 418.3L559.7 419.3L560.8 420.3L562.0 421.2L563.1 422.2L564.3 423.1L565.5 424.1L566.7 425.0L567.8 425.9L569.0 426.9L570.2 427.8L571.4 428.7L572.6 429.6L573.8 430.5L575.0 431.4L576.2 432.3L577.4 433.2L578.6 434.1L579.8 435.0L581.0 435.9L582.3 436.7L583.5 437.6L584.7 438.5L586.0 439.3L587.2 440.2L588.4 441.0L589.7 441.9L590.9 442.7L592.2 443.5L593.4 444.4L594.7 445.2L595.9 446.0L597.2 446.8L598.5 447.6L599.7 448.4L601.0 449.2L602.3 450.0L603.6 450.8L604.8 451.6L606.1 452.4L607.4 453.2L608.7 453.9L610.0 454.7L611.3 455.5L612.6 456.2L613.9 457.0L615.2 457.8L616.5 458.5L617.8 459.3L619.1 460.0L620.4 460.8L621.7 461.5L623.0 462.2L624.3 463.0L625.6 463.7L626.9 464.4L628.2 465.2L629.5 465.9L630.8 466.6L632.2 467.4L633.5 468.1L634.8 468.8L636.1 469.5L637.4 470.3L638.7 471.0L640.1 471.7L641.4 472.4L642.7 473.1L644.0 473.8L645.3 474.6L646.6 475.3L648.0 476.0L649.3 476.7L650.6 477.4L651.9 478.2L653.2 478.9L654.6 479.6L655.9 480.3L657.2 481.0L658.5 481.7L659.8 482.5L661.2 483.2L662.5 483.9L663.8 484.6L665.1 485.3L666.4 486.0L667.8 486.8L669.1 487.5L670.4 488.2L671.7 488.9L673.0 489.6L674.4 490.3L675.7 491.1L677.0 491.8L678.3 492.5L679.6 493.2L680.9 493.9L682.3 494.7L683.6 495.4L684.9 496.1L686.2 496.8L687.5 497.6L688.8 498.3L690.2 499.0L691.5 499.8L692.8 500.5L694.1 501.2L695.4 501.9L696.7 502.7L698.0 503.4L699.3 504.1L700.6 504.9L702.0 505.6L703.3 506.4L704.6 507.1L705.9 507.8L707.2 508.6L708.5 509.3L709.8 510.1L711.1 510.8L712.4 511.6L713.7 512.3L715.0 513.1L716.3 513.8L717.6 514.6L718.9 515.3L720.2 516.1L721.5 516.9L722.8 517.6L724.1 518.4L725.4 519.2L726.6 519.9L727.9 520.7L729.2 521.5L730.5 522.2L731.8 523.0L733.1 523.8L734.4 524.6L735.7 525.3L736.9 526.1L738.2 526.9L739.5 527.7L740.8 528.5L742.0 529.3L743.3 530.1L744.6 530.9L745.9 531.7L747.1 532.5L748.4 533.3L749.7 534.1L750.9 534.9L752.2 535.7L753.5 536.5L754.7 537.3L756.0 538.1L757.3 538.9L758.5 539.8L759.8 540.6L761.0 541.4L762.3 542.2L763.5 543.1L764.8 543.9L766.0 544.7L767.3 545.6L768.5 546.4L769.8 547.3L771.0 548.1L772.3 548.9L773.5 549.8L774.7 550.7L776.0 551.5L777.2 552.4L778.4 553.2L779.7 554.1L780.9 554.9L782.1 555.8L783.3 556.7L784.6 557.6L785.8 558.4L787.0 559.3L788.2 560.2L789.4 561.1L790.6 561.9L791.9 562.8L793.1 563.7L794.3 564.6L795.5 565.5L796.7 566.4L797.9 567.3L799.1 568.2L800.3 569.1L801.5 570.0L802.7 570.9L803.9 571.8L805.1 572.7L806.3 573.6L807.5 574.5L808.7 575.4L809.9 576.4L811.1 577.3L812.3 578.2L813.4 579.1L814.6 580.0L815.8 580.9L817.0 581.9L818.2 582.8L819.4 583.7L820.6 584.7L821.7 585.6L822.9 586.5L824.1 587.4L825.3 588.4L826.4 589.3L827.6 590.2L828.8 591.2L830.0 592.1L831.1 593.1L832.3 594.0L833.5 594.9L834.6 595.9L835.8 596.8L837.0 597.8L838.1 598.7L839.3 599.7L840.5 600.6L841.6 601.6L842.8 602.5L844.0 603.5L845.1 604.4L846.3 605.4L847.4 606.3L848.6 607.3L849.8 608.2L850.9 609.2L852.1 610.1L853.2 611.1L854.4 612.1L855.6 613.0L856.7 614.0L857.9 614.9L859.0 615.9L860.2 616.9L861.3 617.8L862.5 618.8L863.6 619.8L864.8 620.7L865.9 621.7L867.1 622.7L868.2 623.6L869.4 624.6L870.5 625.6L871.7 626.5L872.8 627.5L874.0 628.5L875.1 629.4L876.3 630.4L877.4 631.4L878.6 632.3L879.7 633.3L880.8 634.3L882.0 635.3L883.1 636.2L884.3 637.2L885.4 638.2L886.6 639.2L887.7 640.1L888.9 641.1L890.0 642.1L891.1 643.0L892.3 644.0L893.4 645.0L894.6 646.0L895.7 646.9L896.9 647.9L898.0 648.9L899.1 649.9L900.3 650.8L901.4 651.8L902.6 652.8L903.7 653.8L904.8 654.7L906.0 655.7L907.1 656.7L908.3 657.7L909.4 658.6L910.6 659.6L911.7 660.6L912.8 661.6L914.0 662.5L915.1 663.5L916.3 664.5L917.4 665.5L918.6 666.4L919.7 667.4L920.8 668.4L922.0 669.4L923.1 670.3L924.3 671.3L925.4 672.3L926.6 673.3L927.7 674.2L928.8 675.2L930.0 676.2L931.1 677.2L932.3 678.1L933.4 679.1L934.6 680.1L935.7 681.0L936.9 682.0L938.0 683.0L939.2 683.9L940.3 684.9L941.5 685.9L942.6 686.8L943.8 687.8L944.9 688.8L946.1 689.7L947.2 690.7L948.4 691.7L949.5 692.6L950.7 693.6L951.8 694.6L953.0 695.5L954.1 696.5L955.3 697.4L956.4 698.4L957.6 699.4L958.7 700.3L959.9 701.3L961.1 702.2L962.2 703.2L963.4 704.1L964.5 705.1L965.7 706.1L966.9 707.0L968.0 708.0L969.2 708.9L970.4 709.9L971.5 710.8L972.7 711.8L973.8 712.7L975.0 713.6L976.2 714.6L977.4 715.5L978.5 716.5L979.7 717.4L980.9 718.4L982.0 719.3L983.2 720.2L984.4 721.2L985.6 722.1L986.7 723.0L987.9 724.0L989.1 724.9L990.3 725.8L991.5 726.8L992.6 727.7L993.8 728.6L995.0 729.5L996.2 730.5L997.4 731.4L998.6 732.3L999.7 733.2L1000.9 734.1L1002.1 735.0L1003.3 736.0L1004.5 736.9L1005.7 737.8L1006.9 738.7L1008.1 739.6L1009.3 740.5L1010.5 741.4L1011.7 742.3L1012.9 743.2L1014.1 744.1L1015.3 745.0L1016.5 745.9L1017.7 746.8L1019.0 747.7L1020.2 748.5L1021.4 749.4L1022.6 750.3L1023.8 751.2L1025.0 752.1L1026.3 752.9L1027.5 753.8L1028.7 754.7L1029.9 755.6L1031.2 756.4L1032.4 757.3L1033.6 758.1L1034.8 759.0L1036.1 759.9"/>
<path d="M130.7 839.1L131.0 837.7L131.3 836.2L131.7 834.7L132.0 833.3L132.3 831.8L132.6 830.3L132.9 828.9L133.3 827.4L133.6 825.9L133.9 824.5L134.2 823.0L134.5 821.5L134.8 820.1L135.1 818.6L135.5 817.1L135.8 815.6L136.1 814.2L136.4 812.7L136.7 811.2L137.0 809.8L137.3 808.3L137.6 806.8L137.9 805.4L138.2 803.9L138.5 802.4L138.8 800.9L139.1 799.5L139.4 798.0L139.7 796.5L140.1 795.1L140.4 793.6L140.7 792.1L141.0 790.6L141.2 789.2L141.5 787.7L141.8 786.2L142.1 784.8L142.4 783.3L142.7 781.8L143.0 780.3L143.3 778.9L143.6 777.4L143.9 775.9L144.2 774.5L144.5 773.0L144.8 771.5L145.1 770.0L145.4 768.6L145.7 767.1L146.0 765.6L146.3 764.1L146.5 762.7L146.8 761.2L147.1 759.7L147.4 758.2L147.7 756.8L148.0 755.3L148.3 753.8L148.6 752.4L148.9 750.9L149.1 749.4L149.4 747.9L149.7 746.5L150.0 745.0L150.3 743.5L150.6 742.0L150.9 740.6L151.1 739.1L151.4 737.6L151.7 736.1L152.0 734.7L152.3 733.2L152.6 731.7L152.9 730.2L153.1 728.8L153.4 727.3L153.7 725.8L154.0 724.3L154.3 722.9L154.6 721.4L154.9 719.9L155.1 718.4L155.4 717.0L155.7 715.5L156.0 714.0L156.3 712.6L156.6 711.1L156.8 709.6L157.1 708.1L157.4 706.7L157.7 705.2L158.0 703.7L158.3 702.2L158.6 700.8L158.8 699.3L159.1 697.8L159.4 696.3L159.7 694.9L160.0 693.4L160.3 691.9L160.5 690.4L160.8 689.0L161.1 687.5L161.4 686.0L161.7 684.5L162.0 683.1L162.3 681.6L162.6 680.1L162.8 678.6L163.1 677.2L163.4 675.7L163.7 674.2L164.0 672.7L164.3 671.3L164.6 669.8L164.9 668.3L165.1 666.9L165.4 665.4L165.7 663.9L166.0 662.4L166.3 661.0L166.6 659.5L166.9 658.0L167.2 656.5L167.5 655.1L167.8 653.6L168.0 652.1L168.3 650.6L168.6 649.2L168.9 647.7L169.2 646.2L169.5 644.8L169.8 643.3L170.1 641.8L170.4 640.3L170.7 638.9L171.0 637.4L171.3 635.9L171.6 634.5L171.9 633.0L172.2 631.5L172.5 630.0L172.8 628.6L173.1 627.1L173.4 625.6L173.7 624.2L174.0 622.7L174.3 621.2L174.6 619.7L174.9 618.3L175.2 616.8L175.5 615.3L175.8 613.9L176.1 612.4L176.5 610.9L176.8 609.5L177.1 608.0L177.4 606.5L177.7 605.0L178.0 603.6L178.3 602.1L178.6 600.6L179.0 599.2L179.3 597.7L179.6 596.2L179.9 594.8L180.2 593.3L180.5 591.8L180.9 590.4L181.2 588.9L181.5 587.4L181.8 586.0L182.2 584.5L182.5 583.0L182.8 581.6L183.1 580.1L183.5 578.6L183.8 577.2L184.1 575.7L184.5 574.2L184.8 572.8L185.1 571.3L185.5 569.9L185.8 568.4L186.2 566.9L186.5 565.5L186.8 564.0L187.2 562.5L187.5 561.1L187.9 559.6L188.2 558.2L188.6 556.7L188.9 555.2L189.3 553.8L189.6 552.3L190.0 550.9L190.4 549.4L190.7 547.9L191.1 546.5L191.4 545.0L191.8 543.6L192.2 542.1L192.5 540.7L192.9 539.2L193.3 537.8L193.7 536.3L194.0 534.8L194.4 533.4L194.8 531.9L195.2 530.5L195.6 529.0L195.9 527.6L196.3 526.1L196.7 524.7L197.1 523.2L197.5 521.8L197.9 520.3L198.3 518.9L198.7 517.4L199.1 516.0L199.5 514.6L199.9 513.1L200.4 511.7L200.8 510.2L201.2 508.8L201.6 507.3L202.0 505.9L202.5 504.5L202.9 503.0L203.3 501.6L203.8 500.1L204.2 498.7L204.6 497.3L205.1 495.8L205.5 494.4L206.0 493.0L206.5 491.5L206.9 490.1L207.4 488.7L207.8 487.3L208.3 485.8L208.8 484.4L209.3 483.0L209.8 481.6L210.2 480.1L210.7 478.7L211.2 477.3L211.7 475.9L212.2 474.5L212.8 473.1L213.3 471.7L213.8 470.3L214.3 468.8L214.8 467.4L215.4 466.0L215.9 464.6L216.5 463.2L217.0 461.8L217.6 460.5L218.2 459.1L218.7 457.7L219.3 456.3L219.9 454.9L220.5 453.5L221.1 452.2L221.7 450.8L222.3 449.4L222.9 448.0L223.6 446.7L224.2 445.3L224.9 444.0L225.5 442.6L226.2 441.3L226.9 439.9L227.6 438.6L228.3 437.3L229.0 436.0L229.7 434.6L230.4 433.3L231.2 432.0L231.9 430.7L232.7 429.4L233.5 428.2L234.3 426.9L235.1 425.6L235.9 424.4L236.8 423.1L237.6 421.9L238.5 420.7L239.4 419.5L240.3 418.3L241.3 417.1L242.2 416.0L243.2 414.8L244.2 413.7L245.2 412.6L246.3 411.5L247.4 410.5L248.5 409.5L249.6 408.5L250.8 407.5L252.0 406.6L253.2 405.7L254.4 404.9L255.7 404.1L257.0 403.3L258.3 402.6L259.6 401.9L261.0 401.3L262.4 400.7L263.8 400.2L265.2 399.6L266.6 399.2L268.1 398.7L269.5 398.3L271.0 398.0L272.4 397.7L273.9 397.4L275.4 397.1L276.9 396.8L278.3 396.6L279.8 396.4L281.3 396.2L282.8 396.1L284.3 395.9L285.8 395.8L287.3 395.7L288.8 395.5L290.3 395.4L291.8 395.3L293.3 395.2L294.8 395.1L296.3 394.9L297.8 394.8L299.3 394.6L300.8 394.5L302.3 394.3L303.7 394.1L305.2 393.9L306.7 393.7L308.2 393.4L309.7 393.2L311.2 392.9L312.6 392.7L314.1 392.4L315.6 392.1L317.1 391.8L318.5 391.5L320.0 391.1L321.4 390.8L322.9 390.5L324.4 390.1L325.8 389.7L327.3 389.3L328.7 389.0L330.2 388.6L331.6 388.2L333.1 387.8L334.5 387.3L335.9 386.9L337.4 386.5L338.8 386.1L340.3 385.6L341.7 385.2L343.1 384.7L344.6 384.2L346.0 383.8L347.4 383.3L348.8 382.8L350.3 382.4L351.7 381.9L353.1 381.4L354.5 380.9L355.9 380.4L357.4 379.9L358.8 379.5L360.2 379.0L361.6 378.5L363.0 378.0L364.5 377.5L365.9 377.0L367.3 376.5L368.7 376.0L370.1 375.5L371.5 375.0L373.0 374.5L374.4 374.0L375.8 373.5L377.2 373.0L378.6 372.5L380.1 372.0L381.5 371.5L382.9 371.1L384.3 370.6L385.7 370.1L387.2 369.6L388.6 369.2L390.0 368.7L391.5 368.3L392.9 367.8L394.3 367.4L395.8 366.9L397.2 366.5L398.6 366.1L400.1 365.7L401.5 365.3L403.0 365.0L404.5 364.6L405.9 364.3L407.4 364.0L408.9 363.7L410.4 363.5L411.8 363.2L413.3 363.0L414.8 362.9L416.3 362.7L417.8 362.6L419.3 362.5L420.8 362.5L422.3 362.5L423.8 362.5L425.3 362.6L426.8 362.7L428.3 362.9L429.8 363.1L431.3 363.3L432.8 363.5L434.2 363.8L435.7 364.2L437.2 364.5L438.6 364.9L440.1 365.3L441.5 365.7L442.9 366.2L444.3 366.7L445.8 367.2L447.2 367.7L448.6 368.3L449.9 368.9L451.3 369.5L452.7 370.1L454.1 370.7L455.4 371.3L456.8 372.0L458.1 372.7L459.4 373.4L460.8 374.1L462.1 374.8L463.4 375.5L464.7 376.3L466.0 377.0L467.3 377.8L468.6 378.6L469.9 379.3L471.1 380.1L472.4 380.9L473.7 381.7L474.9 382.6L476.2 383.4L477.4 384.2L478.7 385.1L479.9 385.9L481.1 386.8L482.4 387.6L483.6 388.5L484.8 389.4L486.0 390.3L487.3 391.1L488.5 392.0L489.7 392.9L490.9 393.8L492.1 394.7L493.3 395.6L494.5 396.5L495.7 397.4L496.9 398.4L498.0 399.3L499.2 400.2L500.4 401.1L501.6 402.0L502.8 403.0L504.0 403.9L505.1 404.8L506.3 405.8L507.5 406.7L508.6 407.7L509.8 408.6L511.0 409.5L512.2 410.5L513.3 411.4L514.5 412.4L515.7 413.3L516.8 414.3L518.0 415.2L519.1 416.2L520.3 417.1L521.5 418.1L522.6 419.0L523.8 420.0L525.0 420.9L526.1 421.9L527.3 422.8L528.5 423.8L529.6 424.7L530.8 425.7L532.0 426.6L533.1 427.5L534.3 428.5L535.5 429.4L536.6 430.4L537.8 431.3L539.0 432.2L540.1 433.2L541.3 434.1L542.5 435.0L543.7 436.0L544.9 436.9L546.0 437.8L547.2 438.8L548.4 439.7L549.6 440.6L550.8 441.5L552.0 442.4L553.2 443.4L554.3 444.3L555.5 445.2L556.7 446.1L557.9 447.0L559.1 447.9L560.3 448.8L561.5 449.7L562.7 450.6L563.9 451.5L565.1 452.4L566.3 453.3L567.5 454.2L568.7 455.1L570.0 456.0L571.2 456.9L572.4 457.8L573.6 458.7L574.8 459.6L576.0 460.4L577.2 461.3L578.4 462.2L579.7 463.1L580.9 464.0L582.1 464.8L583.3 465.7L584.5 466.6L585.8 467.5L587.0 468.3L588.2 469.2L589.4 470.1L590.7 470.9L591.9 471.8L593.1 472.7L594.4 473.5L595.6 474.4L596.8 475.2L598.0 476.1L599.3 476.9L600.5 477.8L601.7 478.7L603.0 479.5L604.2 480.4L605.5 481.2L606.7 482.1L607.9 482.9L609.2 483.8L610.4 484.6L611.7 485.4L612.9 486.3L614.1 487.1L615.4 488.0L616.6 488.8L617.9 489.7L619.1 490.5L620.4 491.3L621.6 492.2L622.9 493.0L624.1 493.8L625.4 494.7L626.6 495.5L627.9 496.3L629.1 497.2L630.4 498.0L631.6 498.8L632.9 499.6L634.1 500.5L635.4 501.3L636.6 502.1L637.9 502.9L639.2 503.8L640.4 504.6L641.7 505.4L642.9 506.2L644.2 507.0L645.5 507.8L646.7 508.7L648.0 509.5L649.2 510.3L650.5 511.1L651.8 511.9L653.0 512.7L654.3 513.5L655.6 514.3L656.8 515.1L658.1 515.9L659.4 516.7L660.6 517.5L661.9 518.3L663.2 519.1L664.5 519.9L665.7 520.7L667.0 521.5L668.3 522.3L669.6 523.1L670.8 523.9L672.1 524.7L673.4 525.5L674.7 526.3L676.0 527.0L677.2 527.8L678.5 528.6L679.8 529.4L681.1 530.2L682.4 531.0L683.6 531.7L684.9 532.5L686.2 533.3L687.5 534.1L688.8 534.8L690.1 535.6L691.4 536.4L692.7 537.1L694.0 537.9L695.2 538.7L696.5 539.4L697.8 540.2L699.1 541.0L700.4 541.7L701.7 542.5L703.0 543.2L704.3 544.0L705.6 544.7L706.9 545.5L708.2 546.3L709.5 547.0L710.8 547.8L712.1 548.5L713.4 549.3L714.7 550.0L716.0 550.8L717.3 551.5L718.6 552.2L719.9 553.0L721.2 553.7L722.5 554.5L723.8 555.2L725.1 556.0L726.4 556.7L727.8 557.4L729.1 558.2L730.4 558.9L731.7 559.7L733.0 560.4L734.3 561.2L735.6 561.9L736.9 562.6L738.2 563.4L739.5 564.1L740.8 564.9L742.1 565.6L743.4 566.3L744.7 567.1L746.0 567.8L747.3 568.6L748.7 569.3L750.0 570.0L751.3 570.8L752.6 571.5L753.9 572.3L755.2 573.0L756.5 573.8L757.8 574.5L759.1 575.3L760.4 576.0L761.7 576.7L763.0 577.5L764.3 578.2L765.6 579.0L766.9 579.7L768.2 580.5L769.5 581.3L770.8 582.0L772.1 582.8L773.4 583.5L774.7 584.3L776.0 585.0L777.3 585.8L778.6 586.6L779.9 587.3L781.2 588.1L782.4 588.9L783.7 589.6L785.0 590.4L786.3 591.2L787.6 591.9L788.9 592.7L790.2 593.5L791.5 594.3L792.7 595.0L794.0 595.8L795.3 596.6L796.6 597.4L797.9 598.2L799.2 598.9L800.4 599.7L801.7 600.5L803.0 601.3L804.3 602.1L805.6 602.9L806.8 603.7L808.1 604.5L809.4 605.3L810.7 606.0L811.9 606.8L813.2 607.6L814.5 608.4L815.7 609.2L817.0 610.0L818.3 610.8L819.6 611.6L820.8 612.4L822.1 613.2L823.4 614.1L824.6 614.9L825.9 615.7L827.2 616.5L828.4 617.3L829.7 618.1L830.9 618.9L832.2 619.7L833.5 620.5L834.7 621.3L836.0 622.2L837.3 623.0L838.5 623.8L839.8 624.6L841.0 625.4L842.3 626.3L843.6 627.1L844.8 627.9L846.1 628.7L847.3 629.5L848.6 630.4L849.8 631.2L851.1 632.0L852.3 632.8L853.6 633.7L854.8 634.5L856.1 635.3L857.4 636.2L858.6 637.0L859.9 637.8L861.1 638.6L862.4 639.5L863.6 640.3L864.9 641.1L866.1 642.0L867.3 642.8L868.6 643.6L869.8 644.5L871.1 645.3L872.3 646.2L873.6 647.0L874.8 647.8L876.1 648.7L877.3 649.5L878.6 650.4L879.8 651.2L881.0 652.0L882.3 652.9L883.5 653.7L884.8 654.6L886.0 655.4L887.3 656.3L888.5 657.1L889.7 658.0L891.0 658.8L892.2 659.6L893.5 660.5L894.7 661.3L895.9 662.2L897.2 663.0L898.4 663.9L899.6 664.7L900.9 665.6L902.1 666.4L903.4 667.3L904.6 668.2L905.8 669.0L907.1 669.9L908.3 670.7L909.5 671.6L910.8 672.4L912.0 673.3L913.2 674.1L914.5 675.0L915.7 675.8L916.9 676.7L918.2 677.6L919.4 678.4L920.6 679.3L921.9 680.1L923.1 681.0L924.3 681.8L925.6 682.7L926.8 683.6L928.0 684.4L929.3 685.3L930.5 686.1L931.7 687.0L933.0 687.9L934.2 688.7L935.4 689.6L936.6 690.4L937.9 691.3L939.1 692.2L940.3 693.0L941.6 693.9L942.8 694.8L944.0 695.6L945.3 696.5L946.5 697.3L947.7 698.2L948.9 699.1L950.2 699.9L951.4 700.8L952.6 701.7L953.9 702.5L955.1 703.4L956.3 704.3L957.5 705.1L958.8 706.0L960.0 706.9L961.2 707.7L962.4 708.6L963.7 709.4L964.9 710.3L966.1 711.2L967.4 712.0L968.6 712.9L969.8 713.8L971.0 714.6L972.3 715.5L973.5 716.4L974.7 717.2L975.9 718.1L977.2 719.0L978.4 719.8L979.6 720.7L980.8 721.6L982.1 722.4L983.3 723.3L984.5 724.2L985.8 725.0L987.0 725.9L988.2 726.8L989.4 727.6L990.7 728.5L991.9 729.4L993.1 730.2L994.3 731.1L995.6 732.0L996.8 732.8L998.0 733.7L999.2 734.6L1000.5 735.4L1001.7 736.3L1002.9 737.2L1004.2 738.0L1005.4 738.9L1006.6 739.8L1007.8 740.6L1009.1 741.5L1010.3 742.4L1011.5 743.2L1012.7 744.1L1014.0 745.0L1015.2 745.8L1016.4 746.7L1017.7 747.5L1018.9 748.4L1020.1 749.3L1021.3 750.1L1022.6 751.0L1023.8 751.9L1025.0 752.7L1026.3 753.6L1027.5 754.4L1028.7 755.3L1029.9 756.2L1031.2 757.0L1032.4 757.9L1033.6 758.8L1034.9 759.6L1036.1 760.5"/>
<path d="M130.7 839.4L131.0 837.9L131.4 836.5L131.7 835.0L132.0 833.5L132.3 832.1L132.7 830.6L133.0 829.1L133.3 827.6L133.6 826.2L133.9 824.7L134.2 823.2L134.5 821.8L134.9 820.3L135.2 818.8L135.5 817.4L135.8 815.9L136.1 814.4L136.4 813.0L136.7 811.5L137.0 810.0L137.3 808.5L137.6 807.1L137.9 805.6L138.2 804.1L138.5 802.7L138.8 801.2L139.1 799.7L139.4 798.2L139.7 796.8L140.0 795.3L140.3 793.8L140.6 792.4L140.9 790.9L141.2 789.4L141.5 787.9L141.8 786.5L142.1 785.0L142.4 783.5L142.7 782.0L143.0 780.6L143.2 779.1L143.5 777.6L143.8 776.2L144.1 774.7L144.4 773.2L144.7 771.7L145.0 770.3L145.3 768.8L145.6 767.3L145.8 765.8L146.1 764.4L146.4 762.9L146.7 761.4L147.0 759.9L147.3 758.5L147.6 757.0L147.8 755.5L148.1 754.0L148.4 752.6L148.7 751.1L149.0 749.6L149.3 748.1L149.5 746.7L149.8 745.2L150.1 743.7L150.4 742.2L150.7 740.8L151.0 739.3L151.2 737.8L151.5 736.3L151.8 734.9L152.1 733.4L152.4 731.9L152.7 730.4L152.9 729.0L153.2 727.5L153.5 726.0L153.8 724.5L154.1 723.1L154.4 721.6L154.6 720.1L154.9 718.6L155.2 717.2L155.5 715.7L155.8 714.2L156.1 712.7L156.3 711.3L156.6 709.8L156.9 708.3L157.2 706.8L157.5 705.4L157.8 703.9L158.0 702.4L158.3 700.9L158.6 699.5L158.9 698.0L159.2 696.5L159.5 695.0L159.8 693.6L160.0 692.1L160.3 690.6L160.6 689.1L160.9 687.7L161.2 686.2L161.5 684.7L161.8 683.3L162.1 681.8L162.3 680.3L162.6 678.8L162.9 677.4L163.2 675.9L163.5 674.4L163.8 672.9L164.1 671.5L164.4 670.0L164.7 668.5L165.0 667.0L165.3 665.6L165.6 664.1L165.9 662.6L166.2 661.2L166.5 659.7L166.7 658.2L167.0 656.7L167.3 655.3L167.6 653.8L167.9 652.3L168.2 650.9L168.6 649.4L168.9 647.9L169.2 646.4L169.5 645.0L169.8 643.5L170.1 642.0L170.4 640.6L170.7 639.1L171.0 637.6L171.3 636.2L171.6 634.7L171.9 633.2L172.2 631.7L172.6 630.3L172.9 628.8L173.2 627.3L173.5 625.9L173.8 624.4L174.2 622.9L174.5 621.5L174.8 620.0L175.1 618.5L175.4 617.1L175.8 615.6L176.1 614.1L176.4 612.7L176.8 611.2L177.1 609.7L177.4 608.3L177.8 606.8L178.1 605.4L178.4 603.9L178.8 602.4L179.1 601.0L179.5 599.5L179.8 598.0L180.1 596.6L180.5 595.1L180.8 593.7L181.2 592.2L181.5 590.7L181.9 589.3L182.3 587.8L182.6 586.4L183.0 584.9L183.3 583.4L183.7 582.0L184.1 580.5L184.4 579.1L184.8 577.6L185.2 576.2L185.6 574.7L185.9 573.3L186.3 571.8L186.7 570.3L187.1 568.9L187.5 567.4L187.9 566.0L188.2 564.5L188.6 563.1L189.0 561.6L189.4 560.2L189.8 558.7L190.2 557.3L190.6 555.9L191.0 554.4L191.4 553.0L191.9 551.5L192.3 550.1L192.7 548.6L193.1 547.2L193.5 545.7L194.0 544.3L194.4 542.9L194.8 541.4L195.2 540.0L195.7 538.6L196.1 537.1L196.6 535.7L197.0 534.2L197.4 532.8L197.9 531.4L198.3 529.9L198.8 528.5L199.3 527.1L199.7 525.7L200.2 524.2L200.7 522.8L201.1 521.4L201.6 520.0L202.1 518.5L202.6 517.1L203.0 515.7L203.5 514.3L204.0 512.8L204.5 511.4L205.0 510.0L205.5 508.6L206.0 507.2L206.5 505.8L207.1 504.4L207.6 502.9L208.1 501.5L208.6 500.1L209.1 498.7L209.7 497.3L210.2 495.9L210.8 494.5L211.3 493.1L211.9 491.7L212.4 490.3L213.0 488.9L213.5 487.5L214.1 486.2L214.7 484.8L215.3 483.4L215.9 482.0L216.5 480.6L217.1 479.2L217.7 477.9L218.3 476.5L218.9 475.1L219.5 473.8L220.2 472.4L220.8 471.0L221.4 469.7L222.1 468.3L222.8 467.0L223.4 465.6L224.1 464.3L224.8 463.0L225.5 461.6L226.2 460.3L226.9 459.0L227.6 457.7L228.4 456.4L229.1 455.1L229.9 453.8L230.6 452.5L231.4 451.2L232.2 449.9L233.0 448.7L233.9 447.4L234.7 446.2L235.5 444.9L236.4 443.7L237.3 442.5L238.2 441.3L239.1 440.1L240.0 438.9L241.0 437.7L242.0 436.6L243.0 435.5L244.0 434.4L245.0 433.3L246.1 432.2L247.2 431.2L248.3 430.2L249.4 429.2L250.6 428.3L251.8 427.4L253.0 426.5L254.3 425.7L255.5 424.9L256.8 424.1L258.2 423.4L259.5 422.7L260.9 422.1L262.3 421.5L263.7 421.0L265.1 420.5L266.5 420.0L267.9 419.6L269.4 419.2L270.9 418.9L272.3 418.6L273.8 418.3L275.3 418.1L276.8 417.9L278.3 417.8L279.8 417.6L281.3 417.5L282.8 417.4L284.3 417.4L285.8 417.3L287.3 417.3L288.8 417.3L290.3 417.3L291.8 417.3L293.3 417.3L294.8 417.3L296.3 417.4L297.8 417.4L299.3 417.5L300.8 417.5L302.3 417.5L303.8 417.6L305.3 417.6L306.8 417.6L308.3 417.7L309.8 417.7L311.3 417.7L312.8 417.8L314.3 417.8L315.8 417.8L317.3 417.8L318.8 417.8L320.3 417.8L321.8 417.8L323.3 417.7L324.8 417.7L326.3 417.7L327.8 417.6L329.3 417.5L330.8 417.5L332.3 417.4L333.8 417.3L335.3 417.2L336.8 417.1L338.3 416.9L339.8 416.8L341.3 416.6L342.8 416.4L344.3 416.3L345.8 416.1L347.3 415.8L348.7 415.6L350.2 415.3L351.7 415.1L353.2 414.8L354.6 414.5L356.1 414.1L357.6 413.8L359.0 413.4L360.5 413.0L361.9 412.6L363.4 412.2L364.8 411.8L366.2 411.3L367.6 410.8L369.1 410.3L370.5 409.8L371.9 409.3L373.3 408.7L374.7 408.2L376.1 407.6L377.5 407.1L378.9 406.5L380.3 406.0L381.7 405.4L383.1 404.9L384.5 404.4L385.9 403.8L387.3 403.3L388.7 402.8L390.1 402.3L391.5 401.8L393.0 401.4L394.4 400.9L395.8 400.5L397.3 400.1L398.7 399.7L400.2 399.4L401.7 399.1L403.2 398.8L404.6 398.6L406.1 398.4L407.6 398.2L409.1 398.1L410.6 398.0L412.1 397.9L413.6 397.9L415.1 397.9L416.6 397.9L418.1 398.0L419.6 398.1L421.1 398.2L422.6 398.3L424.1 398.5L425.6 398.7L427.1 399.0L428.5 399.2L430.0 399.5L431.5 399.8L433.0 400.2L434.4 400.5L435.9 400.9L437.3 401.3L438.7 401.8L440.2 402.2L441.6 402.7L443.0 403.2L444.4 403.7L445.8 404.2L447.2 404.8L448.6 405.4L450.0 405.9L451.4 406.5L452.8 407.2L454.1 407.8L455.5 408.4L456.8 409.1L458.2 409.8L459.5 410.5L460.8 411.2L462.1 411.9L463.5 412.6L464.8 413.3L466.1 414.1L467.4 414.9L468.6 415.6L469.9 416.4L471.2 417.2L472.5 418.0L473.7 418.8L475.0 419.6L476.2 420.5L477.5 421.3L478.7 422.2L480.0 423.0L481.2 423.9L482.4 424.8L483.6 425.6L484.8 426.5L486.0 427.4L487.2 428.3L488.4 429.2L489.6 430.1L490.8 431.1L492.0 432.0L493.2 432.9L494.4 433.9L495.5 434.8L496.7 435.8L497.8 436.7L499.0 437.7L500.2 438.6L501.3 439.6L502.5 440.6L503.6 441.5L504.7 442.5L505.9 443.5L507.0 444.5L508.2 445.4L509.3 446.4L510.4 447.4L511.6 448.4L512.7 449.4L513.8 450.4L514.9 451.4L516.1 452.4L517.2 453.4L518.3 454.4L519.4 455.4L520.6 456.4L521.7 457.4L522.8 458.4L523.9 459.4L525.0 460.4L526.2 461.4L527.3 462.4L528.4 463.4L529.5 464.4L530.7 465.3L531.8 466.3L532.9 467.3L534.0 468.3L535.2 469.3L536.3 470.3L537.4 471.3L538.5 472.3L539.7 473.3L540.8 474.3L542.0 475.2L543.1 476.2L544.2 477.2L545.4 478.2L546.5 479.1L547.7 480.1L548.8 481.1L550.0 482.0L551.1 483.0L552.3 483.9L553.5 484.9L554.6 485.8L555.8 486.7L557.0 487.7L558.2 488.6L559.4 489.5L560.6 490.4L561.8 491.3L563.0 492.2L564.2 493.1L565.4 494.0L566.6 494.9L567.9 495.7L569.1 496.6L570.3 497.4L571.6 498.3L572.8 499.1L574.1 499.9L575.3 500.8L576.6 501.6L577.9 502.4L579.1 503.2L580.4 503.9L581.7 504.7L583.0 505.5L584.3 506.3L585.6 507.0L586.9 507.8L588.2 508.5L589.5 509.3L590.8 510.0L592.1 510.7L593.4 511.4L594.8 512.2L596.1 512.9L597.4 513.6L598.7 514.3L600.1 515.0L601.4 515.6L602.7 516.3L604.1 517.0L605.4 517.7L606.8 518.4L608.1 519.0L609.4 519.7L610.8 520.4L612.1 521.0L613.5 521.7L614.8 522.4L616.2 523.0L617.5 523.7L618.9 524.3L620.2 525.0L621.6 525.6L623.0 526.3L624.3 526.9L625.7 527.6L627.0 528.2L628.4 528.9L629.7 529.5L631.1 530.1L632.4 530.8L633.8 531.4L635.2 532.1L636.5 532.7L637.9 533.4L639.2 534.0L640.6 534.7L641.9 535.3L643.3 536.0L644.6 536.6L646.0 537.3L647.3 537.9L648.7 538.6L650.0 539.3L651.4 539.9L652.7 540.6L654.1 541.3L655.4 541.9L656.8 542.6L658.1 543.3L659.4 544.0L660.8 544.7L662.1 545.4L663.4 546.0L664.8 546.7L666.1 547.4L667.4 548.1L668.8 548.8L670.1 549.5L671.4 550.2L672.7 550.9L674.1 551.6L675.4 552.4L676.7 553.1L678.0 553.8L679.4 554.5L680.7 555.2L682.0 555.9L683.3 556.7L684.6 557.4L685.9 558.1L687.3 558.8L688.6 559.6L689.9 560.3L691.2 561.0L692.5 561.8L693.8 562.5L695.1 563.2L696.4 564.0L697.7 564.7L699.0 565.5L700.3 566.2L701.6 567.0L702.9 567.7L704.2 568.5L705.5 569.2L706.8 570.0L708.1 570.7L709.4 571.5L710.7 572.2L712.0 573.0L713.3 573.8L714.6 574.5L715.9 575.3L717.2 576.1L718.5 576.8L719.8 577.6L721.1 578.4L722.4 579.1L723.6 579.9L724.9 580.7L726.2 581.5L727.5 582.2L728.8 583.0L730.1 583.8L731.3 584.6L732.6 585.4L733.9 586.1L735.2 586.9L736.5 587.7L737.8 588.5L739.0 589.3L740.3 590.1L741.6 590.9L742.9 591.7L744.1 592.4L745.4 593.2L746.7 594.0L748.0 594.8L749.2 595.6L750.5 596.4L751.8 597.2L753.1 598.0L754.3 598.8L755.6 599.6L756.9 600.4L758.1 601.2L759.4 602.0L760.7 602.8L761.9 603.6L763.2 604.4L764.5 605.2L765.7 606.1L767.0 606.9L768.3 607.7L769.5 608.5L770.8 609.3L772.1 610.1L773.3 610.9L774.6 611.7L775.9 612.5L777.1 613.3L778.4 614.2L779.7 615.0L780.9 615.8L782.2 616.6L783.4 617.4L784.7 618.2L786.0 619.0L787.2 619.9L788.5 620.7L789.7 621.5L791.0 622.3L792.3 623.1L793.5 624.0L794.8 624.8L796.0 625.6L797.3 626.4L798.5 627.2L799.8 628.1L801.1 628.9L802.3 629.7L803.6 630.5L804.8 631.4L806.1 632.2L807.3 633.0L808.6 633.8L809.8 634.7L811.1 635.5L812.4 636.3L813.6 637.1L814.9 638.0L816.1 638.8L817.4 639.6L818.6 640.4L819.9 641.3L821.1 642.1L822.4 642.9L823.7 643.7L824.9 644.6L826.2 645.4L827.4 646.2L828.7 647.0L829.9 647.9L831.2 648.7L832.4 649.5L833.7 650.3L834.9 651.2L836.2 652.0L837.4 652.8L838.7 653.7L839.9 654.5L841.2 655.3L842.5 656.1L843.7 657.0L845.0 657.8L846.2 658.6L847.5 659.4L848.7 660.3L850.0 661.1L851.2 661.9L852.5 662.7L853.7 663.6L855.0 664.4L856.3 665.2L857.5 666.0L858.8 666.9L860.0 667.7L861.3 668.5L862.5 669.3L863.8 670.2L865.0 671.0L866.3 671.8L867.6 672.6L868.8 673.5L870.1 674.3L871.3 675.1L872.6 675.9L873.8 676.7L875.1 677.6L876.4 678.4L877.6 679.2L878.9 680.0L880.1 680.8L881.4 681.7L882.6 682.5L883.9 683.3L885.2 684.1L886.4 684.9L887.7 685.8L889.0 686.6L890.2 687.4L891.5 688.2L892.7 689.0L894.0 689.8L895.3 690.6L896.5 691.4L897.8 692.3L899.1 693.1L900.3 693.9L901.6 694.7L902.9 695.5L904.1 696.3L905.4 697.1L906.7 697.9L907.9 698.7L909.2 699.5L910.5 700.3L911.7 701.1L913.0 701.9L914.3 702.7L915.5 703.5L916.8 704.3L918.1 705.1L919.4 705.9L920.6 706.7L921.9 707.5L923.2 708.3L924.4 709.1L925.7 709.9L927.0 710.7L928.3 711.5L929.6 712.3L930.8 713.1L932.1 713.9L933.4 714.6L934.7 715.4L936.0 716.2L937.2 717.0L938.5 717.8L939.8 718.6L941.1 719.3L942.4 720.1L943.7 720.9L944.9 721.7L946.2 722.4L947.5 723.2L948.8 724.0L950.1 724.8L951.4 725.5L952.7 726.3L954.0 727.1L955.3 727.8L956.5 728.6L957.8 729.4L959.1 730.1L960.4 730.9L961.7 731.6L963.0 732.4L964.3 733.1L965.6 733.9L966.9 734.6L968.2 735.4L969.5 736.1L970.8 736.9L972.1 737.6L973.4 738.4L974.7 739.1L976.1 739.9L977.4 740.6L978.7 741.3L980.0 742.1L981.3 742.8L982.6 743.5L983.9 744.3L985.2 745.0L986.5 745.7L987.9 746.4L989.2 747.1L990.5 747.9L991.8 748.6L993.1 749.3L994.5 750.0L995.8 750.7L997.1 751.4L998.4 752.1L999.8 752.8L1001.1 753.5L1002.4 754.2L1003.8 754.9L1005.1 755.6L1006.4 756.3L1007.8 757.0L1009.1 757.7L1010.4 758.4L1011.8 759.1L1013.1 759.7L1014.4 760.4L1015.8 761.1L1017.1 761.8L1018.5 762.4L1019.8 763.1L1021.2 763.8L1022.5 764.4L1023.9 765.1L1025.2 765.7L1026.6 766.4L1027.9 767.0L1029.3 767.7L1030.6 768.3L1032.0 769.0L1033.4 769.6L1034.7 770.2L1036.1 770.9"/>
<path d="M130.9 840.6L131.2 839.1L131.4 837.6L131.7 836.1L132.0 834.7L132.2 833.2L132.5 831.7L132.8 830.2L133.0 828.7L133.3 827.3L133.6 825.8L133.9 824.3L134.1 822.8L134.4 821.4L134.7 819.9L135.0 818.4L135.3 816.9L135.5 815.5L135.8 814.0L136.1 812.5L136.4 811.0L136.7 809.6L137.0 808.1L137.3 806.6L137.6 805.1L137.8 803.7L138.1 802.2L138.4 800.7L138.7 799.2L139.0 797.8L139.3 796.3L139.6 794.8L139.9 793.4L140.2 791.9L140.5 790.4L140.8 788.9L141.1 787.5L141.4 786.0L141.7 784.5L142.0 783.0L142.3 781.6L142.6 780.1L142.9 778.6L143.2 777.2L143.5 775.7L143.8 774.2L144.1 772.7L144.4 771.3L144.7 769.8L145.0 768.3L145.3 766.9L145.7 765.4L146.0 763.9L146.3 762.4L146.6 761.0L146.9 759.5L147.2 758.0L147.5 756.6L147.8 755.1L148.1 753.6L148.4 752.2L148.7 750.7L149.0 749.2L149.3 747.7L149.7 746.3L150.0 744.8L150.3 743.3L150.6 741.9L150.9 740.4L151.2 738.9L151.5 737.5L151.8 736.0L152.1 734.5L152.4 733.0L152.7 731.6L153.0 730.1L153.3 728.6L153.7 727.2L154.0 725.7L154.3 724.2L154.6 722.7L154.9 721.3L155.2 719.8L155.5 718.3L155.8 716.9L156.1 715.4L156.4 713.9L156.7 712.4L157.0 711.0L157.3 709.5L157.6 708.0L157.9 706.6L158.2 705.1L158.5 703.6L158.8 702.1L159.1 700.7L159.4 699.2L159.6 697.7L159.9 696.2L160.2 694.8L160.5 693.3L160.8 691.8L161.1 690.3L161.4 688.9L161.7 687.4L162.0 685.9L162.2 684.4L162.5 683.0L162.8 681.5L163.1 680.0L163.4 678.5L163.6 677.1L163.9 675.6L164.2 674.1L164.5 672.6L164.7 671.2L165.0 669.7L165.3 668.2L165.6 666.7L165.8 665.2L166.1 663.8L166.4 662.3L166.6 660.8L166.9 659.3L167.2 657.9L167.4 656.4L167.7 654.9L167.9 653.4L168.2 651.9L168.5 650.5L168.7 649.0L169.0 647.5L169.3 646.0L169.5 644.5L169.8 643.1L170.0 641.6L170.3 640.1L170.6 638.6L170.8 637.1L171.1 635.7L171.4 634.2L171.6 632.7L171.9 631.2L172.2 629.8L172.4 628.3L172.7 626.8L173.0 625.3L173.3 623.8L173.5 622.4L173.8 620.9L174.1 619.4L174.4 617.9L174.7 616.5L175.0 615.0L175.2 613.5L175.5 612.0L175.8 610.6L176.1 609.1L176.4 607.6L176.7 606.2L177.1 604.7L177.4 603.2L177.7 601.8L178.0 600.3L178.3 598.8L178.7 597.4L179.0 595.9L179.4 594.4L179.7 593.0L180.1 591.5L180.4 590.1L180.8 588.6L181.2 587.1L181.6 585.7L182.0 584.2L182.4 582.8L182.8 581.4L183.3 579.9L183.7 578.5L184.2 577.1L184.6 575.6L185.1 574.2L185.6 572.8L186.2 571.4L186.7 570.0L187.3 568.6L187.9 567.2L188.5 565.9L189.2 564.5L189.8 563.2L190.6 561.8L191.3 560.5L192.0 559.2L192.8 558.0L193.6 556.7L194.5 555.4L195.3 554.2L196.2 553.0L197.1 551.8L198.0 550.6L199.0 549.4L199.9 548.3L200.9 547.1L201.8 545.9L202.7 544.7L203.7 543.6L204.6 542.4L205.5 541.2L206.4 540.0L207.3 538.8L208.1 537.5L209.0 536.3L209.8 535.0L210.6 533.7L211.3 532.4L212.1 531.1L212.8 529.8L213.5 528.5L214.2 527.2L214.9 525.8L215.6 524.5L216.3 523.2L217.0 521.8L217.6 520.5L218.3 519.1L219.0 517.8L219.7 516.5L220.3 515.1L221.0 513.8L221.7 512.4L222.4 511.1L223.1 509.8L223.8 508.4L224.5 507.1L225.2 505.8L225.9 504.4L226.6 503.1L227.3 501.8L228.1 500.5L228.8 499.2L229.5 497.9L230.3 496.6L231.1 495.3L231.8 494.0L232.6 492.7L233.4 491.5L234.3 490.2L235.1 489.0L235.9 487.7L236.8 486.5L237.7 485.3L238.6 484.1L239.5 482.9L240.4 481.7L241.4 480.5L242.4 479.4L243.4 478.3L244.4 477.2L245.5 476.2L246.6 475.2L247.8 474.2L248.9 473.2L250.1 472.4L251.4 471.5L252.7 470.8L254.0 470.0L255.3 469.4L256.7 468.8L258.1 468.2L259.5 467.7L261.0 467.3L262.4 466.9L263.9 466.6L265.4 466.3L266.9 466.1L268.4 466.0L269.9 465.9L271.4 465.8L272.9 465.8L274.4 465.8L275.9 465.8L277.4 465.9L278.9 466.0L280.4 466.1L281.9 466.2L283.4 466.4L284.8 466.6L286.3 466.8L287.8 466.9L289.3 467.1L290.8 467.3L292.3 467.5L293.8 467.7L295.3 467.9L296.8 468.1L298.3 468.3L299.8 468.5L301.2 468.6L302.7 468.8L304.2 468.9L305.7 469.0L307.2 469.1L308.7 469.2L310.2 469.2L311.7 469.3L313.2 469.3L314.7 469.4L316.2 469.4L317.7 469.4L319.3 469.4L320.8 469.3L322.3 469.3L323.8 469.3L325.3 469.2L326.8 469.2L328.3 469.1L329.8 469.0L331.3 468.9L332.8 468.8L334.3 468.7L335.8 468.6L337.3 468.5L338.8 468.4L340.2 468.2L341.7 468.1L343.2 468.0L344.7 467.8L346.2 467.7L347.7 467.5L349.2 467.4L350.7 467.2L352.2 467.0L353.7 466.9L355.2 466.7L356.7 466.5L358.2 466.4L359.7 466.2L361.2 466.0L362.7 465.9L364.2 465.7L365.6 465.5L367.1 465.4L368.6 465.2L370.1 465.1L371.6 464.9L373.1 464.8L374.6 464.6L376.1 464.5L377.6 464.4L379.1 464.3L380.6 464.2L382.1 464.1L383.6 464.0L385.1 464.0L386.6 463.9L388.1 463.9L389.6 463.9L391.1 463.9L392.6 463.9L394.1 463.9L395.6 464.0L397.1 464.1L398.6 464.2L400.1 464.3L401.6 464.4L403.1 464.6L404.6 464.8L406.1 465.0L407.6 465.2L409.1 465.4L410.5 465.7L412.0 466.0L413.5 466.3L414.9 466.6L416.4 466.9L417.9 467.3L419.3 467.7L420.8 468.1L422.2 468.5L423.7 468.9L425.1 469.3L426.5 469.8L428.0 470.2L429.4 470.7L430.8 471.2L432.2 471.7L433.6 472.2L435.1 472.7L436.5 473.3L437.9 473.8L439.2 474.4L440.6 475.0L442.0 475.5L443.4 476.1L444.8 476.7L446.1 477.3L447.5 478.0L448.9 478.6L450.2 479.2L451.6 479.9L452.9 480.6L454.3 481.2L455.6 481.9L457.0 482.6L458.3 483.3L459.6 484.0L461.0 484.7L462.3 485.4L463.6 486.1L464.9 486.8L466.2 487.6L467.5 488.3L468.8 489.1L470.1 489.8L471.4 490.6L472.7 491.3L474.0 492.1L475.3 492.9L476.6 493.6L477.9 494.4L479.1 495.2L480.4 496.0L481.7 496.8L483.0 497.6L484.2 498.4L485.5 499.2L486.8 500.0L488.0 500.9L489.3 501.7L490.5 502.5L491.8 503.3L493.0 504.2L494.3 505.0L495.5 505.9L496.8 506.7L498.0 507.6L499.2 508.4L500.5 509.3L501.7 510.1L502.9 511.0L504.2 511.8L505.4 512.7L506.6 513.6L507.9 514.4L509.1 515.3L510.3 516.2L511.5 517.0L512.8 517.9L514.0 518.8L515.2 519.7L516.4 520.5L517.6 521.4L518.9 522.3L520.1 523.2L521.3 524.0L522.5 524.9L523.7 525.8L525.0 526.7L526.2 527.6L527.4 528.4L528.6 529.3L529.8 530.2L531.1 531.1L532.3 531.9L533.5 532.8L534.7 533.7L535.9 534.6L537.2 535.4L538.4 536.3L539.6 537.2L540.8 538.1L542.1 538.9L543.3 539.8L544.5 540.6L545.8 541.5L547.0 542.4L548.2 543.2L549.5 544.1L550.7 544.9L551.9 545.8L553.2 546.6L554.4 547.5L555.7 548.3L556.9 549.2L558.1 550.0L559.4 550.8L560.7 551.7L561.9 552.5L563.2 553.3L564.4 554.1L565.7 554.9L567.0 555.7L568.2 556.5L569.5 557.3L570.8 558.1L572.1 558.9L573.3 559.7L574.6 560.5L575.9 561.2L577.2 562.0L578.5 562.8L579.8 563.5L581.1 564.3L582.4 565.1L583.7 565.8L585.0 566.6L586.3 567.3L587.6 568.0L588.9 568.8L590.2 569.5L591.5 570.2L592.9 571.0L594.2 571.7L595.5 572.4L596.8 573.1L598.2 573.8L599.5 574.5L600.8 575.2L602.1 575.9L603.5 576.6L604.8 577.3L606.2 578.0L607.5 578.6L608.8 579.3L610.2 580.0L611.5 580.7L612.9 581.3L614.2 582.0L615.6 582.6L616.9 583.3L618.3 584.0L619.6 584.6L621.0 585.3L622.3 585.9L623.7 586.5L625.1 587.2L626.4 587.8L627.8 588.4L629.1 589.1L630.5 589.7L631.9 590.3L633.2 591.0L634.6 591.6L636.0 592.2L637.3 592.8L638.7 593.4L640.1 594.0L641.5 594.7L642.8 595.3L644.2 595.9L645.6 596.5L647.0 597.1L648.3 597.7L649.7 598.3L651.1 598.9L652.5 599.5L653.8 600.1L655.2 600.7L656.6 601.3L658.0 601.9L659.4 602.5L660.7 603.1L662.1 603.7L663.5 604.3L664.9 604.9L666.3 605.4L667.6 606.0L669.0 606.6L670.4 607.2L671.8 607.8L673.2 608.4L674.5 609.0L675.9 609.6L677.3 610.2L678.7 610.8L680.1 611.4L681.4 612.0L682.8 612.6L684.2 613.2L685.6 613.8L686.9 614.4L688.3 615.0L689.7 615.6L691.1 616.2L692.4 616.8L693.8 617.4L695.2 618.0L696.6 618.6L697.9 619.2L699.3 619.8L700.7 620.5L702.0 621.1L703.4 621.7L704.8 622.3L706.2 622.9L707.5 623.6L708.9 624.2L710.2 624.8L711.6 625.5L713.0 626.1L714.3 626.8L715.7 627.4L717.0 628.0L718.4 628.7L719.7 629.3L721.1 630.0L722.4 630.7L723.8 631.3L725.1 632.0L726.5 632.6L727.8 633.3L729.2 634.0L730.5 634.7L731.9 635.4L733.2 636.0L734.5 636.7L735.9 637.4L737.2 638.1L738.5 638.8L739.8 639.5L741.2 640.2L742.5 640.9L743.8 641.7L745.1 642.4L746.5 643.1L747.8 643.8L749.1 644.6L750.4 645.3L751.7 646.0L753.0 646.8L754.3 647.5L755.6 648.3L756.9 649.0L758.2 649.8L759.5 650.6L760.8 651.3L762.1 652.1L763.4 652.9L764.6 653.7L765.9 654.5L767.2 655.2L768.5 656.0L769.7 656.8L771.0 657.6L772.3 658.5L773.5 659.3L774.8 660.1L776.1 660.9L777.3 661.7L778.6 662.6L779.8 663.4L781.1 664.2L782.3 665.1L783.5 665.9L784.8 666.8L786.0 667.6L787.3 668.5L788.5 669.3L789.7 670.2L791.0 671.1L792.2 671.9L793.4 672.8L794.6 673.6L795.9 674.5L797.1 675.4L798.3 676.2L799.6 677.1L800.8 678.0L802.0 678.8L803.3 679.7L804.5 680.5L805.7 681.4L807.0 682.2L808.2 683.1L809.4 683.9L810.7 684.8L811.9 685.6L813.2 686.4L814.4 687.3L815.7 688.1L817.0 688.9L818.2 689.7L819.5 690.5L820.8 691.3L822.1 692.1L823.3 692.9L824.6 693.6L825.9 694.4L827.2 695.1L828.5 695.9L829.9 696.6L831.2 697.3L832.5 698.0L833.9 698.7L835.2 699.4L836.6 700.0L837.9 700.7L839.3 701.3L840.6 701.9L842.0 702.5L843.4 703.1L844.8 703.7L846.2 704.3L847.5 704.9L848.9 705.4L850.3 706.0L851.7 706.5L853.2 707.0L854.6 707.6L856.0 708.1L857.4 708.6L858.8 709.1L860.2 709.6L861.6 710.1L863.1 710.6L864.5 711.1L865.9 711.5L867.3 712.0L868.7 712.5L870.2 713.0L871.6 713.5L873.0 714.0L874.4 714.4L875.9 714.9L877.3 715.4L878.7 715.9L880.1 716.4L881.5 716.9L882.9 717.4L884.3 718.0L885.8 718.5L887.2 719.0L888.6 719.5L890.0 720.1L891.4 720.6L892.8 721.2L894.2 721.7L895.6 722.3L897.0 722.8L898.3 723.4L899.7 724.0L901.1 724.5L902.5 725.1L903.9 725.7L905.3 726.3L906.7 726.9L908.0 727.5L909.4 728.1L910.8 728.7L912.2 729.3L913.6 729.9L914.9 730.5L916.3 731.1L917.7 731.7L919.0 732.3L920.4 732.9L921.8 733.5L923.2 734.2L924.5 734.8L925.9 735.4L927.3 736.0L928.6 736.7L930.0 737.3L931.3 737.9L932.7 738.6L934.1 739.2L935.4 739.8L936.8 740.5L938.1 741.1L939.5 741.8L940.8 742.4L942.2 743.1L943.6 743.7L944.9 744.4L946.3 745.0L947.6 745.7L949.0 746.3L950.3 747.0L951.7 747.6L953.0 748.3L954.4 748.9L955.7 749.6L957.1 750.3L958.4 750.9L959.8 751.6L961.1 752.2L962.5 752.9L963.8 753.6L965.2 754.2L966.5 754.9L967.9 755.5L969.2 756.2L970.6 756.9L971.9 757.5L973.3 758.2L974.6 758.8L976.0 759.5L977.3 760.1L978.7 760.8L980.0 761.5L981.4 762.1L982.7 762.8L984.1 763.4L985.4 764.1L986.8 764.7L988.2 765.4L989.5 766.0L990.9 766.7L992.2 767.3L993.6 768.0L994.9 768.6L996.3 769.3L997.6 769.9L999.0 770.5L1000.4 771.2L1001.7 771.8L1003.1 772.5L1004.4 773.1L1005.8 773.7L1007.2 774.4L1008.5 775.0L1009.9 775.6L1011.3 776.2L1012.6 776.9L1014.0 777.5L1015.4 778.1L1016.8 778.7L1018.1 779.3L1019.5 779.9L1020.9 780.5L1022.3 781.1L1023.6 781.7L1025.0 782.3L1026.4 782.9L1027.8 783.5L1029.2 784.1L1030.5 784.7L1031.9 785.2L1033.3 785.8L1034.7 786.4L1036.1 787.0"/>
<path d="M130.9 840.5L131.2 839.0L131.4 837.5L131.7 836.1L132.0 834.6L132.2 833.1L132.5 831.6L132.8 830.1L133.1 828.7L133.3 827.2L133.6 825.7L133.9 824.2L134.2 822.8L134.5 821.3L134.7 819.8L135.0 818.3L135.3 816.9L135.6 815.4L135.9 813.9L136.2 812.4L136.4 810.9L136.7 809.5L137.0 808.0L137.3 806.5L137.6 805.0L137.9 803.6L138.2 802.1L138.5 800.6L138.8 799.1L139.1 797.7L139.4 796.2L139.7 794.7L140.0 793.2L140.2 791.8L140.5 790.3L140.8 788.8L141.1 787.4L141.4 785.9L141.7 784.4L142.0 782.9L142.3 781.5L142.6 780.0L143.0 778.5L143.3 777.0L143.6 775.6L143.9 774.1L144.2 772.6L144.5 771.1L144.8 769.7L145.1 768.2L145.4 766.7L145.7 765.3L146.0 763.8L146.3 762.3L146.6 760.8L146.9 759.4L147.2 757.9L147.5 756.4L147.8 755.0L148.1 753.5L148.5 752.0L148.8 750.5L149.1 749.1L149.4 747.6L149.7 746.1L150.0 744.7L150.3 743.2L150.6 741.7L150.9 740.2L151.2 738.8L151.5 737.3L151.8 735.8L152.1 734.3L152.4 732.9L152.7 731.4L153.1 729.9L153.4 728.5L153.7 727.0L154.0 725.5L154.3 724.0L154.6 722.6L154.9 721.1L155.2 719.6L155.5 718.1L155.8 716.7L156.1 715.2L156.4 713.7L156.7 712.3L157.0 710.8L157.3 709.3L157.6 707.8L157.9 706.4L158.2 704.9L158.5 703.4L158.8 701.9L159.1 700.5L159.4 699.0L159.6 697.5L159.9 696.0L160.2 694.6L160.5 693.1L160.8 691.6L161.1 690.1L161.4 688.7L161.7 687.2L162.0 685.7L162.2 684.2L162.5 682.8L162.8 681.3L163.1 679.8L163.4 678.3L163.7 676.8L163.9 675.4L164.2 673.9L164.5 672.4L164.8 670.9L165.0 669.5L165.3 668.0L165.6 666.5L165.9 665.0L166.1 663.5L166.4 662.1L166.7 660.6L166.9 659.1L167.2 657.6L167.5 656.1L167.7 654.7L168.0 653.2L168.3 651.7L168.5 650.2L168.8 648.7L169.0 647.3L169.3 645.8L169.6 644.3L169.8 642.8L170.1 641.3L170.4 639.9L170.6 638.4L170.9 636.9L171.2 635.4L171.4 633.9L171.7 632.5L172.0 631.0L172.3 629.5L172.5 628.0L172.8 626.5L173.1 625.1L173.4 623.6L173.6 622.1L173.9 620.6L174.2 619.2L174.5 617.7L174.8 616.2L175.1 614.7L175.4 613.3L175.7 611.8L176.0 610.3L176.3 608.8L176.6 607.4L176.9 605.9L177.2 604.4L177.5 603.0L177.8 601.5L178.1 600.0L178.5 598.6L178.8 597.1L179.2 595.6L179.5 594.2L179.9 592.7L180.2 591.2L180.6 589.8L180.9 588.3L181.3 586.9L181.7 585.4L182.1 584.0L182.5 582.5L182.9 581.1L183.3 579.6L183.8 578.2L184.2 576.7L184.7 575.3L185.2 573.9L185.7 572.5L186.2 571.1L186.7 569.6L187.2 568.2L187.8 566.8L188.4 565.5L189.0 564.1L189.6 562.7L190.3 561.4L191.0 560.0L191.7 558.7L192.4 557.4L193.2 556.1L194.0 554.8L194.8 553.6L195.7 552.3L196.5 551.1L197.4 549.9L198.4 548.7L199.4 547.6L200.4 546.5L201.4 545.4L202.4 544.3L203.5 543.2L204.6 542.2L205.7 541.2L206.8 540.2L207.9 539.2L209.1 538.2L210.2 537.2L211.4 536.3L212.5 535.3L213.7 534.3L214.8 533.4L216.0 532.4L217.1 531.4L218.2 530.3L219.3 529.3L220.3 528.2L221.4 527.1L222.4 526.0L223.4 524.9L224.4 523.8L225.4 522.7L226.5 521.6L227.5 520.5L228.5 519.4L229.6 518.4L230.7 517.3L231.8 516.3L233.0 515.4L234.2 514.5L235.4 513.6L236.6 512.7L237.9 511.9L239.2 511.2L240.5 510.5L241.9 509.8L243.3 509.2L244.7 508.7L246.1 508.2L247.5 507.8L249.0 507.4L250.4 507.0L251.9 506.7L253.4 506.5L254.9 506.3L256.4 506.2L257.9 506.1L259.4 506.0L260.9 506.0L262.4 506.0L263.9 506.0L265.4 506.1L266.9 506.2L268.4 506.3L269.9 506.5L271.4 506.7L272.9 506.9L274.4 507.1L275.9 507.3L277.3 507.6L278.8 507.9L280.3 508.1L281.8 508.4L283.2 508.7L284.7 509.0L286.2 509.3L287.7 509.7L289.1 510.0L290.6 510.3L292.1 510.6L293.5 510.9L295.0 511.2L296.5 511.6L297.9 511.9L299.4 512.2L300.9 512.4L302.4 512.7L303.9 513.0L305.3 513.2L306.8 513.5L308.3 513.7L309.8 514.0L311.3 514.2L312.8 514.4L314.3 514.6L315.7 514.8L317.2 515.0L318.7 515.2L320.2 515.4L321.7 515.6L323.2 515.8L324.7 516.0L326.2 516.1L327.7 516.3L329.2 516.5L330.7 516.7L332.2 516.8L333.7 517.0L335.1 517.2L336.6 517.3L338.1 517.5L339.6 517.7L341.1 517.9L342.6 518.0L344.1 518.2L345.6 518.4L347.1 518.6L348.6 518.8L350.1 519.0L351.6 519.2L353.0 519.4L354.5 519.6L356.0 519.9L357.5 520.1L359.0 520.3L360.5 520.6L362.0 520.9L363.4 521.1L364.9 521.4L366.4 521.7L367.9 522.0L369.3 522.3L370.8 522.6L372.3 522.9L373.7 523.3L375.2 523.6L376.7 524.0L378.1 524.3L379.6 524.7L381.0 525.1L382.5 525.5L383.9 525.9L385.4 526.3L386.8 526.7L388.3 527.1L389.7 527.6L391.2 528.0L392.6 528.4L394.0 528.9L395.5 529.4L396.9 529.8L398.3 530.3L399.7 530.8L401.1 531.3L402.6 531.8L404.0 532.3L405.4 532.8L406.8 533.3L408.2 533.9L409.6 534.4L411.0 534.9L412.4 535.5L413.8 536.1L415.2 536.6L416.6 537.2L418.0 537.8L419.4 538.3L420.8 538.9L422.1 539.5L423.5 540.1L424.9 540.7L426.3 541.4L427.6 542.0L429.0 542.6L430.4 543.2L431.7 543.9L433.1 544.5L434.4 545.2L435.8 545.8L437.1 546.5L438.5 547.2L439.8 547.8L441.2 548.5L442.5 549.2L443.8 549.9L445.2 550.6L446.5 551.3L447.8 552.0L449.2 552.7L450.5 553.4L451.8 554.1L453.1 554.9L454.4 555.6L455.7 556.3L457.1 557.1L458.4 557.8L459.7 558.5L461.0 559.3L462.3 560.0L463.6 560.8L464.9 561.6L466.2 562.3L467.5 563.1L468.8 563.9L470.1 564.6L471.4 565.4L472.6 566.2L473.9 566.9L475.2 567.7L476.5 568.5L477.8 569.3L479.1 570.0L480.4 570.8L481.6 571.6L482.9 572.4L484.2 573.2L485.5 573.9L486.8 574.7L488.1 575.5L489.4 576.3L490.6 577.1L491.9 577.9L493.2 578.6L494.5 579.4L495.8 580.2L497.1 581.0L498.4 581.8L499.6 582.5L500.9 583.3L502.2 584.1L503.5 584.8L504.8 585.6L506.1 586.4L507.4 587.1L508.7 587.9L510.0 588.7L511.3 589.4L512.6 590.2L513.9 590.9L515.2 591.7L516.5 592.4L517.8 593.1L519.1 593.9L520.5 594.6L521.8 595.3L523.1 596.1L524.4 596.8L525.7 597.5L527.1 598.2L528.4 598.9L529.7 599.6L531.1 600.3L532.4 600.9L533.8 601.6L535.1 602.3L536.5 602.9L537.8 603.6L539.2 604.2L540.5 604.9L541.9 605.5L543.3 606.1L544.6 606.7L546.0 607.3L547.4 607.9L548.8 608.5L550.2 609.1L551.6 609.6L553.0 610.2L554.4 610.8L555.8 611.3L557.2 611.9L558.6 612.4L560.0 612.9L561.4 613.4L562.8 614.0L564.2 614.5L565.6 615.0L567.0 615.5L568.5 616.0L569.9 616.4L571.3 616.9L572.7 617.4L574.2 617.9L575.6 618.4L577.0 618.8L578.5 619.3L579.9 619.7L581.3 620.2L582.8 620.7L584.2 621.1L585.6 621.6L587.1 622.0L588.5 622.5L589.9 622.9L591.4 623.3L592.8 623.8L594.2 624.2L595.7 624.7L597.1 625.1L598.6 625.5L600.0 626.0L601.4 626.4L602.9 626.9L604.3 627.3L605.7 627.8L607.2 628.2L608.6 628.7L610.0 629.1L611.5 629.6L612.9 630.1L614.3 630.5L615.8 631.0L617.2 631.5L618.6 631.9L620.0 632.4L621.5 632.9L622.9 633.4L624.3 633.9L625.7 634.4L627.1 634.9L628.5 635.4L630.0 635.9L631.4 636.5L632.8 637.0L634.2 637.5L635.6 638.1L637.0 638.6L638.4 639.2L639.8 639.7L641.2 640.3L642.6 640.8L644.0 641.4L645.4 642.0L646.8 642.5L648.1 643.1L649.5 643.7L650.9 644.2L652.3 644.8L653.7 645.4L655.1 645.9L656.5 646.5L657.9 647.1L659.3 647.7L660.7 648.2L662.1 648.8L663.4 649.4L664.8 650.0L666.2 650.5L667.6 651.1L669.0 651.6L670.4 652.2L671.8 652.8L673.2 653.3L674.6 653.9L676.0 654.4L677.4 655.0L678.8 655.5L680.2 656.0L681.6 656.6L683.0 657.1L684.4 657.6L685.9 658.1L687.3 658.6L688.7 659.1L690.1 659.6L691.5 660.1L693.0 660.6L694.4 661.0L695.8 661.5L697.3 661.9L698.7 662.4L700.1 662.8L701.6 663.2L703.0 663.7L704.5 664.1L705.9 664.5L707.4 664.9L708.8 665.3L710.3 665.6L711.7 666.0L713.2 666.4L714.6 666.8L716.1 667.2L717.6 667.6L719.0 667.9L720.5 668.3L721.9 668.7L723.4 669.1L724.8 669.5L726.3 669.8L727.7 670.2L729.2 670.6L730.6 671.0L732.1 671.5L733.5 671.9L735.0 672.3L736.4 672.7L737.8 673.2L739.3 673.6L740.7 674.1L742.1 674.6L743.5 675.1L745.0 675.5L746.4 676.1L747.8 676.6L749.2 677.1L750.6 677.6L752.0 678.2L753.4 678.8L754.8 679.4L756.2 679.9L757.5 680.6L758.9 681.2L760.3 681.8L761.6 682.4L763.0 683.1L764.4 683.7L765.7 684.4L767.1 685.0L768.4 685.7L769.7 686.4L771.1 687.1L772.4 687.8L773.7 688.5L775.1 689.2L776.4 689.9L777.7 690.6L779.0 691.3L780.4 692.1L781.7 692.8L783.0 693.5L784.3 694.3L785.6 695.0L786.9 695.7L788.2 696.5L789.5 697.2L790.8 698.0L792.1 698.7L793.4 699.5L794.7 700.3L796.0 701.0L797.3 701.8L798.6 702.6L799.9 703.3L801.2 704.1L802.5 704.9L803.8 705.6L805.1 706.4L806.4 707.2L807.7 707.9L808.9 708.7L810.2 709.5L811.5 710.2L812.8 711.0L814.1 711.8L815.4 712.5L816.7 713.3L818.0 714.0L819.3 714.8L820.6 715.6L821.9 716.3L823.2 717.1L824.5 717.8L825.8 718.6L827.1 719.3L828.4 720.1L829.7 720.8L831.1 721.5L832.4 722.2L833.7 723.0L835.0 723.7L836.3 724.4L837.7 725.1L839.0 725.8L840.3 726.5L841.6 727.2L843.0 727.9L844.3 728.6L845.6 729.3L847.0 730.0L848.3 730.7L849.7 731.4L851.0 732.0L852.4 732.7L853.7 733.4L855.1 734.0L856.4 734.7L857.8 735.3L859.1 736.0L860.5 736.6L861.9 737.2L863.2 737.9L864.6 738.5L866.0 739.1L867.3 739.7L868.7 740.4L870.1 741.0L871.4 741.6L872.8 742.2L874.2 742.8L875.6 743.4L877.0 744.0L878.4 744.5L879.7 745.1L881.1 745.7L882.5 746.3L883.9 746.8L885.3 747.4L886.7 748.0L888.1 748.5L889.5 749.1L890.9 749.6L892.3 750.2L893.7 750.7L895.1 751.2L896.5 751.8L897.9 752.3L899.3 752.8L900.7 753.3L902.2 753.8L903.6 754.3L905.0 754.8L906.4 755.3L907.8 755.8L909.3 756.3L910.7 756.8L912.1 757.3L913.5 757.8L915.0 758.2L916.4 758.7L917.8 759.2L919.2 759.6L920.7 760.1L922.1 760.5L923.5 761.0L925.0 761.4L926.4 761.9L927.9 762.3L929.3 762.8L930.7 763.2L932.2 763.6L933.6 764.1L935.1 764.5L936.5 764.9L937.9 765.3L939.4 765.8L940.8 766.2L942.3 766.6L943.7 767.0L945.2 767.4L946.6 767.9L948.0 768.3L949.5 768.7L950.9 769.1L952.4 769.6L953.8 770.0L955.3 770.4L956.7 770.9L958.1 771.3L959.6 771.7L961.0 772.2L962.4 772.6L963.9 773.1L965.3 773.5L966.7 774.0L968.2 774.4L969.6 774.9L971.0 775.4L972.5 775.8L973.9 776.3L975.3 776.8L976.7 777.3L978.2 777.8L979.6 778.3L981.0 778.8L982.4 779.3L983.8 779.8L985.2 780.3L986.6 780.9L988.0 781.4L989.4 781.9L990.8 782.5L992.2 783.1L993.6 783.6L995.0 784.2L996.4 784.8L997.8 785.4L999.2 786.0L1000.5 786.6L1001.9 787.2L1003.3 787.8L1004.7 788.4L1006.0 789.1L1007.4 789.7L1008.7 790.4L1010.1 791.0L1011.4 791.7L1012.8 792.4L1014.1 793.1L1015.4 793.8L1016.8 794.5L1018.1 795.2L1019.4 795.9L1020.7 796.6L1022.0 797.4L1023.3 798.1L1024.6 798.9L1025.9 799.7L1027.2 800.4L1028.5 801.2L1029.8 802.0L1031.1 802.8L1032.3 803.6L1033.6 804.4L1034.9 805.2L1036.1 806.1"/>
<path d="M129.8 844.9L130.2 843.4L130.5 842.0L130.8 840.5L131.1 839.0L131.4 837.6L131.7 836.1L132.0 834.6L132.3 833.2L132.6 831.7L132.9 830.2L133.2 828.7L133.5 827.3L133.8 825.8L134.1 824.3L134.4 822.9L134.7 821.4L135.0 819.9L135.3 818.4L135.6 817.0L135.9 815.5L136.1 814.0L136.4 812.5L136.7 811.1L137.0 809.6L137.3 808.1L137.6 806.6L137.9 805.2L138.2 803.7L138.5 802.2L138.7 800.7L139.0 799.3L139.3 797.8L139.6 796.3L139.9 794.8L140.2 793.4L140.5 791.9L140.7 790.4L141.0 788.9L141.3 787.5L141.6 786.0L141.9 784.5L142.2 783.0L142.4 781.6L142.7 780.1L143.0 778.6L143.3 777.1L143.6 775.7L143.9 774.2L144.1 772.7L144.4 771.2L144.7 769.8L145.0 768.3L145.3 766.8L145.6 765.3L145.9 763.9L146.1 762.4L146.4 760.9L146.7 759.4L147.0 758.0L147.3 756.5L147.6 755.0L147.8 753.5L148.1 752.1L148.4 750.6L148.7 749.1L149.0 747.6L149.3 746.2L149.6 744.7L149.9 743.2L150.1 741.8L150.4 740.3L150.7 738.8L151.0 737.3L151.3 735.9L151.6 734.4L151.9 732.9L152.2 731.4L152.5 730.0L152.8 728.5L153.1 727.0L153.4 725.5L153.7 724.1L153.9 722.6L154.2 721.1L154.5 719.7L154.8 718.2L155.1 716.7L155.5 715.2L155.8 713.8L156.1 712.3L156.4 710.8L156.7 709.4L157.0 707.9L157.3 706.4L157.6 704.9L157.9 703.5L158.2 702.0L158.5 700.5L158.8 699.1L159.2 697.6L159.5 696.1L159.8 694.7L160.1 693.2L160.4 691.7L160.8 690.3L161.1 688.8L161.4 687.3L161.8 685.9L162.1 684.4L162.4 682.9L162.8 681.5L163.1 680.0L163.4 678.5L163.8 677.1L164.1 675.6L164.5 674.2L164.8 672.7L165.2 671.2L165.5 669.8L165.9 668.3L166.2 666.9L166.6 665.4L166.9 663.9L167.3 662.5L167.7 661.0L168.0 659.6L168.4 658.1L168.8 656.7L169.2 655.2L169.6 653.8L169.9 652.3L170.3 650.9L170.7 649.4L171.1 648.0L171.5 646.5L171.9 645.1L172.3 643.6L172.8 642.2L173.2 640.7L173.6 639.3L174.0 637.8L174.4 636.4L174.9 635.0L175.3 633.5L175.7 632.1L176.2 630.7L176.6 629.2L177.1 627.8L177.5 626.4L178.0 624.9L178.5 623.5L178.9 622.1L179.4 620.7L179.9 619.2L180.4 617.8L180.8 616.4L181.3 615.0L181.8 613.5L182.3 612.1L182.8 610.7L183.3 609.3L183.9 607.9L184.4 606.5L184.9 605.1L185.4 603.7L186.0 602.3L186.5 600.9L187.0 599.5L187.6 598.1L188.2 596.7L188.7 595.3L189.3 593.9L189.8 592.5L190.4 591.1L191.0 589.7L191.6 588.3L192.2 587.0L192.8 585.6L193.4 584.2L194.0 582.8L194.6 581.5L195.2 580.1L195.9 578.7L196.5 577.4L197.1 576.0L197.8 574.7L198.5 573.3L199.1 572.0L199.8 570.6L200.5 569.3L201.2 568.0L201.9 566.7L202.7 565.3L203.4 564.0L204.2 562.7L204.9 561.4L205.7 560.2L206.5 558.9L207.3 557.6L208.2 556.4L209.0 555.2L209.9 553.9L210.8 552.7L211.7 551.6L212.7 550.4L213.7 549.3L214.7 548.1L215.7 547.1L216.8 546.0L217.9 545.0L219.0 544.0L220.2 543.0L221.4 542.1L222.6 541.3L223.9 540.4L225.1 539.7L226.5 538.9L227.8 538.3L229.2 537.7L230.6 537.1L232.0 536.6L233.4 536.2L234.9 535.8L236.4 535.5L237.8 535.3L239.3 535.1L240.8 535.0L242.3 534.9L243.8 534.9L245.3 535.0L246.8 535.1L248.3 535.2L249.8 535.4L251.3 535.7L252.8 536.0L254.2 536.3L255.7 536.7L257.1 537.1L258.6 537.5L260.0 538.0L261.4 538.5L262.8 539.0L264.2 539.6L265.6 540.2L267.0 540.8L268.4 541.4L269.7 542.0L271.1 542.7L272.4 543.3L273.8 544.0L275.1 544.7L276.4 545.4L277.7 546.1L279.1 546.8L280.4 547.6L281.7 548.3L283.0 549.0L284.3 549.8L285.6 550.5L286.9 551.3L288.2 552.0L289.5 552.8L290.8 553.5L292.1 554.3L293.4 555.0L294.7 555.8L296.0 556.6L297.3 557.3L298.6 558.0L299.9 558.8L301.2 559.5L302.5 560.2L303.9 561.0L305.2 561.7L306.5 562.4L307.8 563.1L309.2 563.7L310.5 564.4L311.9 565.0L313.3 565.7L314.6 566.3L316.0 566.9L317.4 567.5L318.8 568.0L320.2 568.6L321.6 569.1L323.0 569.6L324.4 570.1L325.8 570.6L327.3 571.0L328.7 571.5L330.1 571.9L331.6 572.3L333.0 572.7L334.5 573.1L335.9 573.5L337.4 573.9L338.9 574.2L340.3 574.6L341.8 574.9L343.3 575.2L344.7 575.5L346.2 575.8L347.7 576.1L349.1 576.4L350.6 576.7L352.1 577.0L353.6 577.3L355.0 577.5L356.5 577.8L358.0 578.1L359.5 578.3L361.0 578.6L362.4 578.9L363.9 579.1L365.4 579.4L366.9 579.7L368.3 579.9L369.8 580.2L371.3 580.5L372.8 580.8L374.2 581.0L375.7 581.3L377.2 581.6L378.7 582.0L380.1 582.3L381.6 582.6L383.1 582.9L384.5 583.3L386.0 583.6L387.4 584.0L388.9 584.4L390.3 584.8L391.8 585.2L393.2 585.6L394.7 586.0L396.1 586.5L397.5 586.9L399.0 587.4L400.4 587.9L401.8 588.4L403.2 588.9L404.6 589.4L406.0 590.0L407.4 590.5L408.8 591.1L410.2 591.7L411.6 592.3L412.9 592.9L414.3 593.5L415.7 594.1L417.0 594.7L418.4 595.4L419.8 596.0L421.1 596.7L422.5 597.3L423.8 598.0L425.2 598.7L426.5 599.3L427.8 600.0L429.2 600.7L430.5 601.4L431.8 602.1L433.2 602.8L434.5 603.5L435.8 604.2L437.1 604.9L438.5 605.6L439.8 606.3L441.1 607.0L442.4 607.8L443.8 608.5L445.1 609.2L446.4 609.9L447.7 610.6L449.0 611.4L450.3 612.1L451.7 612.8L453.0 613.5L454.3 614.3L455.6 615.0L456.9 615.7L458.2 616.5L459.5 617.2L460.9 617.9L462.2 618.6L463.5 619.4L464.8 620.1L466.1 620.8L467.4 621.6L468.7 622.3L470.0 623.0L471.4 623.7L472.7 624.5L474.0 625.2L475.3 625.9L476.6 626.7L477.9 627.4L479.2 628.1L480.6 628.8L481.9 629.5L483.2 630.3L484.5 631.0L485.8 631.7L487.2 632.4L488.5 633.1L489.8 633.8L491.1 634.5L492.5 635.3L493.8 636.0L495.1 636.7L496.4 637.4L497.8 638.1L499.1 638.7L500.4 639.4L501.8 640.1L503.1 640.8L504.4 641.5L505.8 642.2L507.1 642.8L508.5 643.5L509.8 644.2L511.2 644.8L512.5 645.5L513.9 646.2L515.2 646.8L516.6 647.5L517.9 648.1L519.3 648.7L520.7 649.4L522.0 650.0L523.4 650.6L524.8 651.2L526.1 651.8L527.5 652.4L528.9 653.0L530.3 653.6L531.7 654.2L533.0 654.8L534.4 655.4L535.8 655.9L537.2 656.5L538.6 657.0L540.0 657.6L541.4 658.1L542.8 658.6L544.2 659.2L545.6 659.7L547.1 660.2L548.5 660.7L549.9 661.2L551.3 661.7L552.7 662.2L554.1 662.7L555.6 663.2L557.0 663.6L558.4 664.1L559.9 664.6L561.3 665.0L562.7 665.5L564.2 665.9L565.6 666.3L567.0 666.8L568.5 667.2L569.9 667.6L571.4 668.0L572.8 668.4L574.3 668.8L575.7 669.2L577.2 669.6L578.6 670.0L580.1 670.4L581.5 670.8L583.0 671.1L584.4 671.5L585.9 671.9L587.3 672.2L588.8 672.6L590.3 672.9L591.7 673.3L593.2 673.6L594.7 673.9L596.1 674.3L597.6 674.6L599.0 674.9L600.5 675.2L602.0 675.5L603.5 675.8L604.9 676.2L606.4 676.5L607.9 676.8L609.3 677.1L610.8 677.4L612.3 677.6L613.8 677.9L615.2 678.2L616.7 678.5L618.2 678.8L619.7 679.1L621.1 679.3L622.6 679.6L624.1 679.9L625.6 680.1L627.1 680.4L628.5 680.7L630.0 680.9L631.5 681.2L633.0 681.4L634.5 681.7L635.9 682.0L637.4 682.2L638.9 682.5L640.4 682.7L641.9 683.0L643.3 683.2L644.8 683.5L646.3 683.7L647.8 684.0L649.3 684.2L650.7 684.4L652.2 684.7L653.7 684.9L655.2 685.2L656.7 685.4L658.2 685.7L659.6 685.9L661.1 686.2L662.6 686.4L664.1 686.7L665.6 686.9L667.0 687.2L668.5 687.4L670.0 687.7L671.5 687.9L673.0 688.2L674.4 688.4L675.9 688.7L677.4 689.0L678.9 689.2L680.4 689.5L681.8 689.7L683.3 690.0L684.8 690.3L686.3 690.6L687.7 690.8L689.2 691.1L690.7 691.4L692.2 691.7L693.7 691.9L695.1 692.2L696.6 692.5L698.1 692.8L699.5 693.1L701.0 693.4L702.5 693.7L704.0 694.0L705.4 694.3L706.9 694.6L708.4 695.0L709.8 695.3L711.3 695.6L712.8 695.9L714.2 696.3L715.7 696.6L717.2 697.0L718.6 697.3L720.1 697.7L721.5 698.0L723.0 698.4L724.5 698.7L725.9 699.1L727.4 699.5L728.8 699.9L730.3 700.2L731.7 700.6L733.2 701.0L734.6 701.4L736.1 701.8L737.5 702.2L739.0 702.6L740.4 703.1L741.8 703.5L743.3 703.9L744.7 704.4L746.1 704.8L747.6 705.2L749.0 705.7L750.4 706.2L751.9 706.6L753.3 707.1L754.7 707.6L756.1 708.1L757.6 708.5L759.0 709.0L760.4 709.5L761.8 710.0L763.2 710.6L764.6 711.1L766.0 711.6L767.5 712.1L768.9 712.7L770.3 713.2L771.7 713.7L773.1 714.3L774.4 714.9L775.8 715.4L777.2 716.0L778.6 716.6L780.0 717.1L781.4 717.7L782.8 718.3L784.1 718.9L785.5 719.5L786.9 720.1L788.3 720.8L789.6 721.4L791.0 722.0L792.4 722.6L793.7 723.3L795.1 723.9L796.4 724.6L797.8 725.2L799.1 725.9L800.5 726.6L801.8 727.2L803.1 727.9L804.5 728.6L805.8 729.3L807.2 730.0L808.5 730.7L809.8 731.4L811.1 732.1L812.5 732.8L813.8 733.5L815.1 734.3L816.4 735.0L817.7 735.7L819.0 736.5L820.3 737.2L821.6 738.0L822.9 738.7L824.2 739.5L825.5 740.3L826.8 741.1L828.1 741.8L829.3 742.6L830.6 743.4L831.9 744.2L833.2 745.0L834.4 745.8L835.7 746.6L837.0 747.4L838.2 748.2L839.5 749.0L840.8 749.8L842.0 750.7L843.3 751.5L844.5 752.3L845.8 753.1L847.1 753.9L848.3 754.7L849.6 755.6L850.9 756.4L852.1 757.2L853.4 758.0L854.7 758.8L855.9 759.6L857.2 760.4L858.5 761.2L859.8 762.0L861.0 762.7L862.3 763.5L863.6 764.3L864.9 765.0L866.2 765.8L867.5 766.5L868.8 767.2L870.2 768.0L871.5 768.7L872.8 769.4L874.2 770.1L875.5 770.7L876.9 771.4L878.2 772.0L879.6 772.6L881.0 773.2L882.3 773.8L883.7 774.4L885.1 774.9L886.5 775.5L888.0 776.0L889.4 776.5L890.8 776.9L892.2 777.4L893.7 777.8L895.1 778.2L896.6 778.7L898.0 779.0L899.5 779.4L900.9 779.8L902.4 780.1L903.8 780.4L905.3 780.8L906.8 781.1L908.3 781.4L909.7 781.6L911.2 781.9L912.7 782.2L914.2 782.4L915.7 782.7L917.1 782.9L918.6 783.2L920.1 783.4L921.6 783.6L923.1 783.8L924.6 784.1L926.0 784.3L927.5 784.5L929.0 784.7L930.5 785.0L932.0 785.2L933.5 785.4L935.0 785.7L936.4 785.9L937.9 786.2L939.4 786.4L940.9 786.7L942.3 787.0L943.8 787.2L945.3 787.5L946.8 787.8L948.2 788.2L949.7 788.5L951.2 788.9L952.6 789.2L954.1 789.6L955.5 790.0L957.0 790.4L958.4 790.8L959.8 791.3L961.3 791.8L962.7 792.2L964.1 792.7L965.5 793.3L966.9 793.8L968.3 794.3L969.7 794.9L971.1 795.5L972.5 796.1L973.8 796.8L975.2 797.4L976.5 798.1L977.9 798.8L979.2 799.5L980.5 800.2L981.8 800.9L983.1 801.7L984.4 802.4L985.7 803.2L987.0 804.0L988.3 804.8L989.5 805.6L990.8 806.4L992.1 807.2L993.3 808.0L994.6 808.8L995.9 809.6L997.2 810.4L998.4 811.1L999.7 811.9L1001.0 812.7L1002.3 813.5L1003.6 814.2L1004.9 815.0L1006.2 815.7L1007.5 816.4L1008.9 817.1L1010.2 817.8L1011.6 818.4L1012.9 819.0L1014.3 819.6L1015.7 820.1L1017.2 820.6L1018.6 821.1L1020.0 821.5L1021.5 821.8L1023.0 822.1L1024.5 822.2L1026.0 822.3L1027.5 822.3L1029.0 822.2L1030.5 822.0L1031.9 821.7L1033.4 821.2L1034.8 820.7L1036.1 820.0"/>
<path d="M132.8 829.4L133.1 827.9L133.4 826.5L133.8 825.0L134.1 823.5L134.4 822.1L134.8 820.6L135.1 819.1L135.4 817.7L135.7 816.2L136.0 814.7L136.3 813.3L136.7 811.8L137.0 810.3L137.3 808.8L137.6 807.4L137.9 805.9L138.2 804.4L138.5 803.0L138.8 801.5L139.1 800.0L139.4 798.5L139.7 797.1L140.0 795.6L140.3 794.1L140.6 792.7L140.8 791.2L141.1 789.7L141.4 788.2L141.7 786.8L142.0 785.3L142.3 783.8L142.6 782.3L142.9 780.9L143.1 779.4L143.4 777.9L143.7 776.4L144.0 775.0L144.3 773.5L144.5 772.0L144.8 770.5L145.1 769.1L145.4 767.6L145.7 766.1L145.9 764.6L146.2 763.2L146.5 761.7L146.8 760.2L147.0 758.7L147.3 757.2L147.6 755.8L147.9 754.3L148.2 752.8L148.4 751.3L148.7 749.9L149.0 748.4L149.3 746.9L149.5 745.4L149.8 744.0L150.1 742.5L150.4 741.0L150.7 739.5L150.9 738.1L151.2 736.6L151.5 735.1L151.8 733.6L152.1 732.2L152.4 730.7L152.6 729.2L152.9 727.7L153.2 726.3L153.5 724.8L153.8 723.3L154.1 721.8L154.4 720.4L154.7 718.9L154.9 717.4L155.2 715.9L155.5 714.5L155.8 713.0L156.1 711.5L156.4 710.1L156.7 708.6L157.0 707.1L157.3 705.6L157.6 704.2L157.9 702.7L158.2 701.2L158.6 699.8L158.9 698.3L159.2 696.8L159.5 695.3L159.8 693.9L160.1 692.4L160.4 690.9L160.8 689.5L161.1 688.0L161.4 686.5L161.8 685.1L162.1 683.6L162.4 682.2L162.8 680.7L163.1 679.2L163.5 677.8L163.8 676.3L164.2 674.8L164.5 673.4L164.9 671.9L165.3 670.5L165.6 669.0L166.0 667.6L166.4 666.1L166.8 664.7L167.1 663.2L167.5 661.8L167.9 660.3L168.3 658.9L168.7 657.4L169.1 656.0L169.6 654.5L170.0 653.1L170.4 651.6L170.9 650.2L171.3 648.8L171.7 647.3L172.2 645.9L172.6 644.5L173.1 643.0L173.6 641.6L174.0 640.2L174.5 638.8L175.0 637.3L175.4 635.9L175.9 634.5L176.4 633.1L176.9 631.6L177.4 630.2L177.8 628.8L178.3 627.4L178.8 626.0L179.3 624.5L179.8 623.1L180.3 621.7L180.8 620.3L181.3 618.9L181.8 617.4L182.3 616.0L182.8 614.6L183.3 613.2L183.9 611.8L184.4 610.4L184.9 609.0L185.5 607.6L186.0 606.2L186.6 604.8L187.2 603.4L187.8 602.1L188.4 600.7L189.1 599.3L189.7 598.0L190.4 596.6L191.1 595.3L191.8 594.0L192.5 592.7L193.3 591.4L194.1 590.1L194.9 588.8L195.7 587.6L196.5 586.3L197.4 585.1L198.3 583.9L199.2 582.7L200.2 581.5L201.1 580.4L202.1 579.3L203.2 578.2L204.2 577.1L205.3 576.0L206.4 575.0L207.5 574.0L208.6 573.0L209.8 572.1L211.0 571.2L212.2 570.3L213.4 569.4L214.7 568.6L216.0 567.8L217.3 567.1L218.6 566.4L220.0 565.8L221.4 565.2L222.8 564.7L224.2 564.2L225.7 563.8L227.1 563.5L228.6 563.2L230.1 563.0L231.6 562.8L233.1 562.7L234.6 562.7L236.1 562.7L237.6 562.8L239.1 563.0L240.6 563.2L242.0 563.5L243.5 563.9L244.9 564.3L246.4 564.7L247.8 565.2L249.2 565.8L250.6 566.4L251.9 567.0L253.3 567.6L254.6 568.3L255.9 569.1L257.2 569.8L258.5 570.6L259.8 571.4L261.0 572.3L262.3 573.1L263.5 574.0L264.7 574.9L265.9 575.8L267.1 576.7L268.3 577.6L269.5 578.5L270.6 579.5L271.8 580.4L273.0 581.4L274.1 582.3L275.3 583.3L276.4 584.3L277.6 585.2L278.7 586.2L279.8 587.2L281.0 588.2L282.1 589.1L283.3 590.1L284.4 591.1L285.5 592.1L286.7 593.1L287.8 594.0L289.0 595.0L290.1 596.0L291.3 596.9L292.4 597.9L293.6 598.8L294.8 599.8L295.9 600.7L297.1 601.7L298.3 602.6L299.5 603.5L300.7 604.4L301.9 605.3L303.1 606.1L304.4 607.0L305.6 607.8L306.9 608.6L308.2 609.4L309.5 610.2L310.8 610.9L312.1 611.6L313.4 612.3L314.8 613.0L316.1 613.6L317.5 614.2L318.9 614.8L320.3 615.4L321.7 615.9L323.1 616.4L324.5 616.9L325.9 617.4L327.4 617.8L328.8 618.3L330.3 618.7L331.7 619.1L333.2 619.5L334.6 619.9L336.1 620.3L337.5 620.6L339.0 621.0L340.4 621.4L341.9 621.8L343.3 622.1L344.8 622.5L346.2 622.9L347.7 623.3L349.1 623.8L350.5 624.2L352.0 624.6L353.4 625.1L354.9 625.5L356.3 626.0L357.7 626.4L359.1 626.9L360.6 627.4L362.0 627.9L363.4 628.3L364.8 628.8L366.2 629.3L367.7 629.8L369.1 630.4L370.5 630.9L371.9 631.4L373.3 631.9L374.7 632.4L376.1 633.0L377.5 633.5L378.9 634.1L380.3 634.6L381.7 635.2L383.1 635.7L384.5 636.3L385.9 636.8L387.3 637.4L388.7 637.9L390.1 638.5L391.5 639.1L392.9 639.7L394.2 640.2L395.6 640.8L397.0 641.4L398.4 642.0L399.8 642.6L401.2 643.1L402.5 643.7L403.9 644.3L405.3 644.9L406.7 645.5L408.1 646.1L409.5 646.7L410.8 647.3L412.2 647.8L413.6 648.4L415.0 649.0L416.4 649.6L417.7 650.2L419.1 650.8L420.5 651.4L421.9 652.0L423.3 652.6L424.6 653.2L426.0 653.8L427.4 654.3L428.8 654.9L430.2 655.5L431.6 656.1L432.9 656.7L434.3 657.3L435.7 657.8L437.1 658.4L438.5 659.0L439.9 659.6L441.3 660.1L442.7 660.7L444.0 661.3L445.4 661.8L446.8 662.4L448.2 663.0L449.6 663.5L451.0 664.1L452.4 664.6L453.8 665.2L455.2 665.7L456.6 666.3L458.0 666.8L459.4 667.4L460.8 667.9L462.2 668.4L463.6 669.0L465.0 669.5L466.4 670.1L467.8 670.6L469.2 671.1L470.6 671.6L472.0 672.2L473.5 672.7L474.9 673.2L476.3 673.7L477.7 674.2L479.1 674.7L480.5 675.3L481.9 675.8L483.3 676.3L484.8 676.8L486.2 677.3L487.6 677.8L489.0 678.3L490.4 678.8L491.8 679.3L493.3 679.7L494.7 680.2L496.1 680.7L497.5 681.2L498.9 681.7L500.4 682.2L501.8 682.6L503.2 683.1L504.6 683.6L506.1 684.1L507.5 684.5L508.9 685.0L510.4 685.5L511.8 685.9L513.2 686.4L514.6 686.8L516.1 687.3L517.5 687.7L518.9 688.2L520.4 688.6L521.8 689.1L523.2 689.5L524.7 690.0L526.1 690.4L527.6 690.9L529.0 691.3L530.4 691.7L531.9 692.1L533.3 692.6L534.8 693.0L536.2 693.4L537.6 693.8L539.1 694.3L540.5 694.7L542.0 695.1L543.4 695.5L544.9 695.9L546.3 696.3L547.7 696.7L549.2 697.1L550.6 697.5L552.1 697.9L553.5 698.3L555.0 698.7L556.4 699.1L557.9 699.5L559.3 699.9L560.8 700.3L562.2 700.7L563.7 701.0L565.1 701.4L566.6 701.8L568.1 702.2L569.5 702.5L571.0 702.9L572.4 703.3L573.9 703.6L575.3 704.0L576.8 704.4L578.3 704.7L579.7 705.1L581.2 705.4L582.6 705.8L584.1 706.1L585.6 706.5L587.0 706.8L588.5 707.2L589.9 707.5L591.4 707.8L592.9 708.2L594.3 708.5L595.8 708.8L597.3 709.2L598.7 709.5L600.2 709.8L601.7 710.1L603.1 710.5L604.6 710.8L606.1 711.1L607.5 711.4L609.0 711.7L610.5 712.0L612.0 712.3L613.4 712.6L614.9 712.9L616.4 713.2L617.8 713.5L619.3 713.8L620.8 714.1L622.3 714.4L623.7 714.7L625.2 715.0L626.7 715.3L628.2 715.6L629.6 715.9L631.1 716.1L632.6 716.4L634.1 716.7L635.5 717.0L637.0 717.3L638.5 717.5L640.0 717.8L641.4 718.1L642.9 718.4L644.4 718.6L645.9 718.9L647.3 719.2L648.8 719.4L650.3 719.7L651.8 720.0L653.3 720.2L654.7 720.5L656.2 720.8L657.7 721.0L659.2 721.3L660.7 721.6L662.1 721.8L663.6 722.1L665.1 722.4L666.6 722.6L668.0 722.9L669.5 723.2L671.0 723.4L672.5 723.7L674.0 724.0L675.4 724.2L676.9 724.5L678.4 724.8L679.9 725.0L681.3 725.3L682.8 725.6L684.3 725.9L685.8 726.1L687.2 726.4L688.7 726.7L690.2 727.0L691.7 727.2L693.2 727.5L694.6 727.8L696.1 728.1L697.6 728.4L699.1 728.7L700.5 729.0L702.0 729.2L703.5 729.5L704.9 729.8L706.4 730.1L707.9 730.4L709.4 730.7L710.8 731.0L712.3 731.3L713.8 731.6L715.2 732.0L716.7 732.3L718.2 732.6L719.7 732.9L721.1 733.2L722.6 733.5L724.1 733.9L725.5 734.2L727.0 734.5L728.4 734.9L729.9 735.2L731.4 735.5L732.8 735.9L734.3 736.2L735.8 736.6L737.2 736.9L738.7 737.3L740.1 737.6L741.6 738.0L743.1 738.4L744.5 738.7L746.0 739.1L747.4 739.5L748.9 739.9L750.3 740.2L751.8 740.6L753.2 741.0L754.7 741.4L756.1 741.8L757.6 742.2L759.0 742.6L760.5 743.0L761.9 743.4L763.4 743.8L764.8 744.3L766.2 744.7L767.7 745.1L769.1 745.5L770.6 746.0L772.0 746.4L773.4 746.8L774.9 747.2L776.3 747.7L777.8 748.1L779.2 748.6L780.6 749.0L782.1 749.4L783.5 749.9L784.9 750.3L786.4 750.8L787.8 751.2L789.2 751.7L790.7 752.1L792.1 752.6L793.5 753.0L795.0 753.5L796.4 753.9L797.8 754.4L799.3 754.9L800.7 755.3L802.1 755.8L803.5 756.2L805.0 756.7L806.4 757.2L807.8 757.6L809.3 758.1L810.7 758.5L812.1 759.0L813.6 759.5L815.0 759.9L816.4 760.4L817.8 760.8L819.3 761.3L820.7 761.8L822.1 762.2L823.6 762.7L825.0 763.1L826.4 763.6L827.9 764.0L829.3 764.5L830.7 764.9L832.1 765.4L833.6 765.9L835.0 766.3L836.4 766.8L837.9 767.2L839.3 767.6L840.8 768.1L842.2 768.5L843.6 769.0L845.1 769.4L846.5 769.8L847.9 770.3L849.4 770.7L850.8 771.1L852.2 771.6L853.7 772.0L855.1 772.4L856.6 772.9L858.0 773.3L859.5 773.7L860.9 774.1L862.3 774.5L863.8 774.9L865.2 775.3L866.7 775.7L868.1 776.1L869.6 776.5L871.0 776.9L872.5 777.3L873.9 777.7L875.4 778.1L876.8 778.4L878.3 778.8L879.8 779.2L881.2 779.5L882.7 779.9L884.1 780.3L885.6 780.6L887.1 781.0L888.5 781.3L890.0 781.6L891.4 782.0L892.9 782.3L894.4 782.6L895.8 783.0L897.3 783.3L898.8 783.6L900.2 783.9L901.7 784.3L903.2 784.6L904.6 784.9L906.1 785.2L907.6 785.5L909.1 785.8L910.5 786.1L912.0 786.4L913.5 786.7L914.9 787.0L916.4 787.3L917.9 787.6L919.4 787.9L920.8 788.2L922.3 788.5L923.8 788.8L925.2 789.1L926.7 789.4L928.2 789.7L929.7 790.0L931.1 790.3L932.6 790.6L934.1 790.9L935.5 791.2L937.0 791.5L938.5 791.8L940.0 792.1L941.4 792.4L942.9 792.7L944.4 793.0L945.8 793.3L947.3 793.6L948.8 793.9L950.3 794.3L951.7 794.6L953.2 794.9L954.7 795.2L956.1 795.5L957.6 795.9L959.1 796.2L960.5 796.5L962.0 796.9L963.4 797.2L964.9 797.6L966.4 797.9L967.8 798.2L969.3 798.6L970.7 799.0L972.2 799.3L973.7 799.7L975.1 800.1L976.6 800.4L978.0 800.8L979.5 801.2L980.9 801.6L982.4 802.0L983.8 802.4L985.3 802.8L986.7 803.2L988.2 803.6L989.6 804.0L991.0 804.4L992.5 804.9L993.9 805.3L995.4 805.8L996.8 806.2L998.2 806.7L999.7 807.1L1001.1 807.6L1002.5 808.0L1003.9 808.5L1005.4 809.0L1006.8 809.5L1008.2 810.0L1009.6 810.5L1011.0 811.0L1012.4 811.5L1013.8 812.0L1015.3 812.6L1016.7 813.1L1018.1 813.6L1019.5 814.2L1020.9 814.7L1022.2 815.3L1023.6 815.9L1025.0 816.4L1026.4 817.0L1027.8 817.6L1029.2 818.2L1030.6 818.8L1031.9 819.4L1033.3 820.0L1034.7 820.6L1036.0 821.3"/>
<path d="M130.8 839.7L131.1 838.2L131.4 836.8L131.7 835.3L132.0 833.8L132.3 832.3L132.6 830.9L132.9 829.4L133.2 827.9L133.5 826.4L133.8 825.0L134.1 823.5L134.4 822.0L134.7 820.6L135.1 819.1L135.4 817.6L135.7 816.1L136.0 814.7L136.3 813.2L136.6 811.7L136.9 810.2L137.2 808.8L137.5 807.3L137.8 805.8L138.1 804.4L138.4 802.9L138.7 801.4L139.0 799.9L139.3 798.5L139.5 797.0L139.8 795.5L140.1 794.0L140.4 792.6L140.7 791.1L141.0 789.6L141.3 788.1L141.6 786.7L141.9 785.2L142.2 783.7L142.5 782.2L142.8 780.8L143.1 779.3L143.4 777.8L143.7 776.4L144.0 774.9L144.2 773.4L144.5 771.9L144.8 770.5L145.1 769.0L145.4 767.5L145.7 766.0L146.0 764.5L146.3 763.1L146.5 761.6L146.8 760.1L147.1 758.6L147.4 757.2L147.7 755.7L148.0 754.2L148.2 752.7L148.5 751.3L148.8 749.8L149.1 748.3L149.4 746.8L149.6 745.4L149.9 743.9L150.2 742.4L150.5 740.9L150.7 739.4L151.0 738.0L151.3 736.5L151.5 735.0L151.8 733.5L152.1 732.1L152.4 730.6L152.6 729.1L152.9 727.6L153.2 726.1L153.4 724.7L153.7 723.2L154.0 721.7L154.3 720.2L154.5 718.7L154.8 717.3L155.1 715.8L155.4 714.3L155.7 712.8L156.0 711.4L156.3 709.9L156.6 708.4L156.9 706.9L157.2 705.5L157.5 704.0L157.8 702.5L158.1 701.1L158.4 699.6L158.7 698.1L159.1 696.7L159.4 695.2L159.7 693.7L160.1 692.3L160.5 690.8L160.8 689.4L161.2 687.9L161.6 686.4L162.0 685.0L162.4 683.5L162.8 682.1L163.2 680.7L163.6 679.2L164.1 677.8L164.5 676.3L165.0 674.9L165.4 673.5L165.9 672.0L166.4 670.6L166.8 669.2L167.3 667.8L167.8 666.3L168.3 664.9L168.7 663.5L169.2 662.1L169.7 660.6L170.2 659.2L170.7 657.8L171.1 656.4L171.6 654.9L172.1 653.5L172.5 652.1L173.0 650.6L173.4 649.2L173.9 647.8L174.3 646.3L174.7 644.9L175.1 643.4L175.5 642.0L175.9 640.5L176.3 639.1L176.7 637.6L177.1 636.2L177.4 634.7L177.8 633.3L178.2 631.8L178.5 630.3L178.8 628.9L179.2 627.4L179.5 625.9L179.8 624.5L180.2 623.0L180.5 621.5L180.8 620.1L181.1 618.6L181.4 617.1L181.8 615.7L182.1 614.2L182.4 612.7L182.7 611.3L183.1 609.8L183.4 608.3L183.7 606.9L184.1 605.4L184.4 603.9L184.8 602.5L185.2 601.0L185.5 599.6L185.9 598.1L186.3 596.7L186.7 595.2L187.1 593.8L187.6 592.3L188.0 590.9L188.5 589.5L189.0 588.1L189.6 586.7L190.1 585.3L190.7 583.9L191.4 582.6L192.2 581.3L193.0 580.0L193.9 578.8L194.9 577.7L196.1 576.7L197.4 576.0L198.8 575.4L200.2 575.1L201.7 575.1L203.2 575.4L204.6 575.9L206.0 576.5L207.3 577.2L208.6 578.0L209.8 578.9L210.9 579.9L212.1 580.9L213.2 581.9L214.2 583.0L215.2 584.1L216.3 585.2L217.2 586.3L218.2 587.5L219.2 588.6L220.1 589.8L221.0 591.0L221.9 592.2L222.8 593.4L223.7 594.6L224.6 595.9L225.4 597.1L226.3 598.3L227.1 599.6L228.0 600.8L228.8 602.1L229.6 603.3L230.5 604.6L231.3 605.8L232.1 607.1L232.9 608.4L233.7 609.6L234.5 610.9L235.3 612.2L236.1 613.5L236.9 614.8L237.7 616.0L238.4 617.3L239.2 618.6L240.0 619.9L240.8 621.2L241.5 622.5L242.3 623.8L243.1 625.0L243.9 626.3L244.6 627.6L245.4 628.9L246.2 630.2L247.0 631.5L247.7 632.8L248.5 634.1L249.3 635.4L250.0 636.7L250.8 637.9L251.6 639.2L252.4 640.5L253.1 641.8L253.9 643.1L254.7 644.4L255.5 645.7L256.3 646.9L257.1 648.2L257.9 649.5L258.7 650.8L259.5 652.0L260.3 653.3L261.1 654.6L261.9 655.8L262.7 657.1L263.5 658.3L264.4 659.6L265.2 660.8L266.1 662.1L267.0 663.3L267.8 664.5L268.7 665.7L269.6 666.9L270.6 668.1L271.5 669.3L272.5 670.4L273.5 671.6L274.5 672.7L275.5 673.7L276.6 674.8L277.7 675.8L278.9 676.7L280.1 677.6L281.4 678.4L282.7 679.1L284.1 679.7L285.5 680.2L287.0 680.6L288.5 680.9L290.0 681.0L291.5 681.0L293.0 680.9L294.4 680.7L295.9 680.5L297.4 680.2L298.9 679.8L300.3 679.4L301.7 678.9L303.2 678.4L304.6 678.0L306.0 677.5L307.4 677.0L308.8 676.5L310.3 676.0L311.7 675.6L313.2 675.2L314.6 674.8L316.1 674.5L317.6 674.3L319.1 674.2L320.6 674.1L322.1 674.1L323.6 674.3L325.1 674.5L326.5 674.8L328.0 675.3L329.4 675.8L330.7 676.4L332.1 677.1L333.4 677.9L334.6 678.7L335.9 679.6L337.1 680.5L338.3 681.4L339.4 682.3L340.6 683.3L341.7 684.2L342.9 685.2L344.0 686.2L345.1 687.2L346.3 688.2L347.4 689.2L348.6 690.1L349.7 691.1L350.9 692.0L352.1 693.0L353.3 693.9L354.5 694.8L355.7 695.6L357.0 696.5L358.2 697.3L359.5 698.0L360.8 698.7L362.2 699.4L363.6 700.0L365.0 700.5L366.4 701.0L367.9 701.4L369.3 701.7L370.8 701.8L372.3 701.9L373.8 701.8L375.3 701.5L376.8 701.2L378.3 700.9L379.7 700.5L381.1 700.0L382.6 699.6L384.0 699.2L385.5 698.8L387.0 698.5L388.4 698.3L389.9 698.3L391.4 698.3L392.9 698.6L394.4 699.0L395.8 699.5L397.2 700.1L398.5 700.8L399.8 701.5L401.1 702.3L402.3 703.1L403.6 704.0L404.8 704.9L406.0 705.8L407.2 706.7L408.4 707.6L409.6 708.5L410.8 709.4L412.0 710.2L413.3 711.1L414.5 712.0L415.8 712.8L417.1 713.6L418.4 714.3L419.7 715.1L421.0 715.8L422.3 716.4L423.7 717.1L425.1 717.7L426.5 718.3L427.9 718.8L429.3 719.3L430.7 719.8L432.1 720.3L433.6 720.7L435.0 721.2L436.4 721.6L437.9 722.0L439.3 722.4L440.8 722.7L442.3 723.1L443.7 723.5L445.2 723.8L446.6 724.2L448.1 724.5L449.5 724.9L451.0 725.3L452.4 725.7L453.9 726.1L455.3 726.5L456.8 726.9L458.2 727.4L459.7 727.8L461.1 728.2L462.5 728.7L464.0 729.1L465.4 729.6L466.8 730.0L468.3 730.5L469.7 731.0L471.1 731.4L472.6 731.9L474.0 732.4L475.4 732.8L476.8 733.3L478.3 733.8L479.7 734.3L481.1 734.8L482.5 735.3L483.9 735.7L485.4 736.2L486.8 736.7L488.2 737.2L489.6 737.7L491.1 738.2L492.5 738.7L493.9 739.2L495.3 739.6L496.8 740.1L498.2 740.6L499.6 741.1L501.0 741.6L502.5 742.0L503.9 742.5L505.3 743.0L506.7 743.4L508.2 743.9L509.6 744.3L511.0 744.8L512.5 745.2L513.9 745.7L515.4 746.1L516.8 746.5L518.2 746.9L519.7 747.3L521.1 747.7L522.6 748.1L524.0 748.5L525.5 748.9L527.0 749.3L528.4 749.6L529.9 750.0L531.3 750.3L532.8 750.6L534.3 751.0L535.7 751.3L537.2 751.6L538.7 751.9L540.2 752.1L541.7 752.4L543.1 752.7L544.6 752.9L546.1 753.2L547.6 753.4L549.1 753.6L550.6 753.8L552.0 754.0L553.5 754.2L555.0 754.4L556.5 754.6L558.0 754.8L559.5 754.9L561.0 755.1L562.5 755.2L564.0 755.4L565.5 755.5L567.0 755.6L568.5 755.7L570.0 755.9L571.5 756.0L573.0 756.1L574.5 756.1L576.0 756.2L577.5 756.3L579.0 756.4L580.5 756.4L582.0 756.5L583.5 756.6L585.0 756.6L586.5 756.7L588.0 756.7L589.5 756.7L591.0 756.8L592.5 756.8L594.0 756.8L595.5 756.8L597.0 756.8L598.5 756.9L600.0 756.9L601.5 756.9L603.0 756.9L604.5 756.9L606.0 756.9L607.5 756.9L609.0 756.9L610.6 756.8L612.1 756.8L613.6 756.8L615.1 756.8L616.6 756.8L618.1 756.8L619.6 756.8L621.1 756.7L622.6 756.7L624.1 756.7L625.6 756.7L627.1 756.6L628.6 756.6L630.1 756.6L631.6 756.6L633.1 756.6L634.6 756.5L636.1 756.5L637.6 756.5L639.1 756.5L640.6 756.5L642.1 756.5L643.6 756.4L645.1 756.4L646.6 756.4L648.1 756.4L649.6 756.4L651.1 756.4L652.6 756.4L654.1 756.4L655.6 756.4L657.1 756.4L658.6 756.4L660.2 756.4L661.7 756.4L663.2 756.5L664.7 756.5L666.2 756.5L667.7 756.5L669.2 756.6L670.7 756.6L672.2 756.7L673.7 756.7L675.2 756.8L676.7 756.8L678.2 756.9L679.7 756.9L681.2 757.0L682.7 757.1L684.2 757.2L685.7 757.3L687.2 757.3L688.7 757.4L690.2 757.5L691.7 757.6L693.2 757.7L694.7 757.8L696.2 757.9L697.7 758.0L699.2 758.1L700.7 758.2L702.2 758.3L703.7 758.4L705.2 758.5L706.7 758.6L708.2 758.7L709.7 758.8L711.2 758.9L712.7 759.0L714.2 759.1L715.7 759.2L717.2 759.3L718.7 759.4L720.2 759.5L721.7 759.6L723.2 759.7L724.7 759.8L726.2 759.8L727.7 759.9L729.2 760.0L730.7 760.1L732.2 760.1L733.7 760.2L735.2 760.2L736.7 760.3L738.2 760.3L739.7 760.3L741.2 760.4L742.7 760.4L744.2 760.4L745.7 760.4L747.2 760.4L748.7 760.4L750.2 760.4L751.7 760.4L753.2 760.4L754.7 760.3L756.2 760.3L757.7 760.3L759.2 760.2L760.7 760.2L762.2 760.1L763.8 760.0L765.3 760.0L766.8 759.9L768.3 759.9L769.8 759.8L771.3 759.8L772.8 759.7L774.3 759.7L775.8 759.6L777.3 759.6L778.8 759.6L780.3 759.6L781.8 759.6L783.3 759.6L784.8 759.6L786.3 759.6L787.8 759.6L789.3 759.6L790.8 759.7L792.3 759.8L793.8 759.8L795.3 759.9L796.8 760.1L798.3 760.2L799.8 760.3L801.3 760.5L802.8 760.7L804.3 760.9L805.8 761.1L807.2 761.3L808.7 761.6L810.2 761.8L811.7 762.1L813.2 762.4L814.6 762.7L816.1 763.1L817.6 763.4L819.0 763.8L820.5 764.1L821.9 764.5L823.4 764.9L824.8 765.3L826.3 765.7L827.7 766.1L829.2 766.5L830.6 767.0L832.0 767.4L833.5 767.9L834.9 768.3L836.3 768.8L837.8 769.3L839.2 769.7L840.6 770.2L842.0 770.7L843.5 771.2L844.9 771.7L846.3 772.2L847.7 772.7L849.1 773.1L850.6 773.6L852.0 774.1L853.4 774.6L854.8 775.1L856.2 775.6L857.6 776.2L859.1 776.7L860.5 777.2L861.9 777.6L863.3 778.1L864.7 778.6L866.2 779.1L867.6 779.6L869.0 780.1L870.4 780.6L871.8 781.1L873.3 781.5L874.7 782.0L876.1 782.5L877.6 782.9L879.0 783.4L880.4 783.8L881.9 784.2L883.3 784.7L884.8 785.1L886.2 785.5L887.7 785.9L889.1 786.3L890.6 786.7L892.0 787.1L893.5 787.5L894.9 787.8L896.4 788.2L897.8 788.6L899.3 788.9L900.8 789.3L902.2 789.6L903.7 789.9L905.2 790.3L906.6 790.6L908.1 790.9L909.6 791.2L911.0 791.6L912.5 791.9L914.0 792.2L915.4 792.5L916.9 792.8L918.4 793.1L919.9 793.4L921.3 793.6L922.8 793.9L924.3 794.2L925.8 794.5L927.2 794.8L928.7 795.0L930.2 795.3L931.7 795.6L933.2 795.9L934.6 796.1L936.1 796.4L937.6 796.7L939.1 796.9L940.6 797.2L942.0 797.5L943.5 797.7L945.0 798.0L946.5 798.3L948.0 798.5L949.4 798.8L950.9 799.1L952.4 799.3L953.9 799.6L955.3 799.9L956.8 800.1L958.3 800.4L959.8 800.7L961.3 801.0L962.7 801.3L964.2 801.6L965.7 801.8L967.2 802.1L968.6 802.4L970.1 802.7L971.6 803.0L973.0 803.3L974.5 803.7L976.0 804.0L977.5 804.3L978.9 804.6L980.4 804.9L981.9 805.3L983.3 805.6L984.8 806.0L986.2 806.3L987.7 806.7L989.2 807.0L990.6 807.4L992.1 807.8L993.5 808.2L995.0 808.5L996.4 808.9L997.9 809.3L999.3 809.7L1000.8 810.2L1002.2 810.6L1003.7 811.0L1005.1 811.5L1006.5 811.9L1008.0 812.3L1009.4 812.8L1010.8 813.3L1012.3 813.7L1013.7 814.2L1015.1 814.7L1016.5 815.2L1017.9 815.7L1019.3 816.2L1020.8 816.8L1022.2 817.3L1023.6 817.8L1025.0 818.4L1026.4 818.9L1027.8 819.5L1029.1 820.1L1030.5 820.6L1031.9 821.2L1033.3 821.8L1034.7 822.4L1036.0 823.1"/>
<path d="M129.9 845.2L130.1 843.7L130.4 842.2L130.6 840.7L130.9 839.3L131.2 837.8L131.4 836.3L131.7 834.8L132.0 833.3L132.2 831.9L132.5 830.4L132.8 828.9L133.1 827.4L133.4 826.0L133.6 824.5L133.9 823.0L134.2 821.5L134.5 820.1L134.8 818.6L135.1 817.1L135.4 815.6L135.7 814.2L136.0 812.7L136.3 811.2L136.6 809.8L137.0 808.3L137.3 806.8L137.6 805.3L137.9 803.9L138.2 802.4L138.5 800.9L138.9 799.5L139.2 798.0L139.5 796.5L139.8 795.1L140.1 793.6L140.5 792.1L140.8 790.7L141.1 789.2L141.4 787.7L141.7 786.2L142.1 784.8L142.4 783.3L142.7 781.8L143.0 780.4L143.3 778.9L143.6 777.4L143.9 776.0L144.3 774.5L144.6 773.0L144.9 771.5L145.2 770.1L145.5 768.6L145.8 767.1L146.1 765.7L146.4 764.2L146.7 762.7L147.0 761.2L147.3 759.8L147.6 758.3L147.8 756.8L148.1 755.3L148.4 753.9L148.7 752.4L149.0 750.9L149.2 749.4L149.5 747.9L149.8 746.5L150.0 745.0L150.3 743.5L150.6 742.0L150.8 740.5L151.1 739.1L151.3 737.6L151.6 736.1L151.8 734.6L152.1 733.1L152.3 731.6L152.5 730.2L152.8 728.7L153.0 727.2L153.3 725.7L153.5 724.2L153.8 722.7L154.0 721.3L154.3 719.8L154.5 718.3L154.8 716.8L155.1 715.3L155.3 713.9L155.6 712.4L155.8 710.9L156.1 709.4L156.4 707.9L156.7 706.5L157.0 705.0L157.2 703.5L157.5 702.0L157.9 700.6L158.2 699.1L158.5 697.6L158.8 696.2L159.2 694.7L159.5 693.2L159.9 691.8L160.2 690.3L160.6 688.9L161.0 687.4L161.4 686.0L161.9 684.5L162.3 683.1L162.8 681.7L163.2 680.2L163.7 678.8L164.2 677.4L164.7 676.0L165.2 674.5L165.7 673.1L166.2 671.7L166.7 670.3L167.2 668.9L167.7 667.4L168.2 666.0L168.7 664.6L169.2 663.2L169.6 661.8L170.1 660.3L170.6 658.9L171.0 657.5L171.5 656.0L171.9 654.6L172.3 653.2L172.8 651.7L173.2 650.3L173.5 648.8L173.9 647.4L174.3 645.9L174.6 644.4L174.9 643.0L175.3 641.5L175.6 640.0L175.9 638.6L176.2 637.1L176.5 635.6L176.8 634.1L177.0 632.7L177.3 631.2L177.6 629.7L177.9 628.2L178.1 626.7L178.4 625.3L178.7 623.8L178.9 622.3L179.2 620.8L179.5 619.3L179.7 617.9L180.0 616.4L180.3 614.9L180.6 613.4L180.9 612.0L181.2 610.5L181.5 609.0L181.8 607.5L182.1 606.1L182.4 604.6L182.7 603.1L183.1 601.7L183.5 600.2L183.9 598.8L184.3 597.3L184.7 595.9L185.2 594.5L185.7 593.1L186.3 591.7L186.9 590.3L187.7 589.0L188.5 587.8L189.6 586.7L190.9 585.9L192.3 585.8L193.8 586.2L195.0 587.1L196.2 588.1L197.2 589.2L198.1 590.3L199.0 591.5L199.9 592.8L200.7 594.0L201.4 595.3L202.2 596.6L202.9 598.0L203.6 599.3L204.3 600.6L205.0 602.0L205.6 603.3L206.2 604.7L206.9 606.1L207.5 607.4L208.1 608.8L208.7 610.2L209.3 611.6L209.9 612.9L210.5 614.3L211.0 615.7L211.6 617.1L212.1 618.5L212.7 619.9L213.2 621.3L213.8 622.7L214.3 624.1L214.9 625.5L215.4 626.9L215.9 628.3L216.4 629.8L216.9 631.2L217.4 632.6L218.0 634.0L218.5 635.4L219.0 636.8L219.5 638.2L220.0 639.7L220.5 641.1L220.9 642.5L221.4 643.9L221.9 645.4L222.4 646.8L222.9 648.2L223.4 649.6L223.8 651.0L224.3 652.5L224.8 653.9L225.3 655.3L225.7 656.8L226.2 658.2L226.7 659.6L227.1 661.0L227.6 662.5L228.1 663.9L228.5 665.3L229.0 666.8L229.5 668.2L229.9 669.6L230.4 671.1L230.9 672.5L231.3 673.9L231.8 675.3L232.3 676.8L232.7 678.2L233.2 679.6L233.7 681.0L234.2 682.5L234.6 683.9L235.1 685.3L235.6 686.7L236.1 688.2L236.6 689.6L237.1 691.0L237.6 692.4L238.1 693.8L238.6 695.2L239.2 696.6L239.7 698.1L240.2 699.5L240.8 700.9L241.4 702.2L241.9 703.6L242.5 705.0L243.1 706.4L243.8 707.8L244.4 709.1L245.0 710.5L245.7 711.8L246.4 713.1L247.2 714.5L247.9 715.8L248.7 717.0L249.5 718.3L250.4 719.5L251.3 720.7L252.3 721.8L253.4 722.9L254.5 723.9L255.7 724.8L257.0 725.6L258.4 726.2L259.8 726.7L261.2 727.1L262.7 727.4L264.2 727.6L265.7 727.7L267.2 727.7L268.7 727.6L270.2 727.5L271.7 727.4L273.2 727.2L274.7 727.0L276.2 726.8L277.6 726.6L279.1 726.4L280.6 726.3L282.1 726.2L283.6 726.2L285.2 726.2L286.7 726.2L288.2 726.2L289.7 726.3L291.2 726.4L292.7 726.6L294.1 726.8L295.6 727.0L297.1 727.2L298.6 727.5L300.1 727.7L301.6 728.0L303.0 728.3L304.5 728.7L305.9 729.0L307.4 729.4L308.9 729.8L310.3 730.2L311.7 730.6L313.2 731.1L314.6 731.5L316.1 732.0L317.5 732.4L318.9 732.9L320.3 733.4L321.7 733.9L323.1 734.5L324.6 735.0L326.0 735.5L327.4 736.0L328.8 736.6L330.2 737.1L331.6 737.7L333.0 738.3L334.3 738.8L335.7 739.4L337.1 740.0L338.5 740.6L339.9 741.2L341.3 741.7L342.7 742.3L344.0 742.9L345.4 743.5L346.8 744.1L348.2 744.7L349.6 745.3L350.9 745.9L352.3 746.5L353.7 747.1L355.1 747.7L356.5 748.3L357.9 748.8L359.3 749.4L360.6 750.0L362.0 750.6L363.4 751.1L364.8 751.7L366.2 752.3L367.6 752.8L369.0 753.4L370.4 753.9L371.8 754.5L373.2 755.0L374.6 755.5L376.0 756.1L377.4 756.6L378.8 757.1L380.3 757.6L381.7 758.1L383.1 758.6L384.5 759.1L385.9 759.6L387.4 760.1L388.8 760.5L390.2 761.0L391.6 761.5L393.1 761.9L394.5 762.4L396.0 762.8L397.4 763.3L398.8 763.7L400.3 764.1L401.7 764.5L403.2 764.9L404.6 765.3L406.1 765.7L407.5 766.1L409.0 766.5L410.4 766.9L411.9 767.2L413.3 767.6L414.8 767.9L416.3 768.3L417.7 768.6L419.2 768.9L420.7 769.3L422.1 769.6L423.6 769.9L425.1 770.2L426.6 770.4L428.1 770.7L429.5 771.0L431.0 771.2L432.5 771.5L434.0 771.7L435.5 772.0L437.0 772.2L438.4 772.4L439.9 772.6L441.4 772.8L442.9 773.0L444.4 773.1L445.9 773.3L447.4 773.5L448.9 773.6L450.4 773.7L451.9 773.9L453.4 774.0L454.9 774.1L456.4 774.2L457.9 774.2L459.4 774.3L460.9 774.4L462.4 774.5L463.9 774.5L465.4 774.5L466.9 774.6L468.4 774.6L469.9 774.6L471.4 774.6L472.9 774.6L474.4 774.6L475.9 774.6L477.4 774.6L478.9 774.6L480.4 774.6L481.9 774.5L483.4 774.5L484.9 774.5L486.4 774.4L487.9 774.4L489.4 774.3L490.9 774.2L492.5 774.2L494.0 774.1L495.5 774.0L497.0 773.9L498.5 773.9L500.0 773.8L501.5 773.7L503.0 773.6L504.5 773.5L506.0 773.4L507.5 773.3L509.0 773.2L510.5 773.1L512.0 773.0L513.5 772.9L515.0 772.8L516.5 772.7L518.0 772.6L519.5 772.5L521.0 772.3L522.5 772.2L524.0 772.1L525.5 772.0L527.0 771.9L528.5 771.8L530.0 771.7L531.5 771.6L533.0 771.5L534.5 771.4L536.0 771.3L537.5 771.2L539.0 771.1L540.5 771.0L542.0 770.9L543.5 770.8L545.0 770.7L546.5 770.7L548.0 770.6L549.5 770.5L551.0 770.4L552.5 770.3L554.0 770.3L555.5 770.2L557.0 770.1L558.5 770.0L560.0 770.0L561.5 769.9L563.0 769.8L564.5 769.8L566.0 769.7L567.5 769.6L569.0 769.6L570.5 769.5L572.0 769.5L573.5 769.4L575.0 769.4L576.5 769.3L578.0 769.3L579.5 769.2L581.0 769.2L582.5 769.2L584.0 769.1L585.5 769.1L587.0 769.1L588.5 769.0L590.0 769.0L591.5 769.0L593.0 769.0L594.5 768.9L596.0 768.9L597.5 768.9L599.0 768.9L600.5 768.9L602.0 768.9L603.5 768.9L605.1 768.9L606.6 768.9L608.1 768.9L609.6 768.9L611.1 768.9L612.6 768.9L614.1 768.9L615.6 769.0L617.1 769.0L618.6 769.0L620.1 769.0L621.6 769.1L623.1 769.1L624.6 769.2L626.1 769.3L627.6 769.4L629.1 769.4L630.6 769.6L632.1 769.7L633.6 769.8L635.1 770.0L636.6 770.2L638.1 770.3L639.6 770.6L641.0 770.8L642.5 771.0L644.0 771.3L645.5 771.6L647.0 771.9L648.4 772.2L649.9 772.6L651.3 773.0L652.8 773.4L654.2 773.8L655.7 774.3L657.1 774.7L658.5 775.2L659.9 775.7L661.3 776.3L662.7 776.8L664.1 777.4L665.5 777.9L666.9 778.5L668.3 779.1L669.7 779.7L671.1 780.2L672.5 780.8L673.8 781.4L675.2 782.0L676.6 782.6L678.0 783.2L679.4 783.8L680.8 784.3L682.2 784.9L683.6 785.4L685.0 786.0L686.4 786.5L687.8 787.0L689.2 787.5L690.6 788.0L692.0 788.5L693.5 788.9L694.9 789.3L696.4 789.7L697.8 790.1L699.3 790.4L700.8 790.7L702.3 791.0L703.7 791.2L705.2 791.4L706.7 791.6L708.2 791.7L709.7 791.9L711.2 792.0L712.7 792.1L714.2 792.2L715.7 792.2L717.2 792.3L718.7 792.3L720.2 792.3L721.7 792.3L723.2 792.3L724.7 792.3L726.2 792.3L727.8 792.3L729.3 792.3L730.8 792.3L732.3 792.4L733.8 792.4L735.3 792.4L736.8 792.5L738.3 792.5L739.8 792.6L741.3 792.7L742.8 792.8L744.3 792.9L745.8 793.1L747.3 793.3L748.7 793.5L750.2 793.7L751.7 794.0L753.2 794.3L754.7 794.6L756.1 794.9L757.6 795.3L759.0 795.7L760.5 796.1L761.9 796.5L763.4 796.9L764.8 797.4L766.2 797.8L767.7 798.3L769.1 798.8L770.5 799.3L771.9 799.8L773.3 800.3L774.8 800.8L776.2 801.3L777.6 801.8L779.0 802.4L780.4 802.9L781.8 803.4L783.2 804.0L784.6 804.5L786.0 805.1L787.4 805.6L788.8 806.1L790.2 806.7L791.6 807.2L793.0 807.7L794.4 808.2L795.9 808.7L797.3 809.3L798.7 809.8L800.1 810.2L801.5 810.7L803.0 811.2L804.4 811.6L805.8 812.1L807.3 812.5L808.7 812.9L810.2 813.3L811.6 813.7L813.1 814.1L814.5 814.5L816.0 814.8L817.5 815.2L818.9 815.5L820.4 815.8L821.9 816.1L823.3 816.4L824.8 816.7L826.3 817.0L827.8 817.2L829.3 817.5L830.7 817.7L832.2 817.9L833.7 818.1L835.2 818.4L836.7 818.6L838.2 818.7L839.7 818.9L841.2 819.1L842.7 819.3L844.2 819.4L845.7 819.6L847.2 819.7L848.6 819.9L850.1 820.0L851.6 820.1L853.1 820.3L854.6 820.4L856.1 820.5L857.6 820.6L859.1 820.7L860.6 820.9L862.1 821.0L863.6 821.1L865.1 821.2L866.6 821.3L868.1 821.4L869.6 821.5L871.1 821.6L872.6 821.7L874.1 821.9L875.6 822.0L877.1 822.1L878.6 822.2L880.1 822.3L881.6 822.5L883.1 822.6L884.6 822.8L886.1 822.9L887.6 823.1L889.1 823.3L890.6 823.4L892.1 823.6L893.6 823.8L895.1 824.0L896.5 824.2L898.0 824.5L899.5 824.7L901.0 824.9L902.5 825.2L904.0 825.5L905.4 825.7L906.9 826.0L908.4 826.3L909.9 826.7L911.3 827.0L912.8 827.3L914.2 827.7L915.7 828.1L917.2 828.5L918.6 828.9L920.0 829.3L921.5 829.7L922.9 830.1L924.4 830.6L925.8 831.1L927.2 831.6L928.6 832.1L930.0 832.6L931.4 833.1L932.8 833.7L934.2 834.3L935.6 834.8L937.0 835.4L938.4 836.0L939.7 836.7L941.1 837.3L942.4 838.0"/>
<path d="M131.8 834.7L132.1 833.2L132.4 831.7L132.7 830.3L133.1 828.8L133.4 827.3L133.7 825.9L134.0 824.4L134.3 822.9L134.6 821.4L134.9 820.0L135.2 818.5L135.5 817.0L135.8 815.5L136.1 814.1L136.4 812.6L136.7 811.1L137.0 809.7L137.3 808.2L137.6 806.7L137.9 805.2L138.2 803.8L138.5 802.3L138.8 800.8L139.0 799.3L139.3 797.9L139.6 796.4L139.9 794.9L140.2 793.4L140.5 792.0L140.8 790.5L141.1 789.0L141.4 787.5L141.7 786.1L142.0 784.6L142.3 783.1L142.5 781.6L142.8 780.2L143.1 778.7L143.4 777.2L143.7 775.7L144.0 774.3L144.3 772.8L144.6 771.3L144.9 769.8L145.2 768.4L145.4 766.9L145.7 765.4L146.0 763.9L146.3 762.5L146.6 761.0L146.9 759.5L147.2 758.0L147.5 756.5L147.8 755.1L148.0 753.6L148.3 752.1L148.6 750.6L148.9 749.2L149.2 747.7L149.5 746.2L149.8 744.7L150.1 743.3L150.4 741.8L150.7 740.3L150.9 738.8L151.2 737.4L151.5 735.9L151.8 734.4L152.1 732.9L152.4 731.5L152.7 730.0L153.0 728.5L153.3 727.0L153.6 725.6L153.9 724.1L154.2 722.6L154.5 721.2L154.8 719.7L155.1 718.2L155.4 716.7L155.7 715.3L156.0 713.8L156.3 712.3L156.6 710.8L156.9 709.4L157.2 707.9L157.5 706.4L157.8 704.9L158.1 703.5L158.4 702.0L158.7 700.5L159.0 699.1L159.3 697.6L159.6 696.1L159.9 694.6L160.2 693.2L160.5 691.7L160.8 690.2L161.2 688.8L161.5 687.3L161.8 685.8L162.1 684.3L162.4 682.9L162.7 681.4L163.1 679.9L163.4 678.5L163.7 677.0L164.0 675.5L164.4 674.1L164.7 672.6L165.0 671.1L165.3 669.7L165.7 668.2L166.0 666.7L166.3 665.3L166.7 663.8L167.0 662.3L167.4 660.9L167.7 659.4L168.0 657.9L168.4 656.5L168.7 655.0L169.1 653.6L169.4 652.1L169.8 650.6L170.2 649.2L170.5 647.7L170.9 646.3L171.3 644.8L171.7 643.4L172.1 641.9L172.5 640.5L172.9 639.0L173.4 637.6L173.8 636.2L174.3 634.7L174.8 633.3L175.3 631.9L175.9 630.5L176.4 629.1L177.0 627.7L177.7 626.4L178.4 625.0L179.1 623.7L180.0 622.5L180.9 621.3L181.9 620.2L183.1 619.3L184.5 618.6L185.9 618.3L187.4 618.5L188.8 619.0L190.1 619.8L191.2 620.8L192.3 621.9L193.2 623.0L194.1 624.3L195.0 625.5L195.8 626.8L196.5 628.1L197.3 629.4L198.0 630.7L198.6 632.1L199.3 633.4L199.9 634.8L200.6 636.1L201.2 637.5L201.8 638.9L202.3 640.3L202.9 641.7L203.5 643.1L204.0 644.5L204.5 645.9L205.1 647.3L205.6 648.7L206.1 650.1L206.6 651.5L207.1 652.9L207.6 654.4L208.1 655.8L208.6 657.2L209.0 658.6L209.5 660.1L210.0 661.5L210.5 662.9L210.9 664.4L211.4 665.8L211.8 667.2L212.3 668.6L212.8 670.1L213.2 671.5L213.7 672.9L214.1 674.4L214.6 675.8L215.0 677.2L215.5 678.7L215.9 680.1L216.4 681.6L216.8 683.0L217.3 684.4L217.7 685.9L218.2 687.3L218.6 688.7L219.1 690.2L219.5 691.6L220.0 693.0L220.4 694.5L220.9 695.9L221.4 697.3L221.8 698.7L222.3 700.2L222.8 701.6L223.2 703.0L223.7 704.5L224.2 705.9L224.7 707.3L225.2 708.7L225.7 710.1L226.2 711.6L226.7 713.0L227.2 714.4L227.7 715.8L228.2 717.2L228.7 718.6L229.3 720.0L229.8 721.4L230.3 722.8L230.9 724.3L231.4 725.6L232.0 727.0L232.5 728.4L233.1 729.8L233.7 731.2L234.3 732.6L234.9 734.0L235.5 735.4L236.1 736.7L236.7 738.1L237.4 739.5L238.0 740.8L238.7 742.2L239.4 743.5L240.0 744.8L240.7 746.2L241.5 747.5L242.2 748.8L243.0 750.1L243.7 751.4L244.5 752.7L245.3 753.9L246.2 755.2L247.1 756.4L248.0 757.6L248.9 758.8L249.9 759.9L250.9 761.0L251.9 762.1L253.0 763.2L254.1 764.2L255.3 765.1L256.5 766.0L257.7 766.9L259.0 767.6L260.4 768.3L261.7 769.0L263.1 769.5L264.6 769.9L266.0 770.3L267.5 770.5L269.0 770.7L270.5 770.7L272.0 770.7L273.5 770.6L275.0 770.4L276.5 770.2L278.0 769.9L279.4 769.5L280.9 769.1L282.3 768.8L283.8 768.4L285.2 768.0L286.7 767.6L288.1 767.2L289.6 766.9L291.1 766.6L292.6 766.3L294.1 766.1L295.6 766.0L297.1 766.0L298.6 766.0L300.1 766.2L301.5 766.4L303.0 766.6L304.5 766.9L306.0 767.3L307.4 767.6L308.9 768.0L310.3 768.4L311.8 768.8L313.2 769.1L314.7 769.5L316.2 769.8L317.7 770.1L319.1 770.3L320.6 770.5L322.1 770.5L323.6 770.5L325.1 770.4L326.6 770.3L328.1 770.1L329.6 769.8L331.1 769.6L332.6 769.3L334.1 769.1L335.5 768.9L337.0 768.7L338.5 768.5L340.0 768.4L341.5 768.3L343.0 768.3L344.5 768.3L346.0 768.3L347.5 768.4L349.0 768.4L350.5 768.5L352.0 768.7L353.5 768.8L355.0 769.0L356.5 769.2L358.0 769.4L359.5 769.7L361.0 769.9L362.5 770.2L363.9 770.5L365.4 770.8L366.9 771.1L368.3 771.5L369.8 771.8L371.3 772.1L372.7 772.5L374.2 772.9L375.6 773.3L377.1 773.7L378.5 774.0L380.0 774.4L381.4 774.9L382.9 775.3L384.3 775.7L385.8 776.1L387.2 776.5L388.7 776.9L390.1 777.3L391.5 777.8L393.0 778.2L394.4 778.6L395.9 779.0L397.3 779.4L398.8 779.8L400.2 780.2L401.7 780.6L403.1 781.0L404.6 781.4L406.0 781.8L407.5 782.1L409.0 782.5L410.4 782.8L411.9 783.1L413.4 783.5L414.8 783.8L416.3 784.1L417.8 784.4L419.3 784.7L420.7 785.0L422.2 785.2L423.7 785.5L425.2 785.7L426.7 786.0L428.1 786.2L429.6 786.4L431.1 786.6L432.6 786.8L434.1 787.0L435.6 787.2L437.1 787.4L438.6 787.5L440.1 787.7L441.6 787.8L443.1 788.0L444.6 788.1L446.1 788.2L447.6 788.4L449.1 788.5L450.6 788.6L452.1 788.7L453.6 788.7L455.1 788.8L456.6 788.9L458.1 789.0L459.6 789.0L461.1 789.1L462.6 789.1L464.1 789.1L465.6 789.2L467.1 789.2L468.6 789.2L470.1 789.2L471.6 789.2L473.1 789.2L474.6 789.2L476.1 789.2L477.6 789.2L479.1 789.2L480.6 789.1L482.1 789.1L483.6 789.1L485.1 789.0L486.6 789.0L488.1 788.9L489.6 788.9L491.1 788.8L492.6 788.8L494.1 788.7L495.6 788.6L497.2 788.6L498.7 788.5L500.2 788.4L501.7 788.3L503.2 788.2L504.7 788.2L506.2 788.1L507.7 788.0L509.2 787.9L510.7 787.8L512.2 787.7L513.7 787.6L515.2 787.5L516.7 787.4L518.2 787.3L519.7 787.2L521.2 787.1L522.7 787.0L524.2 786.9L525.7 786.8L527.2 786.7L528.7 786.6L530.2 786.5L531.7 786.4L533.2 786.3L534.7 786.2L536.2 786.1L537.7 786.0L539.2 785.9L540.7 785.8L542.2 785.7L543.7 785.6L545.2 785.5L546.7 785.5L548.2 785.4L549.7 785.3L551.2 785.2L552.7 785.1L554.2 785.0L555.7 784.9L557.2 784.9L558.7 784.8L560.2 784.7L561.7 784.7L563.2 784.6L564.7 784.5L566.2 784.5L567.7 784.4L569.2 784.4L570.7 784.3L572.2 784.3L573.7 784.2L575.2 784.2L576.7 784.2L578.2 784.1L579.7 784.1L581.2 784.1L582.7 784.1L584.2 784.1L585.7 784.0L587.2 784.0L588.7 784.0L590.2 784.1L591.7 784.1L593.2 784.1L594.8 784.1L596.3 784.1L597.8 784.2L599.3 784.2L600.8 784.3L602.3 784.3L603.8 784.4L605.3 784.4L606.8 784.5L608.3 784.6L609.8 784.7L611.3 784.8L612.8 784.9L614.3 785.0L615.8 785.1L617.3 785.2L618.8 785.3L620.3 785.4L621.8 785.6L623.3 785.7L624.8 785.9L626.3 786.0L627.7 786.2L629.2 786.4L630.7 786.6L632.2 786.8L633.7 787.0L635.2 787.2L636.7 787.4L638.2 787.6L639.7 787.8L641.2 788.1L642.6 788.3L644.1 788.5L645.6 788.8L647.1 789.0L648.6 789.3L650.1 789.5L651.5 789.8L653.0 790.1L654.5 790.3L656.0 790.6L657.5 790.8L658.9 791.1L660.4 791.3L661.9 791.5L663.4 791.8L664.9 792.0L666.4 792.2L667.9 792.5L669.3 792.7L670.8 792.9L672.3 793.1L673.8 793.3L675.3 793.4L676.8 793.6L678.3 793.8L679.8 793.9L681.3 794.0L682.8 794.2L684.3 794.3L685.8 794.4L687.3 794.5L688.8 794.6L690.3 794.7L691.8 794.8L693.3 794.9L694.8 794.9L696.3 795.0L697.8 795.1L699.3 795.2L700.8 795.2L702.3 795.3L703.8 795.4L705.3 795.4L706.8 795.5L708.3 795.5L709.8 795.6L711.3 795.7L712.8 795.8L714.3 795.8L715.8 795.9L717.3 796.0L718.8 796.1L720.3 796.2L721.8 796.3L723.3 796.4L724.8 796.5L726.3 796.6L727.8 796.7L729.3 796.9L730.8 797.0L732.3 797.2L733.8 797.4L735.3 797.5L736.8 797.7L738.3 797.9L739.8 798.2L741.2 798.4L742.7 798.6L744.2 798.9L745.7 799.2L747.2 799.4L748.6 799.7L750.1 800.0L751.6 800.4L753.0 800.7L754.5 801.1L756.0 801.4L757.4 801.8L758.9 802.2L760.3 802.6L761.8 803.0L763.2 803.4L764.7 803.9L766.1 804.3L767.5 804.7L769.0 805.2L770.4 805.6L771.8 806.1L773.3 806.5L774.7 807.0L776.1 807.5L777.6 807.9L779.0 808.4L780.4 808.8L781.9 809.3L783.3 809.8L784.7 810.2L786.2 810.7L787.6 811.1L789.0 811.6L790.5 812.0L791.9 812.5L793.3 812.9L794.8 813.3L796.2 813.8L797.7 814.2L799.1 814.6L800.6 815.0L802.0 815.4L803.5 815.7L804.9 816.1L806.4 816.4L807.9 816.8L809.3 817.1L810.8 817.4L812.3 817.7L813.7 818.0L815.2 818.3L816.7 818.6L818.2 818.8L819.7 819.1L821.1 819.3L822.6 819.5L824.1 819.7L825.6 820.0L827.1 820.2L828.6 820.3L830.1 820.5L831.6 820.7L833.1 820.9L834.6 821.0L836.1 821.2L837.6 821.3L839.1 821.5L840.6 821.6L842.1 821.8L843.5 821.9L845.0 822.0L846.5 822.1L848.0 822.3L849.5 822.4L851.0 822.5L852.5 822.6L854.0 822.7L855.5 822.8L857.0 822.9L858.5 823.1L860.0 823.2L861.5 823.3L863.0 823.4L864.5 823.5L866.0 823.6L867.5 823.8L869.0 823.9L870.5 824.1L872.0 824.2L873.5 824.4L875.0 824.5L876.5 824.7L878.0 824.9L879.5 825.1L881.0 825.3L882.5 825.5L884.0 825.7L885.4 825.9L886.9 826.2L888.4 826.5L889.9 826.7L891.4 827.0L892.8 827.3L894.3 827.6L895.8 828.0L897.2 828.3L898.7 828.7L900.1 829.1L901.6 829.5L903.0 829.9L904.5 830.3L905.9 830.8L907.3 831.3L908.8 831.7L910.2 832.3L911.6 832.8L913.0 833.3L914.4 833.9L915.8 834.4L917.2 835.0L918.5 835.6L919.9 836.3"/>
<path d="M130.6 828.6L131.1 827.2L131.5 825.7L131.9 824.3L132.2 822.8L132.6 821.4L133.0 819.9L133.4 818.4L133.7 817.0L134.1 815.5L134.4 814.1L134.8 812.6L135.1 811.1L135.4 809.7L135.7 808.2L136.1 806.7L136.4 805.3L136.7 803.8L137.0 802.3L137.3 800.8L137.6 799.4L137.9 797.9L138.2 796.4L138.5 794.9L138.8 793.5L139.1 792.0L139.4 790.5L139.7 789.0L139.9 787.6L140.2 786.1L140.5 784.6L140.8 783.1L141.1 781.7L141.3 780.2L141.6 778.7L141.9 777.2L142.1 775.7L142.4 774.3L142.7 772.8L142.9 771.3L143.2 769.8L143.5 768.3L143.7 766.9L144.0 765.4L144.3 763.9L144.5 762.4L144.8 760.9L145.1 759.4L145.3 758.0L145.6 756.5L145.8 755.0L146.1 753.5L146.4 752.0L146.6 750.6L146.9 749.1L147.2 747.6L147.4 746.1L147.7 744.6L148.0 743.2L148.2 741.7L148.5 740.2L148.8 738.7L149.0 737.2L149.3 735.8L149.6 734.3L149.9 732.8L150.1 731.3L150.4 729.8L150.7 728.4L151.0 726.9L151.2 725.4L151.5 723.9L151.8 722.5L152.1 721.0L152.4 719.5L152.7 718.0L153.0 716.6L153.3 715.1L153.6 713.6L153.9 712.1L154.2 710.7L154.5 709.2L154.9 707.7L155.2 706.3L155.5 704.8L155.8 703.3L156.2 701.9L156.5 700.4L156.9 698.9L157.2 697.5L157.6 696.0L158.0 694.6L158.3 693.1L158.7 691.6L159.1 690.2L159.5 688.7L159.9 687.3L160.3 685.8L160.7 684.4L161.2 683.0L161.6 681.5L162.1 680.1L162.6 678.7L163.1 677.2L163.6 675.8L164.1 674.4L164.6 673.0L165.2 671.6L165.8 670.2L166.4 668.9L167.0 667.5L167.7 666.2L168.4 664.8L169.2 663.5L170.0 662.3L170.8 661.0L171.7 659.8L172.7 658.7L173.8 657.6L174.9 656.6L176.1 655.7L177.4 654.9L178.7 654.3L180.1 653.7L181.6 653.4L183.1 653.2L184.6 653.3L186.0 653.7L187.4 654.4L188.6 655.2L189.7 656.3L190.7 657.4L191.6 658.6L192.5 659.8L193.3 661.0L194.1 662.3L194.8 663.7L195.5 665.0L196.2 666.3L196.8 667.7L197.5 669.1L198.1 670.4L198.7 671.8L199.2 673.2L199.8 674.6L200.3 676.0L200.9 677.4L201.4 678.8L202.0 680.2L202.5 681.6L203.0 683.0L203.5 684.5L204.0 685.9L204.5 687.3L205.0 688.7L205.5 690.1L206.0 691.5L206.5 693.0L207.0 694.4L207.5 695.8L207.9 697.2L208.4 698.7L208.9 700.1L209.4 701.5L209.8 702.9L210.3 704.4L210.8 705.8L211.3 707.2L211.7 708.7L212.2 710.1L212.7 711.5L213.1 713.0L213.6 714.4L214.1 715.8L214.5 717.2L215.0 718.7L215.5 720.1L215.9 721.5L216.4 723.0L216.9 724.4L217.3 725.8L217.8 727.2L218.3 728.7L218.7 730.1L219.2 731.5L219.7 733.0L220.2 734.4L220.6 735.8L221.1 737.2L221.6 738.7L222.1 740.1L222.6 741.5L223.1 742.9L223.6 744.3L224.1 745.8L224.6 747.2L225.1 748.6L225.6 750.0L226.1 751.4L226.6 752.8L227.1 754.3L227.7 755.7L228.2 757.1L228.8 758.5L229.3 759.9L229.9 761.2L230.5 762.6L231.1 764.0L231.7 765.4L232.3 766.7L233.0 768.1L233.7 769.4L234.4 770.8L235.2 772.1L235.9 773.3L236.8 774.6L237.7 775.8L238.7 776.9L239.8 778.0L240.9 778.9L242.2 779.7L243.6 780.2L245.1 780.4L246.6 780.4L248.1 780.2L249.6 780.0L251.1 779.8L252.6 779.7L254.1 779.8L255.6 780.0L257.0 780.3L258.5 780.7L259.9 781.2L261.4 781.7L262.8 782.2L264.2 782.7L265.6 783.2L267.0 783.7L268.4 784.2L269.8 784.8L271.2 785.3L272.6 785.8L274.0 786.4L275.5 786.9L276.9 787.4L278.3 787.9L279.7 788.4L281.1 788.9L282.6 789.3L284.0 789.8L285.5 790.2L286.9 790.6L288.4 790.9L289.8 791.2L291.3 791.5L292.8 791.7L294.3 791.8L295.8 791.9L297.3 792.0L298.8 791.9L300.3 791.8L301.8 791.6L303.3 791.4L304.8 791.1L306.3 790.8L307.7 790.5L309.2 790.1L310.6 789.7L312.1 789.3L313.5 788.9L315.0 788.4L316.4 788.0L317.9 787.6L319.3 787.3L320.8 786.9L322.2 786.6L323.7 786.3L325.2 786.1L326.7 785.9L328.2 785.8L329.7 785.8L331.2 785.8L332.7 786.0L334.2 786.2L335.7 786.4L337.2 786.7L338.6 787.1L340.1 787.5L341.5 787.9L342.9 788.3L344.4 788.8L345.8 789.3L347.2 789.9L348.6 790.4L350.0 791.0L351.4 791.5L352.8 792.1L354.2 792.7L355.6 793.2L357.0 793.8L358.4 794.4L359.8 794.9L361.2 795.5L362.6 796.0L364.0 796.5L365.4 797.0L366.8 797.5L368.3 797.9L369.7 798.3L371.2 798.7L372.6 799.1L374.1 799.5L375.5 799.8L377.0 800.2L378.5 800.5L379.9 800.8L381.4 801.0L382.9 801.3L384.4 801.5L385.9 801.8L387.4 802.0L388.9 802.2L390.3 802.4L391.8 802.6L393.3 802.8L394.8 803.0L396.3 803.1L397.8 803.3L399.3 803.5L400.8 803.6L402.3 803.8L403.8 803.9L405.3 804.1L406.8 804.2L408.3 804.3L409.8 804.4L411.3 804.6L412.8 804.7L414.3 804.8L415.8 804.9L417.3 805.0L418.8 805.1L420.3 805.1L421.8 805.2L423.3 805.3L424.8 805.4L426.3 805.4L427.8 805.5L429.3 805.5L430.8 805.6L432.3 805.6L433.8 805.7L435.3 805.7L436.8 805.7L438.3 805.8L439.8 805.8L441.3 805.8L442.8 805.8L444.3 805.8L445.8 805.8L447.4 805.8L448.9 805.8L450.4 805.8L451.9 805.8L453.4 805.7L454.9 805.7L456.4 805.7L457.9 805.7L459.4 805.6L460.9 805.6L462.4 805.5L463.9 805.5L465.4 805.4L466.9 805.4L468.4 805.3L469.9 805.3L471.4 805.2L472.9 805.1L474.4 805.1L475.9 805.0L477.4 804.9L478.9 804.8L480.4 804.8L481.9 804.7L483.4 804.6L484.9 804.5L486.4 804.4L487.9 804.3L489.4 804.2L490.9 804.1L492.4 804.0L493.9 803.9L495.4 803.8L496.9 803.7L498.4 803.6L499.9 803.4L501.4 803.3L502.9 803.2L504.4 803.1L505.9 803.0L507.4 802.8L508.9 802.7L510.4 802.6L511.9 802.5L513.4 802.3L514.9 802.2L516.4 802.1L517.9 801.9L519.4 801.8L520.9 801.6L522.4 801.5L523.9 801.4L525.4 801.2L526.9 801.1L528.4 800.9L529.9 800.8L531.4 800.7L532.9 800.5L534.4 800.4L535.9 800.2L537.4 800.1L538.9 799.9L540.4 799.8L541.9 799.6L543.4 799.5L544.9 799.3L546.4 799.2L547.9 799.0L549.3 798.9L550.8 798.8L552.3 798.6L553.8 798.5L555.3 798.3L556.8 798.2L558.3 798.0L559.8 797.9L561.3 797.7L562.8 797.6L564.3 797.4L565.8 797.3L567.3 797.2L568.8 797.0L570.3 796.9L571.8 796.8L573.3 796.6L574.8 796.5L576.3 796.3L577.8 796.2L579.3 796.1L580.8 796.0L582.3 795.8L583.8 795.7L585.3 795.6L586.8 795.5L588.3 795.3L589.8 795.2L591.3 795.1L592.8 795.0L594.3 794.9L595.8 794.8L597.3 794.7L598.8 794.5L600.3 794.4L601.8 794.3L603.3 794.2L604.8 794.1L606.3 794.1L607.8 794.0L609.3 793.9L610.8 793.8L612.3 793.7L613.8 793.6L615.3 793.6L616.8 793.5L618.3 793.4L619.8 793.3L621.3 793.3L622.8 793.2L624.3 793.2L625.8 793.1L627.3 793.1L628.8 793.0L630.3 793.0L631.8 792.9L633.3 792.9L634.8 792.9L636.3 792.9L637.8 792.8L639.4 792.8L640.9 792.8L642.4 792.8L643.9 792.8L645.4 792.8L646.9 792.8L648.4 792.8L649.9 792.8L651.4 792.8L652.9 792.8L654.4 792.9L655.9 792.9L657.4 792.9L658.9 793.0L660.4 793.0L661.9 793.1L663.4 793.1L664.9 793.2L666.4 793.2L667.9 793.3L669.4 793.4L670.9 793.5L672.4 793.5L673.9 793.6L675.4 793.7L676.9 793.8L678.4 793.9L679.9 794.1L681.4 794.2L682.9 794.3L684.4 794.4L685.9 794.6L687.4 794.7L688.9 794.8L690.4 795.0L691.9 795.2L693.4 795.3L694.9 795.5L696.4 795.7L697.9 795.8L699.4 796.0L700.9 796.2L702.4 796.4L703.9 796.6L705.3 796.8L706.8 797.1L708.3 797.3L709.8 797.5L711.3 797.7L712.8 798.0L714.3 798.2L715.7 798.4L717.2 798.7L718.7 798.9L720.2 799.2L721.7 799.5L723.2 799.7L724.6 800.0L726.1 800.2L727.6 800.5L729.1 800.8L730.6 801.1L732.0 801.4L733.5 801.6L735.0 801.9L736.5 802.2L737.9 802.5L739.4 802.8L740.9 803.1L742.4 803.4L743.8 803.7L745.3 804.0L746.8 804.3L748.3 804.6L749.7 804.9L751.2 805.2L752.7 805.5L754.1 805.9L755.6 806.2L757.1 806.5L758.5 806.8L760.0 807.1L761.5 807.4L763.0 807.7L764.4 808.1L765.9 808.4L767.4 808.7L768.8 809.0L770.3 809.3L771.8 809.7L773.3 810.0L774.7 810.3L776.2 810.6L777.7 810.9L779.1 811.2L780.6 811.5L782.1 811.9L783.5 812.2L785.0 812.5L786.5 812.8L788.0 813.1L789.4 813.4L790.9 813.7L792.4 814.0L793.9 814.3L795.3 814.6L796.8 814.9L798.3 815.3L799.7 815.6L801.2 815.9L802.7 816.2L804.2 816.5L805.6 816.8L807.1 817.1L808.6 817.4L810.1 817.7L811.5 817.9L813.0 818.2L814.5 818.5L816.0 818.8L817.4 819.1L818.9 819.4L820.4 819.7L821.9 820.0L823.3 820.3L824.8 820.6L826.3 820.9L827.8 821.2L829.2 821.4L830.7 821.7L832.2 822.0L833.7 822.3L835.1 822.6L836.6 822.9L838.1 823.1L839.6 823.4L841.1 823.7L842.5 824.0L844.0 824.2L845.5 824.5L847.0 824.8L848.5 825.1L849.9 825.3L851.4 825.6L852.9 825.9L854.4 826.2L855.8 826.4L857.3 826.7L858.8 827.0L860.3 827.2L861.8 827.5L863.2 827.8L864.7 828.0L866.2 828.3L867.7 828.6L869.2 828.8L870.7 829.1L872.1 829.3L873.6 829.6L875.1 829.9L876.6 830.1L878.1 830.4L879.5 830.6L881.0 830.9L882.5 831.1L884.0 831.4L885.5 831.7L887.0 831.9L888.4 832.2L889.9 832.4L891.4 832.7L892.9 832.9L894.4 833.1L895.9 833.4L897.3 833.6L898.8 833.9L900.3 834.1L901.8 834.4L903.3 834.6L904.8 834.9L906.2 835.1L907.7 835.3L909.2 835.6L910.7 835.8L912.2 836.0"/>
<path d="M127.0 844.1L127.4 842.7L127.7 841.2L128.1 839.8L128.4 838.3L128.8 836.8L129.1 835.4L129.4 833.9L129.8 832.4L130.1 831.0L130.4 829.5L130.7 828.0L131.0 826.6L131.4 825.1L131.7 823.6L132.0 822.2L132.3 820.7L132.6 819.2L132.9 817.7L133.2 816.3L133.5 814.8L133.8 813.3L134.0 811.8L134.3 810.4L134.6 808.9L134.9 807.4L135.2 805.9L135.5 804.5L135.8 803.0L136.0 801.5L136.3 800.0L136.6 798.6L136.9 797.1L137.1 795.6L137.4 794.1L137.7 792.7L138.0 791.2L138.2 789.7L138.5 788.2L138.8 786.8L139.1 785.3L139.3 783.8L139.6 782.3L139.9 780.8L140.1 779.4L140.4 777.9L140.7 776.4L141.0 774.9L141.2 773.5L141.5 772.0L141.8 770.5L142.1 769.0L142.3 767.5L142.6 766.1L142.9 764.6L143.2 763.1L143.4 761.6L143.7 760.2L144.0 758.7L144.3 757.2L144.6 755.7L144.8 754.3L145.1 752.8L145.4 751.3L145.7 749.8L146.0 748.4L146.3 746.9L146.6 745.4L146.9 743.9L147.2 742.5L147.5 741.0L147.8 739.5L148.1 738.1L148.4 736.6L148.7 735.1L149.0 733.6L149.3 732.2L149.6 730.7L150.0 729.2L150.3 727.8L150.6 726.3L150.9 724.8L151.3 723.4L151.6 721.9L152.0 720.5L152.3 719.0L152.7 717.5L153.0 716.1L153.4 714.6L153.8 713.2L154.2 711.7L154.5 710.3L154.9 708.8L155.3 707.4L155.7 705.9L156.2 704.5L156.6 703.0L157.0 701.6L157.5 700.2L158.0 698.7L158.4 697.3L158.9 695.9L159.4 694.5L160.0 693.1L160.5 691.7L161.1 690.3L161.7 688.9L162.3 687.5L162.9 686.2L163.6 684.8L164.3 683.5L165.1 682.2L165.9 680.9L166.7 679.7L167.7 678.6L168.8 677.5L170.0 676.6L171.3 675.9L172.7 675.5L174.2 675.5L175.7 675.9L177.0 676.6L178.2 677.4L179.4 678.4L180.4 679.5L181.4 680.7L182.3 681.8L183.2 683.1L184.0 684.3L184.8 685.6L185.6 686.9L186.3 688.2L187.0 689.5L187.7 690.8L188.4 692.2L189.1 693.5L189.7 694.9L190.3 696.3L190.9 697.6L191.5 699.0L192.1 700.4L192.7 701.8L193.3 703.2L193.8 704.6L194.4 706.0L194.9 707.4L195.4 708.8L196.0 710.2L196.5 711.6L197.0 713.0L197.5 714.4L198.0 715.8L198.5 717.3L199.0 718.7L199.4 720.1L199.9 721.5L200.4 723.0L200.8 724.4L201.3 725.8L201.8 727.2L202.2 728.7L202.7 730.1L203.1 731.6L203.5 733.0L204.0 734.4L204.4 735.9L204.8 737.3L205.3 738.7L205.7 740.2L206.1 741.6L206.5 743.1L207.0 744.5L207.4 746.0L207.8 747.4L208.2 748.8L208.6 750.3L209.0 751.7L209.5 753.2L209.9 754.6L210.3 756.1L210.7 757.5L211.1 759.0L211.5 760.4L211.9 761.8L212.3 763.3L212.7 764.7L213.2 766.2L213.6 767.6L214.0 769.1L214.4 770.5L214.8 771.9L215.2 773.4L215.7 774.8L216.1 776.3L216.5 777.7L216.9 779.2L217.4 780.6L217.8 782.0L218.2 783.5L218.7 784.9L219.1 786.3L219.6 787.8L220.0 789.2L220.5 790.6L221.0 792.1L221.4 793.5L221.9 794.9L222.4 796.3L222.9 797.7L223.5 799.1L224.0 800.6L224.5 802.0L225.1 803.3L225.7 804.7L226.3 806.1L226.9 807.5L227.5 808.8L228.2 810.2L228.9 811.5L229.7 812.8L230.5 814.0L231.4 815.3L232.4 816.4L233.4 817.5L234.6 818.4L236.0 819.0L237.5 819.3L239.0 819.1L240.4 818.6L241.6 817.8L242.8 816.9L243.9 815.9L245.0 814.8L246.1 813.8L247.2 812.7L248.3 811.7L249.4 810.7L250.5 809.7L251.7 808.8L252.9 807.9L254.2 807.1L255.5 806.3L256.8 805.7L258.3 805.2L259.7 805.0L261.2 804.9L262.7 805.0L264.2 805.4L265.6 805.9L267.0 806.5L268.3 807.1L269.7 807.8L271.0 808.5L272.3 809.3L273.6 810.0L275.0 810.7L276.3 811.3L277.7 811.9L279.1 812.4L280.6 812.8L282.0 813.0L283.5 812.9L285.0 812.6L286.4 812.1L287.8 811.4L289.0 810.6L290.3 809.7L291.4 808.8L292.6 807.8L293.7 806.8L294.8 805.8L295.9 804.7L297.0 803.7L298.1 802.7L299.2 801.7L300.4 800.8L301.6 799.9L302.9 799.1L304.2 798.3L305.5 797.7L306.9 797.2L308.4 796.8L309.9 796.5L311.3 796.3L312.8 796.1L314.3 796.1L315.8 796.2L317.3 796.3L318.8 796.5L320.3 796.7L321.8 797.0L323.3 797.4L324.7 797.8L326.1 798.2L327.6 798.6L329.0 799.1L330.4 799.6L331.8 800.1L333.2 800.7L334.6 801.2L336.0 801.8L337.4 802.4L338.7 803.0L340.1 803.7L341.5 804.3L342.8 804.9L344.2 805.6L345.6 806.2L346.9 806.9L348.3 807.5L349.6 808.2L351.0 808.8L352.3 809.5L353.7 810.1L355.0 810.8L356.4 811.4L357.8 812.1L359.1 812.7L360.5 813.3L361.9 813.9L363.3 814.4L364.7 815.0L366.1 815.6L367.5 816.1L368.9 816.6L370.3 817.1L371.7 817.6L373.1 818.0L374.6 818.5L376.0 818.9L377.5 819.3L378.9 819.7L380.4 820.1L381.8 820.4L383.3 820.8L384.8 821.1L386.2 821.4L387.7 821.7L389.2 821.9L390.7 822.2L392.2 822.4L393.6 822.6L395.1 822.8L396.6 823.0L398.1 823.2L399.6 823.4L401.1 823.5L402.6 823.6L404.1 823.7L405.6 823.8L407.1 823.9L408.6 824.0L410.1 824.0L411.6 824.1L413.1 824.1L414.6 824.1L416.1 824.1L417.6 824.1L419.1 824.1L420.6 824.1L422.1 824.0L423.6 824.0L425.1 823.9L426.6 823.8L428.1 823.8L429.6 823.7L431.1 823.6L432.6 823.5L434.1 823.4L435.6 823.2L437.1 823.1L438.6 823.0L440.1 822.9L441.6 822.7L443.1 822.6L444.6 822.4L446.1 822.3L447.6 822.1L449.1 822.0L450.6 821.8L452.1 821.7L453.6 821.5L455.1 821.4L456.5 821.2L458.0 821.1L459.5 820.9L461.0 820.7L462.5 820.6L464.0 820.4L465.5 820.3L467.0 820.1L468.5 820.0L470.0 819.8L471.5 819.6L473.0 819.5L474.5 819.3L476.0 819.2L477.5 819.0L479.0 818.8L480.4 818.7L481.9 818.5L483.4 818.3L484.9 818.2L486.4 818.0L487.9 817.8L489.4 817.7L490.9 817.5L492.4 817.3L493.9 817.1L495.4 816.9L496.9 816.8L498.4 816.6L499.8 816.4L501.3 816.2L502.8 816.0L504.3 815.8L505.8 815.6L507.3 815.4L508.8 815.2L510.3 815.0L511.8 814.8L513.2 814.6L514.7 814.4L516.2 814.2L517.7 813.9L519.2 813.7L520.7 813.5L522.2 813.2L523.6 813.0L525.1 812.8L526.6 812.5L528.1 812.3L529.6 812.0L531.0 811.8L532.5 811.5L534.0 811.2L535.5 811.0L537.0 810.7L538.4 810.4L539.9 810.2L541.4 809.9L542.9 809.6L544.3 809.4L545.8 809.1L547.3 808.8L548.8 808.6L550.3 808.3L551.7 808.1L553.2 807.8L554.7 807.6L556.2 807.3L557.7 807.1L559.2 806.9L560.6 806.7L562.1 806.5L563.6 806.3L565.1 806.1L566.6 805.9L568.1 805.7L569.6 805.6L571.1 805.4L572.6 805.3L574.1 805.2L575.6 805.1L577.1 805.0L578.6 804.9L580.1 804.8L581.6 804.8L583.1 804.8L584.6 804.7L586.1 804.8L587.6 804.8L589.1 804.8L590.6 804.9L592.1 805.0L593.6 805.1L595.1 805.2L596.6 805.3L598.1 805.5L599.6 805.7L601.1 805.9L602.5 806.1L604.0 806.4L605.5 806.6L607.0 806.9L608.4 807.2L609.9 807.5L611.4 807.9L612.8 808.2L614.3 808.5L615.8 808.9L617.2 809.3L618.7 809.6L620.1 810.0L621.6 810.4L623.1 810.7L624.5 811.1L626.0 811.5L627.4 811.8L628.9 812.2L630.4 812.5L631.8 812.8L633.3 813.1L634.8 813.4L636.2 813.7L637.7 814.0L639.2 814.2L640.7 814.5L642.2 814.7L643.7 814.8L645.2 815.0L646.7 815.1L648.2 815.2L649.7 815.2L651.2 815.3L652.7 815.3L654.2 815.2L655.7 815.2L657.2 815.1L658.7 815.0L660.2 814.8L661.6 814.7L663.1 814.5L664.6 814.3L666.1 814.1L667.6 813.8L669.1 813.5L670.5 813.2L672.0 812.9L673.5 812.6L674.9 812.3L676.4 811.9L677.9 811.6L679.3 811.2L680.8 810.8L682.2 810.4L683.7 810.0L685.1 809.5L686.5 809.1L688.0 808.7L689.4 808.2L690.8 807.8L692.3 807.3L693.7 806.8L695.1 806.4L696.6 805.9L698.0 805.5L699.4 805.0L700.9 804.6L702.3 804.1L703.7 803.7L705.2 803.3L706.6 802.9L708.1 802.5L709.5 802.1L711.0 801.8L712.5 801.4L713.9 801.1L715.4 800.8L716.9 800.5L718.4 800.3L719.8 800.1L721.3 799.9L722.8 799.7L724.3 799.6L725.8 799.5L727.3 799.4L728.8 799.4L730.3 799.4L731.8 799.4L733.3 799.5L734.8 799.7L736.3 799.8L737.8 800.1L739.3 800.3L740.8 800.6L742.2 800.9L743.7 801.3L745.1 801.7L746.6 802.1L748.0 802.5L749.4 803.0L750.9 803.5L752.3 804.0L753.7 804.5L755.1 805.0L756.5 805.6L757.9 806.1L759.3 806.7L760.7 807.2L762.1 807.8L763.5 808.4L764.8 808.9L766.2 809.5L767.6 810.1L769.0 810.7L770.4 811.2L771.8 811.8L773.2 812.4L774.6 812.9L776.0 813.5L777.4 814.0L778.8 814.5L780.2 815.0L781.6 815.5L783.1 815.9L784.5 816.4L785.9 816.8L787.4 817.3L788.8 817.7L790.3 818.1L791.7 818.4L793.2 818.8L794.7 819.1L796.1 819.5L797.6 819.8L799.1 820.1L800.5 820.4L802.0 820.7L803.5 820.9L805.0 821.2L806.4 821.4L807.9 821.7L809.4 821.9L810.9 822.1L812.4 822.3L813.9 822.5L815.4 822.7L816.9 822.9L818.3 823.1L819.8 823.3L821.3 823.5L822.8 823.6L824.3 823.8L825.8 824.0L827.3 824.2L828.8 824.3L830.3 824.5L831.8 824.7L833.3 824.8L834.8 825.0L836.3 825.2L837.7 825.4L839.2 825.5L840.7 825.7L842.2 825.9L843.7 826.1L845.2 826.2L846.7 826.4L848.2 826.6L849.7 826.8L851.2 827.0L852.7 827.1L854.2 827.3L855.6 827.5L857.1 827.7L858.6 827.9L860.1 828.1L861.6 828.2L863.1 828.4L864.6 828.6L866.1 828.8L867.6 829.0L869.1 829.2L870.6 829.4L872.0 829.5L873.5 829.7L875.0 829.9L876.5 830.1L878.0 830.3L879.5 830.5L881.0 830.7L882.5 830.9L884.0 831.1L885.5 831.2L886.9 831.4L888.4 831.6L889.9 831.8L891.4 832.0L892.9 832.1L894.4 832.3L895.9 832.5L897.4 832.6L898.9 832.8L900.4 833.0L901.9 833.1L903.4 833.2L904.9 833.4L906.4 833.5L907.9 833.6L909.4 833.7L910.9 833.8L912.4 833.9L913.9 834.0L915.4 834.1L916.9 834.2L918.4 834.2L919.9 834.2L921.4 834.3L922.9 834.3L924.4 834.3L925.9 834.3L927.4 834.2L928.9 834.2L930.4 834.1L931.9 834.1L933.4 834.0L934.9 833.9L936.4 833.8L937.9 833.6L939.4 833.5L940.9 833.3L942.4 833.2L943.8 833.0L945.3 832.9L946.8 832.7L948.3 832.5L949.8 832.3L951.3 832.1L952.8 831.9L954.3 831.7L955.8 831.5L957.3 831.3L958.7 831.1L960.2 830.9L961.7 830.7L963.2 830.5L964.7 830.3L966.2 830.1L967.7 829.9L969.2 829.7L970.7 829.5L972.1 829.3L973.6 829.1L975.1 828.9L976.6 828.8L978.1 828.6L979.6 828.5L981.1 828.3L982.6 828.2L984.1 828.1L985.6 828.0L987.1 827.9L988.6 827.8L990.1 827.7L991.6 827.7L993.1 827.7L994.6 827.6L996.1 827.6L997.6 827.6L999.1 827.7L1000.6 827.7L1002.1 827.8L1003.6 827.9L1005.1 828.0L1006.6 828.1L1008.1 828.3L1009.6 828.5L1011.1 828.7L1012.6 828.9L1014.1 829.1L1015.5 829.4L1017.0 829.6L1018.5 830.0L1019.9 830.3L1021.4 830.6L1022.9 831.0L1024.3 831.4L1025.8 831.8L1027.2 832.3L1028.6 832.7L1030.0 833.2L1031.4 833.7L1032.9 834.3"/>
<path d="M108.3 765 L120.8 744 L131.2 723 L141.6 700 L148 681"/><path d="M108.3 773.2 L114.6 774.2 L120.8 772.2 L125 765 L131.2 744 L139 718"/>
</g>
<g class="cv" clip-path="url(#cr)">
<path d="M1173.8 835.0L1174.1 833.5L1174.4 832.0L1174.7 830.6L1175.0 829.1L1175.3 827.6L1175.6 826.1L1175.9 824.7L1176.2 823.2L1176.5 821.7L1176.8 820.2L1177.1 818.8L1177.4 817.3L1177.7 815.8L1178.0 814.4L1178.3 812.9L1178.6 811.4L1178.9 809.9L1179.1 808.5L1179.4 807.0L1179.7 805.5L1180.0 804.0L1180.3 802.6L1180.6 801.1L1180.9 799.6L1181.2 798.1L1181.5 796.7L1181.8 795.2L1182.1 793.7L1182.4 792.2L1182.7 790.8L1182.9 789.3L1183.2 787.8L1183.5 786.4L1183.8 784.9L1184.1 783.4L1184.4 781.9L1184.7 780.5L1185.0 779.0L1185.3 777.5L1185.6 776.0L1185.9 774.6L1186.1 773.1L1186.4 771.6L1186.7 770.1L1187.0 768.7L1187.3 767.2L1187.6 765.7L1187.9 764.2L1188.2 762.8L1188.5 761.3L1188.8 759.8L1189.0 758.3L1189.3 756.9L1189.6 755.4L1189.9 753.9L1190.2 752.4L1190.5 751.0L1190.8 749.5L1191.1 748.0L1191.3 746.5L1191.6 745.1L1191.9 743.6L1192.2 742.1L1192.5 740.6L1192.8 739.2L1193.1 737.7L1193.4 736.2L1193.7 734.7L1193.9 733.3L1194.2 731.8L1194.5 730.3L1194.8 728.8L1195.1 727.4L1195.4 725.9L1195.7 724.4L1196.0 722.9L1196.2 721.5L1196.5 720.0L1196.8 718.5L1197.1 717.0L1197.4 715.6L1197.7 714.1L1198.0 712.6L1198.3 711.1L1198.5 709.7L1198.8 708.2L1199.1 706.7L1199.4 705.3L1199.7 703.8L1200.0 702.3L1200.3 700.8L1200.5 699.4L1200.8 697.9L1201.1 696.4L1201.4 694.9L1201.7 693.5L1202.0 692.0L1202.3 690.5L1202.6 689.0L1202.8 687.6L1203.1 686.1L1203.4 684.6L1203.7 683.1L1204.0 681.7L1204.3 680.2L1204.6 678.7L1204.8 677.2L1205.1 675.8L1205.4 674.3L1205.7 672.8L1206.0 671.3L1206.3 669.9L1206.6 668.4L1206.8 666.9L1207.1 665.4L1207.4 664.0L1207.7 662.5L1208.0 661.0L1208.3 659.5L1208.6 658.1L1208.9 656.6L1209.1 655.1L1209.4 653.6L1209.7 652.2L1210.0 650.7L1210.3 649.2L1210.6 647.7L1210.9 646.3L1211.2 644.8L1211.4 643.3L1211.7 641.8L1212.0 640.4L1212.3 638.9L1212.6 637.4L1212.9 635.9L1213.2 634.5L1213.4 633.0L1213.7 631.5L1214.0 630.0L1214.3 628.6L1214.6 627.1L1214.9 625.6L1215.2 624.1L1215.5 622.7L1215.7 621.2L1216.0 619.7L1216.3 618.2L1216.6 616.8L1216.9 615.3L1217.2 613.8L1217.5 612.3L1217.8 610.9L1218.1 609.4L1218.3 607.9L1218.6 606.4L1218.9 605.0L1219.2 603.5L1219.5 602.0L1219.8 600.5L1220.1 599.1L1220.4 597.6L1220.6 596.1L1220.9 594.6L1221.2 593.2L1221.5 591.7L1221.8 590.2L1222.1 588.7L1222.4 587.3L1222.7 585.8L1223.0 584.3L1223.3 582.8L1223.5 581.4L1223.8 579.9L1224.1 578.4L1224.4 576.9L1224.7 575.5L1225.0 574.0L1225.3 572.5L1225.6 571.1L1225.9 569.6L1226.2 568.1L1226.5 566.6L1226.7 565.2L1227.0 563.7L1227.3 562.2L1227.6 560.7L1227.9 559.3L1228.2 557.8L1228.5 556.3L1228.8 554.8L1229.1 553.4L1229.4 551.9L1229.7 550.4L1230.0 548.9L1230.2 547.5L1230.5 546.0L1230.8 544.5L1231.1 543.0L1231.4 541.6L1231.7 540.1L1232.0 538.6L1232.3 537.2L1232.6 535.7L1232.9 534.2L1233.2 532.7L1233.5 531.3L1233.8 529.8L1234.1 528.3L1234.4 526.8L1234.7 525.4L1235.0 523.9L1235.3 522.4L1235.6 520.9L1235.8 519.5L1236.1 518.0L1236.4 516.5L1236.7 515.1L1237.0 513.6L1237.3 512.1L1237.6 510.6L1237.9 509.2L1238.2 507.7L1238.5 506.2L1238.8 504.7L1239.1 503.3L1239.4 501.8L1239.7 500.3L1240.0 498.9L1240.3 497.4L1240.6 495.9L1240.9 494.4L1241.2 493.0L1241.5 491.5L1241.8 490.0L1242.1 488.6L1242.4 487.1L1242.7 485.6L1243.0 484.1L1243.3 482.7L1243.6 481.2L1243.9 479.7L1244.2 478.2L1244.5 476.8L1244.8 475.3L1245.1 473.8L1245.4 472.4L1245.7 470.9L1246.0 469.4L1246.4 467.9L1246.7 466.5L1247.0 465.0L1247.3 463.5L1247.6 462.1L1247.9 460.6L1248.2 459.1L1248.5 457.7L1248.8 456.2L1249.1 454.7L1249.4 453.2L1249.7 451.8L1250.0 450.3L1250.4 448.8L1250.7 447.4L1251.0 445.9L1251.3 444.4L1251.6 442.9L1251.9 441.5L1252.2 440.0L1252.5 438.5L1252.9 437.1L1253.2 435.6L1253.5 434.1L1253.8 432.7L1254.1 431.2L1254.4 429.7L1254.8 428.3L1255.1 426.8L1255.4 425.3L1255.7 423.9L1256.0 422.4L1256.4 420.9L1256.7 419.5L1257.0 418.0L1257.3 416.5L1257.7 415.1L1258.0 413.6L1258.3 412.1L1258.7 410.7L1259.0 409.2L1259.3 407.7L1259.7 406.3L1260.0 404.8L1260.3 403.3L1260.7 401.9L1261.0 400.4L1261.3 398.9L1261.7 397.5L1262.0 396.0L1262.4 394.5L1262.7 393.1L1263.0 391.6L1263.4 390.2L1263.7 388.7L1264.1 387.2L1264.4 385.8L1264.8 384.3L1265.1 382.9L1265.5 381.4L1265.8 379.9L1266.2 378.5L1266.5 377.0L1266.9 375.6L1267.3 374.1L1267.6 372.6L1268.0 371.2L1268.4 369.7L1268.7 368.3L1269.1 366.8L1269.5 365.4L1269.8 363.9L1270.2 362.4L1270.6 361.0L1271.0 359.5L1271.3 358.1L1271.7 356.6L1272.1 355.2L1272.5 353.7L1272.9 352.3L1273.3 350.8L1273.6 349.4L1274.0 347.9L1274.4 346.5L1274.8 345.0L1275.2 343.6L1275.6 342.1L1276.0 340.7L1276.4 339.2L1276.9 337.8L1277.3 336.3L1277.7 334.9L1278.1 333.4L1278.5 332.0L1278.9 330.6L1279.4 329.1L1279.8 327.7L1280.2 326.2L1280.6 324.8L1281.1 323.4L1281.5 321.9L1282.0 320.5L1282.4 319.1L1282.9 317.6L1283.3 316.2L1283.8 314.8L1284.2 313.3L1284.7 311.9L1285.2 310.5L1285.6 309.0L1286.1 307.6L1286.6 306.2L1287.1 304.8L1287.5 303.3L1288.0 301.9L1288.5 300.5L1289.0 299.1L1289.5 297.7L1290.0 296.3L1290.6 294.8L1291.1 293.4L1291.6 292.0L1292.1 290.6L1292.7 289.2L1293.2 287.8L1293.7 286.4L1294.3 285.0L1294.9 283.6L1295.4 282.2L1296.0 280.8L1296.6 279.4L1297.1 278.1L1297.7 276.7L1298.3 275.3L1298.9 273.9L1299.5 272.6L1300.2 271.2L1300.8 269.8L1301.4 268.5L1302.1 267.1L1302.7 265.7L1303.4 264.4L1304.1 263.1L1304.7 261.7L1305.4 260.4L1306.1 259.0L1306.8 257.7L1307.5 256.4L1308.3 255.1L1309.0 253.8L1309.7 252.5L1310.5 251.2L1311.2 249.9L1312.0 248.6L1312.8 247.3L1313.6 246.0L1314.4 244.7L1315.2 243.5L1316.0 242.2L1316.8 240.9L1317.7 239.7L1318.5 238.5L1319.3 237.2L1320.2 236.0L1321.1 234.8L1322.0 233.5L1322.8 232.3L1323.7 231.1L1324.6 229.9L1325.6 228.7L1326.5 227.5L1327.4 226.4L1328.4 225.2L1329.3 224.0L1330.3 222.9L1331.2 221.7L1332.2 220.6L1333.2 219.4L1334.1 218.3L1335.1 217.2L1336.1 216.0L1337.1 214.9L1338.1 213.8L1339.1 212.7L1340.2 211.6L1341.2 210.5L1342.2 209.4L1343.2 208.3L1344.3 207.2L1345.3 206.1L1346.3 205.0L1347.4 203.9L1348.4 202.9L1349.5 201.8L1350.5 200.7L1351.6 199.6L1352.6 198.5L1353.7 197.5L1354.7 196.4L1355.8 195.3L1356.8 194.2L1357.9 193.2L1358.9 192.1L1360.0 191.0L1361.0 189.9L1362.0 188.8L1363.1 187.7L1364.1 186.7L1365.1 185.6L1366.2 184.5L1367.2 183.4L1368.2 182.3L1369.2 181.2L1370.2 180.1L1371.3 179.0L1372.3 177.8L1373.3 176.7L1374.3 175.6L1375.3 174.5L1376.3 173.4L1377.3 172.3L1378.3 171.2L1379.3 170.0L1380.3 168.9L1381.4 167.8L1382.4 166.7L1383.4 165.6L1384.4 164.5L1385.4 163.3L1386.4 162.2L1387.4 161.1L1388.4 160.0L1389.4 158.9L1390.4 157.8L1391.4 156.6L1392.4 155.5L1393.4 154.4L1394.4 153.3L1395.4 152.2L1396.5 151.1L1397.5 150.0L1398.5 148.9L1399.5 147.8L1400.5 146.7L1401.6 145.6L1402.6 144.5L1403.6 143.4L1404.6 142.3L1405.7 141.2L1406.7 140.1L1407.8 139.0L1408.8 137.9L1409.9 136.9L1410.9 135.8L1412.0 134.7L1413.0 133.7L1414.1 132.6L1415.2 131.6L1416.2 130.5L1417.3 129.5L1418.4 128.4L1419.5 127.4L1420.6 126.4L1421.7 125.3L1422.8 124.3L1423.9 123.3L1425.0 122.3L1426.2 121.3L1427.3 120.3L1428.4 119.4L1429.6 118.4L1430.7 117.4L1431.9 116.5L1433.1 115.6L1434.3 114.6L1435.5 113.7L1436.7 112.8L1437.9 111.9L1439.1 111.1L1440.4 110.2L1441.6 109.4L1442.9 108.6L1444.1 107.8L1445.4 107.0L1446.7 106.2L1448.0 105.5L1449.3 104.7L1450.6 104.0L1452.0 103.4L1453.3 102.7L1454.7 102.1L1456.1 101.5L1457.5 100.9L1458.9 100.3L1460.3 99.8L1461.7 99.4L1463.1 98.9L1464.6 98.5L1466.0 98.1L1467.5 97.8L1469.0 97.5L1470.5 97.2L1471.9 97.0L1473.4 96.8L1474.9 96.7L1476.4 96.6L1477.9 96.5L1479.4 96.5L1480.9 96.6L1482.4 96.6L1483.9 96.7L1485.4 96.9L1486.9 97.1L1488.4 97.3L1489.9 97.5L1491.4 97.8L1492.8 98.1L1494.3 98.5L1495.7 98.9L1497.2 99.3L1498.6 99.7L1500.1 100.2L1501.5 100.7L1502.9 101.2L1504.3 101.7L1505.7 102.3L1507.1 102.9L1508.4 103.5L1509.8 104.1L1511.2 104.8L1512.5 105.4L1513.9 106.1L1515.2 106.8L1516.5 107.5L1517.8 108.2L1519.1 109.0L1520.4 109.7L1521.7 110.5L1523.0 111.3L1524.3 112.1L1525.5 112.9L1526.8 113.8L1528.0 114.6L1529.3 115.4L1530.5 116.3L1531.7 117.2L1532.9 118.0L1534.2 118.9L1535.4 119.8L1536.6 120.7L1537.8 121.6L1539.0 122.5L1540.1 123.5L1541.3 124.4L1542.5 125.3L1543.7 126.3L1544.8 127.2L1546.0 128.2L1547.1 129.1L1548.3 130.1L1549.4 131.1L1550.6 132.1L1551.7 133.0L1552.9 134.0L1554.0 135.0L1555.1 136.0L1556.3 137.0L1557.4 138.0L1558.5 139.0L1559.6 140.0L1560.7 141.0L1561.8 142.0L1563.0 143.0L1564.1 144.0L1565.2 145.0L1566.3 146.1L1567.4 147.1L1568.5 148.1L1569.6 149.1L1570.7 150.2L1571.8 151.2L1572.9 152.2L1573.9 153.3L1575.0 154.3L1576.1 155.3L1577.2 156.4L1578.3 157.4L1579.4 158.4L1580.5 159.5L1581.6 160.5L1582.6 161.6L1583.7 162.6L1584.8 163.6L1585.9 164.7L1587.0 165.7L1588.1 166.8L1589.1 167.8L1590.2 168.9L1591.3 169.9L1592.4 170.9L1593.5 172.0L1594.6 173.0L1595.6 174.1L1596.7 175.1L1597.8 176.1L1598.9 177.2L1600.0 178.2L1601.1 179.3L1602.1 180.3L1603.2 181.3L1604.3 182.4L1605.4 183.4L1606.5 184.4L1607.6 185.5L1608.7 186.5L1609.8 187.5L1610.9 188.6L1612.0 189.6L1613.1 190.6L1614.1 191.7L1615.2 192.7L1616.3 193.7L1617.5 194.7L1618.6 195.7L1619.7 196.8L1620.8 197.8L1621.9 198.8L1623.0 199.8L1624.1 200.8L1625.2 201.8L1626.3 202.8L1627.5 203.8L1628.6 204.8L1629.7 205.8L1630.8 206.8L1632.0 207.8L1633.1 208.8L1634.2 209.8L1635.4 210.8L1636.5 211.7L1637.7 212.7L1638.8 213.7L1640.0 214.6L1641.1 215.6L1642.3 216.6L1643.4 217.5L1644.6 218.5L1645.7 219.4L1646.9 220.4L1648.1 221.3L1649.2 222.3L1650.4 223.3L1651.5 224.2L1652.7 225.2L1653.8 226.1L1655.0 227.1L1656.1 228.1L1657.3 229.0L1658.4 230.0L1659.6 231.0L1660.7 232.0L1661.8 233.0L1663.0 233.9L1664.1 234.9L1665.2 236.0L1666.3 237.0L1667.4 238.0L1668.5 239.0L1669.6 240.0L1670.7 241.1L1671.8 242.1L1672.9 243.2L1673.9 244.2L1675.0 245.3L1676.0 246.4L1677.1 247.4L1678.1 248.5L1679.2 249.6L1680.2 250.7L1681.2 251.8L1682.2 252.9L1683.3 254.0L1684.3 255.1L1685.3 256.2L1686.3 257.3L1687.3 258.4L1688.4 259.5L1689.4 260.6L1690.4 261.7L1691.4 262.9L1692.4 264.0L1693.4 265.1L1694.5 266.2L1695.5 267.3L1696.5 268.3L1697.6 269.4L1698.6 270.5L1699.7 271.6L1700.7 272.7L1701.8 273.7L1702.8 274.8L1703.9 275.8L1705.0 276.9L1706.1 277.9L1707.2 278.9L1708.3 280.0L1709.4 281.0L1710.5 282.0L1711.6 283.0L1712.7 284.0L1713.9 285.0L1715.0 286.0L1716.1 287.0L1717.3 287.9L1718.4 288.9L1719.6 289.9L1720.8 290.8L1721.9 291.8L1723.1 292.7L1724.3 293.6L1725.4 294.6L1726.6 295.5L1727.8 296.4L1729.0 297.3L1730.2 298.2L1731.4 299.1L1732.6 300.0L1733.8 300.9L1735.0 301.8L1736.2 302.7L1737.4 303.6L1738.6 304.5L1739.9 305.4L1741.1 306.3L1742.3 307.2L1743.5 308.0L1744.7 308.9L1745.9 309.8L1747.2 310.7L1748.4 311.5L1749.6 312.4L1750.8 313.3L1752.0 314.2L1753.3 315.1L1754.5 316.0L1755.7 316.8L1756.9 317.7L1758.1 318.6L1759.3 319.5L1760.5 320.4L1761.7 321.3L1763.0 322.2L1764.2 323.0L1765.4 323.9L1766.6 324.8L1767.8 325.7L1769.0 326.6L1770.3 327.5L1771.5 328.3L1772.7 329.2L1773.9 330.1L1775.1 331.0L1776.4 331.8L1777.6 332.7L1778.8 333.5L1780.1 334.4L1781.3 335.3L1782.5 336.1L1783.8 337.0L1785.0 337.8L1786.3 338.6L1787.5 339.5L1788.8 340.3L1790.1 341.1L1791.3 341.9L1792.6 342.7L1793.9 343.5L1795.1 344.3L1796.4 345.1L1797.7 345.9L1799.0 346.7L1800.3 347.4L1801.5 348.2L1802.8 349.0L1804.1 349.8L1805.4 350.6L1806.7 351.3L1808.0 352.1L1809.3 352.9L1810.5 353.7L1811.8 354.5L1813.1 355.3L1814.4 356.1L1815.6 356.9L1816.9 357.7L1818.2 358.5L1819.4 359.3L1820.7 360.1L1821.9 361.0L1823.2 361.8L1824.4 362.7L1825.6 363.5L1826.9 364.4L1828.1 365.3L1829.3 366.2L1830.5 367.1L1831.6 368.0L1832.8 369.0L1834.0 369.9L1835.1 370.9L1836.3 371.9L1837.4 372.8L1838.5 373.8L1839.6 374.8L1840.7 375.9L1841.8 376.9L1842.9 378.0L1844.0 379.0L1845.1 380.1L1846.1 381.1L1847.2 382.2L1848.2 383.3L1849.2 384.4L1850.3 385.5L1851.3 386.6L1852.3 387.7L1853.3 388.8L1854.3 389.9L1855.3 391.1L1856.3 392.2L1857.3 393.3L1858.3 394.4L1859.3 395.6L1860.2 396.7L1861.2 397.9L1862.2 399.0L1863.2 400.1L1864.1 401.3L1865.1 402.4L1866.1 403.6L1867.0 404.7L1868.0 405.9L1869.0 407.1L1869.9 408.2L1870.9 409.4L1871.8 410.5L1872.8 411.7L1873.7 412.8L1874.7 414.0L1875.6 415.2L1876.6 416.3L1877.5 417.5L1878.5 418.7L1879.5 419.8L1880.4 421.0L1881.4 422.1L1882.3 423.3L1883.3 424.5L1884.2 425.6L1885.2 426.8L1886.1 428.0L1887.1 429.1L1888.0 430.3L1889.0 431.4L1889.9 432.6L1890.9 433.8L1891.8 434.9L1892.8 436.1L1893.8 437.2L1894.7 438.4L1895.7 439.5L1896.6 440.7L1897.6 441.8L1898.6 443.0L1899.5 444.1L1900.5 445.3L1901.5 446.4L1902.5 447.6L1903.5 448.7L1904.4 449.8L1905.4 451.0L1906.4 452.1L1907.4 453.2L1908.4 454.4L1909.4 455.5L1910.4 456.6L1911.4 457.8L1912.4 458.9L1913.4 460.0L1914.3 461.1L1915.3 462.3L1916.3 463.4L1917.3 464.5L1918.3 465.7L1919.3 466.8L1920.3 467.9L1921.2 469.1L1922.2 470.2L1923.2 471.4L1924.1 472.5L1925.1 473.7L1926.0 474.9L1927.0 476.0L1927.9 477.2L1928.9 478.4L1929.8 479.5L1930.7 480.7L1931.7 481.9L1932.6 483.1L1933.5 484.3L1934.4 485.5L1935.3 486.7L1936.2 487.9L1937.2 489.1L1938.1 490.3L1939.0 491.5L1939.8 492.7L1940.7 493.9L1941.6 495.1L1942.5 496.3L1943.4 497.5L1944.3 498.7L1945.2 499.9L1946.1 501.2L1946.9 502.4L1947.8 503.6L1948.7 504.8L1949.6 506.1L1950.4 507.3L1951.3 508.5L1952.2 509.7L1953.0 511.0L1953.9 512.2L1954.8 513.4L1955.6 514.6L1956.5 515.9L1957.4 517.1L1958.2 518.3L1959.1 519.6L1959.9 520.8L1960.8 522.0L1961.7 523.3L1962.5 524.5L1963.4 525.7L1964.2 527.0L1965.1 528.2L1966.0 529.4L1966.8 530.7L1967.7 531.9L1968.5 533.1L1969.4 534.3L1970.3 535.6L1971.1 536.8L1972.0 538.0L1972.8 539.3L1973.7 540.5L1974.6 541.7L1975.4 543.0L1976.3 544.2L1977.2 545.4L1978.0 546.6L1978.9 547.9L1979.8 549.1L1980.6 550.3L1981.5 551.5L1982.4 552.8L1983.3 554.0L1984.1 555.2L1985.0 556.4L1985.9 557.6L1986.8 558.8L1987.7 560.1L1988.6 561.3L1989.4 562.5L1990.3 563.7L1991.2 564.9L1992.1 566.1L1993.0 567.3L1993.9 568.6L1994.8 569.8L1995.7 571.0L1996.5 572.2L1997.4 573.4L1998.3 574.6L1999.2 575.8L2000.1 577.0L2001.0 578.2L2001.9 579.4L2002.8 580.6L2003.7 581.8L2004.6 583.0L2005.5 584.2L2006.4 585.4L2007.3 586.6L2008.3 587.8L2009.2 589.0L2010.1 590.2L2011.0 591.4L2011.9 592.6L2012.8 593.8L2013.7 595.0L2014.6 596.2L2015.5 597.4L2016.5 598.6L2017.4 599.8L2018.3 601.0L2019.2 602.1L2020.1 603.3L2021.0 604.5L2022.0 605.7L2022.9 606.9L2023.8 608.1L2024.7 609.3L2025.6 610.5L2026.6 611.6L2027.5 612.8L2028.4 614.0L2029.4 615.2L2030.3 616.4L2031.2 617.6L2032.1 618.7L2033.1 619.9L2034.0 621.1L2034.9 622.3L2035.9 623.5L2036.8 624.6L2037.7 625.8L2038.7 627.0L2039.6 628.2L2040.5 629.3L2041.5 630.5L2042.4 631.7L2043.3 632.9L2044.3 634.0L2045.2 635.2L2046.1 636.4L2047.1 637.6L2048.0 638.7L2049.0 639.9L2049.9 641.1L2050.9 642.2L2051.8 643.4L2052.7 644.6L2053.7 645.8L2054.6 646.9L2055.6 648.1L2056.5 649.3L2057.5 650.4L2058.4 651.6L2059.3 652.8L2060.3 653.9L2061.2 655.1L2062.2 656.3L2063.1 657.4L2064.1 658.6L2065.0 659.8L2066.0 660.9L2066.9 662.1L2067.9 663.3L2068.8 664.4L2069.8 665.6L2070.7 666.8L2071.6 667.9L2072.6 669.1L2073.5 670.3L2074.5 671.4L2075.4 672.6L2076.4 673.8L2077.3 674.9L2078.3 676.1L2079.2 677.3L2080.2 678.4L2081.1 679.6L2082.1 680.8L2083.0 681.9L2084.0 683.1L2084.9 684.3L2085.9 685.4L2086.8 686.6"/>
<path d="M1180.4 833.1L1180.8 831.7L1181.2 830.2L1181.6 828.8L1182.0 827.3L1182.4 825.9L1182.8 824.4L1183.2 823.0L1183.6 821.5L1184.0 820.1L1184.3 818.6L1184.7 817.2L1185.1 815.7L1185.5 814.3L1185.8 812.8L1186.2 811.4L1186.6 809.9L1187.0 808.4L1187.3 807.0L1187.7 805.5L1188.0 804.1L1188.4 802.6L1188.8 801.2L1189.1 799.7L1189.5 798.2L1189.8 796.8L1190.2 795.3L1190.6 793.9L1190.9 792.4L1191.3 790.9L1191.6 789.5L1191.9 788.0L1192.3 786.6L1192.6 785.1L1193.0 783.6L1193.3 782.2L1193.7 780.7L1194.0 779.2L1194.3 777.8L1194.7 776.3L1195.0 774.8L1195.4 773.4L1195.7 771.9L1196.0 770.5L1196.4 769.0L1196.7 767.5L1197.0 766.1L1197.4 764.6L1197.7 763.1L1198.0 761.7L1198.3 760.2L1198.7 758.7L1199.0 757.3L1199.3 755.8L1199.6 754.3L1200.0 752.9L1200.3 751.4L1200.6 749.9L1200.9 748.5L1201.2 747.0L1201.5 745.5L1201.9 744.1L1202.2 742.6L1202.5 741.1L1202.8 739.6L1203.1 738.2L1203.4 736.7L1203.8 735.2L1204.1 733.8L1204.4 732.3L1204.7 730.8L1205.0 729.4L1205.3 727.9L1205.6 726.4L1205.9 724.9L1206.2 723.5L1206.5 722.0L1206.8 720.5L1207.2 719.1L1207.5 717.6L1207.8 716.1L1208.1 714.7L1208.4 713.2L1208.7 711.7L1209.0 710.2L1209.3 708.8L1209.6 707.3L1209.9 705.8L1210.2 704.4L1210.5 702.9L1210.8 701.4L1211.1 699.9L1211.4 698.5L1211.7 697.0L1212.0 695.5L1212.3 694.1L1212.6 692.6L1212.9 691.1L1213.2 689.6L1213.5 688.2L1213.8 686.7L1214.1 685.2L1214.4 683.7L1214.7 682.3L1215.0 680.8L1215.3 679.3L1215.6 677.9L1215.9 676.4L1216.2 674.9L1216.4 673.4L1216.7 672.0L1217.0 670.5L1217.3 669.0L1217.6 667.5L1217.9 666.1L1218.2 664.6L1218.5 663.1L1218.8 661.7L1219.1 660.2L1219.4 658.7L1219.7 657.2L1220.0 655.8L1220.3 654.3L1220.6 652.8L1220.9 651.3L1221.2 649.9L1221.5 648.4L1221.7 646.9L1222.0 645.4L1222.3 644.0L1222.6 642.5L1222.9 641.0L1223.2 639.6L1223.5 638.1L1223.8 636.6L1224.1 635.1L1224.4 633.7L1224.7 632.2L1225.0 630.7L1225.3 629.2L1225.6 627.8L1225.9 626.3L1226.2 624.8L1226.5 623.4L1226.7 621.9L1227.0 620.4L1227.3 618.9L1227.6 617.5L1227.9 616.0L1228.2 614.5L1228.5 613.0L1228.8 611.6L1229.1 610.1L1229.4 608.6L1229.7 607.2L1230.0 605.7L1230.3 604.2L1230.6 602.7L1230.9 601.3L1231.2 599.8L1231.5 598.3L1231.8 596.8L1232.1 595.4L1232.4 593.9L1232.7 592.4L1233.0 591.0L1233.3 589.5L1233.6 588.0L1233.9 586.5L1234.2 585.1L1234.5 583.6L1234.8 582.1L1235.1 580.7L1235.4 579.2L1235.7 577.7L1236.0 576.2L1236.3 574.8L1236.6 573.3L1237.0 571.8L1237.3 570.4L1237.6 568.9L1237.9 567.4L1238.2 566.0L1238.5 564.5L1238.8 563.0L1239.1 561.5L1239.4 560.1L1239.7 558.6L1240.1 557.1L1240.4 555.7L1240.7 554.2L1241.0 552.7L1241.3 551.3L1241.6 549.8L1242.0 548.3L1242.3 546.9L1242.6 545.4L1242.9 543.9L1243.2 542.5L1243.6 541.0L1243.9 539.5L1244.2 538.1L1244.5 536.6L1244.8 535.1L1245.2 533.7L1245.5 532.2L1245.8 530.7L1246.2 529.3L1246.5 527.8L1246.8 526.3L1247.2 524.9L1247.5 523.4L1247.8 521.9L1248.2 520.5L1248.5 519.0L1248.8 517.5L1249.2 516.1L1249.5 514.6L1249.8 513.1L1250.2 511.7L1250.5 510.2L1250.9 508.8L1251.2 507.3L1251.6 505.8L1251.9 504.4L1252.3 502.9L1252.6 501.5L1253.0 500.0L1253.3 498.5L1253.7 497.1L1254.0 495.6L1254.4 494.2L1254.8 492.7L1255.1 491.2L1255.5 489.8L1255.8 488.3L1256.2 486.9L1256.6 485.4L1256.9 484.0L1257.3 482.5L1257.7 481.0L1258.1 479.6L1258.4 478.1L1258.8 476.7L1259.2 475.2L1259.6 473.8L1260.0 472.3L1260.3 470.9L1260.7 469.4L1261.1 468.0L1261.5 466.5L1261.9 465.1L1262.3 463.6L1262.7 462.2L1263.1 460.7L1263.5 459.3L1263.9 457.8L1264.3 456.4L1264.7 454.9L1265.1 453.5L1265.5 452.0L1265.9 450.6L1266.3 449.1L1266.8 447.7L1267.2 446.3L1267.6 444.8L1268.0 443.4L1268.5 441.9L1268.9 440.5L1269.3 439.1L1269.7 437.6L1270.2 436.2L1270.6 434.7L1271.0 433.3L1271.5 431.9L1271.9 430.4L1272.4 429.0L1272.8 427.6L1273.3 426.1L1273.7 424.7L1274.2 423.3L1274.6 421.8L1275.1 420.4L1275.6 419.0L1276.0 417.6L1276.5 416.1L1277.0 414.7L1277.4 413.3L1277.9 411.8L1278.4 410.4L1278.9 409.0L1279.4 407.6L1279.9 406.2L1280.3 404.7L1280.8 403.3L1281.3 401.9L1281.8 400.5L1282.3 399.1L1282.8 397.7L1283.3 396.2L1283.9 394.8L1284.4 393.4L1284.9 392.0L1285.4 390.6L1285.9 389.2L1286.5 387.8L1287.0 386.4L1287.5 385.0L1288.1 383.6L1288.6 382.2L1289.2 380.8L1289.7 379.4L1290.3 378.0L1290.8 376.6L1291.4 375.2L1291.9 373.8L1292.5 372.4L1293.1 371.0L1293.7 369.6L1294.2 368.2L1294.8 366.9L1295.4 365.5L1296.0 364.1L1296.6 362.7L1297.2 361.3L1297.8 360.0L1298.4 358.6L1299.0 357.2L1299.6 355.9L1300.3 354.5L1300.9 353.1L1301.5 351.8L1302.2 350.4L1302.8 349.0L1303.5 347.7L1304.1 346.3L1304.8 345.0L1305.4 343.6L1306.1 342.3L1306.8 340.9L1307.4 339.6L1308.1 338.3L1308.8 336.9L1309.5 335.6L1310.2 334.3L1310.9 333.0L1311.6 331.6L1312.4 330.3L1313.1 329.0L1313.8 327.7L1314.6 326.4L1315.3 325.1L1316.1 323.8L1316.8 322.5L1317.6 321.2L1318.4 319.9L1319.2 318.6L1319.9 317.3L1320.7 316.1L1321.5 314.8L1322.4 313.5L1323.2 312.3L1324.0 311.0L1324.8 309.8L1325.7 308.5L1326.5 307.3L1327.4 306.1L1328.3 304.8L1329.1 303.6L1330.0 302.4L1330.9 301.2L1331.8 300.0L1332.7 298.8L1333.7 297.6L1334.6 296.4L1335.5 295.3L1336.5 294.1L1337.4 292.9L1338.4 291.8L1339.3 290.6L1340.3 289.5L1341.3 288.3L1342.3 287.2L1343.2 286.1L1344.2 284.9L1345.2 283.8L1346.3 282.7L1347.3 281.6L1348.3 280.5L1349.3 279.4L1350.4 278.3L1351.4 277.2L1352.4 276.1L1353.5 275.1L1354.5 274.0L1355.6 272.9L1356.6 271.9L1357.7 270.8L1358.8 269.7L1359.8 268.7L1360.9 267.6L1362.0 266.6L1363.1 265.5L1364.1 264.5L1365.2 263.4L1366.3 262.4L1367.4 261.3L1368.5 260.3L1369.5 259.3L1370.6 258.2L1371.7 257.2L1372.8 256.1L1373.9 255.1L1374.9 254.0L1376.0 253.0L1377.1 251.9L1378.2 250.9L1379.2 249.8L1380.3 248.8L1381.4 247.7L1382.5 246.7L1383.5 245.6L1384.6 244.5L1385.6 243.5L1386.7 242.4L1387.7 241.3L1388.8 240.2L1389.8 239.2L1390.8 238.1L1391.9 237.0L1392.9 235.9L1393.9 234.8L1394.9 233.7L1396.0 232.6L1397.0 231.5L1398.0 230.4L1399.0 229.3L1400.0 228.2L1401.0 227.0L1402.1 225.9L1403.1 224.8L1404.1 223.7L1405.1 222.6L1406.1 221.5L1407.1 220.4L1408.1 219.3L1409.2 218.2L1410.2 217.1L1411.2 216.0L1412.2 214.9L1413.3 213.8L1414.3 212.7L1415.3 211.6L1416.4 210.5L1417.4 209.4L1418.5 208.4L1419.5 207.3L1420.6 206.2L1421.6 205.2L1422.7 204.1L1423.8 203.1L1424.9 202.0L1425.9 201.0L1427.0 200.0L1428.1 198.9L1429.2 197.9L1430.4 196.9L1431.5 195.9L1432.6 194.9L1433.8 194.0L1434.9 193.0L1436.1 192.1L1437.3 191.1L1438.5 190.2L1439.7 189.3L1440.9 188.4L1442.1 187.6L1443.3 186.7L1444.6 185.9L1445.8 185.0L1447.1 184.2L1448.4 183.5L1449.7 182.7L1451.0 182.0L1452.3 181.2L1453.6 180.5L1455.0 179.8L1456.3 179.2L1457.7 178.5L1459.1 177.9L1460.4 177.3L1461.8 176.8L1463.2 176.2L1464.6 175.7L1466.1 175.2L1467.5 174.8L1468.9 174.3L1470.4 173.9L1471.8 173.5L1473.3 173.2L1474.7 172.8L1476.2 172.5L1477.7 172.3L1479.2 172.0L1480.7 171.8L1482.2 171.6L1483.6 171.4L1485.1 171.3L1486.6 171.2L1488.1 171.1L1489.6 171.1L1491.1 171.1L1492.6 171.1L1494.2 171.1L1495.7 171.2L1497.2 171.3L1498.6 171.4L1500.1 171.6L1501.6 171.8L1503.1 172.0L1504.6 172.2L1506.1 172.5L1507.6 172.7L1509.0 173.0L1510.5 173.4L1512.0 173.7L1513.4 174.1L1514.9 174.5L1516.3 174.9L1517.7 175.4L1519.2 175.8L1520.6 176.3L1522.0 176.8L1523.4 177.3L1524.8 177.9L1526.2 178.4L1527.6 179.0L1529.0 179.6L1530.4 180.2L1531.7 180.8L1533.1 181.5L1534.4 182.1L1535.8 182.8L1537.1 183.5L1538.4 184.2L1539.8 184.9L1541.1 185.6L1542.4 186.4L1543.7 187.1L1545.0 187.9L1546.2 188.7L1547.5 189.5L1548.8 190.3L1550.1 191.1L1551.3 191.9L1552.6 192.8L1553.8 193.6L1555.0 194.4L1556.3 195.3L1557.5 196.2L1558.7 197.1L1559.9 197.9L1561.1 198.8L1562.4 199.7L1563.6 200.6L1564.8 201.5L1566.0 202.4L1567.2 203.3L1568.4 204.2L1569.5 205.2L1570.7 206.1L1571.9 207.0L1573.1 207.9L1574.3 208.8L1575.5 209.8L1576.7 210.7L1577.8 211.6L1579.0 212.6L1580.2 213.5L1581.4 214.4L1582.6 215.3L1583.7 216.3L1584.9 217.2L1586.1 218.1L1587.3 219.0L1588.5 219.9L1589.7 220.9L1590.9 221.8L1592.1 222.7L1593.3 223.6L1594.5 224.5L1595.7 225.4L1596.9 226.3L1598.1 227.2L1599.3 228.0L1600.5 228.9L1601.8 229.8L1603.0 230.6L1604.2 231.5L1605.5 232.4L1606.7 233.2L1608.0 234.0L1609.2 234.9L1610.5 235.7L1611.7 236.5L1613.0 237.3L1614.3 238.1L1615.5 238.9L1616.8 239.7L1618.1 240.5L1619.4 241.3L1620.6 242.1L1621.9 242.9L1623.2 243.6L1624.5 244.4L1625.8 245.2L1627.1 245.9L1628.4 246.7L1629.7 247.5L1631.0 248.2L1632.3 249.0L1633.6 249.7L1634.9 250.5L1636.2 251.2L1637.5 252.0L1638.8 252.7L1640.1 253.5L1641.4 254.2L1642.7 255.0L1644.0 255.7L1645.3 256.4L1646.6 257.2L1647.9 257.9L1649.2 258.7L1650.5 259.4L1651.8 260.2L1653.1 261.0L1654.4 261.7L1655.7 262.5L1657.0 263.2L1658.3 264.0L1659.6 264.8L1660.9 265.5L1662.2 266.3L1663.4 267.1L1664.7 267.9L1666.0 268.6L1667.3 269.4L1668.6 270.2L1669.9 271.0L1671.2 271.8L1672.4 272.5L1673.7 273.3L1675.0 274.1L1676.3 274.9L1677.5 275.7L1678.8 276.5L1680.1 277.3L1681.4 278.1L1682.6 278.9L1683.9 279.7L1685.2 280.5L1686.5 281.3L1687.7 282.1L1689.0 282.9L1690.3 283.7L1691.5 284.5L1692.8 285.3L1694.0 286.1L1695.3 287.0L1696.6 287.8L1697.8 288.6L1699.1 289.4L1700.3 290.2L1701.6 291.1L1702.9 291.9L1704.1 292.7L1705.4 293.5L1706.6 294.4L1707.9 295.2L1709.1 296.0L1710.4 296.9L1711.6 297.7L1712.9 298.5L1714.1 299.4L1715.4 300.2L1716.6 301.0L1717.9 301.9L1719.1 302.7L1720.3 303.6L1721.6 304.4L1722.8 305.3L1724.1 306.1L1725.3 307.0L1726.5 307.8L1727.8 308.7L1729.0 309.5L1730.2 310.4L1731.5 311.2L1732.7 312.1L1733.9 313.0L1735.2 313.8L1736.4 314.7L1737.6 315.6L1738.9 316.4L1740.1 317.3L1741.3 318.2L1742.5 319.0L1743.8 319.9L1745.0 320.8L1746.2 321.6L1747.4 322.5L1748.6 323.4L1749.9 324.3L1751.1 325.1L1752.3 326.0L1753.5 326.9L1754.7 327.8L1755.9 328.7L1757.2 329.5L1758.4 330.4L1759.6 331.3L1760.8 332.2L1762.0 333.1L1763.2 334.0L1764.4 334.9L1765.6 335.8L1766.8 336.7L1768.1 337.6L1769.3 338.5L1770.5 339.4L1771.7 340.3L1772.9 341.2L1774.1 342.1L1775.3 343.0L1776.5 343.9L1777.7 344.8L1778.9 345.7L1780.0 346.6L1781.2 347.5L1782.4 348.4L1783.6 349.4L1784.8 350.3L1786.0 351.2L1787.2 352.1L1788.3 353.1L1789.5 354.0L1790.7 355.0L1791.8 355.9L1793.0 356.8L1794.2 357.8L1795.3 358.7L1796.5 359.7L1797.7 360.7L1798.8 361.6L1800.0 362.6L1801.1 363.6L1802.3 364.5L1803.4 365.5L1804.5 366.5L1805.7 367.5L1806.8 368.4L1807.9 369.4L1809.1 370.4L1810.2 371.4L1811.3 372.4L1812.4 373.4L1813.5 374.4L1814.6 375.5L1815.8 376.5L1816.9 377.5L1818.0 378.5L1819.1 379.5L1820.1 380.6L1821.2 381.6L1822.3 382.6L1823.4 383.7L1824.5 384.7L1825.6 385.8L1826.6 386.8L1827.7 387.9L1828.8 389.0L1829.8 390.0L1830.9 391.1L1831.9 392.2L1833.0 393.2L1834.0 394.3L1835.1 395.4L1836.1 396.5L1837.1 397.6L1838.2 398.7L1839.2 399.8L1840.2 400.8L1841.3 401.9L1842.3 403.0L1843.3 404.2L1844.3 405.3L1845.3 406.4L1846.3 407.5L1847.3 408.6L1848.3 409.7L1849.3 410.8L1850.3 412.0L1851.3 413.1L1852.3 414.2L1853.3 415.3L1854.3 416.5L1855.3 417.6L1856.3 418.7L1857.3 419.9L1858.2 421.0L1859.2 422.2L1860.2 423.3L1861.2 424.4L1862.1 425.6L1863.1 426.7L1864.1 427.9L1865.0 429.0L1866.0 430.2L1867.0 431.4L1867.9 432.5L1868.9 433.7L1869.8 434.8L1870.8 436.0L1871.7 437.2L1872.7 438.3L1873.6 439.5L1874.6 440.7L1875.5 441.8L1876.4 443.0L1877.4 444.2L1878.3 445.4L1879.2 446.5L1880.2 447.7L1881.1 448.9L1882.0 450.1L1883.0 451.2L1883.9 452.4L1884.8 453.6L1885.7 454.8L1886.7 456.0L1887.6 457.2L1888.5 458.4L1889.4 459.5L1890.3 460.7L1891.3 461.9L1892.2 463.1L1893.1 464.3L1894.0 465.5L1894.9 466.7L1895.8 467.9L1896.8 469.1L1897.7 470.3L1898.6 471.5L1899.5 472.6L1900.4 473.8L1901.3 475.0L1902.2 476.2L1903.1 477.4L1904.1 478.6L1905.0 479.8L1905.9 481.0L1906.8 482.2L1907.7 483.4L1908.6 484.6L1909.5 485.8L1910.4 487.0L1911.4 488.2L1912.3 489.4L1913.2 490.5L1914.1 491.7L1915.0 492.9L1915.9 494.1L1916.8 495.3L1917.8 496.5L1918.7 497.7L1919.6 498.9L1920.5 500.1L1921.4 501.2L1922.4 502.4L1923.3 503.6L1924.2 504.8L1925.1 506.0L1926.1 507.2L1927.0 508.3L1927.9 509.5L1928.9 510.7L1929.8 511.9L1930.7 513.1L1931.7 514.2L1932.6 515.4L1933.5 516.6L1934.5 517.7L1935.4 518.9L1936.4 520.1L1937.3 521.2L1938.3 522.4L1939.2 523.6L1940.2 524.7L1941.1 525.9L1942.1 527.0L1943.1 528.2L1944.0 529.3L1945.0 530.5L1946.0 531.6L1947.0 532.8L1947.9 533.9L1948.9 535.1L1949.9 536.2L1950.9 537.3L1951.9 538.5L1952.8 539.6L1953.8 540.7L1954.8 541.9L1955.8 543.0L1956.8 544.1L1957.8 545.2L1958.8 546.3L1959.8 547.5L1960.8 548.6L1961.8 549.7L1962.8 550.8L1963.9 551.9L1964.9 553.0L1965.9 554.1L1966.9 555.2L1967.9 556.3L1969.0 557.4L1970.0 558.5L1971.0 559.6L1972.0 560.7L1973.1 561.8L1974.1 562.9L1975.1 564.0L1976.2 565.1L1977.2 566.2L1978.2 567.3L1979.3 568.4L1980.3 569.4L1981.4 570.5L1982.4 571.6L1983.4 572.7L1984.5 573.8L1985.5 574.8L1986.6 575.9L1987.6 577.0L1988.7 578.1L1989.7 579.1L1990.8 580.2L1991.8 581.3L1992.9 582.3L1994.0 583.4L1995.0 584.5L1996.1 585.5L1997.1 586.6L1998.2 587.7L1999.3 588.7L2000.3 589.8L2001.4 590.9L2002.4 591.9L2003.5 593.0L2004.5 594.1L2005.6 595.1L2006.7 596.2L2007.7 597.3L2008.8 598.3L2009.8 599.4L2010.9 600.5L2012.0 601.5L2013.0 602.6L2014.1 603.7L2015.1 604.7L2016.2 605.8L2017.2 606.9L2018.3 608.0L2019.3 609.0L2020.4 610.1L2021.4 611.2L2022.4 612.3L2023.5 613.4L2024.5 614.4L2025.6 615.5L2026.6 616.6L2027.6 617.7L2028.7 618.8L2029.7 619.9L2030.7 621.0L2031.7 622.1L2032.8 623.2L2033.8 624.3L2034.8 625.4L2035.8 626.5L2036.8 627.6L2037.8 628.7L2038.8 629.8L2039.8 631.0L2040.8 632.1L2041.8 633.2L2042.8 634.3L2043.8 635.5L2044.8 636.6L2045.8 637.7L2046.8 638.9L2047.8 640.0L2048.7 641.1L2049.7 642.3L2050.7 643.4L2051.7 644.6L2052.6 645.7L2053.6 646.9L2054.5 648.0L2055.5 649.2L2056.5 650.4L2057.4 651.5L2058.3 652.7L2059.3 653.9L2060.2 655.0L2061.2 656.2L2062.1 657.4L2063.0 658.6L2063.9 659.8L2064.9 660.9L2065.8 662.1L2066.7 663.3L2067.6 664.5L2068.5 665.7L2069.4 666.9L2070.3 668.1L2071.2 669.3L2072.1 670.5L2073.0 671.7L2073.9 673.0L2074.8 674.2L2075.7 675.4L2076.5 676.6L2077.4 677.8L2078.3 679.1L2079.1 680.3L2080.0 681.5L2080.9 682.7L2081.7 684.0L2082.6 685.2L2083.4 686.4L2084.3 687.7L2085.1 688.9L2086.0 690.2L2086.8 691.4"/>
<path d="M1181.0 834.1L1181.3 832.6L1181.7 831.2L1182.0 829.7L1182.4 828.3L1182.7 826.8L1183.1 825.3L1183.4 823.9L1183.8 822.4L1184.1 821.0L1184.5 819.5L1184.8 818.0L1185.2 816.6L1185.5 815.1L1185.9 813.7L1186.2 812.2L1186.6 810.7L1186.9 809.3L1187.3 807.8L1187.6 806.3L1188.0 804.9L1188.3 803.4L1188.7 802.0L1189.0 800.5L1189.4 799.0L1189.7 797.6L1190.1 796.1L1190.4 794.7L1190.8 793.2L1191.1 791.7L1191.5 790.3L1191.8 788.8L1192.2 787.4L1192.5 785.9L1192.9 784.4L1193.2 783.0L1193.6 781.5L1193.9 780.0L1194.3 778.6L1194.6 777.1L1195.0 775.7L1195.3 774.2L1195.7 772.7L1196.0 771.3L1196.3 769.8L1196.7 768.4L1197.0 766.9L1197.4 765.4L1197.7 764.0L1198.1 762.5L1198.4 761.0L1198.8 759.6L1199.1 758.1L1199.5 756.7L1199.8 755.2L1200.2 753.7L1200.5 752.3L1200.8 750.8L1201.2 749.3L1201.5 747.9L1201.9 746.4L1202.2 745.0L1202.6 743.5L1202.9 742.0L1203.3 740.6L1203.6 739.1L1203.9 737.6L1204.3 736.2L1204.6 734.7L1205.0 733.3L1205.3 731.8L1205.6 730.3L1206.0 728.9L1206.3 727.4L1206.7 725.9L1207.0 724.5L1207.4 723.0L1207.7 721.6L1208.0 720.1L1208.4 718.6L1208.7 717.2L1209.1 715.7L1209.4 714.2L1209.7 712.8L1210.1 711.3L1210.4 709.8L1210.7 708.4L1211.1 706.9L1211.4 705.5L1211.8 704.0L1212.1 702.5L1212.4 701.1L1212.8 699.6L1213.1 698.1L1213.4 696.7L1213.8 695.2L1214.1 693.7L1214.5 692.3L1214.8 690.8L1215.1 689.3L1215.5 687.9L1215.8 686.4L1216.1 684.9L1216.5 683.5L1216.8 682.0L1217.1 680.6L1217.5 679.1L1217.8 677.6L1218.1 676.2L1218.4 674.7L1218.8 673.2L1219.1 671.8L1219.4 670.3L1219.8 668.8L1220.1 667.4L1220.4 665.9L1220.8 664.4L1221.1 663.0L1221.4 661.5L1221.7 660.0L1222.1 658.6L1222.4 657.1L1222.7 655.6L1223.1 654.2L1223.4 652.7L1223.7 651.2L1224.0 649.8L1224.4 648.3L1224.7 646.8L1225.0 645.4L1225.3 643.9L1225.7 642.4L1226.0 641.0L1226.3 639.5L1226.6 638.0L1227.0 636.6L1227.3 635.1L1227.6 633.6L1227.9 632.2L1228.2 630.7L1228.6 629.2L1228.9 627.8L1229.2 626.3L1229.5 624.8L1229.8 623.4L1230.2 621.9L1230.5 620.4L1230.8 619.0L1231.1 617.5L1231.4 616.0L1231.7 614.5L1232.1 613.1L1232.4 611.6L1232.7 610.1L1233.0 608.7L1233.3 607.2L1233.6 605.7L1234.0 604.3L1234.3 602.8L1234.6 601.3L1234.9 599.9L1235.2 598.4L1235.5 596.9L1235.8 595.4L1236.1 594.0L1236.5 592.5L1236.8 591.0L1237.1 589.6L1237.4 588.1L1237.7 586.6L1238.0 585.2L1238.3 583.7L1238.6 582.2L1238.9 580.8L1239.3 579.3L1239.6 577.8L1239.9 576.3L1240.2 574.9L1240.5 573.4L1240.8 571.9L1241.1 570.5L1241.4 569.0L1241.7 567.5L1242.1 566.1L1242.4 564.6L1242.7 563.1L1243.0 561.6L1243.3 560.2L1243.6 558.7L1243.9 557.2L1244.3 555.8L1244.6 554.3L1244.9 552.8L1245.2 551.4L1245.5 549.9L1245.9 548.4L1246.2 547.0L1246.5 545.5L1246.8 544.0L1247.1 542.6L1247.5 541.1L1247.8 539.6L1248.1 538.2L1248.4 536.7L1248.8 535.2L1249.1 533.8L1249.4 532.3L1249.8 530.8L1250.1 529.4L1250.4 527.9L1250.8 526.4L1251.1 525.0L1251.4 523.5L1251.8 522.0L1252.1 520.6L1252.5 519.1L1252.8 517.7L1253.2 516.2L1253.5 514.7L1253.9 513.3L1254.2 511.8L1254.6 510.4L1254.9 508.9L1255.3 507.4L1255.7 506.0L1256.0 504.5L1256.4 503.1L1256.8 501.6L1257.1 500.2L1257.5 498.7L1257.9 497.2L1258.3 495.8L1258.7 494.3L1259.1 492.9L1259.4 491.4L1259.8 490.0L1260.2 488.5L1260.6 487.1L1261.0 485.6L1261.5 484.2L1261.9 482.8L1262.3 481.3L1262.7 479.9L1263.1 478.4L1263.6 477.0L1264.0 475.5L1264.4 474.1L1264.9 472.7L1265.3 471.2L1265.8 469.8L1266.2 468.4L1266.7 466.9L1267.1 465.5L1267.6 464.1L1268.1 462.7L1268.6 461.2L1269.0 459.8L1269.5 458.4L1270.0 457.0L1270.5 455.6L1271.0 454.1L1271.5 452.7L1272.0 451.3L1272.6 449.9L1273.1 448.5L1273.6 447.1L1274.1 445.7L1274.7 444.3L1275.2 442.9L1275.8 441.5L1276.3 440.1L1276.9 438.7L1277.5 437.3L1278.0 435.9L1278.6 434.5L1279.2 433.1L1279.8 431.8L1280.4 430.4L1281.0 429.0L1281.6 427.6L1282.2 426.3L1282.8 424.9L1283.4 423.5L1284.1 422.2L1284.7 420.8L1285.4 419.4L1286.0 418.1L1286.7 416.7L1287.4 415.4L1288.0 414.1L1288.7 412.7L1289.4 411.4L1290.1 410.1L1290.8 408.7L1291.5 407.4L1292.2 406.1L1292.9 404.8L1293.7 403.4L1294.4 402.1L1295.2 400.8L1295.9 399.5L1296.7 398.2L1297.4 396.9L1298.2 395.7L1299.0 394.4L1299.8 393.1L1300.6 391.8L1301.4 390.6L1302.2 389.3L1303.0 388.0L1303.8 386.8L1304.7 385.5L1305.5 384.3L1306.4 383.0L1307.2 381.8L1308.1 380.6L1309.0 379.4L1309.8 378.1L1310.7 376.9L1311.6 375.7L1312.5 374.5L1313.4 373.3L1314.4 372.1L1315.3 370.9L1316.2 369.8L1317.1 368.6L1318.1 367.4L1319.0 366.3L1320.0 365.1L1321.0 364.0L1321.9 362.8L1322.9 361.7L1323.9 360.5L1324.9 359.4L1325.9 358.3L1326.9 357.1L1327.9 356.0L1328.9 354.9L1329.9 353.8L1330.9 352.7L1331.9 351.6L1333.0 350.5L1334.0 349.4L1335.1 348.4L1336.1 347.3L1337.2 346.2L1338.2 345.1L1339.3 344.1L1340.3 343.0L1341.4 341.9L1342.4 340.9L1343.5 339.8L1344.6 338.8L1345.7 337.7L1346.7 336.7L1347.8 335.6L1348.9 334.6L1350.0 333.5L1351.1 332.5L1352.1 331.4L1353.2 330.4L1354.3 329.4L1355.4 328.3L1356.5 327.3L1357.6 326.2L1358.6 325.2L1359.7 324.2L1360.8 323.1L1361.9 322.1L1363.0 321.0L1364.0 320.0L1365.1 318.9L1366.2 317.9L1367.3 316.8L1368.4 315.8L1369.4 314.7L1370.5 313.7L1371.6 312.6L1372.7 311.6L1373.7 310.5L1374.8 309.5L1375.9 308.5L1377.0 307.4L1378.0 306.4L1379.1 305.3L1380.2 304.3L1381.3 303.2L1382.4 302.2L1383.4 301.1L1384.5 300.1L1385.6 299.1L1386.7 298.0L1387.8 297.0L1388.9 295.9L1390.0 294.9L1391.1 293.9L1392.2 292.9L1393.3 291.8L1394.4 290.8L1395.5 289.8L1396.6 288.8L1397.7 287.8L1398.8 286.8L1399.9 285.8L1401.0 284.8L1402.2 283.8L1403.3 282.8L1404.4 281.8L1405.6 280.8L1406.7 279.8L1407.8 278.8L1409.0 277.9L1410.1 276.9L1411.3 276.0L1412.5 275.0L1413.6 274.1L1414.8 273.1L1416.0 272.2L1417.2 271.3L1418.4 270.3L1419.5 269.4L1420.7 268.5L1422.0 267.6L1423.2 266.8L1424.4 265.9L1425.6 265.0L1426.9 264.2L1428.1 263.3L1429.3 262.5L1430.6 261.6L1431.9 260.8L1433.1 260.0L1434.4 259.2L1435.7 258.5L1437.0 257.7L1438.3 257.0L1439.6 256.2L1440.9 255.5L1442.3 254.8L1443.6 254.1L1444.9 253.5L1446.3 252.8L1447.7 252.2L1449.0 251.5L1450.4 251.0L1451.8 250.4L1453.2 249.8L1454.6 249.3L1456.0 248.8L1457.4 248.3L1458.9 247.8L1460.3 247.4L1461.7 247.0L1463.2 246.6L1464.6 246.2L1466.1 245.9L1467.6 245.6L1469.1 245.3L1470.5 245.0L1472.0 244.8L1473.5 244.6L1475.0 244.4L1476.5 244.2L1478.0 244.1L1479.5 244.0L1481.0 243.9L1482.5 243.9L1484.0 243.8L1485.5 243.8L1487.0 243.8L1488.5 243.9L1490.0 243.9L1491.5 244.0L1493.0 244.1L1494.5 244.2L1496.0 244.4L1497.5 244.5L1499.0 244.7L1500.5 244.9L1501.9 245.2L1503.4 245.4L1504.9 245.7L1506.4 245.9L1507.9 246.2L1509.3 246.5L1510.8 246.9L1512.3 247.2L1513.7 247.6L1515.2 248.0L1516.6 248.4L1518.1 248.8L1519.5 249.2L1520.9 249.6L1522.4 250.1L1523.8 250.5L1525.2 251.0L1526.7 251.5L1528.1 252.0L1529.5 252.5L1530.9 253.0L1532.3 253.6L1533.7 254.1L1535.1 254.7L1536.5 255.2L1537.9 255.8L1539.3 256.4L1540.6 257.0L1542.0 257.6L1543.4 258.2L1544.7 258.8L1546.1 259.5L1547.5 260.1L1548.8 260.7L1550.2 261.4L1551.5 262.1L1552.9 262.7L1554.2 263.4L1555.5 264.1L1556.9 264.8L1558.2 265.5L1559.5 266.2L1560.9 266.9L1562.2 267.6L1563.5 268.3L1564.8 269.1L1566.1 269.8L1567.4 270.6L1568.7 271.3L1570.0 272.1L1571.3 272.8L1572.6 273.6L1573.9 274.3L1575.2 275.1L1576.5 275.9L1577.8 276.7L1579.0 277.5L1580.3 278.3L1581.6 279.0L1582.9 279.8L1584.1 280.6L1585.4 281.4L1586.7 282.3L1588.0 283.1L1589.2 283.9L1590.5 284.7L1591.8 285.5L1593.0 286.3L1594.3 287.1L1595.5 287.9L1596.8 288.7L1598.1 289.5L1599.3 290.3L1600.6 291.2L1601.9 292.0L1603.1 292.8L1604.4 293.6L1605.7 294.4L1607.0 295.2L1608.2 296.0L1609.5 296.8L1610.8 297.6L1612.1 298.3L1613.3 299.1L1614.6 299.9L1615.9 300.7L1617.2 301.5L1618.5 302.2L1619.8 303.0L1621.1 303.7L1622.4 304.5L1623.7 305.2L1625.0 306.0L1626.3 306.7L1627.6 307.4L1629.0 308.1L1630.3 308.8L1631.6 309.5L1633.0 310.2L1634.3 310.9L1635.6 311.6L1636.9 312.3L1638.3 313.0L1639.6 313.7L1640.9 314.4L1642.3 315.1L1643.6 315.8L1644.9 316.6L1646.2 317.3L1647.5 318.0L1648.8 318.8L1650.1 319.5L1651.4 320.3L1652.7 321.1L1654.0 321.8L1655.3 322.6L1656.5 323.4L1657.8 324.2L1659.1 325.1L1660.3 325.9L1661.6 326.7L1662.8 327.6L1664.0 328.4L1665.3 329.3L1666.5 330.1L1667.7 331.0L1668.9 331.9L1670.2 332.8L1671.4 333.7L1672.6 334.6L1673.8 335.5L1675.0 336.4L1676.2 337.3L1677.4 338.2L1678.6 339.1L1679.7 340.0L1680.9 341.0L1682.1 341.9L1683.3 342.8L1684.5 343.8L1685.6 344.7L1686.8 345.6L1688.0 346.6L1689.1 347.5L1690.3 348.5L1691.5 349.4L1692.6 350.4L1693.8 351.4L1694.9 352.3L1696.1 353.3L1697.3 354.2L1698.4 355.2L1699.6 356.1L1700.7 357.1L1701.9 358.1L1703.0 359.0L1704.2 360.0L1705.3 361.0L1706.5 361.9L1707.6 362.9L1708.8 363.8L1709.9 364.8L1711.1 365.8L1712.3 366.7L1713.4 367.7L1714.6 368.6L1715.7 369.6L1716.9 370.6L1718.1 371.5L1719.2 372.5L1720.4 373.4L1721.5 374.4L1722.7 375.3L1723.9 376.2L1725.1 377.2L1726.2 378.1L1727.4 379.1L1728.6 380.0L1729.8 380.9L1731.0 381.8L1732.1 382.7L1733.3 383.7L1734.5 384.6L1735.7 385.5L1736.9 386.4L1738.1 387.3L1739.4 388.2L1740.6 389.0L1741.8 389.9L1743.0 390.8L1744.3 391.6L1745.5 392.5L1746.7 393.3L1748.0 394.2L1749.2 395.0L1750.5 395.9L1751.7 396.7L1753.0 397.5L1754.2 398.3L1755.5 399.2L1756.8 400.0L1758.0 400.8L1759.3 401.6L1760.6 402.4L1761.8 403.2L1763.1 404.0L1764.4 404.8L1765.7 405.5L1767.0 406.3L1768.2 407.1L1769.5 407.9L1770.8 408.7L1772.1 409.5L1773.4 410.2L1774.7 411.0L1776.0 411.8L1777.2 412.6L1778.5 413.3L1779.8 414.1L1781.1 414.9L1782.4 415.7L1783.7 416.4L1784.9 417.2L1786.2 418.0L1787.5 418.8L1788.8 419.6L1790.1 420.4L1791.3 421.2L1792.6 422.0L1793.9 422.8L1795.2 423.6L1796.4 424.4L1797.7 425.2L1798.9 426.0L1800.2 426.8L1801.5 427.6L1802.7 428.5L1804.0 429.3L1805.2 430.1L1806.5 431.0L1807.7 431.8L1809.0 432.6L1810.2 433.5L1811.5 434.3L1812.7 435.2L1813.9 436.0L1815.2 436.9L1816.4 437.8L1817.6 438.6L1818.8 439.5L1820.1 440.4L1821.3 441.2L1822.5 442.1L1823.7 443.0L1824.9 443.9L1826.1 444.8L1827.3 445.7L1828.6 446.6L1829.8 447.5L1831.0 448.4L1832.1 449.3L1833.3 450.2L1834.5 451.1L1835.7 452.0L1836.9 453.0L1838.1 453.9L1839.3 454.8L1840.4 455.8L1841.6 456.7L1842.8 457.6L1844.0 458.6L1845.1 459.5L1846.3 460.5L1847.4 461.4L1848.6 462.4L1849.7 463.4L1850.9 464.3L1852.0 465.3L1853.2 466.3L1854.3 467.3L1855.5 468.2L1856.6 469.2L1857.7 470.2L1858.9 471.2L1860.0 472.2L1861.1 473.2L1862.2 474.2L1863.3 475.2L1864.5 476.2L1865.6 477.2L1866.7 478.2L1867.8 479.3L1868.9 480.3L1870.0 481.3L1871.1 482.3L1872.2 483.4L1873.3 484.4L1874.3 485.4L1875.4 486.5L1876.5 487.5L1877.6 488.6L1878.7 489.6L1879.7 490.7L1880.8 491.7L1881.9 492.8L1882.9 493.8L1884.0 494.9L1885.1 496.0L1886.1 497.0L1887.2 498.1L1888.2 499.2L1889.3 500.3L1890.3 501.4L1891.3 502.4L1892.4 503.5L1893.4 504.6L1894.4 505.7L1895.5 506.8L1896.5 507.9L1897.5 509.0L1898.5 510.1L1899.5 511.2L1900.5 512.3L1901.6 513.5L1902.6 514.6L1903.6 515.7L1904.6 516.8L1905.5 517.9L1906.5 519.1L1907.5 520.2L1908.5 521.3L1909.5 522.5L1910.5 523.6L1911.4 524.8L1912.4 525.9L1913.4 527.1L1914.3 528.2L1915.3 529.4L1916.2 530.5L1917.2 531.7L1918.1 532.9L1919.1 534.0L1920.0 535.2L1921.0 536.4L1921.9 537.6L1922.8 538.7L1923.8 539.9L1924.7 541.1L1925.6 542.3L1926.6 543.5L1927.5 544.6L1928.4 545.8L1929.3 547.0L1930.3 548.2L1931.2 549.4L1932.1 550.6L1933.0 551.8L1933.9 553.0L1934.8 554.1L1935.7 555.3L1936.7 556.5L1937.6 557.7L1938.5 558.9L1939.4 560.1L1940.3 561.3L1941.2 562.5L1942.1 563.7L1943.0 564.9L1944.0 566.1L1944.9 567.3L1945.8 568.5L1946.7 569.7L1947.6 570.9L1948.5 572.1L1949.4 573.2L1950.3 574.4L1951.3 575.6L1952.2 576.8L1953.1 578.0L1954.0 579.2L1954.9 580.4L1955.9 581.6L1956.8 582.8L1957.7 583.9L1958.6 585.1L1959.6 586.3L1960.5 587.5L1961.4 588.7L1962.4 589.8L1963.3 591.0L1964.2 592.2L1965.2 593.4L1966.1 594.5L1967.1 595.7L1968.0 596.9L1968.9 598.0L1969.9 599.2L1970.9 600.4L1971.8 601.5L1972.8 602.7L1973.7 603.8L1974.7 605.0L1975.7 606.1L1976.6 607.3L1977.6 608.4L1978.6 609.6L1979.6 610.7L1980.5 611.9L1981.5 613.0L1982.5 614.1L1983.5 615.3L1984.5 616.4L1985.4 617.5L1986.4 618.7L1987.4 619.8L1988.4 620.9L1989.4 622.0L1990.4 623.2L1991.4 624.3L1992.4 625.4L1993.4 626.5L1994.4 627.7L1995.4 628.8L1996.4 629.9L1997.4 631.0L1998.4 632.1L1999.4 633.3L2000.4 634.4L2001.4 635.5L2002.5 636.6L2003.5 637.7L2004.5 638.8L2005.5 639.9L2006.5 641.0L2007.5 642.1L2008.6 643.2L2009.6 644.3L2010.6 645.4L2011.6 646.5L2012.7 647.6L2013.7 648.7L2014.7 649.8L2015.8 650.9L2016.8 652.0L2017.8 653.0L2018.9 654.1L2019.9 655.2L2021.0 656.3L2022.0 657.4L2023.1 658.4L2024.1 659.5L2025.2 660.6L2026.2 661.7L2027.3 662.7L2028.3 663.8L2029.4 664.9L2030.5 665.9L2031.5 667.0L2032.6 668.0L2033.7 669.1L2034.7 670.2L2035.8 671.2L2036.9 672.3L2038.0 673.3L2039.0 674.3L2040.1 675.4L2041.2 676.4L2042.3 677.5L2043.4 678.5L2044.5 679.5L2045.6 680.6L2046.7 681.6L2047.8 682.6L2048.9 683.6L2050.0 684.7L2051.1 685.7L2052.2 686.7L2053.3 687.7L2054.4 688.7L2055.5 689.7L2056.6 690.7L2057.8 691.7L2058.9 692.7L2060.0 693.7L2061.1 694.7L2062.3 695.7L2063.4 696.7L2064.6 697.6L2065.7 698.6L2066.8 699.6L2068.0 700.6L2069.1 701.5L2070.3 702.5L2071.5 703.4L2072.6 704.4L2073.8 705.4L2074.9 706.3L2076.1 707.2L2077.3 708.2L2078.5 709.1L2079.6 710.0L2080.8 711.0L2082.0 711.9L2083.2 712.8L2084.4 713.7L2085.6 714.6L2086.8 715.5"/>
<path d="M1181.5 834.2L1181.9 832.8L1182.2 831.3L1182.6 829.9L1183.0 828.4L1183.4 827.0L1183.8 825.5L1184.2 824.1L1184.6 822.6L1185.0 821.2L1185.4 819.7L1185.8 818.3L1186.1 816.8L1186.5 815.4L1186.9 813.9L1187.3 812.5L1187.7 811.0L1188.1 809.5L1188.5 808.1L1188.9 806.6L1189.3 805.2L1189.7 803.7L1190.1 802.3L1190.5 800.8L1190.9 799.4L1191.3 797.9L1191.7 796.5L1192.1 795.1L1192.5 793.6L1192.9 792.2L1193.3 790.7L1193.7 789.3L1194.1 787.8L1194.5 786.4L1194.9 784.9L1195.3 783.5L1195.7 782.0L1196.1 780.6L1196.5 779.1L1196.9 777.7L1197.3 776.2L1197.7 774.8L1198.1 773.3L1198.5 771.9L1198.9 770.4L1199.4 769.0L1199.8 767.5L1200.2 766.1L1200.6 764.6L1201.0 763.2L1201.4 761.7L1201.8 760.3L1202.2 758.8L1202.6 757.4L1203.0 756.0L1203.4 754.5L1203.8 753.1L1204.2 751.6L1204.6 750.2L1205.1 748.7L1205.5 747.3L1205.9 745.8L1206.3 744.4L1206.7 742.9L1207.1 741.5L1207.5 740.0L1207.9 738.6L1208.3 737.1L1208.7 735.7L1209.1 734.3L1209.5 732.8L1210.0 731.4L1210.4 729.9L1210.8 728.5L1211.2 727.0L1211.6 725.6L1212.0 724.1L1212.4 722.7L1212.8 721.2L1213.2 719.8L1213.6 718.3L1214.1 716.9L1214.5 715.4L1214.9 714.0L1215.3 712.6L1215.7 711.1L1216.1 709.7L1216.5 708.2L1216.9 706.8L1217.3 705.3L1217.8 703.9L1218.2 702.4L1218.6 701.0L1219.0 699.5L1219.4 698.1L1219.8 696.6L1220.2 695.2L1220.6 693.8L1221.0 692.3L1221.5 690.9L1221.9 689.4L1222.3 688.0L1222.7 686.5L1223.1 685.1L1223.5 683.6L1223.9 682.2L1224.3 680.7L1224.7 679.3L1225.1 677.8L1225.6 676.4L1226.0 675.0L1226.4 673.5L1226.8 672.1L1227.2 670.6L1227.6 669.2L1228.0 667.7L1228.4 666.3L1228.8 664.8L1229.3 663.4L1229.7 661.9L1230.1 660.5L1230.5 659.0L1230.9 657.6L1231.3 656.2L1231.7 654.7L1232.1 653.3L1232.5 651.8L1233.0 650.4L1233.4 648.9L1233.8 647.5L1234.2 646.0L1234.6 644.6L1235.0 643.1L1235.4 641.7L1235.8 640.2L1236.2 638.8L1236.6 637.4L1237.0 635.9L1237.5 634.5L1237.9 633.0L1238.3 631.6L1238.7 630.1L1239.1 628.7L1239.5 627.2L1239.9 625.8L1240.3 624.3L1240.7 622.9L1241.1 621.4L1241.5 620.0L1242.0 618.5L1242.4 617.1L1242.8 615.7L1243.2 614.2L1243.6 612.8L1244.0 611.3L1244.4 609.9L1244.8 608.4L1245.2 607.0L1245.6 605.5L1246.0 604.1L1246.4 602.6L1246.8 601.2L1247.3 599.7L1247.7 598.3L1248.1 596.8L1248.5 595.4L1248.9 593.9L1249.3 592.5L1249.7 591.0L1250.1 589.6L1250.5 588.2L1250.9 586.7L1251.3 585.3L1251.7 583.8L1252.1 582.4L1252.6 580.9L1253.0 579.5L1253.4 578.0L1253.8 576.6L1254.2 575.1L1254.6 573.7L1255.0 572.3L1255.5 570.8L1255.9 569.4L1256.3 567.9L1256.7 566.5L1257.2 565.0L1257.6 563.6L1258.0 562.2L1258.4 560.7L1258.9 559.3L1259.3 557.8L1259.8 556.4L1260.2 555.0L1260.6 553.5L1261.1 552.1L1261.5 550.7L1262.0 549.2L1262.5 547.8L1262.9 546.4L1263.4 544.9L1263.9 543.5L1264.3 542.1L1264.8 540.7L1265.3 539.2L1265.8 537.8L1266.3 536.4L1266.8 535.0L1267.3 533.5L1267.8 532.1L1268.3 530.7L1268.8 529.3L1269.3 527.9L1269.8 526.5L1270.3 525.1L1270.9 523.7L1271.4 522.3L1272.0 520.9L1272.5 519.5L1273.1 518.1L1273.6 516.7L1274.2 515.3L1274.8 513.9L1275.3 512.5L1275.9 511.1L1276.5 509.7L1277.1 508.3L1277.7 507.0L1278.3 505.6L1278.9 504.2L1279.5 502.8L1280.1 501.5L1280.8 500.1L1281.4 498.7L1282.0 497.4L1282.7 496.0L1283.3 494.7L1284.0 493.3L1284.7 492.0L1285.3 490.6L1286.0 489.3L1286.7 487.9L1287.4 486.6L1288.1 485.3L1288.8 484.0L1289.5 482.6L1290.2 481.3L1291.0 480.0L1291.7 478.7L1292.5 477.4L1293.2 476.1L1294.0 474.8L1294.8 473.5L1295.6 472.2L1296.3 471.0L1297.1 469.7L1297.9 468.4L1298.8 467.1L1299.6 465.9L1300.4 464.6L1301.3 463.4L1302.1 462.2L1303.0 460.9L1303.8 459.7L1304.7 458.5L1305.6 457.2L1306.5 456.0L1307.4 454.8L1308.3 453.6L1309.2 452.4L1310.1 451.3L1311.1 450.1L1312.0 448.9L1312.9 447.7L1313.9 446.6L1314.9 445.4L1315.8 444.3L1316.8 443.1L1317.8 442.0L1318.8 440.9L1319.8 439.8L1320.8 438.7L1321.9 437.6L1322.9 436.5L1323.9 435.4L1325.0 434.3L1326.0 433.2L1327.1 432.1L1328.1 431.1L1329.2 430.0L1330.3 429.0L1331.4 427.9L1332.5 426.9L1333.6 425.9L1334.7 424.9L1335.8 423.9L1336.9 422.8L1338.0 421.9L1339.2 420.9L1340.3 419.9L1341.4 418.9L1342.6 417.9L1343.7 417.0L1344.9 416.0L1346.1 415.1L1347.3 414.1L1348.4 413.2L1349.6 412.3L1350.8 411.4L1352.0 410.5L1353.2 409.6L1354.4 408.7L1355.6 407.8L1356.9 406.9L1358.1 406.0L1359.3 405.2L1360.5 404.3L1361.8 403.5L1363.0 402.6L1364.3 401.8L1365.5 400.9L1366.8 400.1L1368.1 399.3L1369.3 398.5L1370.6 397.7L1371.9 396.9L1373.1 396.1L1374.4 395.3L1375.7 394.5L1377.0 393.8L1378.3 393.0L1379.6 392.2L1380.9 391.5L1382.2 390.7L1383.5 390.0L1384.8 389.2L1386.1 388.5L1387.4 387.7L1388.7 387.0L1390.0 386.3L1391.3 385.5L1392.7 384.8L1394.0 384.1L1395.3 383.4L1396.6 382.7L1398.0 382.0L1399.3 381.3L1400.6 380.6L1401.9 379.9L1403.3 379.2L1404.6 378.5L1405.9 377.8L1407.3 377.1L1408.6 376.4L1409.9 375.7L1411.3 375.0L1412.6 374.3L1413.9 373.6L1415.3 372.9L1416.6 372.2L1418.0 371.5L1419.3 370.9L1420.6 370.2L1422.0 369.5L1423.3 368.8L1424.7 368.2L1426.0 367.5L1427.4 366.8L1428.7 366.2L1430.1 365.5L1431.4 364.9L1432.8 364.3L1434.2 363.6L1435.5 363.0L1436.9 362.4L1438.3 361.8L1439.7 361.2L1441.1 360.7L1442.5 360.1L1443.9 359.6L1445.3 359.1L1446.7 358.5L1448.1 358.1L1449.5 357.6L1451.0 357.1L1452.4 356.7L1453.9 356.3L1455.3 355.9L1456.8 355.5L1458.2 355.1L1459.7 354.8L1461.2 354.5L1462.6 354.2L1464.1 354.0L1465.6 353.7L1467.1 353.5L1468.6 353.4L1470.1 353.2L1471.6 353.1L1473.1 353.0L1474.6 352.9L1476.1 352.8L1477.6 352.8L1479.1 352.8L1480.6 352.8L1482.1 352.8L1483.6 352.9L1485.1 353.0L1486.6 353.1L1488.1 353.2L1489.6 353.3L1491.1 353.5L1492.6 353.6L1494.1 353.8L1495.6 354.0L1497.1 354.2L1498.6 354.5L1500.0 354.7L1501.5 355.0L1503.0 355.2L1504.5 355.5L1505.9 355.8L1507.4 356.1L1508.9 356.5L1510.3 356.8L1511.8 357.2L1513.3 357.5L1514.7 357.9L1516.2 358.3L1517.6 358.7L1519.1 359.1L1520.5 359.5L1522.0 359.9L1523.4 360.3L1524.8 360.8L1526.3 361.2L1527.7 361.7L1529.1 362.1L1530.6 362.6L1532.0 363.1L1533.4 363.6L1534.8 364.1L1536.3 364.6L1537.7 365.1L1539.1 365.6L1540.5 366.1L1541.9 366.6L1543.3 367.1L1544.7 367.6L1546.1 368.2L1547.6 368.7L1549.0 369.2L1550.4 369.8L1551.8 370.3L1553.2 370.9L1554.6 371.4L1556.0 372.0L1557.4 372.5L1558.8 373.1L1560.1 373.6L1561.5 374.2L1562.9 374.7L1564.3 375.3L1565.7 375.9L1567.1 376.4L1568.5 377.0L1569.9 377.6L1571.3 378.1L1572.7 378.7L1574.1 379.3L1575.5 379.8L1576.9 380.4L1578.3 381.0L1579.6 381.6L1581.0 382.1L1582.4 382.7L1583.8 383.3L1585.2 383.8L1586.6 384.4L1588.0 385.0L1589.4 385.5L1590.8 386.1L1592.2 386.7L1593.6 387.2L1595.0 387.8L1596.3 388.4L1597.7 389.0L1599.1 389.5L1600.5 390.1L1601.9 390.7L1603.3 391.2L1604.7 391.8L1606.1 392.4L1607.5 393.0L1608.9 393.5L1610.2 394.1L1611.6 394.7L1613.0 395.3L1614.4 395.9L1615.8 396.4L1617.2 397.0L1618.6 397.6L1619.9 398.2L1621.3 398.8L1622.7 399.4L1624.1 400.0L1625.5 400.6L1626.9 401.1L1628.2 401.7L1629.6 402.3L1631.0 402.9L1632.4 403.5L1633.7 404.1L1635.1 404.8L1636.5 405.4L1637.9 406.0L1639.2 406.6L1640.6 407.2L1642.0 407.8L1643.3 408.5L1644.7 409.1L1646.1 409.8L1647.4 410.4L1648.8 411.1L1650.1 411.7L1651.5 412.4L1652.8 413.1L1654.2 413.7L1655.5 414.4L1656.8 415.1L1658.2 415.8L1659.5 416.5L1660.8 417.2L1662.1 417.9L1663.5 418.7L1664.8 419.4L1666.1 420.1L1667.4 420.9L1668.7 421.6L1670.0 422.4L1671.3 423.1L1672.6 423.9L1673.8 424.7L1675.1 425.5L1676.4 426.3L1677.7 427.1L1678.9 427.9L1680.2 428.7L1681.4 429.6L1682.7 430.4L1683.9 431.2L1685.2 432.1L1686.4 432.9L1687.7 433.8L1688.9 434.7L1690.1 435.5L1691.4 436.4L1692.6 437.3L1693.8 438.1L1695.0 439.0L1696.2 439.9L1697.5 440.8L1698.7 441.6L1699.9 442.5L1701.1 443.4L1702.3 444.3L1703.5 445.2L1704.8 446.1L1706.0 447.0L1707.2 447.8L1708.4 448.7L1709.6 449.6L1710.8 450.5L1712.0 451.4L1713.3 452.3L1714.5 453.2L1715.7 454.0L1716.9 454.9L1718.1 455.8L1719.4 456.7L1720.6 457.5L1721.8 458.4L1723.1 459.2L1724.3 460.1L1725.5 460.9L1726.8 461.8L1728.0 462.6L1729.3 463.5L1730.5 464.3L1731.8 465.1L1733.1 465.9L1734.3 466.7L1735.6 467.5L1736.9 468.3L1738.2 469.1L1739.5 469.9L1740.7 470.6L1742.1 471.4L1743.4 472.1L1744.7 472.9L1746.0 473.6L1747.3 474.3L1748.7 475.0L1750.0 475.7L1751.3 476.3L1752.7 477.0L1754.0 477.7L1755.4 478.3L1756.7 479.0L1758.1 479.6L1759.5 480.3L1760.8 480.9L1762.2 481.5L1763.6 482.1L1764.9 482.8L1766.3 483.4L1767.7 484.0L1769.1 484.6L1770.4 485.2L1771.8 485.8L1773.2 486.4L1774.6 487.0L1775.9 487.6L1777.3 488.2L1778.7 488.8L1780.1 489.4L1781.4 490.0L1782.8 490.6L1784.2 491.3L1785.6 491.9L1786.9 492.5L1788.3 493.1L1789.6 493.8L1791.0 494.4L1792.4 495.1L1793.7 495.7L1795.0 496.4L1796.4 497.1L1797.7 497.8L1799.1 498.5L1800.4 499.2L1801.7 499.9L1803.1 500.6L1804.4 501.3L1805.7 502.0L1807.0 502.7L1808.3 503.5L1809.6 504.2L1810.9 505.0L1812.2 505.7L1813.5 506.5L1814.8 507.2L1816.1 508.0L1817.4 508.8L1818.7 509.6L1820.0 510.3L1821.3 511.1L1822.5 511.9L1823.8 512.7L1825.1 513.5L1826.3 514.4L1827.6 515.2L1828.8 516.0L1830.1 516.8L1831.3 517.7L1832.6 518.5L1833.8 519.4L1835.1 520.2L1836.3 521.1L1837.5 521.9L1838.8 522.8L1840.0 523.7L1841.2 524.5L1842.4 525.4L1843.7 526.3L1844.9 527.2L1846.1 528.1L1847.3 529.0L1848.5 529.9L1849.7 530.8L1850.9 531.7L1852.1 532.6L1853.3 533.5L1854.5 534.5L1855.6 535.4L1856.8 536.3L1858.0 537.3L1859.2 538.2L1860.3 539.1L1861.5 540.1L1862.7 541.0L1863.8 542.0L1865.0 543.0L1866.1 543.9L1867.3 544.9L1868.4 545.9L1869.6 546.8L1870.7 547.8L1871.9 548.8L1873.0 549.8L1874.1 550.8L1875.3 551.8L1876.4 552.8L1877.5 553.8L1878.6 554.8L1879.7 555.8L1880.9 556.8L1882.0 557.8L1883.1 558.8L1884.2 559.8L1885.3 560.8L1886.4 561.9L1887.5 562.9L1888.6 563.9L1889.7 565.0L1890.7 566.0L1891.8 567.0L1892.9 568.1L1894.0 569.1L1895.1 570.2L1896.2 571.2L1897.2 572.3L1898.3 573.3L1899.4 574.4L1900.4 575.5L1901.5 576.5L1902.6 577.6L1903.6 578.6L1904.7 579.7L1905.7 580.8L1906.8 581.8L1907.9 582.9L1908.9 584.0L1910.0 585.1L1911.0 586.1L1912.1 587.2L1913.1 588.3L1914.2 589.4L1915.2 590.5L1916.2 591.5L1917.3 592.6L1918.3 593.7L1919.4 594.8L1920.4 595.9L1921.5 596.9L1922.5 598.0L1923.5 599.1L1924.6 600.2L1925.6 601.3L1926.7 602.4L1927.7 603.4L1928.8 604.5L1929.8 605.6L1930.8 606.7L1931.9 607.8L1932.9 608.9L1934.0 610.0L1935.0 611.0L1936.0 612.1L1937.1 613.2L1938.1 614.3L1939.2 615.4L1940.2 616.5L1941.2 617.5L1942.3 618.6L1943.3 619.7L1944.4 620.8L1945.4 621.9L1946.5 622.9L1947.5 624.0L1948.6 625.1L1949.6 626.2L1950.7 627.2L1951.7 628.3L1952.8 629.4L1953.8 630.5L1954.9 631.5L1956.0 632.6L1957.0 633.7L1958.1 634.7L1959.1 635.8L1960.2 636.9L1961.3 637.9L1962.3 639.0L1963.4 640.0L1964.5 641.1L1965.5 642.1L1966.6 643.2L1967.7 644.3L1968.8 645.3L1969.8 646.3L1970.9 647.4L1972.0 648.4L1973.1 649.5L1974.2 650.5L1975.3 651.5L1976.4 652.6L1977.5 653.6L1978.6 654.6L1979.7 655.7L1980.8 656.7L1981.9 657.7L1983.0 658.7L1984.1 659.7L1985.2 660.7L1986.3 661.7L1987.5 662.7L1988.6 663.7L1989.7 664.7L1990.9 665.7L1992.0 666.7L1993.1 667.7L1994.3 668.6L1995.4 669.6L1996.6 670.6L1997.7 671.5L1998.9 672.5L2000.0 673.5L2001.2 674.4L2002.4 675.4L2003.5 676.3L2004.7 677.2L2005.9 678.2L2007.1 679.1L2008.2 680.0L2009.4 681.0L2010.6 681.9L2011.8 682.8L2013.0 683.7L2014.2 684.6L2015.4 685.5L2016.6 686.4L2017.8 687.3L2019.0 688.2L2020.2 689.1L2021.4 690.0L2022.7 690.9L2023.9 691.8L2025.1 692.6L2026.3 693.5L2027.6 694.4L2028.8 695.2L2030.0 696.1L2031.3 697.0L2032.5 697.8L2033.7 698.7L2035.0 699.5L2036.2 700.4L2037.5 701.2L2038.7 702.1L2040.0 702.9L2041.2 703.7L2042.5 704.6L2043.7 705.4L2045.0 706.2L2046.2 707.0L2047.5 707.9L2048.7 708.7L2050.0 709.5L2051.3 710.3L2052.5 711.1L2053.8 711.9L2055.1 712.7L2056.3 713.6L2057.6 714.4L2058.9 715.2L2060.1 716.0L2061.4 716.8L2062.7 717.6L2064.0 718.4L2065.2 719.2L2066.5 720.0L2067.8 720.8L2069.1 721.6L2070.3 722.4L2071.6 723.2L2072.9 724.0L2074.2 724.8L2075.4 725.5L2076.7 726.3L2078.0 727.1L2079.3 727.9L2080.5 728.7L2081.8 729.5L2083.1 730.3L2084.3 731.1L2085.6 731.9L2086.9 732.7"/>
<path d="M1182.3 834.5L1182.7 833.1L1183.1 831.6L1183.5 830.2L1183.9 828.7L1184.4 827.3L1184.8 825.9L1185.2 824.4L1185.7 823.0L1186.1 821.6L1186.6 820.1L1187.0 818.7L1187.5 817.3L1188.0 815.8L1188.4 814.4L1188.9 813.0L1189.4 811.6L1189.9 810.1L1190.4 808.7L1190.9 807.3L1191.4 805.9L1191.9 804.5L1192.4 803.0L1192.9 801.6L1193.4 800.2L1193.9 798.8L1194.4 797.4L1195.0 796.0L1195.5 794.6L1196.0 793.2L1196.6 791.8L1197.1 790.4L1197.7 789.0L1198.2 787.6L1198.8 786.2L1199.4 784.8L1199.9 783.4L1200.5 782.0L1201.1 780.6L1201.6 779.2L1202.2 777.8L1202.8 776.5L1203.4 775.1L1203.9 773.7L1204.5 772.3L1205.1 770.9L1205.7 769.5L1206.3 768.2L1206.9 766.8L1207.5 765.4L1208.1 764.0L1208.7 762.6L1209.3 761.2L1209.9 759.9L1210.5 758.5L1211.1 757.1L1211.7 755.7L1212.3 754.4L1212.8 753.0L1213.4 751.6L1214.0 750.2L1214.6 748.8L1215.2 747.4L1215.8 746.1L1216.4 744.7L1217.0 743.3L1217.6 741.9L1218.2 740.5L1218.8 739.2L1219.4 737.8L1220.0 736.4L1220.6 735.0L1221.1 733.6L1221.7 732.2L1222.3 730.9L1222.9 729.5L1223.5 728.1L1224.1 726.7L1224.7 725.3L1225.3 724.0L1225.9 722.6L1226.5 721.2L1227.1 719.8L1227.7 718.4L1228.2 717.1L1228.8 715.7L1229.4 714.3L1230.0 712.9L1230.6 711.5L1231.2 710.2L1231.8 708.8L1232.4 707.4L1233.0 706.0L1233.6 704.6L1234.2 703.3L1234.8 701.9L1235.4 700.5L1236.0 699.1L1236.6 697.8L1237.2 696.4L1237.8 695.0L1238.5 693.6L1239.1 692.3L1239.7 690.9L1240.3 689.5L1240.9 688.1L1241.5 686.8L1242.1 685.4L1242.8 684.0L1243.4 682.7L1244.0 681.3L1244.6 679.9L1245.2 678.6L1245.9 677.2L1246.5 675.8L1247.1 674.5L1247.8 673.1L1248.4 671.7L1249.0 670.4L1249.7 669.0L1250.3 667.7L1251.0 666.3L1251.6 664.9L1252.3 663.6L1252.9 662.2L1253.6 660.9L1254.2 659.5L1254.9 658.2L1255.6 656.8L1256.2 655.5L1256.9 654.1L1257.6 652.8L1258.2 651.4L1258.9 650.1L1259.6 648.8L1260.3 647.4L1261.0 646.1L1261.7 644.8L1262.4 643.4L1263.1 642.1L1263.8 640.8L1264.5 639.4L1265.2 638.1L1265.9 636.8L1266.6 635.5L1267.4 634.2L1268.1 632.9L1268.8 631.5L1269.6 630.2L1270.3 628.9L1271.1 627.6L1271.8 626.3L1272.6 625.0L1273.4 623.8L1274.1 622.5L1274.9 621.2L1275.7 619.9L1276.5 618.6L1277.3 617.4L1278.1 616.1L1278.9 614.8L1279.8 613.6L1280.6 612.3L1281.4 611.1L1282.3 609.8L1283.1 608.6L1284.0 607.3L1284.8 606.1L1285.7 604.9L1286.6 603.7L1287.5 602.5L1288.4 601.3L1289.3 600.1L1290.3 598.9L1291.2 597.7L1292.2 596.6L1293.1 595.4L1294.1 594.3L1295.1 593.1L1296.1 592.0L1297.1 590.9L1298.1 589.8L1299.1 588.7L1300.1 587.6L1301.2 586.5L1302.2 585.4L1303.3 584.4L1304.4 583.3L1305.5 582.3L1306.6 581.3L1307.7 580.2L1308.8 579.2L1309.9 578.2L1311.0 577.2L1312.2 576.3L1313.3 575.3L1314.5 574.4L1315.7 573.4L1316.8 572.5L1318.0 571.6L1319.2 570.7L1320.4 569.8L1321.7 568.9L1322.9 568.0L1324.1 567.1L1325.3 566.3L1326.6 565.4L1327.8 564.6L1329.1 563.8L1330.3 562.9L1331.6 562.1L1332.9 561.3L1334.2 560.5L1335.4 559.8L1336.7 559.0L1338.0 558.2L1339.3 557.5L1340.6 556.7L1341.9 556.0L1343.2 555.2L1344.6 554.5L1345.9 553.8L1347.2 553.0L1348.5 552.3L1349.8 551.6L1351.2 550.9L1352.5 550.2L1353.8 549.5L1355.1 548.8L1356.5 548.1L1357.8 547.4L1359.1 546.7L1360.5 546.0L1361.8 545.3L1363.1 544.6L1364.5 543.9L1365.8 543.2L1367.1 542.5L1368.5 541.8L1369.8 541.2L1371.1 540.5L1372.5 539.8L1373.8 539.1L1375.2 538.4L1376.5 537.8L1377.9 537.1L1379.2 536.4L1380.6 535.8L1381.9 535.1L1383.3 534.5L1384.6 533.8L1386.0 533.1L1387.3 532.5L1388.7 531.8L1390.0 531.2L1391.4 530.6L1392.8 529.9L1394.1 529.3L1395.5 528.7L1396.9 528.1L1398.2 527.4L1399.6 526.8L1401.0 526.2L1402.4 525.6L1403.7 525.0L1405.1 524.4L1406.5 523.8L1407.9 523.2L1409.3 522.7L1410.7 522.1L1412.0 521.5L1413.4 521.0L1414.8 520.4L1416.2 519.9L1417.6 519.3L1419.0 518.8L1420.5 518.3L1421.9 517.7L1423.3 517.2L1424.7 516.7L1426.1 516.2L1427.5 515.7L1428.9 515.2L1430.4 514.8L1431.8 514.3L1433.2 513.8L1434.7 513.4L1436.1 512.9L1437.5 512.5L1439.0 512.1L1440.4 511.7L1441.9 511.3L1443.3 510.9L1444.8 510.5L1446.2 510.1L1447.7 509.8L1449.2 509.4L1450.6 509.1L1452.1 508.8L1453.6 508.5L1455.0 508.2L1456.5 507.9L1458.0 507.6L1459.5 507.4L1461.0 507.2L1462.5 506.9L1463.9 506.7L1465.4 506.6L1466.9 506.4L1468.4 506.2L1469.9 506.1L1471.4 506.0L1472.9 505.9L1474.4 505.8L1475.9 505.7L1477.4 505.7L1478.9 505.7L1480.4 505.7L1481.9 505.7L1483.4 505.7L1484.9 505.7L1486.4 505.8L1487.9 505.9L1489.4 505.9L1490.9 506.0L1492.4 506.1L1493.9 506.3L1495.4 506.4L1496.9 506.6L1498.4 506.7L1499.9 506.9L1501.4 507.1L1502.9 507.3L1504.4 507.5L1505.9 507.8L1507.4 508.0L1508.8 508.2L1510.3 508.5L1511.8 508.8L1513.3 509.0L1514.8 509.3L1516.2 509.6L1517.7 509.9L1519.2 510.2L1520.6 510.5L1522.1 510.9L1523.6 511.2L1525.0 511.5L1526.5 511.9L1528.0 512.2L1529.4 512.6L1530.9 512.9L1532.3 513.3L1533.8 513.7L1535.2 514.1L1536.7 514.5L1538.2 514.8L1539.6 515.2L1541.1 515.6L1542.5 516.0L1543.9 516.4L1545.4 516.9L1546.8 517.3L1548.3 517.7L1549.7 518.1L1551.2 518.5L1552.6 519.0L1554.1 519.4L1555.5 519.8L1556.9 520.2L1558.4 520.7L1559.8 521.1L1561.3 521.5L1562.7 522.0L1564.1 522.4L1565.6 522.8L1567.0 523.3L1568.4 523.7L1569.9 524.2L1571.3 524.6L1572.8 525.0L1574.2 525.5L1575.6 525.9L1577.1 526.3L1578.5 526.8L1579.9 527.2L1581.4 527.6L1582.8 528.1L1584.3 528.5L1585.7 528.9L1587.1 529.4L1588.6 529.8L1590.0 530.2L1591.5 530.7L1592.9 531.1L1594.3 531.5L1595.8 532.0L1597.2 532.4L1598.7 532.8L1600.1 533.2L1601.6 533.7L1603.0 534.1L1604.4 534.5L1605.9 534.9L1607.3 535.4L1608.8 535.8L1610.2 536.2L1611.6 536.7L1613.1 537.1L1614.5 537.5L1616.0 537.9L1617.4 538.4L1618.8 538.8L1620.3 539.2L1621.7 539.6L1623.2 540.1L1624.6 540.5L1626.1 540.9L1627.5 541.4L1628.9 541.8L1630.4 542.2L1631.8 542.6L1633.3 543.1L1634.7 543.5L1636.1 543.9L1637.6 544.4L1639.0 544.8L1640.5 545.2L1641.9 545.7L1643.3 546.1L1644.8 546.5L1646.2 547.0L1647.6 547.4L1649.1 547.8L1650.5 548.3L1652.0 548.7L1653.4 549.2L1654.8 549.6L1656.3 550.0L1657.7 550.5L1659.1 550.9L1660.6 551.4L1662.0 551.8L1663.4 552.3L1664.9 552.7L1666.3 553.2L1667.7 553.6L1669.2 554.1L1670.6 554.5L1672.0 555.0L1673.5 555.4L1674.9 555.9L1676.3 556.3L1677.8 556.8L1679.2 557.3L1680.6 557.7L1682.1 558.2L1683.5 558.7L1684.9 559.1L1686.4 559.6L1687.8 560.1L1689.2 560.5L1690.6 561.0L1692.1 561.5L1693.5 562.0L1694.9 562.4L1696.3 562.9L1697.8 563.4L1699.2 563.9L1700.6 564.4L1702.0 564.8L1703.5 565.3L1704.9 565.8L1706.3 566.3L1707.7 566.8L1709.1 567.3L1710.6 567.8L1712.0 568.3L1713.4 568.8L1714.8 569.3L1716.2 569.8L1717.6 570.3L1719.1 570.8L1720.5 571.3L1721.9 571.8L1723.3 572.3L1724.7 572.8L1726.1 573.3L1727.5 573.9L1729.0 574.4L1730.4 574.9L1731.8 575.4L1733.2 575.9L1734.6 576.5L1736.0 577.0L1737.4 577.5L1738.8 578.0L1740.2 578.6L1741.6 579.1L1743.0 579.6L1744.4 580.2L1745.8 580.7L1747.2 581.3L1748.6 581.8L1750.0 582.3L1751.4 582.9L1752.8 583.4L1754.2 584.0L1755.6 584.5L1757.0 585.1L1758.4 585.6L1759.8 586.2L1761.2 586.8L1762.6 587.3L1764.0 587.9L1765.4 588.4L1766.8 589.0L1768.2 589.6L1769.6 590.1L1771.0 590.7L1772.4 591.3L1773.8 591.9L1775.1 592.4L1776.5 593.0L1777.9 593.6L1779.3 594.2L1780.7 594.8L1782.1 595.4L1783.4 595.9L1784.8 596.5L1786.2 597.1L1787.6 597.7L1789.0 598.3L1790.3 598.9L1791.7 599.5L1793.1 600.1L1794.5 600.7L1795.9 601.3L1797.2 602.0L1798.6 602.6L1800.0 603.2L1801.3 603.8L1802.7 604.4L1804.1 605.0L1805.4 605.7L1806.8 606.3L1808.2 606.9L1809.5 607.5L1810.9 608.2L1812.3 608.8L1813.6 609.5L1815.0 610.1L1816.3 610.7L1817.7 611.4L1819.1 612.0L1820.4 612.7L1821.8 613.3L1823.1 614.0L1824.5 614.7L1825.8 615.3L1827.2 616.0L1828.5 616.7L1829.8 617.3L1831.2 618.0L1832.5 618.7L1833.9 619.4L1835.2 620.1L1836.5 620.8L1837.9 621.5L1839.2 622.1L1840.5 622.8L1841.9 623.5L1843.2 624.3L1844.5 625.0L1845.8 625.7L1847.2 626.4L1848.5 627.1L1849.8 627.8L1851.1 628.6L1852.4 629.3L1853.8 630.0L1855.1 630.8L1856.4 631.5L1857.7 632.2L1859.0 633.0L1860.3 633.7L1861.6 634.5L1862.9 635.2L1864.2 636.0L1865.5 636.8L1866.8 637.5L1868.1 638.3L1869.3 639.1L1870.6 639.9L1871.9 640.6L1873.2 641.4L1874.5 642.2L1875.8 643.0L1877.0 643.8L1878.3 644.6L1879.6 645.4L1880.8 646.2L1882.1 647.0L1883.4 647.8L1884.6 648.6L1885.9 649.5L1887.2 650.3L1888.4 651.1L1889.7 651.9L1890.9 652.8L1892.2 653.6L1893.4 654.4L1894.7 655.3L1895.9 656.1L1897.1 657.0L1898.4 657.8L1899.6 658.7L1900.8 659.5L1902.1 660.4L1903.3 661.3L1904.5 662.1L1905.8 663.0L1907.0 663.9L1908.2 664.7L1909.5 665.6L1910.7 666.5L1911.9 667.3L1913.1 668.2L1914.3 669.1L1915.6 670.0L1916.8 670.8L1918.0 671.7L1919.2 672.6L1920.4 673.5L1921.7 674.4L1922.9 675.2L1924.1 676.1L1925.3 677.0L1926.5 677.9L1927.8 678.8L1929.0 679.6L1930.2 680.5L1931.4 681.4L1932.6 682.3L1933.9 683.2L1935.1 684.0L1936.3 684.9L1937.5 685.8L1938.7 686.7L1940.0 687.5L1941.2 688.4L1942.4 689.3L1943.6 690.2L1944.9 691.0L1946.1 691.9L1947.3 692.8L1948.5 693.6L1949.8 694.5L1951.0 695.3L1952.2 696.2L1953.5 697.1L1954.7 697.9L1956.0 698.8L1957.2 699.6L1958.4 700.5L1959.7 701.3L1960.9 702.1L1962.2 703.0L1963.4 703.8L1964.7 704.6L1965.9 705.5L1967.2 706.3L1968.5 707.1L1969.7 707.9L1971.0 708.7L1972.3 709.5L1973.5 710.3L1974.8 711.1L1976.1 711.9L1977.4 712.7L1978.7 713.5L1980.0 714.2L1981.3 715.0L1982.5 715.8L1983.8 716.5L1985.2 717.3L1986.5 718.0L1987.8 718.7L1989.1 719.5L1990.4 720.2L1991.7 720.9L1993.1 721.6L1994.4 722.3L1995.7 723.0L1997.1 723.6L1998.4 724.3L1999.8 725.0L2001.1 725.6L2002.5 726.3L2003.8 726.9L2005.2 727.5L2006.6 728.2L2007.9 728.8L2009.3 729.4L2010.7 730.0L2012.1 730.6L2013.4 731.3L2014.8 731.9L2016.2 732.4L2017.6 733.0L2019.0 733.6L2020.3 734.2L2021.7 734.8L2023.1 735.4L2024.5 735.9L2025.9 736.5L2027.3 737.1L2028.7 737.7L2030.1 738.2L2031.4 738.8L2032.8 739.4L2034.2 739.9L2035.6 740.5L2037.0 741.1L2038.4 741.7L2039.8 742.2L2041.2 742.8L2042.6 743.4L2044.0 744.0L2045.3 744.5L2046.7 745.1L2048.1 745.7L2049.5 746.3L2050.9 746.9L2052.2 747.5L2053.6 748.1L2055.0 748.7L2056.4 749.3L2057.7 750.0L2059.1 750.6L2060.5 751.2L2061.8 751.9L2063.2 752.5L2064.5 753.2L2065.9 753.8L2067.2 754.5L2068.6 755.2L2069.9 755.8L2071.3 756.5L2072.6 757.2L2073.9 757.9L2075.2 758.6L2076.6 759.3L2077.9 760.1L2079.2 760.8L2080.5 761.5L2081.8 762.3L2083.1 763.1L2084.4 763.8L2085.7 764.6L2087.0 765.4"/>
<path d="M1183.2 834.7L1184.0 833.4L1184.9 832.2L1185.8 831.0L1186.6 829.7L1187.5 828.5L1188.4 827.3L1189.2 826.1L1190.1 824.8L1191.0 823.6L1191.9 822.4L1192.8 821.2L1193.6 820.0L1194.5 818.8L1195.4 817.5L1196.3 816.3L1197.2 815.1L1198.1 813.9L1199.0 812.7L1199.9 811.5L1200.8 810.3L1201.7 809.1L1202.7 807.9L1203.6 806.7L1204.5 805.5L1205.4 804.3L1206.3 803.2L1207.3 802.0L1208.2 800.8L1209.1 799.6L1210.1 798.4L1211.0 797.3L1212.0 796.1L1212.9 794.9L1213.9 793.8L1214.8 792.6L1215.8 791.4L1216.7 790.3L1217.7 789.1L1218.7 788.0L1219.7 786.8L1220.6 785.7L1221.6 784.6L1222.6 783.4L1223.6 782.3L1224.6 781.2L1225.6 780.0L1226.6 778.9L1227.6 777.8L1228.6 776.7L1229.6 775.6L1230.7 774.5L1231.7 773.4L1232.7 772.3L1233.8 771.2L1234.8 770.1L1235.8 769.0L1236.9 767.9L1237.9 766.9L1239.0 765.8L1240.1 764.7L1241.1 763.7L1242.2 762.6L1243.3 761.6L1244.4 760.6L1245.5 759.5L1246.6 758.5L1247.7 757.5L1248.8 756.5L1249.9 755.5L1251.0 754.5L1252.2 753.5L1253.3 752.5L1254.5 751.5L1255.6 750.5L1256.8 749.6L1257.9 748.6L1259.1 747.6L1260.3 746.7L1261.4 745.8L1262.6 744.8L1263.8 743.9L1265.0 743.0L1266.2 742.1L1267.4 741.2L1268.7 740.4L1269.9 739.5L1271.1 738.6L1272.4 737.8L1273.6 736.9L1274.9 736.1L1276.1 735.3L1277.4 734.5L1278.7 733.7L1280.0 732.9L1281.3 732.1L1282.5 731.4L1283.8 730.6L1285.2 729.9L1286.5 729.1L1287.8 728.4L1289.1 727.7L1290.4 727.0L1291.8 726.3L1293.1 725.6L1294.4 724.9L1295.8 724.2L1297.2 723.6L1298.5 722.9L1299.9 722.3L1301.2 721.7L1302.6 721.1L1304.0 720.5L1305.4 719.9L1306.8 719.3L1308.1 718.7L1309.5 718.1L1310.9 717.6L1312.3 717.0L1313.7 716.5L1315.1 715.9L1316.6 715.4L1318.0 714.9L1319.4 714.4L1320.8 713.9L1322.2 713.4L1323.7 712.9L1325.1 712.4L1326.5 712.0L1327.9 711.5L1329.4 711.1L1330.8 710.6L1332.3 710.2L1333.7 709.7L1335.1 709.3L1336.6 708.9L1338.0 708.5L1339.5 708.1L1340.9 707.7L1342.4 707.3L1343.8 706.9L1345.3 706.5L1346.7 706.1L1348.2 705.8L1349.7 705.4L1351.1 705.0L1352.6 704.7L1354.0 704.3L1355.5 704.0L1357.0 703.6L1358.4 703.3L1359.9 702.9L1361.4 702.6L1362.8 702.3L1364.3 701.9L1365.8 701.6L1367.2 701.3L1368.7 701.0L1370.2 700.7L1371.7 700.3L1373.1 700.0L1374.6 699.7L1376.1 699.4L1377.5 699.1L1379.0 698.8L1380.5 698.5L1382.0 698.2L1383.4 697.8L1384.9 697.5L1386.4 697.2L1387.9 696.9L1389.3 696.6L1390.8 696.3L1392.3 696.1L1393.8 695.8L1395.2 695.5L1396.7 695.2L1398.2 694.9L1399.7 694.6L1401.1 694.3L1402.6 694.1L1404.1 693.8L1405.6 693.5L1407.1 693.3L1408.6 693.0L1410.0 692.8L1411.5 692.5L1413.0 692.3L1414.5 692.0L1416.0 691.8L1417.5 691.5L1418.9 691.3L1420.4 691.1L1421.9 690.9L1423.4 690.6L1424.9 690.4L1426.4 690.2L1427.9 690.0L1429.4 689.8L1430.9 689.6L1432.4 689.4L1433.8 689.2L1435.3 689.1L1436.8 688.9L1438.3 688.7L1439.8 688.6L1441.3 688.4L1442.8 688.3L1444.3 688.1L1445.8 688.0L1447.3 687.8L1448.8 687.7L1450.3 687.6L1451.8 687.5L1453.3 687.4L1454.8 687.3L1456.3 687.2L1457.8 687.1L1459.3 687.0L1460.8 687.0L1462.3 686.9L1463.8 686.8L1465.3 686.8L1466.8 686.8L1468.3 686.7L1469.9 686.7L1471.4 686.7L1472.9 686.7L1474.4 686.7L1475.9 686.7L1477.4 686.7L1478.9 686.7L1480.4 686.8L1481.9 686.8L1483.4 686.8L1484.9 686.9L1486.4 687.0L1487.9 687.0L1489.4 687.1L1490.9 687.2L1492.4 687.3L1493.9 687.3L1495.4 687.4L1496.9 687.5L1498.4 687.7L1499.9 687.8L1501.4 687.9L1502.9 688.0L1504.4 688.2L1505.9 688.3L1507.4 688.4L1508.9 688.6L1510.4 688.7L1511.9 688.9L1513.4 689.0L1514.9 689.2L1516.4 689.4L1517.9 689.5L1519.4 689.7L1520.9 689.9L1522.4 690.1L1523.9 690.2L1525.4 690.4L1526.8 690.6L1528.3 690.8L1529.8 691.0L1531.3 691.2L1532.8 691.4L1534.3 691.6L1535.8 691.8L1537.3 692.0L1538.8 692.2L1540.3 692.4L1541.8 692.6L1543.2 692.9L1544.7 693.1L1546.2 693.3L1547.7 693.5L1549.2 693.7L1550.7 693.9L1552.2 694.2L1553.7 694.4L1555.2 694.6L1556.6 694.8L1558.1 695.0L1559.6 695.2L1561.1 695.5L1562.6 695.7L1564.1 695.9L1565.6 696.1L1567.1 696.3L1568.6 696.6L1570.0 696.8L1571.5 697.0L1573.0 697.2L1574.5 697.4L1576.0 697.6L1577.5 697.9L1579.0 698.1L1580.5 698.3L1582.0 698.5L1583.4 698.7L1584.9 698.9L1586.4 699.1L1587.9 699.4L1589.4 699.6L1590.9 699.8L1592.4 700.0L1593.9 700.2L1595.4 700.4L1596.8 700.6L1598.3 700.9L1599.8 701.1L1601.3 701.3L1602.8 701.5L1604.3 701.7L1605.8 701.9L1607.3 702.1L1608.8 702.3L1610.3 702.6L1611.7 702.8L1613.2 703.0L1614.7 703.2L1616.2 703.4L1617.7 703.6L1619.2 703.8L1620.7 704.0L1622.2 704.3L1623.7 704.5L1625.1 704.7L1626.6 704.9L1628.1 705.1L1629.6 705.3L1631.1 705.5L1632.6 705.8L1634.1 706.0L1635.6 706.2L1637.1 706.4L1638.5 706.6L1640.0 706.8L1641.5 707.0L1643.0 707.3L1644.5 707.5L1646.0 707.7L1647.5 707.9L1649.0 708.1L1650.5 708.4L1651.9 708.6L1653.4 708.8L1654.9 709.0L1656.4 709.2L1657.9 709.4L1659.4 709.7L1660.9 709.9L1662.4 710.1L1663.9 710.3L1665.3 710.6L1666.8 710.8L1668.3 711.0L1669.8 711.2L1671.3 711.4L1672.8 711.7L1674.3 711.9L1675.8 712.1L1677.2 712.3L1678.7 712.6L1680.2 712.8L1681.7 713.0L1683.2 713.3L1684.7 713.5L1686.2 713.7L1687.7 713.9L1689.1 714.2L1690.6 714.4L1692.1 714.6L1693.6 714.9L1695.1 715.1L1696.6 715.3L1698.1 715.6L1699.5 715.8L1701.0 716.1L1702.5 716.3L1704.0 716.5L1705.5 716.8L1707.0 717.0L1708.5 717.3L1709.9 717.5L1711.4 717.7L1712.9 718.0L1714.4 718.2L1715.9 718.5L1717.4 718.7L1718.9 719.0L1720.3 719.2L1721.8 719.5L1723.3 719.7L1724.8 720.0L1726.3 720.2L1727.8 720.5L1729.2 720.7L1730.7 721.0L1732.2 721.2L1733.7 721.5L1735.2 721.7L1736.7 722.0L1738.1 722.3L1739.6 722.5L1741.1 722.8L1742.6 723.0L1744.1 723.3L1745.5 723.6L1747.0 723.8L1748.5 724.1L1750.0 724.4L1751.5 724.7L1752.9 724.9L1754.4 725.2L1755.9 725.5L1757.4 725.7L1758.9 726.0L1760.3 726.3L1761.8 726.6L1763.3 726.9L1764.8 727.1L1766.3 727.4L1767.7 727.7L1769.2 728.0L1770.7 728.3L1772.2 728.6L1773.6 728.8L1775.1 729.1L1776.6 729.4L1778.1 729.7L1779.5 730.0L1781.0 730.3L1782.5 730.6L1784.0 730.9L1785.4 731.2L1786.9 731.5L1788.4 731.8L1789.9 732.1L1791.3 732.4L1792.8 732.7L1794.3 733.0L1795.8 733.3L1797.2 733.6L1798.7 734.0L1800.2 734.3L1801.6 734.6L1803.1 734.9L1804.6 735.2L1806.1 735.5L1807.5 735.9L1809.0 736.2L1810.5 736.5L1811.9 736.8L1813.4 737.2L1814.9 737.5L1816.3 737.8L1817.8 738.2L1819.3 738.5L1820.7 738.8L1822.2 739.2L1823.7 739.5L1825.1 739.8L1826.6 740.2L1828.1 740.5L1829.5 740.9L1831.0 741.2L1832.5 741.6L1833.9 741.9L1835.4 742.3L1836.8 742.6L1838.3 743.0L1839.8 743.3L1841.2 743.7L1842.7 744.0L1844.2 744.4L1845.6 744.7L1847.1 745.1L1848.5 745.5L1850.0 745.8L1851.5 746.2L1852.9 746.6L1854.4 746.9L1855.8 747.3L1857.3 747.7L1858.8 748.0L1860.2 748.4L1861.7 748.8L1863.1 749.1L1864.6 749.5L1866.0 749.9L1867.5 750.3L1869.0 750.6L1870.4 751.0L1871.9 751.4L1873.3 751.8L1874.8 752.2L1876.2 752.5L1877.7 752.9L1879.2 753.3L1880.6 753.7L1882.1 754.1L1883.5 754.4L1885.0 754.8L1886.4 755.2L1887.9 755.6L1889.3 756.0L1890.8 756.4L1892.2 756.8L1893.7 757.2L1895.1 757.5L1896.6 757.9L1898.1 758.3L1899.5 758.7L1901.0 759.1L1902.4 759.5L1903.9 759.9L1905.3 760.3L1906.8 760.7L1908.2 761.1L1909.7 761.5L1911.1 761.9L1912.6 762.3L1914.0 762.7L1915.5 763.1L1916.9 763.5L1918.4 763.9L1919.8 764.3L1921.3 764.7L1922.7 765.1L1924.2 765.5L1925.6 765.9L1927.1 766.3L1928.5 766.7L1930.0 767.1L1931.4 767.5L1932.9 767.9L1934.3 768.3L1935.8 768.7L1937.2 769.1L1938.7 769.5L1940.1 769.9L1941.6 770.3L1943.0 770.7L1944.5 771.1L1945.9 771.5L1947.4 771.9L1948.8 772.3L1950.3 772.7L1951.7 773.1L1953.2 773.5L1954.6 773.9L1956.1 774.3L1957.5 774.7L1959.0 775.1L1960.4 775.5L1961.9 775.9L1963.3 776.3L1964.8 776.8L1966.2 777.2L1967.7 777.6L1969.1 778.0L1970.6 778.4L1972.0 778.8L1973.5 779.2L1974.9 779.6L1976.4 780.0L1977.8 780.4L1979.3 780.8L1980.7 781.2L1982.2 781.6L1983.6 782.0L1985.1 782.4L1986.5 782.8L1988.0 783.2L1989.4 783.6L1990.9 784.0L1992.3 784.4L1993.8 784.8L1995.2 785.2L1996.7 785.6L1998.1 786.0L1999.6 786.4L2001.0 786.8L2002.5 787.2L2003.9 787.6L2005.4 788.0L2006.8 788.4L2008.3 788.8L2009.7 789.2L2011.2 789.6L2012.6 789.9L2014.1 790.3L2015.5 790.7L2017.0 791.1L2018.4 791.5L2019.9 791.9L2021.4 792.3L2022.8 792.7L2024.3 793.1L2025.7 793.5L2027.2 793.8L2028.6 794.2L2030.1 794.6L2031.5 795.0L2033.0 795.4L2034.4 795.8L2035.9 796.1L2037.4 796.5L2038.8 796.9L2040.3 797.3L2041.7 797.7L2043.2 798.0L2044.6 798.4L2046.1 798.8L2047.6 799.2L2049.0 799.5L2050.5 799.9L2051.9 800.3L2053.4 800.7L2054.8 801.0L2056.3 801.4L2057.8 801.8L2059.2 802.1L2060.7 802.5L2062.1 802.9L2063.6 803.2L2065.1 803.6L2066.5 803.9L2068.0 804.3L2069.4 804.7L2070.9 805.0L2072.4 805.4L2073.8 805.7L2075.3 806.1L2076.8 806.4L2078.2 806.8L2079.7 807.1L2081.1 807.5L2082.6 807.8L2084.1 808.2L2085.5 808.5L2087.0 808.9"/>
<path d="M2020 835.5 L2040 834 L2060 832.8 L2075 832.8 L2088 834"/>
</g>
<g fill="#000" stroke="none"><rect x="738.2" y="300" width="6.8" height="453.7"/><path d="M741.5 281.2 L754 306.5 L745 300.8 L738.2 300.8 L729 306.5 Z"/><rect x="1760.7" y="284.7" width="6.8" height="454"/><path d="M1764 757 L1751.3 731.8 L1760.7 737.8 L1767.5 737.8 L1776.4 731.8 Z"/></g>
<text transform="matrix(0.9683 0 0 1 48.52 30.70)" style="font-family:'Liberation Sans',sans-serif;font-size:42.61px;fill:#262626;stroke:#262626;stroke-width:0.35px;stroke-linejoin:round">0.3</text>
<text transform="matrix(0.9611 0 0 1 48.72 295.29)" style="font-family:'Liberation Sans',sans-serif;font-size:43.18px;fill:#262626;stroke:#262626;stroke-width:0.35px;stroke-linejoin:round">0.2</text>
<text transform="matrix(0.9654 0 0 1 48.70 562.39)" style="font-family:'Liberation Sans',sans-serif;font-size:43.46px;fill:#262626;stroke:#262626;stroke-width:0.35px;stroke-linejoin:round">0.1</text><rect x="86.43" y="557.83" width="7.77" height="6.32" fill="#ffffff"/><rect x="97.93" y="557.83" width="7.44" height="6.32" fill="#ffffff"/>
<text transform="matrix(0.9342 0 0 1 74.75 842.59)" style="font-family:'Liberation Sans',sans-serif;font-size:43.60px;fill:#262626;stroke:#262626;stroke-width:0.35px;stroke-linejoin:round">0</text>
<text transform="matrix(0.9269 0 0 1 154.64 894.38)" style="font-family:'Liberation Sans',sans-serif;font-size:44.17px;fill:#262626;stroke:#262626;stroke-width:0.35px;stroke-linejoin:round">0</text>
<text transform="matrix(0.9158 0 0 1 259.24 894.38)" style="font-family:'Liberation Sans',sans-serif;font-size:44.17px;fill:#262626;stroke:#262626;stroke-width:0.35px;stroke-linejoin:round">10</text><rect x="261.87" y="889.75" width="7.51" height="6.41" fill="#ffffff"/><rect x="272.97" y="889.75" width="7.19" height="6.41" fill="#ffffff"/>
<text transform="matrix(0.9598 0 0 1 364.86 894.38)" style="font-family:'Liberation Sans',sans-serif;font-size:44.17px;fill:#262626;stroke:#262626;stroke-width:0.35px;stroke-linejoin:round">20</text>
<text transform="matrix(0.9570 0 0 1 475.09 894.38)" style="font-family:'Liberation Sans',sans-serif;font-size:44.17px;fill:#262626;stroke:#262626;stroke-width:0.35px;stroke-linejoin:round">30</text>
<text transform="matrix(0.9282 0 0 1 585.35 894.38)" style="font-family:'Liberation Sans',sans-serif;font-size:44.17px;fill:#262626;stroke:#262626;stroke-width:0.35px;stroke-linejoin:round">40</text>
<text transform="matrix(0.9374 0 0 1 694.82 894.38)" style="font-family:'Liberation Sans',sans-serif;font-size:44.17px;fill:#262626;stroke:#262626;stroke-width:0.35px;stroke-linejoin:round">50</text>
<text transform="matrix(0.9377 0 0 1 802.00 894.38)" style="font-family:'Liberation Sans',sans-serif;font-size:44.17px;fill:#262626;stroke:#262626;stroke-width:0.35px;stroke-linejoin:round">60</text>
<text transform="matrix(0.9378 0 0 1 912.10 894.38)" style="font-family:'Liberation Sans',sans-serif;font-size:44.17px;fill:#262626;stroke:#262626;stroke-width:0.35px;stroke-linejoin:round">70</text>
<text transform="matrix(0.9309 0 0 1 1021.63 894.38)" style="font-family:'Liberation Sans',sans-serif;font-size:44.17px;fill:#262626;stroke:#262626;stroke-width:0.35px;stroke-linejoin:round">80</text>
<text transform="matrix(0.9752 0 0 1 123.91 64.89)" style="font-family:'Liberation Sans',sans-serif;font-size:42.09px;fill:#262626;stroke:#262626;stroke-width:0.35px;stroke-linejoin:round">(a)</text>
<text transform="matrix(0.9578 0 0 1 1095.72 30.19)" style="font-family:'Liberation Sans',sans-serif;font-size:43.32px;fill:#262626;stroke:#262626;stroke-width:0.35px;stroke-linejoin:round">0.3</text>
<text transform="matrix(0.9618 0 0 1 1095.08 295.18)" style="font-family:'Liberation Sans',sans-serif;font-size:44.03px;fill:#262626;stroke:#262626;stroke-width:0.35px;stroke-linejoin:round">0.2</text>
<text transform="matrix(0.9795 0 0 1 1095.07 555.69)" style="font-family:'Liberation Sans',sans-serif;font-size:43.46px;fill:#262626;stroke:#262626;stroke-width:0.35px;stroke-linejoin:round">0.1</text><rect x="1133.36" y="551.13" width="7.88" height="6.32" fill="#ffffff"/><rect x="1145.03" y="551.13" width="7.54" height="6.32" fill="#ffffff"/>
<text transform="matrix(0.9300 0 0 1 1125.48 832.60)" style="font-family:'Liberation Sans',sans-serif;font-size:42.90px;fill:#262626;stroke:#262626;stroke-width:0.35px;stroke-linejoin:round">0</text>
<text transform="matrix(0.9269 0 0 1 1204.64 892.48)" style="font-family:'Liberation Sans',sans-serif;font-size:44.17px;fill:#262626;stroke:#262626;stroke-width:0.35px;stroke-linejoin:round">0</text>
<text transform="matrix(0.9158 0 0 1 1309.24 892.48)" style="font-family:'Liberation Sans',sans-serif;font-size:44.17px;fill:#262626;stroke:#262626;stroke-width:0.35px;stroke-linejoin:round">10</text><rect x="1311.87" y="887.85" width="7.51" height="6.41" fill="#ffffff"/><rect x="1322.97" y="887.85" width="7.19" height="6.41" fill="#ffffff"/>
<text transform="matrix(0.9598 0 0 1 1414.86 892.48)" style="font-family:'Liberation Sans',sans-serif;font-size:44.17px;fill:#262626;stroke:#262626;stroke-width:0.35px;stroke-linejoin:round">20</text>
<text transform="matrix(0.9570 0 0 1 1525.09 892.48)" style="font-family:'Liberation Sans',sans-serif;font-size:44.17px;fill:#262626;stroke:#262626;stroke-width:0.35px;stroke-linejoin:round">30</text>
<text transform="matrix(0.9282 0 0 1 1635.35 892.48)" style="font-family:'Liberation Sans',sans-serif;font-size:44.17px;fill:#262626;stroke:#262626;stroke-width:0.35px;stroke-linejoin:round">40</text>
<text transform="matrix(0.9374 0 0 1 1744.82 892.48)" style="font-family:'Liberation Sans',sans-serif;font-size:44.17px;fill:#262626;stroke:#262626;stroke-width:0.35px;stroke-linejoin:round">50</text>
<text transform="matrix(0.9377 0 0 1 1852.00 892.48)" style="font-family:'Liberation Sans',sans-serif;font-size:44.17px;fill:#262626;stroke:#262626;stroke-width:0.35px;stroke-linejoin:round">60</text>
<text transform="matrix(0.9378 0 0 1 1962.10 892.48)" style="font-family:'Liberation Sans',sans-serif;font-size:44.17px;fill:#262626;stroke:#262626;stroke-width:0.35px;stroke-linejoin:round">70</text>
<text transform="matrix(0.9309 0 0 1 2071.63 892.48)" style="font-family:'Liberation Sans',sans-serif;font-size:44.17px;fill:#262626;stroke:#262626;stroke-width:0.35px;stroke-linejoin:round">80</text>
<text transform="matrix(0.9709 0 0 1 1173.92 69.69)" style="font-family:'Liberation Sans',sans-serif;font-size:42.09px;fill:#262626;stroke:#262626;stroke-width:0.35px;stroke-linejoin:round">(b)</text>
<text transform="matrix(0.9662 0 0 1 514.77 953.70)" style="font-family:'Liberation Sans',sans-serif;font-size:38.40px;fill:#262626;stroke:#262626;stroke-width:0.35px">X (µm)</text>
<text transform="matrix(0.9662 0 0 1 1564.77 951.80)" style="font-family:'Liberation Sans',sans-serif;font-size:38.40px;fill:#262626;stroke:#262626;stroke-width:0.35px">X (µm)</text>
<text transform="matrix(0 -0.9700 1.0000 0 35.50 509.00)" style="fill:#262626;stroke:#262626;stroke-width:0.7px;stroke-linejoin:round"><tspan x="-1.54" y="0.00" style="font-family:'Liberation Serif',serif;font-size:52.00px">Δ</tspan><tspan x="33.66" y="0.00" style="font-family:'Liberation Serif',serif;font-style:italic;font-size:50.60px">R</tspan><tspan x="68.45" y="9.00" style="font-family:'Liberation Serif',serif;font-size:66.00px">/</tspan><tspan x="92.83" y="0.00" style="font-family:'Liberation Serif',serif;font-style:italic;font-size:50.60px">R</tspan></text>
<text transform="matrix(0 -0.8000 1.0000 0 36.40 509.00)" style="fill:#262626;stroke:#262626;stroke-width:0.5px;stroke-linejoin:round"><tspan x="164.85 183.61 225.12" y="0.00" style="font-family:'Liberation Sans',sans-serif;font-size:50.40px">(%)</tspan></text>
<text transform="matrix(1.0196 0 0 1 745.11 199.66)" style="font-family:'Liberation Serif',serif;font-weight:bold;font-style:italic;font-size:53.62px;fill:#e9151b">τ</text>
<text transform="matrix(1.0154 0 0 1 1750.21 189.66)" style="font-family:'Liberation Serif',serif;font-weight:bold;font-style:italic;font-size:53.62px;fill:#e9151b">τ</text>
<text transform="matrix(1.0300 0 0 1 0 258.30)" style="fill:#e9151b"><tspan x="687.30" style="font-family:'Liberation Serif',serif;font-weight:bold;font-size:51.20px">0</tspan><tspan x="716.08" style="font-family:'Liberation Serif',serif;font-weight:bold;font-size:31.00px">.</tspan><tspan x="733.92 749.28" style="font-family:'Liberation Serif',serif;font-weight:bold;font-size:51.20px">4 </tspan><tspan x="777.09 804.73" style="font-family:'Liberation Serif',serif;font-weight:bold;font-style:italic;font-size:52.80px">ps</tspan></text>
<text transform="matrix(1.0300 0 0 1 0 248.30)" style="fill:#e9151b"><tspan x="1662.93" style="font-family:'Liberation Serif',serif;font-weight:bold;font-size:51.20px">0</tspan><tspan x="1691.81" style="font-family:'Liberation Serif',serif;font-weight:bold;font-size:31.00px">.</tspan><tspan x="1710.19 1725.55" style="font-family:'Liberation Serif',serif;font-weight:bold;font-size:51.20px">5 </tspan><tspan x="1752.82 1781.23" style="font-family:'Liberation Serif',serif;font-weight:bold;font-style:italic;font-size:52.80px">ps</tspan></text>
<text transform="matrix(1.0500 0 0 1 0 812.00)" style="fill:#e9151b;stroke:#e9151b;stroke-width:1.0px;stroke-linejoin:round"><tspan x="678.10" style="font-family:'Liberation Serif',serif;font-weight:bold;font-style:italic;font-size:51.60px">0</tspan><tspan x="707.25" style="font-family:'Liberation Serif',serif;font-weight:bold;font-style:italic;font-size:36.00px">.</tspan><tspan x="723.91 756.28 783.59" style="font-family:'Liberation Serif',serif;font-weight:bold;font-style:italic;font-size:51.60px">0ps</tspan></text>
<text transform="matrix(1.0500 0 0 1 0 822.30)" style="fill:#e9151b;stroke:#e9151b;stroke-width:1.0px;stroke-linejoin:round"><tspan x="1635.24" style="font-family:'Liberation Serif',serif;font-weight:bold;font-style:italic;font-size:51.60px">6</tspan><tspan x="1664.97" style="font-family:'Liberation Serif',serif;font-weight:bold;font-style:italic;font-size:36.00px">.</tspan><tspan x="1681.05 1713.42 1740.16" style="font-family:'Liberation Serif',serif;font-weight:bold;font-style:italic;font-size:51.60px">0ps</tspan></text>
</svg>
</body></html>
